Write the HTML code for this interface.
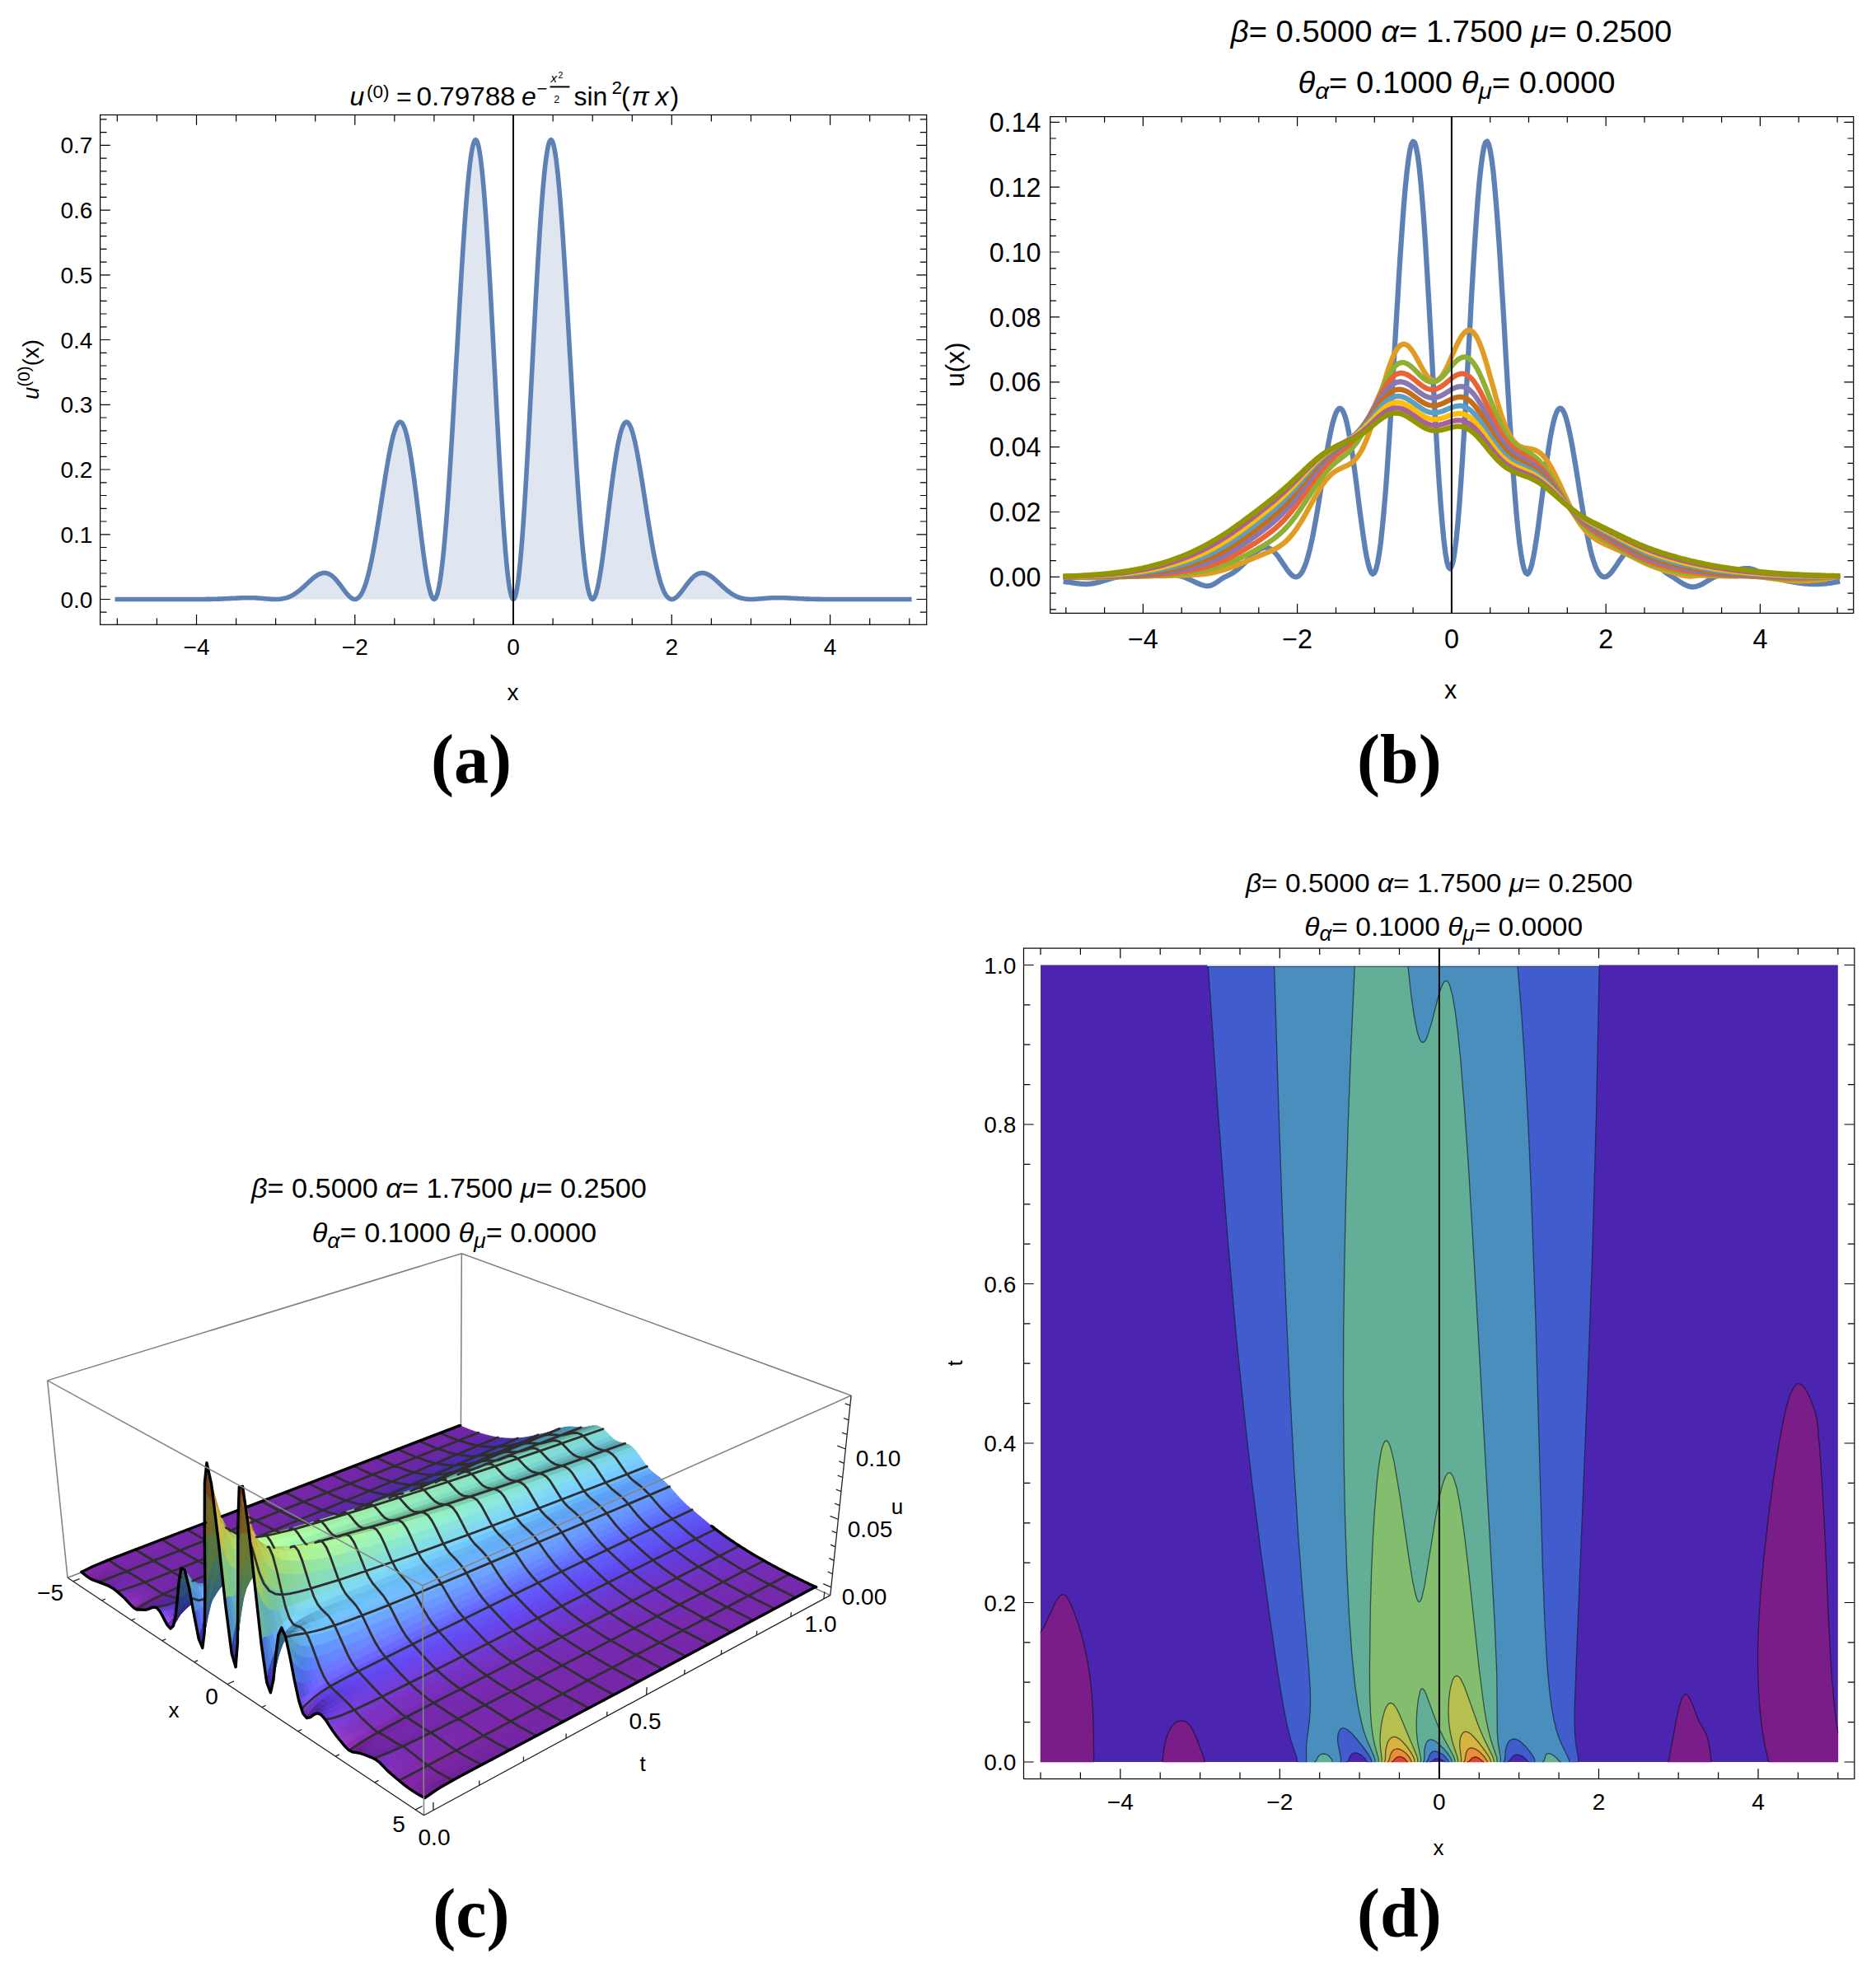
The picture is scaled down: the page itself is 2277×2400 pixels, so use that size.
<!DOCTYPE html>
<html><head><meta charset="utf-8"><title>Figure</title>
<style>html,body{margin:0;padding:0;background:#fff}svg{display:block}.sf path{fill:currentColor;stroke:currentColor;stroke-width:.9;stroke-linejoin:round}</style></head>
<body><svg width="2277" height="2400" viewBox="0 0 2277 2400">
<rect width="2277" height="2400" fill="#fff"/>
<path d="M142.3 727.5l1.3 0 1.2 0 1.2 0 1.2 0 1.2 0 1.2 0 1.2 0 1.2 0 1.2 0 1.2 0 1.2 0 1.2 0 1.2 0 1.2 0 1.2 0 1.2 0 1.2 0 1.2 0 1.2 0 1.2 0 1.2 0 1.2 0 1.2 0 1.2 0 1.2 0 1.2 0 1.2 0 1.2 0 1.2 0 1.2 0 1.2 0 1.2 0 1.2 0 1.2 0 1.2 0 1.2 0 1.2 0 1.2 0 1.2 0 1.2 0 1.2 0 1.2 0 1.2 0 1.2 0 1.2 0 1.2 0 1.2 0 1.2 0 1.2 0 1.2 0 1.2 0 1.2 0 1.2 0 1.2 0 1.2 0 1.2 0 1.2 0 1.3 0 1.2 0 1.2 0 1.2 0 1.2 0 1.2 0 1.2 0 1.2 0 1.2 0 1.2 0 1.2 0 1.2 0 1.2 0 1.2 0 1.2 0 1.2 0 1.2 0 1.2 0 1.2 0 1.2 0 1.2 0 1.2 0 1.2 0 1.2 0 1.2 0 1.2 0 1.2 0 1.2 0 1.2 0 1.2 0 1.2 0 1.2 0 1.2-0.1 1.2 0 1.2 0 1.2 0 1.2 0 1.2 0 1.2-0.1 1.2 0 1.2 0 1.2 0 1.2-0.1 1.2 0 1.2-0.1 1.2 0 1.2 0 1.2-0.1 1.2 0 1.2-0.1 1.2 0 1.2-0.1 1.2-0.1 1.2 0 1.2-0.1 1.2 0 1.2-0.1 1.3-0.1 1.2 0 1.2-0.1 1.2-0.1 1.2 0 1.2-0.1 1.2 0 1.2-0.1 1.2 0 1.2-0.1 1.2 0 1.2-0.1 1.2 0 1.2-0.1 1.2 0 1.2 0 1.2 0 1.2 0 1.2 0 1.2 0 1.2 0 1.2 0 1.2 0.1 1.2 0 1.2 0 1.2 0.1 1.2 0.1 1.2 0 1.2 0.1 1.2 0.1 1.2 0.1 1.2 0.1 1.2 0.1 1.2 0.1 1.2 0.1 1.2 0.1 1.2 0.1 1.2 0.1 1.2 0.1 1.2 0.1 1.2 0.1 1.2 0.1 1.2 0 1.2 0.1 1.2 0 1.2 0 1.2 0 1.2 0 1.2-0.1 1.2-0.1 1.2-0.1 1.2-0.2 1.2-0.2 1.2-0.2 1.2-0.3 1.2-0.3 1.2-0.3 1.3-0.4 1.2-0.5 1.2-0.5 1.2-0.5 1.2-0.6 1.2-0.6 1.2-0.7 1.2-0.8 1.2-0.8 1.2-0.8 1.2-0.9 1.2-0.9 1.2-0.9 1.2-1 1.2-1.1 1.2-1 1.2-1.1 1.2-1.1 1.2-1.1 1.2-1.1 1.2-1.1 1.2-1.2 1.2-1.1 1.2-1.1 1.2-1 1.2-1.1 1.2-1 1.2-0.9 1.2-0.9 1.2-0.8 1.2-0.8 1.2-0.7 1.2-0.6 1.2-0.5 1.2-0.4 1.2-0.3 1.2-0.2 1.2-0.1 1.2 0 1.2 0.2 1.2 0.3 1.2 0.4 1.2 0.5 1.2 0.6 1.2 0.8 1.2 0.9 1.2 1 1.2 1.1 1.2 1.2 1.2 1.3 1.2 1.4 1.2 1.5 1.2 1.5 1.2 1.6 1.2 1.6 1.2 1.6 1.2 1.7 1.3 1.6 1.2 1.6 1.2 1.5 1.2 1.5 1.2 1.4 1.2 1.2 1.2 1.1 1.2 1 1.2 0.8 1.2 0.6 1.2 0.4 1.2 0.1 1.2-0.1 1.2-0.5 1.2-0.7 1.2-1 1.2-1.4 1.2-1.7 1.2-2 1.2-2.5 1.2-2.8 1.2-3.2 1.2-3.5 1.2-4 1.2-4.3 1.2-4.7 1.2-5.1 1.2-5.5 1.2-5.7 1.2-6.1 1.2-6.4 1.2-6.7 1.2-7 1.2-7.1 1.2-7.4 1.2-7.5 1.2-7.7 1.2-7.7 1.2-7.8 1.2-7.8 1.2-7.7 1.2-7.6 1.2-7.5 1.2-7.3 1.2-7.1 1.2-6.7 1.2-6.5 1.2-6.1 1.2-5.6 1.2-5.2 1.2-4.7 1.2-4.1 1.2-3.5 1.2-2.9 1.2-2.2 1.2-1.6 1.2-0.9 1.3-0.1 1.2 0.6 1.2 1.3 1.2 2.1 1.2 2.8 1.2 3.6 1.2 4.3 1.2 5 1.2 5.6 1.2 6.3 1.2 7 1.2 7.5 1.2 8 1.2 8.4 1.2 8.9 1.2 9.2 1.2 9.5 1.2 9.6 1.2 9.8 1.2 9.9 1.2 9.8 1.2 9.7 1.2 9.5 1.2 9.1 1.2 8.8 1.2 8.4 1.2 7.7 1.2 7.2 1.2 6.4 1.2 5.6 1.2 4.7 1.2 3.8 1.2 2.8 1.2 1.7 1.2 0.6 1.2-0.6 1.2-1.8 1.2-3.1 1.2-4.3 1.2-5.6 1.2-6.9 1.2-8.2 1.2-9.5 1.2-10.8 1.2-11.9 1.2-13.2 1.2-14.3 1.2-15.4 1.2-16.4 1.2-17.4 1.2-18.2 1.2-19 1.2-19.6 1.2-20.3 1.2-20.6 1.2-21 1.2-21.2 1.3-21.3 1.2-21.2 1.2-21.1 1.2-20.8 1.2-20.3 1.2-19.8 1.2-19.1 1.2-18.2 1.2-17.3 1.2-16.2 1.2-15.1 1.2-13.8 1.2-12.4 1.2-10.9 1.2-9.4 1.2-7.8 1.2-6.1 1.2-4.3 1.2-2.6 1.2-0.8 1.2 1.1 1.2 2.8 1.2 4.7 1.2 6.5 1.2 8.2 1.2 9.9 1.2 11.6 1.2 13.2 1.2 14.6 1.2 16.1 1.2 17.3 1.2 18.6 1.2 19.6 1.2 20.5 1.2 21.3 1.2 22 1.2 22.5 1.2 22.8 1.2 23.1 1.2 23 1.2 23 1.2 22.6 1.2 22.3 1.2 21.6 1.2 20.9 1.2 20 1.2 18.9 1.2 17.8 1.2 16.5 1.2 15.1 1.2 13.6 1.2 12 1.2 10.2 1.2 8.5 1.2 6.7 1.2 4.8 1.2 2.9 1.2 1 1.3-1 1.2-2.9 1.2-4.8 1.2-6.7 1.2-8.5 1.2-10.2 1.2-12 1.2-13.6 1.2-15.1 1.2-16.5 1.2-17.8 1.2-18.9 1.2-20 1.2-20.9 1.2-21.6 1.2-22.3 1.2-22.6 1.2-23 1.2-23 1.2-23.1 1.2-22.8 1.2-22.5 1.2-22 1.2-21.3 1.2-20.5 1.2-19.6 1.2-18.6 1.2-17.3 1.2-16.1 1.2-14.6 1.2-13.2 1.2-11.6 1.2-9.9 1.2-8.2 1.2-6.5 1.2-4.7 1.2-2.8 1.2-1.1 1.2 0.8 1.2 2.6 1.2 4.3 1.2 6.1 1.2 7.8 1.2 9.4 1.2 10.9 1.2 12.4 1.2 13.8 1.2 15.1 1.2 16.2 1.2 17.3 1.2 18.2 1.2 19.1 1.2 19.8 1.2 20.3 1.2 20.8 1.2 21.1 1.2 21.2 1.3 21.3 1.2 21.2 1.2 21 1.2 20.6 1.2 20.3 1.2 19.6 1.2 19 1.2 18.2 1.2 17.4 1.2 16.4 1.2 15.4 1.2 14.3 1.2 13.2 1.2 11.9 1.2 10.8 1.2 9.5 1.2 8.2 1.2 6.9 1.2 5.6 1.2 4.3 1.2 3.1 1.2 1.8 1.2 0.6 1.2-0.6 1.2-1.7 1.2-2.8 1.2-3.8 1.2-4.7 1.2-5.6 1.2-6.4 1.2-7.2 1.2-7.7 1.2-8.4 1.2-8.8 1.2-9.1 1.2-9.5 1.2-9.7 1.2-9.8 1.2-9.9 1.2-9.8 1.2-9.6 1.2-9.5 1.2-9.2 1.2-8.9 1.2-8.4 1.2-8 1.2-7.5 1.2-7 1.2-6.3 1.2-5.6 1.2-5 1.2-4.3 1.2-3.6 1.2-2.8 1.2-2.1 1.2-1.3 1.2-0.6 1.3 0.1 1.2 0.9 1.2 1.6 1.2 2.2 1.2 2.9 1.2 3.5 1.2 4.1 1.2 4.7 1.2 5.2 1.2 5.6 1.2 6.1 1.2 6.5 1.2 6.7 1.2 7.1 1.2 7.3 1.2 7.5 1.2 7.6 1.2 7.7 1.2 7.8 1.2 7.8 1.2 7.7 1.2 7.7 1.2 7.5 1.2 7.4 1.2 7.1 1.2 7 1.2 6.7 1.2 6.4 1.2 6.1 1.2 5.7 1.2 5.5 1.2 5.1 1.2 4.7 1.2 4.3 1.2 4 1.2 3.5 1.2 3.2 1.2 2.8 1.2 2.5 1.2 2 1.2 1.7 1.2 1.4 1.2 1 1.2 0.7 1.2 0.5 1.2 0.1 1.2-0.1 1.2-0.4 1.2-0.6 1.2-0.8 1.2-1 1.2-1.1 1.2-1.2 1.2-1.4 1.2-1.5 1.2-1.5 1.2-1.6 1.3-1.6 1.2-1.7 1.2-1.6 1.2-1.6 1.2-1.6 1.2-1.5 1.2-1.5 1.2-1.4 1.2-1.3 1.2-1.2 1.2-1.1 1.2-1 1.2-0.9 1.2-0.8 1.2-0.6 1.2-0.5 1.2-0.4 1.2-0.3 1.2-0.2 1.2 0 1.2 0.1 1.2 0.2 1.2 0.3 1.2 0.4 1.2 0.5 1.2 0.6 1.2 0.7 1.2 0.8 1.2 0.8 1.2 0.9 1.2 0.9 1.2 1 1.2 1.1 1.2 1 1.2 1.1 1.2 1.1 1.2 1.2 1.2 1.1 1.2 1.1 1.2 1.1 1.2 1.1 1.2 1.1 1.2 1 1.2 1.1 1.2 1 1.2 0.9 1.2 0.9 1.2 0.9 1.2 0.8 1.2 0.8 1.2 0.8 1.2 0.7 1.2 0.6 1.2 0.6 1.2 0.5 1.2 0.5 1.2 0.5 1.3 0.4 1.2 0.3 1.2 0.3 1.2 0.3 1.2 0.2 1.2 0.2 1.2 0.2 1.2 0.1 1.2 0.1 1.2 0.1 1.2 0 1.2 0 1.2 0 1.2 0 1.2-0.1 1.2 0 1.2-0.1 1.2-0.1 1.2-0.1 1.2-0.1 1.2-0.1 1.2-0.1 1.2-0.1 1.2-0.1 1.2-0.1 1.2-0.1 1.2-0.1 1.2-0.1 1.2-0.1 1.2-0.1 1.2 0 1.2-0.1 1.2-0.1 1.2 0 1.2 0 1.2-0.1 1.2 0 1.2 0 1.2 0 1.2 0 1.2 0 1.2 0 1.2 0 1.2 0 1.2 0.1 1.2 0 1.2 0.1 1.2 0 1.2 0.1 1.2 0 1.2 0.1 1.2 0 1.2 0.1 1.2 0 1.2 0.1 1.2 0.1 1.2 0 1.3 0.1 1.2 0.1 1.2 0 1.2 0.1 1.2 0 1.2 0.1 1.2 0.1 1.2 0 1.2 0.1 1.2 0 1.2 0.1 1.2 0 1.2 0 1.2 0.1 1.2 0 1.2 0.1 1.2 0 1.2 0 1.2 0 1.2 0.1 1.2 0 1.2 0 1.2 0 1.2 0 1.2 0 1.2 0.1 1.2 0 1.2 0 1.2 0 1.2 0 1.2 0 1.2 0 1.2 0 1.2 0 1.2 0 1.2 0 1.2 0 1.2 0 1.2 0 1.2 0 1.2 0 1.2 0 1.2 0 1.2 0 1.2 0 1.2 0 1.2 0 1.2 0 1.2 0 1.2 0 1.2 0 1.2 0 1.2 0 1.2 0 1.2 0 1.2 0 1.2 0 1.3 0 1.2 0 1.2 0 1.2 0 1.2 0 1.2 0 1.2 0 1.2 0 1.2 0 1.2 0 1.2 0 1.2 0 1.2 0 1.2 0 1.2 0 1.2 0 1.2 0 1.2 0 1.2 0 1.2 0 1.2 0 1.2 0 1.2 0 1.2 0 1.2 0 1.2 0 1.2 0 1.2 0 1.2 0 1.2 0 1.2 0 1.2 0 1.2 0 1.2 0 1.2 0 1.2 0 1.2 0 1.2 0 1.2 0 1.2 0 1.2 0 1.2 0 1.2 0 1.2 0 1.2 0 1.2 0 1.2 0 1.2 0 1.2 0 1.2 0 1.2 0 1.2 0 1.2 0 1.2 0 1.2 0 1.2 0 1.2 0 1.2 0z" fill="#5E81B5" fill-opacity="0.2"/>
<path d="M142.3 727.5l1.3 0 1.2 0 1.2 0 1.2 0 1.2 0 1.2 0 1.2 0 1.2 0 1.2 0 1.2 0 1.2 0 1.2 0 1.2 0 1.2 0 1.2 0 1.2 0 1.2 0 1.2 0 1.2 0 1.2 0 1.2 0 1.2 0 1.2 0 1.2 0 1.2 0 1.2 0 1.2 0 1.2 0 1.2 0 1.2 0 1.2 0 1.2 0 1.2 0 1.2 0 1.2 0 1.2 0 1.2 0 1.2 0 1.2 0 1.2 0 1.2 0 1.2 0 1.2 0 1.2 0 1.2 0 1.2 0 1.2 0 1.2 0 1.2 0 1.2 0 1.2 0 1.2 0 1.2 0 1.2 0 1.2 0 1.2 0 1.2 0 1.3 0 1.2 0 1.2 0 1.2 0 1.2 0 1.2 0 1.2 0 1.2 0 1.2 0 1.2 0 1.2 0 1.2 0 1.2 0 1.2 0 1.2 0 1.2 0 1.2 0 1.2 0 1.2 0 1.2 0 1.2 0 1.2 0 1.2 0 1.2 0 1.2 0 1.2 0 1.2 0 1.2 0 1.2 0 1.2 0 1.2 0 1.2 0 1.2-0.1 1.2 0 1.2 0 1.2 0 1.2 0 1.2 0 1.2-0.1 1.2 0 1.2 0 1.2 0 1.2-0.1 1.2 0 1.2-0.1 1.2 0 1.2 0 1.2-0.1 1.2 0 1.2-0.1 1.2 0 1.2-0.1 1.2-0.1 1.2 0 1.2-0.1 1.2 0 1.2-0.1 1.3-0.1 1.2 0 1.2-0.1 1.2-0.1 1.2 0 1.2-0.1 1.2 0 1.2-0.1 1.2 0 1.2-0.1 1.2 0 1.2-0.1 1.2 0 1.2-0.1 1.2 0 1.2 0 1.2 0 1.2 0 1.2 0 1.2 0 1.2 0 1.2 0 1.2 0.1 1.2 0 1.2 0 1.2 0.1 1.2 0.1 1.2 0 1.2 0.1 1.2 0.1 1.2 0.1 1.2 0.1 1.2 0.1 1.2 0.1 1.2 0.1 1.2 0.1 1.2 0.1 1.2 0.1 1.2 0.1 1.2 0.1 1.2 0.1 1.2 0.1 1.2 0 1.2 0.1 1.2 0 1.2 0 1.2 0 1.2 0 1.2-0.1 1.2-0.1 1.2-0.1 1.2-0.2 1.2-0.2 1.2-0.2 1.2-0.3 1.2-0.3 1.2-0.3 1.3-0.4 1.2-0.5 1.2-0.5 1.2-0.5 1.2-0.6 1.2-0.6 1.2-0.7 1.2-0.8 1.2-0.8 1.2-0.8 1.2-0.9 1.2-0.9 1.2-0.9 1.2-1 1.2-1.1 1.2-1 1.2-1.1 1.2-1.1 1.2-1.1 1.2-1.1 1.2-1.1 1.2-1.2 1.2-1.1 1.2-1.1 1.2-1 1.2-1.1 1.2-1 1.2-0.9 1.2-0.9 1.2-0.8 1.2-0.8 1.2-0.7 1.2-0.6 1.2-0.5 1.2-0.4 1.2-0.3 1.2-0.2 1.2-0.1 1.2 0 1.2 0.2 1.2 0.3 1.2 0.4 1.2 0.5 1.2 0.6 1.2 0.8 1.2 0.9 1.2 1 1.2 1.1 1.2 1.2 1.2 1.3 1.2 1.4 1.2 1.5 1.2 1.5 1.2 1.6 1.2 1.6 1.2 1.6 1.2 1.7 1.3 1.6 1.2 1.6 1.2 1.5 1.2 1.5 1.2 1.4 1.2 1.2 1.2 1.1 1.2 1 1.2 0.8 1.2 0.6 1.2 0.4 1.2 0.1 1.2-0.1 1.2-0.5 1.2-0.7 1.2-1 1.2-1.4 1.2-1.7 1.2-2 1.2-2.5 1.2-2.8 1.2-3.2 1.2-3.5 1.2-4 1.2-4.3 1.2-4.7 1.2-5.1 1.2-5.5 1.2-5.7 1.2-6.1 1.2-6.4 1.2-6.7 1.2-7 1.2-7.1 1.2-7.4 1.2-7.5 1.2-7.7 1.2-7.7 1.2-7.8 1.2-7.8 1.2-7.7 1.2-7.6 1.2-7.5 1.2-7.3 1.2-7.1 1.2-6.7 1.2-6.5 1.2-6.1 1.2-5.6 1.2-5.2 1.2-4.7 1.2-4.1 1.2-3.5 1.2-2.9 1.2-2.2 1.2-1.6 1.2-0.9 1.3-0.1 1.2 0.6 1.2 1.3 1.2 2.1 1.2 2.8 1.2 3.6 1.2 4.3 1.2 5 1.2 5.6 1.2 6.3 1.2 7 1.2 7.5 1.2 8 1.2 8.4 1.2 8.9 1.2 9.2 1.2 9.5 1.2 9.6 1.2 9.8 1.2 9.9 1.2 9.8 1.2 9.7 1.2 9.5 1.2 9.1 1.2 8.8 1.2 8.4 1.2 7.7 1.2 7.2 1.2 6.4 1.2 5.6 1.2 4.7 1.2 3.8 1.2 2.8 1.2 1.7 1.2 0.6 1.2-0.6 1.2-1.8 1.2-3.1 1.2-4.3 1.2-5.6 1.2-6.9 1.2-8.2 1.2-9.5 1.2-10.8 1.2-11.9 1.2-13.2 1.2-14.3 1.2-15.4 1.2-16.4 1.2-17.4 1.2-18.2 1.2-19 1.2-19.6 1.2-20.3 1.2-20.6 1.2-21 1.2-21.2 1.3-21.3 1.2-21.2 1.2-21.1 1.2-20.8 1.2-20.3 1.2-19.8 1.2-19.1 1.2-18.2 1.2-17.3 1.2-16.2 1.2-15.1 1.2-13.8 1.2-12.4 1.2-10.9 1.2-9.4 1.2-7.8 1.2-6.1 1.2-4.3 1.2-2.6 1.2-0.8 1.2 1.1 1.2 2.8 1.2 4.7 1.2 6.5 1.2 8.2 1.2 9.9 1.2 11.6 1.2 13.2 1.2 14.6 1.2 16.1 1.2 17.3 1.2 18.6 1.2 19.6 1.2 20.5 1.2 21.3 1.2 22 1.2 22.5 1.2 22.8 1.2 23.1 1.2 23 1.2 23 1.2 22.6 1.2 22.3 1.2 21.6 1.2 20.9 1.2 20 1.2 18.9 1.2 17.8 1.2 16.5 1.2 15.1 1.2 13.6 1.2 12 1.2 10.2 1.2 8.5 1.2 6.7 1.2 4.8 1.2 2.9 1.2 1 1.3-1 1.2-2.9 1.2-4.8 1.2-6.7 1.2-8.5 1.2-10.2 1.2-12 1.2-13.6 1.2-15.1 1.2-16.5 1.2-17.8 1.2-18.9 1.2-20 1.2-20.9 1.2-21.6 1.2-22.3 1.2-22.6 1.2-23 1.2-23 1.2-23.1 1.2-22.8 1.2-22.5 1.2-22 1.2-21.3 1.2-20.5 1.2-19.6 1.2-18.6 1.2-17.3 1.2-16.1 1.2-14.6 1.2-13.2 1.2-11.6 1.2-9.9 1.2-8.2 1.2-6.5 1.2-4.7 1.2-2.8 1.2-1.1 1.2 0.8 1.2 2.6 1.2 4.3 1.2 6.1 1.2 7.8 1.2 9.4 1.2 10.9 1.2 12.4 1.2 13.8 1.2 15.1 1.2 16.2 1.2 17.3 1.2 18.2 1.2 19.1 1.2 19.8 1.2 20.3 1.2 20.8 1.2 21.1 1.2 21.2 1.3 21.3 1.2 21.2 1.2 21 1.2 20.6 1.2 20.3 1.2 19.6 1.2 19 1.2 18.2 1.2 17.4 1.2 16.4 1.2 15.4 1.2 14.3 1.2 13.2 1.2 11.9 1.2 10.8 1.2 9.5 1.2 8.2 1.2 6.9 1.2 5.6 1.2 4.3 1.2 3.1 1.2 1.8 1.2 0.6 1.2-0.6 1.2-1.7 1.2-2.8 1.2-3.8 1.2-4.7 1.2-5.6 1.2-6.4 1.2-7.2 1.2-7.7 1.2-8.4 1.2-8.8 1.2-9.1 1.2-9.5 1.2-9.7 1.2-9.8 1.2-9.9 1.2-9.8 1.2-9.6 1.2-9.5 1.2-9.2 1.2-8.9 1.2-8.4 1.2-8 1.2-7.5 1.2-7 1.2-6.3 1.2-5.6 1.2-5 1.2-4.3 1.2-3.6 1.2-2.8 1.2-2.1 1.2-1.3 1.2-0.6 1.3 0.1 1.2 0.9 1.2 1.6 1.2 2.2 1.2 2.9 1.2 3.5 1.2 4.1 1.2 4.7 1.2 5.2 1.2 5.6 1.2 6.1 1.2 6.5 1.2 6.7 1.2 7.1 1.2 7.3 1.2 7.5 1.2 7.6 1.2 7.7 1.2 7.8 1.2 7.8 1.2 7.7 1.2 7.7 1.2 7.5 1.2 7.4 1.2 7.1 1.2 7 1.2 6.7 1.2 6.4 1.2 6.1 1.2 5.7 1.2 5.5 1.2 5.1 1.2 4.7 1.2 4.3 1.2 4 1.2 3.5 1.2 3.2 1.2 2.8 1.2 2.5 1.2 2 1.2 1.7 1.2 1.4 1.2 1 1.2 0.7 1.2 0.5 1.2 0.1 1.2-0.1 1.2-0.4 1.2-0.6 1.2-0.8 1.2-1 1.2-1.1 1.2-1.2 1.2-1.4 1.2-1.5 1.2-1.5 1.2-1.6 1.3-1.6 1.2-1.7 1.2-1.6 1.2-1.6 1.2-1.6 1.2-1.5 1.2-1.5 1.2-1.4 1.2-1.3 1.2-1.2 1.2-1.1 1.2-1 1.2-0.9 1.2-0.8 1.2-0.6 1.2-0.5 1.2-0.4 1.2-0.3 1.2-0.2 1.2 0 1.2 0.1 1.2 0.2 1.2 0.3 1.2 0.4 1.2 0.5 1.2 0.6 1.2 0.7 1.2 0.8 1.2 0.8 1.2 0.9 1.2 0.9 1.2 1 1.2 1.1 1.2 1 1.2 1.1 1.2 1.1 1.2 1.2 1.2 1.1 1.2 1.1 1.2 1.1 1.2 1.1 1.2 1.1 1.2 1 1.2 1.1 1.2 1 1.2 0.9 1.2 0.9 1.2 0.9 1.2 0.8 1.2 0.8 1.2 0.8 1.2 0.7 1.2 0.6 1.2 0.6 1.2 0.5 1.2 0.5 1.2 0.5 1.3 0.4 1.2 0.3 1.2 0.3 1.2 0.3 1.2 0.2 1.2 0.2 1.2 0.2 1.2 0.1 1.2 0.1 1.2 0.1 1.2 0 1.2 0 1.2 0 1.2 0 1.2-0.1 1.2 0 1.2-0.1 1.2-0.1 1.2-0.1 1.2-0.1 1.2-0.1 1.2-0.1 1.2-0.1 1.2-0.1 1.2-0.1 1.2-0.1 1.2-0.1 1.2-0.1 1.2-0.1 1.2-0.1 1.2 0 1.2-0.1 1.2-0.1 1.2 0 1.2 0 1.2-0.1 1.2 0 1.2 0 1.2 0 1.2 0 1.2 0 1.2 0 1.2 0 1.2 0 1.2 0.1 1.2 0 1.2 0.1 1.2 0 1.2 0.1 1.2 0 1.2 0.1 1.2 0 1.2 0.1 1.2 0 1.2 0.1 1.2 0.1 1.2 0 1.3 0.1 1.2 0.1 1.2 0 1.2 0.1 1.2 0 1.2 0.1 1.2 0.1 1.2 0 1.2 0.1 1.2 0 1.2 0.1 1.2 0 1.2 0 1.2 0.1 1.2 0 1.2 0.1 1.2 0 1.2 0 1.2 0 1.2 0.1 1.2 0 1.2 0 1.2 0 1.2 0 1.2 0 1.2 0.1 1.2 0 1.2 0 1.2 0 1.2 0 1.2 0 1.2 0 1.2 0 1.2 0 1.2 0 1.2 0 1.2 0 1.2 0 1.2 0 1.2 0 1.2 0 1.2 0 1.2 0 1.2 0 1.2 0 1.2 0 1.2 0 1.2 0 1.2 0 1.2 0 1.2 0 1.2 0 1.2 0 1.2 0 1.2 0 1.2 0 1.2 0 1.3 0 1.2 0 1.2 0 1.2 0 1.2 0 1.2 0 1.2 0 1.2 0 1.2 0 1.2 0 1.2 0 1.2 0 1.2 0 1.2 0 1.2 0 1.2 0 1.2 0 1.2 0 1.2 0 1.2 0 1.2 0 1.2 0 1.2 0 1.2 0 1.2 0 1.2 0 1.2 0 1.2 0 1.2 0 1.2 0 1.2 0 1.2 0 1.2 0 1.2 0 1.2 0 1.2 0 1.2 0 1.2 0 1.2 0 1.2 0 1.2 0 1.2 0 1.2 0 1.2 0 1.2 0 1.2 0 1.2 0 1.2 0 1.2 0 1.2 0 1.2 0 1.2 0 1.2 0 1.2 0 1.2 0 1.2 0 1.2 0 1.2 0" fill="none" stroke="#5E81B5" stroke-width="5.6" stroke-linejoin="round" stroke-linecap="square"/>
<path d="M623.0 139.5V758.3" stroke="#000" stroke-width="2"/>
<path d="M238.5 758.3v-12.2M238.5 139.5v12.2M430.8 758.3v-12.2M430.8 139.5v12.2M623.0 758.3v-12.2M623.0 139.5v12.2M815.3 758.3v-12.2M815.3 139.5v12.2M1007.6 758.3v-12.2M1007.6 139.5v12.2M142.3 758.3v-7.9M142.3 139.5v7.9M190.4 758.3v-7.9M190.4 139.5v7.9M286.6 758.3v-7.9M286.6 139.5v7.9M334.6 758.3v-7.9M334.6 139.5v7.9M382.7 758.3v-7.9M382.7 139.5v7.9M478.8 758.3v-7.9M478.8 139.5v7.9M526.9 758.3v-7.9M526.9 139.5v7.9M575.0 758.3v-7.9M575.0 139.5v7.9M671.1 758.3v-7.9M671.1 139.5v7.9M719.2 758.3v-7.9M719.2 139.5v7.9M767.3 758.3v-7.9M767.3 139.5v7.9M863.4 758.3v-7.9M863.4 139.5v7.9M911.5 758.3v-7.9M911.5 139.5v7.9M959.5 758.3v-7.9M959.5 139.5v7.9M1055.7 758.3v-7.9M1055.7 139.5v7.9M1103.8 758.3v-7.9M1103.8 139.5v7.9M121.6 727.5h12.2M1124.7 727.5h-12.2M121.6 648.8h12.2M1124.7 648.8h-12.2M121.6 570.0h12.2M1124.7 570.0h-12.2M121.6 491.3h12.2M1124.7 491.3h-12.2M121.6 412.5h12.2M1124.7 412.5h-12.2M121.6 333.8h12.2M1124.7 333.8h-12.2M121.6 255.1h12.2M1124.7 255.1h-12.2M121.6 176.3h12.2M1124.7 176.3h-12.2M121.6 743.2h7.9M1124.7 743.2h-7.9M121.6 711.8h7.9M1124.7 711.8h-7.9M121.6 696.0h7.9M1124.7 696.0h-7.9M121.6 680.3h7.9M1124.7 680.3h-7.9M121.6 664.5h7.9M1124.7 664.5h-7.9M121.6 633.0h7.9M1124.7 633.0h-7.9M121.6 617.3h7.9M1124.7 617.3h-7.9M121.6 601.5h7.9M1124.7 601.5h-7.9M121.6 585.8h7.9M1124.7 585.8h-7.9M121.6 554.3h7.9M1124.7 554.3h-7.9M121.6 538.5h7.9M1124.7 538.5h-7.9M121.6 522.8h7.9M1124.7 522.8h-7.9M121.6 507.0h7.9M1124.7 507.0h-7.9M121.6 475.5h7.9M1124.7 475.5h-7.9M121.6 459.8h7.9M1124.7 459.8h-7.9M121.6 444.0h7.9M1124.7 444.0h-7.9M121.6 428.3h7.9M1124.7 428.3h-7.9M121.6 396.8h7.9M1124.7 396.8h-7.9M121.6 381.0h7.9M1124.7 381.0h-7.9M121.6 365.3h7.9M1124.7 365.3h-7.9M121.6 349.5h7.9M1124.7 349.5h-7.9M121.6 318.1h7.9M1124.7 318.1h-7.9M121.6 302.3h7.9M1124.7 302.3h-7.9M121.6 286.6h7.9M1124.7 286.6h-7.9M121.6 270.8h7.9M1124.7 270.8h-7.9M121.6 239.3h7.9M1124.7 239.3h-7.9M121.6 223.6h7.9M1124.7 223.6h-7.9M121.6 207.8h7.9M1124.7 207.8h-7.9M121.6 192.1h7.9M1124.7 192.1h-7.9M121.6 160.6h7.9M1124.7 160.6h-7.9M121.6 144.8h7.9M1124.7 144.8h-7.9" stroke="#000" stroke-width="1.20" fill="none"/>
<rect x="121.6" y="139.5" width="1003.1" height="618.8" fill="none" stroke="#000" stroke-width="1.20"/>
<g font-family="Liberation Sans, sans-serif" font-size="28.0" text-anchor="middle">
<text x="238.5" y="795.3">−4</text>
<text x="430.8" y="795.3">−2</text>
<text x="623.0" y="795.3">0</text>
<text x="815.3" y="795.3">2</text>
<text x="1007.6" y="795.3">4</text>
</g>
<g font-family="Liberation Sans, sans-serif" font-size="28.0" text-anchor="end">
<text x="112.4" y="737.5">0.0</text>
<text x="112.4" y="658.8">0.1</text>
<text x="112.4" y="580.0">0.2</text>
<text x="112.4" y="501.3">0.3</text>
<text x="112.4" y="422.6">0.4</text>
<text x="112.4" y="343.8">0.5</text>
<text x="112.4" y="265.1">0.6</text>
<text x="112.4" y="186.3">0.7</text>
</g>
<text x="622.5" y="850" font-family="Liberation Sans, sans-serif" font-size="28" text-anchor="middle">x</text>
<text transform="translate(47.2 448.5) rotate(-90)" font-family="Liberation Sans, sans-serif" font-size="27.7" text-anchor="middle"><tspan font-style="italic">u</tspan><tspan dy="-11" font-size="20.6">(0)</tspan><tspan dy="11">(x)</tspan></text>
<text x="424.5" y="128.2" font-family="Liberation Sans, sans-serif" font-size="32.0" font-style="italic">u</text>
<text x="445.0" y="118.6" font-family="Liberation Sans, sans-serif" font-size="22.5">(0)</text>
<text x="481.0" y="128.2" font-family="Liberation Sans, sans-serif" font-size="32.0">=</text>
<text transform="translate(505.4 128.2) scale(1.04 1)" font-family="Liberation Sans, sans-serif" font-size="32">0.79788</text>
<text x="633.0" y="128.2" font-family="Liberation Sans, sans-serif" font-size="32.0" font-style="italic">e</text>
<text x="651.5" y="114.5" font-family="Liberation Sans, sans-serif" font-size="22.0">−</text>
<text x="668.6" y="99.9" font-family="Liberation Sans, sans-serif" font-size="15.0" font-style="italic">x</text>
<text x="677.6" y="94.6" font-family="Liberation Sans, sans-serif" font-size="10.5">2</text>
<path d="M667.5 105.4H691.4" stroke="#000" stroke-width="2"/>
<text x="672.2" y="124.6" font-family="Liberation Sans, sans-serif" font-size="12.5">2</text>
<text x="696.5" y="128.2" font-family="Liberation Sans, sans-serif" font-size="32.0">sin</text>
<text x="742.5" y="113.8" font-family="Liberation Sans, sans-serif" font-size="22.5">2</text>
<text x="754.0" y="128.2" font-family="Liberation Sans, sans-serif" font-size="32.0">(</text>
<text x="766.5" y="128.2" font-family="Liberation Sans, sans-serif" font-size="32.0" font-style="italic">π</text>
<text x="795.5" y="128.2" font-family="Liberation Sans, sans-serif" font-size="32.0" font-style="italic">x</text>
<text x="813.5" y="128.2" font-family="Liberation Sans, sans-serif" font-size="32.0">)</text>
<path d="M1293.8 706.3l1.8 0.2 1.9 0.2 1.9 0.3 1.8 0.3 1.9 0.2 1.9 0.3 1.9 0.3 1.8 0.3 1.9 0.2 1.9 0.2 1.8 0.1 1.9 0.1 1.9 0.1 1.9-0.1 1.8-0.1 1.9-0.2 1.9-0.2 1.9-0.4 1.8-0.3 1.9-0.5 1.9-0.4 1.8-0.5 1.9-0.5 1.9-0.6 1.9-0.5 1.8-0.6 1.9-0.6 1.9-0.5 1.9-0.6 1.8-0.5 1.9-0.5 1.9-0.5 1.8-0.4 1.9-0.4 1.9-0.5 1.9-0.4 1.8-0.5 1.9-0.4 1.9-0.5 1.9-0.5 1.8-0.5 1.9-0.5 1.9-0.4 1.8-0.5 1.9-0.4 1.9-0.5 1.9-0.4 1.8-0.3 1.9-0.4 1.9-0.3 1.9-0.2 1.8-0.2 1.9-0.2 1.9-0.1 1.8 0 1.9 0 1.9 0.1 1.9 0.1 1.8 0.2 1.9 0.3 1.9 0.3 1.9 0.3 1.8 0.4 1.9 0.4 1.9 0.4 1.8 0.4 1.9 0.5 1.9 0.5 1.9 0.4 1.8 0.5 1.9 0.5 1.9 0.4 1.8 0.5 1.9 0.4 1.9 0.5 1.9 0.6 1.8 0.6 1.9 0.8 1.9 0.8 1.9 0.9 1.8 0.8 1.9 0.9 1.9 1 1.8 0.8 1.9 0.9 1.9 0.8 1.9 0.8 1.8 0.6 1.9 0.6 1.9 0.5 1.9 0.3 1.8 0.1 1.9-0.2 1.9-0.5 1.8-0.8 1.9-0.9 1.9-1.2 1.9-1.2 1.8-1.3 1.9-1.3 1.9-1.3 1.9-1.2 1.8-1.1 1.9-0.8 1.9-0.9 1.8-0.9 1.9-1 1.9-1.1 1.9-1.2 1.8-1.4 1.9-1.4 1.9-1.5 1.9-1.7 1.8-1.7 1.9-1.8 1.9-1.8 1.8-1.9 1.9-1.9 1.9-1.9 1.9-1.9 1.8-1.8 1.9-1.8 1.9-1.6 1.9-1.5 1.8-1.3 1.9-1.1 1.9-0.8 1.8-0.7 1.9-0.3 1.9 0 1.9 0.4 1.8 0.7 1.9 1.1 1.9 1.4 1.9 1.7 1.8 2 1.9 2.2 1.9 2.5 1.8 2.7 1.9 2.8 1.9 2.8 1.9 2.8 1.8 2.8 1.9 2.5 1.9 2.3 1.8 2 1.9 1.6 1.9 1 1.9 0.4 1.8-0.3 1.9-1.1 1.9-1.8 1.9-2.6 1.8-3.6 1.9-4.4 1.9-5.4 1.8-6.3 1.9-7.2 1.9-8.1 1.9-8.9 1.8-9.7 1.9-10.4 1.9-10.9 1.9-11.4 1.8-11.6 1.9-11.8 1.9-11.8 1.8-11.6 1.9-11.2 1.9-10.6 1.9-9.8 1.8-9 1.9-7.8 1.9-6.5 1.9-5.1 1.8-3.6 1.9-1.9 1.9-0.2 1.8 1.6 1.9 3.4 1.9 5.1 1.9 6.9 1.8 8.6 1.9 10 1.9 11.4 1.9 12.6 1.8 13.6 1.9 14.2 1.9 14.6 1.8 14.8 1.9 14.5 1.9 14 1.9 13.2 1.8 11.9 1.9 10.4 1.9 8.5 1.9 6.4 1.8 4 1.9 1.4 1.9-1.5 1.8-4.4 1.9-7.5 1.9-10.6 1.9-13.7 1.8-16.8 1.9-19.6 1.9-22.4 1.9-24.9 1.8-27 1.9-28.9 1.9-30.4 1.8-31.4 1.9-31.9 1.9-32.1 1.9-31.6 1.8-30.7 1.9-29.3 1.9-27.3 1.8-25 1.9-22.1 1.9-18.9 1.9-15.3 1.8-11.5 1.9-7.3 1.9-3.1 1.9 1.3 1.8 5.7 1.9 9.9 1.9 14.1 1.8 18.1 1.9 21.8 1.9 25 1.9 28 1.8 30.3 1.9 32.3 1.9 33.6 1.9 34.4 1.8 34.4 1.9 34 1.9 33 1.8 31.2 1.9 29 1.9 26.2 1.9 22.9 1.8 19.3 1.9 15.2 1.9 10.9 1.9 6.4 1.8 1.7 1.9-3 1.9-6.3 1.8-10.9 1.9-15.2 1.9-19.3 1.9-22.9 1.8-26.1 1.9-29 1.9-31.2 1.9-32.8 1.8-34 1.9-34.4 1.9-34.3 1.8-33.6 1.9-32.2 1.9-30.3 1.9-27.9 1.8-25 1.9-21.6 1.9-18 1.9-14.1 1.8-9.9 1.9-5.5 1.9-1.3 1.8 3.2 1.9 7.4 1.9 11.5 1.9 15.3 1.8 19 1.9 22.1 1.9 25 1.9 27.4 1.8 29.3 1.9 30.7 1.9 31.6 1.8 32.1 1.9 32 1.9 31.3 1.9 30.4 1.8 28.9 1.9 27 1.9 24.9 1.8 22.3 1.9 19.7 1.9 16.7 1.9 13.6 1.8 10.6 1.9 7.5 1.9 4.3 1.9 1.5 1.8-1.4 1.9-4.1 1.9-6.4 1.8-8.6 1.9-10.4 1.9-11.9 1.9-13.2 1.8-14 1.9-14.6 1.9-14.7 1.9-14.7 1.8-14.2 1.9-13.6 1.9-12.6 1.8-11.4 1.9-10 1.9-8.6 1.9-6.8 1.8-5.2 1.9-3.3 1.9-1.6 1.9 0.2 1.8 2 1.9 3.6 1.9 5.1 1.8 6.5 1.9 7.8 1.9 9 1.9 9.8 1.8 10.6 1.9 11.2 1.9 11.6 1.9 11.8 1.8 11.8 1.9 11.7 1.9 11.3 1.8 11 1.9 10.3 1.9 9.7 1.9 8.9 1.8 8.2 1.9 7.2 1.9 6.3 1.9 5.4 1.8 4.4 1.9 3.5 1.9 2.7 1.8 1.8 1.9 1.1 1.9 0.3 1.9-0.3 1.8-0.9 1.9-1.4 1.9-1.9 1.9-2.2 1.8-2.5 1.9-2.7 1.9-2.8 1.8-2.8 1.9-2.8 1.9-2.6 1.9-2.5 1.8-2.3 1.9-2 1.9-1.8 1.8-1.4 1.9-1.2 1.9-0.8 1.9-0.4 1.8-0.1 1.9 0.2 1.9 0.5 1.9 0.8 1.8 1 1.9 1.3 1.9 1.5 1.8 1.6 1.9 1.8 1.9 1.9 1.9 1.9 1.8 2 1.9 1.9 1.9 2 1.9 1.9 1.8 1.9 1.9 1.8 1.9 1.7 1.8 1.6 1.9 1.5 1.9 1.5 1.9 1.3 1.8 1.1 1.9 1.1 1.9 1.2 1.9 1.2 1.8 1.3 1.9 1.3 1.9 1.2 1.8 1.3 1.9 1.2 1.9 1.1 1.9 1 1.8 0.9 1.9 0.8 1.9 0.6 1.9 0.4 1.8 0.2 1.9 0 1.9-0.3 1.8-0.5 1.9-0.6 1.9-0.8 1.9-0.9 1.8-1 1.9-1.1 1.9-1.1 1.9-1.2 1.8-1.1 1.9-1.1 1.9-1 1.8-1 1.9-0.8 1.9-0.7 1.9-0.6 1.8-0.6 1.9-0.6 1.9-0.6 1.9-0.6 1.8-0.7 1.9-0.6 1.9-0.6 1.8-0.6 1.9-0.5 1.9-0.6 1.9-0.5 1.8-0.4 1.9-0.5 1.9-0.3 1.8-0.4 1.9-0.2 1.9-0.2 1.9-0.1 1.8 0 1.9 0.1 1.9 0.3 1.9 0.5 1.8 0.7 1.9 0.8 1.9 0.8 1.8 0.9 1.9 1 1.9 0.9 1.9 1 1.8 0.9 1.9 0.8 1.9 0.7 1.9 0.6 1.8 0.5 1.9 0.4 1.9 0.5 1.8 0.4 1.9 0.5 1.9 0.4 1.9 0.4 1.8 0.5 1.9 0.4 1.9 0.4 1.9 0.4 1.8 0.4 1.9 0.4 1.9 0.3 1.8 0.4 1.9 0.3 1.9 0.3 1.9 0.3 1.8 0.3 1.9 0.3 1.9 0.2 1.9 0.2 1.8 0.2 1.9 0.2 1.9 0.1 1.8 0.1 1.9 0.1 1.9 0.1 1.9 0 1.8 0 1.9-0.1 1.9 0 1.9-0.1 1.8-0.1 1.9-0.1 1.9-0.2 1.8-0.2 1.9-0.2 1.9-0.2 1.9-0.3 1.8-0.3 1.9-0.3 1.9-0.3 1.9-0.4" fill="none" stroke="#5E81B5" stroke-width="6.3" stroke-linejoin="round" stroke-linecap="square"/>
<path d="M1293.8 700.6l1.8 0 1.9 0 1.9 0 1.8 0.1 1.9 0.1 1.9 0 1.9 0.1 1.8 0.1 1.9 0 1.9 0.1 1.8 0.1 1.9 0 1.9 0.1 1.9 0 1.8 0 1.9 0 1.9 0 1.9 0 1.8-0.1 1.9 0 1.9-0.1 1.8 0 1.9-0.1 1.9-0.1 1.9-0.1 1.8 0 1.9-0.1 1.9-0.1 1.9 0 1.8-0.1 1.9-0.1 1.9 0 1.8-0.1 1.9 0 1.9-0.1 1.9-0.1 1.8 0 1.9-0.1 1.9 0 1.9-0.1 1.8 0 1.9-0.1 1.9-0.1 1.8 0 1.9-0.1 1.9 0 1.9-0.1 1.8 0 1.9-0.1 1.9 0 1.9 0 1.8-0.1 1.9 0 1.9-0.1 1.8 0 1.9 0 1.9 0 1.9-0.1 1.8 0 1.9 0 1.9 0 1.9-0.1 1.8 0 1.9 0 1.9 0 1.8-0.1 1.9 0 1.9-0.1 1.9 0 1.8-0.1 1.9 0 1.9-0.1 1.8 0 1.9-0.1 1.9-0.1 1.9 0 1.8-0.1 1.9-0.1 1.9 0 1.9-0.1 1.8-0.1 1.9-0.1 1.9-0.1 1.8-0.1 1.9-0.1 1.9-0.1 1.9-0.2 1.8-0.2 1.9-0.1 1.9-0.2 1.9-0.3 1.8-0.2 1.9-0.3 1.9-0.3 1.8-0.4 1.9-0.4 1.9-0.4 1.9-0.5 1.8-0.5 1.9-0.5 1.9-0.5 1.9-0.6 1.8-0.6 1.9-0.6 1.9-0.6 1.8-0.6 1.9-0.7 1.9-0.7 1.9-0.7 1.8-0.7 1.9-0.7 1.9-0.8 1.9-0.8 1.8-0.8 1.9-0.7 1.9-0.8 1.8-0.8 1.9-0.8 1.9-0.8 1.9-0.8 1.8-0.8 1.9-0.8 1.9-0.8 1.9-0.8 1.8-0.7 1.9-0.8 1.9-0.7 1.8-0.8 1.9-0.8 1.9-0.7 1.9-0.8 1.8-0.8 1.9-0.9 1.9-0.9 1.9-0.9 1.8-1 1.9-1.1 1.9-1.1 1.8-1.3 1.9-1.3 1.9-1.5 1.9-1.5 1.8-1.7 1.9-1.9 1.9-2 1.8-2.1 1.9-2.2 1.9-2.5 1.9-2.5 1.8-2.7 1.9-2.9 1.9-3 1.9-3 1.8-3.2 1.9-3.3 1.9-3.3 1.8-3.4 1.9-3.4 1.9-3.4 1.9-3.4 1.8-3.4 1.9-3.3 1.9-3.2 1.9-3.2 1.8-3 1.9-2.8 1.9-2.7 1.8-2.5 1.9-2.3 1.9-2.2 1.9-1.9 1.8-1.8 1.9-1.6 1.9-1.4 1.9-1.2 1.8-1.1 1.9-1 1.9-0.9 1.8-0.8 1.9-0.9 1.9-0.8 1.9-0.9 1.8-0.9 1.9-1.1 1.9-1.3 1.9-1.4 1.8-1.8 1.9-2 1.9-2.3 1.8-2.6 1.9-3 1.9-3.4 1.9-3.8 1.8-4.1 1.9-4.6 1.9-4.9 1.9-5.3 1.8-5.6 1.9-5.8 1.9-6.2 1.8-6.3 1.9-6.5 1.9-6.6 1.9-6.6 1.8-6.6 1.9-6.5 1.9-6.3 1.9-6.1 1.8-5.8 1.9-5.4 1.9-5 1.8-4.5 1.9-4 1.9-3.4 1.9-2.8 1.8-2.2 1.9-1.6 1.9-1 1.8-0.3 1.9 0.3 1.9 0.9 1.9 1.4 1.8 1.9 1.9 2.3 1.9 2.7 1.9 3.1 1.8 3.2 1.9 3.4 1.9 3.5 1.8 3.5 1.9 3.3 1.9 3.2 1.9 3 1.8 2.6 1.9 2.3 1.9 1.8 1.9 1.4 1.8 0.8 1.9 0.3 1.9-0.3 1.8-0.9 1.9-1.4 1.9-2 1.9-2.4 1.8-3 1.9-3.3 1.9-3.7 1.9-4.1 1.8-4.2 1.9-4.4 1.9-4.2 1.8-4.2 1.9-4.1 1.9-3.9 1.9-3.7 1.8-3.2 1.9-2.9 1.9-2.3 1.9-1.8 1.8-1.2 1.9-0.5 1.9 0.1 1.8 0.8 1.9 1.6 1.9 2.1 1.9 2.9 1.8 3.5 1.9 4.1 1.9 4.7 1.9 5.2 1.8 5.6 1.9 6 1.9 6.3 1.8 6.5 1.9 6.8 1.9 6.7 1.9 6.9 1.8 6.7 1.9 6.6 1.9 6.4 1.9 6.2 1.8 5.9 1.9 5.5 1.9 5.2 1.8 4.7 1.9 4.3 1.9 3.8 1.9 3.5 1.8 2.9 1.9 2.6 1.9 2.1 1.8 1.8 1.9 1.4 1.9 1.2 1.9 0.8 1.8 0.7 1.9 0.5 1.9 0.4 1.9 0.3 1.8 0.3 1.9 0.3 1.9 0.4 1.8 0.5 1.9 0.6 1.9 0.9 1.9 1 1.8 1.3 1.9 1.5 1.9 1.8 1.9 2.1 1.8 2.3 1.9 2.6 1.9 2.8 1.8 3 1.9 3.3 1.9 3.5 1.9 3.6 1.8 3.8 1.9 3.9 1.9 4 1.9 4.1 1.8 4 1.9 4.1 1.9 4 1.8 4 1.9 3.9 1.9 3.8 1.9 3.6 1.8 3.5 1.9 3.4 1.9 3.2 1.9 3 1.8 2.8 1.9 2.7 1.9 2.4 1.8 2.3 1.9 2.1 1.9 2 1.9 1.8 1.8 1.6 1.9 1.5 1.9 1.4 1.9 1.3 1.8 1.2 1.9 1.1 1.9 1 1.8 1 1.9 0.9 1.9 0.9 1.9 0.9 1.8 0.8 1.9 0.9 1.9 0.8 1.9 0.8 1.8 0.8 1.9 0.8 1.9 0.9 1.8 0.8 1.9 0.8 1.9 0.9 1.9 0.9 1.8 0.9 1.9 0.9 1.9 0.9 1.8 0.9 1.9 1 1.9 0.9 1.9 0.9 1.8 1 1.9 0.9 1.9 1 1.9 0.9 1.8 0.9 1.9 0.9 1.9 0.9 1.8 0.9 1.9 0.8 1.9 0.8 1.9 0.8 1.8 0.8 1.9 0.7 1.9 0.7 1.9 0.7 1.8 0.6 1.9 0.6 1.9 0.6 1.8 0.6 1.9 0.5 1.9 0.5 1.9 0.5 1.8 0.5 1.9 0.4 1.9 0.5 1.9 0.6 1.8 0.5 1.9 0.6 1.9 0.6 1.8 0.5 1.9 0.5 1.9 0.4 1.9 0.4 1.8 0.3 1.9 0.2 1.9 0.1 1.9 0 1.8-0.1 1.9-0.1 1.9-0.2 1.8-0.2 1.9-0.2 1.9-0.1 1.9-0.1 1.8 0 1.9 0 1.9 0.1 1.9 0.1 1.8 0.1 1.9 0 1.9 0.1 1.8 0.1 1.9 0 1.9 0.1 1.9 0 1.8 0.1 1.9 0 1.9 0.1 1.9 0 1.8 0.1 1.9 0 1.9 0 1.8 0 1.9 0 1.9-0.1 1.9-0.1 1.8-0.2 1.9-0.2 1.9-0.2 1.8-0.3 1.9-0.1 1.9 0 1.9 0 1.8 0.2 1.9 0.2 1.9 0.3 1.9 0.2 1.8 0.3 1.9 0.3 1.9 0.3 1.8 0.2 1.9 0.2 1.9 0.2 1.9 0.2 1.8 0.3 1.9 0.2 1.9 0.3 1.9 0.2 1.8 0.3 1.9 0.2 1.9 0.3 1.8 0.2 1.9 0.3 1.9 0.2 1.9 0.3 1.8 0.2 1.9 0.2 1.9 0.2 1.9 0.2 1.8 0.2 1.9 0.2 1.9 0.1 1.8 0.1 1.9 0.1 1.9 0.1 1.9 0.1 1.8 0 1.9 0 1.9 0 1.9-0.1 1.8 0 1.9-0.1 1.9-0.1 1.8-0.1 1.9-0.2 1.9-0.1 1.9-0.1 1.8-0.2 1.9-0.2 1.9-0.1 1.9-0.2 1.8-0.3 1.9-0.2 1.9-0.2 1.8-0.3 1.9-0.7 1.9-0.8 1.9-0.7 1.8-0.4 1.9-0.4 1.9-0.4 1.9-0.3" fill="none" stroke="#E19C24" stroke-width="6.3" stroke-linejoin="round" stroke-linecap="square"/>
<path d="M1293.8 700.4l1.8 0 1.9 0 1.9 0 1.8 0 1.9 0 1.9 0 1.9 0 1.8 0 1.9 0 1.9 0 1.8 0 1.9 0 1.9 0 1.9 0 1.8 0 1.9 0 1.9 0 1.9 0 1.8 0 1.9 0 1.9 0 1.8-0.1 1.9 0 1.9 0 1.9 0 1.8 0 1.9-0.1 1.9 0 1.9 0 1.8 0 1.9 0 1.9-0.1 1.8 0 1.9 0 1.9-0.1 1.9 0 1.8 0 1.9 0 1.9-0.1 1.9 0 1.8 0 1.9-0.1 1.9 0 1.8-0.1 1.9 0 1.9-0.1 1.9 0 1.8-0.1 1.9 0 1.9-0.1 1.9 0 1.8-0.1 1.9-0.1 1.9 0 1.8-0.1 1.9-0.1 1.9-0.1 1.9 0 1.8-0.1 1.9-0.1 1.9-0.1 1.9-0.1 1.8-0.1 1.9-0.2 1.9-0.1 1.8-0.1 1.9-0.1 1.9-0.2 1.9-0.1 1.8-0.2 1.9-0.1 1.9-0.2 1.8-0.2 1.9-0.1 1.9-0.2 1.9-0.2 1.8-0.2 1.9-0.2 1.9-0.2 1.9-0.3 1.8-0.2 1.9-0.3 1.9-0.2 1.8-0.3 1.9-0.3 1.9-0.3 1.9-0.3 1.8-0.3 1.9-0.4 1.9-0.4 1.9-0.3 1.8-0.5 1.9-0.4 1.9-0.4 1.8-0.5 1.9-0.5 1.9-0.5 1.9-0.6 1.8-0.6 1.9-0.6 1.9-0.6 1.9-0.7 1.8-0.6 1.9-0.7 1.9-0.8 1.8-0.7 1.9-0.8 1.9-0.8 1.9-0.9 1.8-0.8 1.9-0.9 1.9-0.9 1.9-0.9 1.8-0.9 1.9-0.9 1.9-1 1.8-0.9 1.9-1 1.9-1 1.9-1 1.8-1 1.9-1 1.9-1.1 1.9-1 1.8-1.1 1.9-1 1.9-1.1 1.8-1.2 1.9-1.1 1.9-1.2 1.9-1.2 1.8-1.2 1.9-1.3 1.9-1.3 1.9-1.4 1.8-1.4 1.9-1.5 1.9-1.6 1.8-1.6 1.9-1.7 1.9-1.8 1.9-1.9 1.8-2 1.9-2.1 1.9-2.1 1.8-2.3 1.9-2.4 1.9-2.4 1.9-2.5 1.8-2.6 1.9-2.7 1.9-2.8 1.9-2.8 1.8-2.8 1.9-2.9 1.9-3 1.8-2.9 1.9-2.9 1.9-3 1.9-2.8 1.8-2.9 1.9-2.8 1.9-2.7 1.9-2.7 1.8-2.6 1.9-2.4 1.9-2.4 1.8-2.3 1.9-2.2 1.9-2 1.9-2 1.8-1.8 1.9-1.8 1.9-1.7 1.9-1.6 1.8-1.5 1.9-1.5 1.9-1.5 1.8-1.5 1.9-1.5 1.9-1.5 1.9-1.6 1.8-1.7 1.9-1.8 1.9-2 1.9-2 1.8-2.3 1.9-2.4 1.9-2.7 1.8-2.8 1.9-3 1.9-3.3 1.9-3.5 1.8-3.6 1.9-3.9 1.9-4 1.9-4.2 1.8-4.4 1.9-4.4 1.9-4.5 1.8-4.6 1.9-4.6 1.9-4.5 1.9-4.5 1.8-4.3 1.9-4.2 1.9-4 1.9-3.8 1.8-3.5 1.9-3.2 1.9-3 1.8-2.5 1.9-2.2 1.9-1.8 1.9-1.4 1.8-1 1.9-0.7 1.9-0.2 1.8 0.1 1.9 0.4 1.9 0.8 1.9 1.1 1.8 1.3 1.9 1.5 1.9 1.7 1.9 1.8 1.8 1.9 1.9 1.9 1.9 1.9 1.8 1.8 1.9 1.7 1.9 1.5 1.9 1.4 1.8 1.1 1.9 0.8 1.9 0.6 1.9 0.3 1.8 0 1.9-0.4 1.9-0.6 1.8-1 1.9-1.2 1.9-1.5 1.9-1.7 1.8-1.9 1.9-2.1 1.9-2.2 1.9-2.3 1.8-2.2 1.9-2.3 1.9-2.1 1.8-2.1 1.9-1.8 1.9-1.6 1.9-1.3 1.8-1 1.9-0.7 1.9-0.3 1.9 0.1 1.8 0.5 1.9 0.9 1.9 1.4 1.8 1.8 1.9 2.2 1.9 2.7 1.9 3 1.8 3.3 1.9 3.7 1.9 4 1.9 4.3 1.8 4.4 1.9 4.6 1.9 4.7 1.8 4.8 1.9 4.8 1.9 4.8 1.9 4.7 1.8 4.7 1.9 4.5 1.9 4.3 1.9 4.1 1.8 3.9 1.9 3.7 1.9 3.4 1.8 3.1 1.9 2.9 1.9 2.6 1.9 2.4 1.8 2.1 1.9 1.9 1.9 1.7 1.8 1.5 1.9 1.4 1.9 1.2 1.9 1.1 1.8 1 1.9 1 1.9 1 1.9 1 1.8 1 1.9 1.1 1.9 1.2 1.8 1.3 1.9 1.4 1.9 1.6 1.9 1.7 1.8 1.9 1.9 2 1.9 2.2 1.9 2.3 1.8 2.5 1.9 2.7 1.9 2.7 1.8 2.9 1.9 3 1.9 3.1 1.9 3.2 1.8 3.2 1.9 3.2 1.9 3.3 1.9 3.3 1.8 3.2 1.9 3.2 1.9 3.1 1.8 3.1 1.9 3 1.9 2.9 1.9 2.8 1.8 2.6 1.9 2.6 1.9 2.5 1.9 2.3 1.8 2.2 1.9 2.1 1.9 2 1.8 1.8 1.9 1.8 1.9 1.6 1.9 1.6 1.8 1.5 1.9 1.4 1.9 1.3 1.9 1.3 1.8 1.2 1.9 1.2 1.9 1.1 1.8 1.1 1.9 1.1 1.9 1.1 1.9 1 1.8 1.1 1.9 1.1 1.9 1 1.9 1 1.8 1.1 1.9 1 1.9 1 1.8 1.1 1.9 1 1.9 1.1 1.9 1 1.8 1 1.9 1 1.9 1.1 1.8 1 1.9 1 1.9 0.9 1.9 1 1.8 1 1.9 0.9 1.9 0.9 1.9 0.9 1.8 0.9 1.9 0.8 1.9 0.8 1.8 0.8 1.9 0.8 1.9 0.7 1.9 0.7 1.8 0.7 1.9 0.7 1.9 0.6 1.9 0.6 1.8 0.6 1.9 0.5 1.9 0.5 1.8 0.6 1.9 0.4 1.9 0.5 1.9 0.5 1.8 0.4 1.9 0.4 1.9 0.4 1.9 0.5 1.8 0.4 1.9 0.4 1.9 0.4 1.8 0.4 1.9 0.3 1.9 0.3 1.9 0.3 1.8 0.2 1.9 0.2 1.9 0.2 1.9 0.1 1.8 0.1 1.9 0.1 1.9 0.2 1.8 0.1 1.9 0.1 1.9 0.2 1.9 0.1 1.8 0.2 1.9 0.2 1.9 0.1 1.9 0.2 1.8 0.1 1.9 0.2 1.9 0.1 1.8 0.1 1.9 0.1 1.9 0.2 1.9 0.1 1.8 0.1 1.9 0.1 1.9 0.1 1.9 0.1 1.8 0.1 1.9 0 1.9 0.1 1.8 0.1 1.9 0 1.9 0.1 1.9 0.1 1.8 0 1.9 0 1.9 0 1.8 0 1.9 0 1.9 0 1.9 0 1.8 0.1 1.9 0.1 1.9 0.1 1.9 0.1 1.8 0.1 1.9 0.1 1.9 0.1 1.8 0.1 1.9 0.2 1.9 0.1 1.9 0.1 1.8 0.2 1.9 0.1 1.9 0.2 1.9 0.1 1.8 0.2 1.9 0.2 1.9 0.1 1.8 0.2 1.9 0.2 1.9 0.1 1.9 0.2 1.8 0.1 1.9 0.2 1.9 0.1 1.9 0.1 1.8 0.1 1.9 0.1 1.9 0.1 1.8 0 1.9 0.1 1.9 0 1.9 0 1.8 0 1.9-0.1 1.9 0 1.9-0.1 1.8-0.1 1.9-0.1 1.9-0.1 1.8-0.1 1.9-0.1 1.9-0.1 1.9-0.1 1.8-0.1 1.9-0.2 1.9-0.1 1.9-0.1 1.8-0.2 1.9-0.3 1.9-0.4 1.8-0.3 1.9-0.3 1.9-0.1 1.9-0.2 1.8-0.1 1.9-0.1 1.9-0.1 1.9-0.1" fill="none" stroke="#8FB032" stroke-width="6.3" stroke-linejoin="round" stroke-linecap="square"/>
<path d="M1293.8 700.3l1.8 0 1.9 0 1.9 0 1.8 0 1.9 0 1.9 0 1.9 0 1.8 0 1.9 0 1.9 0 1.8 0 1.9 0 1.9 0 1.9-0.1 1.8 0 1.9 0 1.9 0 1.9 0 1.8 0 1.9 0 1.9-0.1 1.8 0 1.9 0 1.9 0 1.9-0.1 1.8 0 1.9 0 1.9 0 1.9-0.1 1.8 0 1.9 0 1.9-0.1 1.8 0 1.9 0 1.9-0.1 1.9 0 1.8-0.1 1.9 0 1.9-0.1 1.9 0 1.8-0.1 1.9-0.1 1.9 0 1.8-0.1 1.9-0.1 1.9 0 1.9-0.1 1.8-0.1 1.9-0.1 1.9-0.1 1.9-0.1 1.8-0.1 1.9-0.1 1.9-0.1 1.8-0.1 1.9-0.2 1.9-0.1 1.9-0.1 1.8-0.2 1.9-0.1 1.9-0.2 1.9-0.2 1.8-0.1 1.9-0.2 1.9-0.2 1.8-0.2 1.9-0.2 1.9-0.2 1.9-0.2 1.8-0.3 1.9-0.2 1.9-0.3 1.8-0.2 1.9-0.3 1.9-0.3 1.9-0.2 1.8-0.3 1.9-0.4 1.9-0.3 1.9-0.3 1.8-0.4 1.9-0.3 1.9-0.4 1.8-0.4 1.9-0.4 1.9-0.5 1.9-0.4 1.8-0.5 1.9-0.4 1.9-0.5 1.9-0.6 1.8-0.5 1.9-0.6 1.9-0.6 1.8-0.6 1.9-0.6 1.9-0.7 1.9-0.7 1.8-0.7 1.9-0.7 1.9-0.8 1.9-0.8 1.8-0.8 1.9-0.9 1.9-0.8 1.8-0.9 1.9-1 1.9-0.9 1.9-1 1.8-1 1.9-1 1.9-1 1.9-1.1 1.8-1 1.9-1.1 1.9-1.1 1.8-1.2 1.9-1.1 1.9-1.2 1.9-1.1 1.8-1.2 1.9-1.2 1.9-1.2 1.9-1.2 1.8-1.3 1.9-1.2 1.9-1.3 1.8-1.3 1.9-1.4 1.9-1.3 1.9-1.4 1.8-1.4 1.9-1.5 1.9-1.5 1.9-1.5 1.8-1.6 1.9-1.7 1.9-1.7 1.8-1.8 1.9-1.8 1.9-1.9 1.9-2 1.8-2.1 1.9-2.1 1.9-2.2 1.8-2.2 1.9-2.4 1.9-2.4 1.9-2.4 1.8-2.6 1.9-2.5 1.9-2.7 1.9-2.6 1.8-2.7 1.9-2.7 1.9-2.7 1.8-2.7 1.9-2.8 1.9-2.7 1.9-2.6 1.8-2.6 1.9-2.6 1.9-2.5 1.9-2.5 1.8-2.4 1.9-2.2 1.9-2.3 1.8-2.1 1.9-2 1.9-2 1.9-1.8 1.8-1.8 1.9-1.7 1.9-1.7 1.9-1.6 1.8-1.5 1.9-1.6 1.9-1.5 1.8-1.5 1.9-1.5 1.9-1.6 1.9-1.6 1.8-1.7 1.9-1.7 1.9-1.9 1.9-2 1.8-2.1 1.9-2.2 1.9-2.4 1.8-2.6 1.9-2.7 1.9-2.8 1.9-3 1.8-3.1 1.9-3.3 1.9-3.4 1.9-3.4 1.8-3.6 1.9-3.6 1.9-3.6 1.8-3.7 1.9-3.6 1.9-3.6 1.9-3.5 1.8-3.3 1.9-3.2 1.9-3.1 1.9-2.8 1.8-2.7 1.9-2.3 1.9-2.1 1.8-1.9 1.9-1.5 1.9-1.2 1.9-0.9 1.8-0.6 1.9-0.2 1.9 0 1.8 0.3 1.9 0.5 1.9 0.8 1.9 1 1.8 1.2 1.9 1.3 1.9 1.4 1.9 1.6 1.8 1.5 1.9 1.6 1.9 1.5 1.8 1.4 1.9 1.4 1.9 1.2 1.9 1.1 1.8 0.8 1.9 0.7 1.9 0.5 1.9 0.2 1.8 0 1.9-0.3 1.9-0.5 1.8-0.7 1.9-0.9 1.9-1.1 1.9-1.2 1.8-1.4 1.9-1.4 1.9-1.6 1.9-1.5 1.8-1.5 1.9-1.5 1.9-1.4 1.8-1.3 1.9-1.1 1.9-0.8 1.9-0.7 1.8-0.4 1.9-0.1 1.9 0.2 1.9 0.5 1.8 0.9 1.9 1.2 1.9 1.5 1.8 1.9 1.9 2.1 1.9 2.5 1.9 2.8 1.8 3 1.9 3.3 1.9 3.4 1.9 3.7 1.8 3.8 1.9 3.9 1.9 3.9 1.8 4 1.9 4 1.9 4 1.9 3.8 1.8 3.8 1.9 3.7 1.9 3.5 1.9 3.4 1.8 3.2 1.9 3 1.9 2.7 1.8 2.6 1.9 2.4 1.9 2.2 1.9 2 1.8 1.8 1.9 1.6 1.9 1.5 1.8 1.4 1.9 1.2 1.9 1.2 1.9 1.1 1.8 1.1 1.9 1 1.9 1.1 1.9 1.1 1.8 1.1 1.9 1.2 1.9 1.2 1.8 1.4 1.9 1.4 1.9 1.6 1.9 1.7 1.8 1.8 1.9 2 1.9 2.1 1.9 2.2 1.8 2.3 1.9 2.4 1.9 2.5 1.8 2.6 1.9 2.7 1.9 2.7 1.9 2.8 1.8 2.8 1.9 2.9 1.9 2.8 1.9 2.8 1.8 2.8 1.9 2.8 1.9 2.7 1.8 2.6 1.9 2.6 1.9 2.5 1.9 2.4 1.8 2.3 1.9 2.3 1.9 2.1 1.9 2 1.8 2 1.9 1.8 1.9 1.8 1.8 1.7 1.9 1.6 1.9 1.5 1.9 1.5 1.8 1.4 1.9 1.3 1.9 1.3 1.9 1.2 1.8 1.2 1.9 1.2 1.9 1.2 1.8 1.1 1.9 1.1 1.9 1.1 1.9 1.1 1.8 1.1 1.9 1.1 1.9 1 1.9 1.1 1.8 1.1 1.9 1.1 1.9 1.1 1.8 1 1.9 1.1 1.9 1.1 1.9 1.1 1.8 1 1.9 1.1 1.9 1 1.8 1 1.9 1 1.9 1 1.9 1 1.8 1 1.9 0.9 1.9 0.9 1.9 0.9 1.8 0.9 1.9 0.8 1.9 0.9 1.8 0.7 1.9 0.8 1.9 0.7 1.9 0.8 1.8 0.6 1.9 0.7 1.9 0.6 1.9 0.6 1.8 0.6 1.9 0.6 1.9 0.5 1.8 0.6 1.9 0.5 1.9 0.5 1.9 0.4 1.8 0.5 1.9 0.4 1.9 0.5 1.9 0.4 1.8 0.4 1.9 0.4 1.9 0.4 1.8 0.3 1.9 0.4 1.9 0.3 1.9 0.3 1.8 0.3 1.9 0.3 1.9 0.2 1.9 0.3 1.8 0.2 1.9 0.2 1.9 0.3 1.8 0.2 1.9 0.2 1.9 0.3 1.9 0.2 1.8 0.2 1.9 0.2 1.9 0.2 1.9 0.2 1.8 0.2 1.9 0.2 1.9 0.2 1.8 0.1 1.9 0.2 1.9 0.2 1.9 0.1 1.8 0.1 1.9 0.2 1.9 0.1 1.9 0.1 1.8 0.2 1.9 0.1 1.9 0.1 1.8 0.1 1.9 0.1 1.9 0.1 1.9 0.1 1.8 0 1.9 0.1 1.9 0.1 1.8 0.1 1.9 0 1.9 0.1 1.9 0 1.8 0.1 1.9 0.1 1.9 0.1 1.9 0 1.8 0.1 1.9 0.1 1.9 0.1 1.8 0.1 1.9 0.1 1.9 0.1 1.9 0.1 1.8 0.1 1.9 0.1 1.9 0.1 1.9 0.1 1.8 0.1 1.9 0.1 1.9 0.2 1.8 0.1 1.9 0.1 1.9 0.1 1.9 0.1 1.8 0.1 1.9 0.1 1.9 0.1 1.9 0.1 1.8 0.1 1.9 0.1 1.9 0 1.8 0 1.9 0.1 1.9 0 1.9 0 1.8-0.1 1.9 0 1.9 0 1.9-0.1 1.8-0.1 1.9 0 1.9-0.1 1.8-0.1 1.9 0 1.9-0.1 1.9-0.1 1.8-0.1 1.9 0 1.9-0.1 1.9-0.1 1.8-0.2 1.9-0.2 1.9-0.2 1.8 0 1.9-0.1 1.9-0.1 1.9 0 1.8 0 1.9-0.1 1.9 0 1.9 0" fill="none" stroke="#EB6235" stroke-width="6.3" stroke-linejoin="round" stroke-linecap="square"/>
<path d="M1293.8 700.3l1.8 0 1.9 0 1.9 0 1.8-0.1 1.9 0 1.9 0 1.9 0 1.8 0 1.9 0 1.9 0 1.8-0.1 1.9 0 1.9 0 1.9 0 1.8 0 1.9-0.1 1.9 0 1.9 0 1.8 0 1.9-0.1 1.9 0 1.8 0 1.9-0.1 1.9 0 1.9 0 1.8-0.1 1.9 0 1.9-0.1 1.9 0 1.8-0.1 1.9 0 1.9-0.1 1.8-0.1 1.9 0 1.9-0.1 1.9-0.1 1.8 0 1.9-0.1 1.9-0.1 1.9-0.1 1.8-0.1 1.9-0.1 1.9-0.1 1.8-0.1 1.9-0.1 1.9-0.1 1.9-0.1 1.8-0.1 1.9-0.2 1.9-0.1 1.9-0.2 1.8-0.1 1.9-0.2 1.9-0.1 1.8-0.2 1.9-0.2 1.9-0.2 1.9-0.2 1.8-0.2 1.9-0.2 1.9-0.2 1.9-0.2 1.8-0.3 1.9-0.2 1.9-0.3 1.8-0.3 1.9-0.2 1.9-0.3 1.9-0.3 1.8-0.3 1.9-0.4 1.9-0.3 1.8-0.4 1.9-0.3 1.9-0.4 1.9-0.4 1.8-0.4 1.9-0.4 1.9-0.4 1.9-0.4 1.8-0.5 1.9-0.5 1.9-0.5 1.8-0.5 1.9-0.5 1.9-0.5 1.9-0.6 1.8-0.6 1.9-0.6 1.9-0.6 1.9-0.6 1.8-0.7 1.9-0.7 1.9-0.7 1.8-0.7 1.9-0.8 1.9-0.8 1.9-0.8 1.8-0.8 1.9-0.9 1.9-0.9 1.9-0.9 1.8-0.9 1.9-1 1.9-1 1.8-1 1.9-1 1.9-1.1 1.9-1.1 1.8-1.1 1.9-1.1 1.9-1.2 1.9-1.1 1.8-1.2 1.9-1.2 1.9-1.3 1.8-1.2 1.9-1.2 1.9-1.3 1.9-1.3 1.8-1.3 1.9-1.3 1.9-1.3 1.9-1.4 1.8-1.3 1.9-1.4 1.9-1.4 1.8-1.4 1.9-1.4 1.9-1.5 1.9-1.5 1.8-1.5 1.9-1.6 1.9-1.6 1.9-1.6 1.8-1.7 1.9-1.7 1.9-1.7 1.8-1.9 1.9-1.8 1.9-2 1.9-1.9 1.8-2.1 1.9-2.1 1.9-2.1 1.8-2.3 1.9-2.2 1.9-2.3 1.9-2.4 1.8-2.4 1.9-2.5 1.9-2.5 1.9-2.5 1.8-2.5 1.9-2.5 1.9-2.6 1.8-2.5 1.9-2.5 1.9-2.5 1.9-2.5 1.8-2.4 1.9-2.4 1.9-2.3 1.9-2.3 1.8-2.2 1.9-2.1 1.9-2.1 1.8-1.9 1.9-1.9 1.9-1.8 1.9-1.7 1.8-1.7 1.9-1.6 1.9-1.5 1.9-1.5 1.8-1.5 1.9-1.4 1.9-1.4 1.8-1.4 1.9-1.4 1.9-1.4 1.9-1.5 1.8-1.6 1.9-1.6 1.9-1.6 1.9-1.8 1.8-1.9 1.9-2 1.9-2.1 1.8-2.2 1.9-2.4 1.9-2.4 1.9-2.6 1.8-2.7 1.9-2.8 1.9-2.9 1.9-2.9 1.8-3 1.9-3.1 1.9-3 1.8-3.1 1.9-3 1.9-2.9 1.9-2.9 1.8-2.7 1.9-2.6 1.9-2.5 1.9-2.3 1.8-2.1 1.9-1.8 1.9-1.6 1.8-1.4 1.9-1.1 1.9-0.9 1.9-0.5 1.8-0.4 1.9 0 1.9 0.2 1.8 0.4 1.9 0.6 1.9 0.9 1.9 1 1.8 1.1 1.9 1.3 1.9 1.4 1.9 1.4 1.8 1.4 1.9 1.5 1.9 1.4 1.8 1.3 1.9 1.3 1.9 1.1 1.9 1 1.8 0.8 1.9 0.6 1.9 0.5 1.9 0.2 1.8 0.1 1.9-0.1 1.9-0.4 1.8-0.5 1.9-0.7 1.9-0.8 1.9-0.9 1.8-1.1 1.9-1.1 1.9-1.2 1.9-1.1 1.8-1.2 1.9-1.1 1.9-1 1.8-0.9 1.9-0.7 1.9-0.6 1.9-0.3 1.8-0.2 1.9 0.2 1.9 0.3 1.9 0.7 1.8 0.9 1.9 1.2 1.9 1.6 1.8 1.7 1.9 2.1 1.9 2.3 1.9 2.5 1.8 2.8 1.9 2.9 1.9 3.1 1.9 3.3 1.8 3.3 1.9 3.4 1.9 3.5 1.8 3.5 1.9 3.5 1.9 3.4 1.9 3.4 1.8 3.3 1.9 3.2 1.9 3 1.9 2.9 1.8 2.8 1.9 2.6 1.9 2.4 1.8 2.2 1.9 2.1 1.9 1.9 1.9 1.7 1.8 1.6 1.9 1.5 1.9 1.3 1.8 1.2 1.9 1.2 1.9 1.1 1.9 1 1.8 1 1.9 1 1.9 1 1.9 1 1.8 1.1 1.9 1.1 1.9 1.2 1.8 1.3 1.9 1.4 1.9 1.5 1.9 1.6 1.8 1.7 1.9 1.8 1.9 1.9 1.9 2 1.8 2.1 1.9 2.2 1.9 2.3 1.8 2.4 1.9 2.4 1.9 2.4 1.9 2.5 1.8 2.6 1.9 2.5 1.9 2.5 1.9 2.5 1.8 2.5 1.9 2.5 1.9 2.4 1.8 2.4 1.9 2.3 1.9 2.2 1.9 2.2 1.8 2.1 1.9 2 1.9 1.9 1.9 1.9 1.8 1.7 1.9 1.7 1.9 1.6 1.8 1.6 1.9 1.5 1.9 1.4 1.9 1.4 1.8 1.3 1.9 1.3 1.9 1.2 1.9 1.2 1.8 1.1 1.9 1.2 1.9 1.1 1.8 1.1 1.9 1.1 1.9 1.1 1.9 1.1 1.8 1.1 1.9 1 1.9 1.1 1.9 1.1 1.8 1.1 1.9 1 1.9 1.1 1.8 1.1 1.9 1.1 1.9 1 1.9 1.1 1.8 1.1 1.9 1 1.9 1 1.8 1.1 1.9 1 1.9 1 1.9 1 1.8 0.9 1.9 1 1.9 0.9 1.9 0.9 1.8 0.8 1.9 0.9 1.9 0.8 1.8 0.8 1.9 0.8 1.9 0.7 1.9 0.7 1.8 0.7 1.9 0.7 1.9 0.7 1.9 0.6 1.8 0.6 1.9 0.6 1.9 0.6 1.8 0.5 1.9 0.6 1.9 0.5 1.9 0.5 1.8 0.5 1.9 0.4 1.9 0.5 1.9 0.4 1.8 0.5 1.9 0.4 1.9 0.4 1.8 0.4 1.9 0.4 1.9 0.4 1.9 0.3 1.8 0.4 1.9 0.3 1.9 0.3 1.9 0.3 1.8 0.3 1.9 0.3 1.9 0.3 1.8 0.3 1.9 0.3 1.9 0.3 1.9 0.3 1.8 0.2 1.9 0.3 1.9 0.2 1.9 0.3 1.8 0.2 1.9 0.2 1.9 0.2 1.8 0.2 1.9 0.2 1.9 0.2 1.9 0.2 1.8 0.2 1.9 0.1 1.9 0.2 1.9 0.2 1.8 0.1 1.9 0.2 1.9 0.1 1.8 0.1 1.9 0.2 1.9 0.1 1.9 0.1 1.8 0.1 1.9 0.2 1.9 0.1 1.8 0.1 1.9 0.1 1.9 0.1 1.9 0 1.8 0.1 1.9 0.1 1.9 0.1 1.9 0.1 1.8 0.1 1.9 0.1 1.9 0.1 1.8 0.1 1.9 0 1.9 0.1 1.9 0.1 1.8 0.1 1.9 0.1 1.9 0.1 1.9 0.1 1.8 0.1 1.9 0.1 1.9 0.1 1.8 0.1 1.9 0.1 1.9 0.1 1.9 0.1 1.8 0.1 1.9 0.1 1.9 0 1.9 0.1 1.8 0.1 1.9 0 1.9 0.1 1.8 0 1.9 0 1.9 0 1.9 0 1.8 0 1.9 0 1.9 0 1.9 0 1.8-0.1 1.9 0 1.9 0 1.8-0.1 1.9 0 1.9-0.1 1.9 0 1.8 0 1.9-0.1 1.9-0.1 1.9-0.1 1.8-0.1 1.9 0 1.9 0 1.8 0 1.9-0.1 1.9 0 1.9 0 1.8 0 1.9 0.1 1.9 0 1.9 0" fill="none" stroke="#8778B3" stroke-width="6.3" stroke-linejoin="round" stroke-linecap="square"/>
<path d="M1293.8 700.2l1.8 0 1.9 0 1.9 0 1.8-0.1 1.9 0 1.9 0 1.9 0 1.8 0 1.9-0.1 1.9 0 1.8 0 1.9-0.1 1.9 0 1.9 0 1.8-0.1 1.9 0 1.9 0 1.9-0.1 1.8 0 1.9-0.1 1.9 0 1.8-0.1 1.9 0 1.9-0.1 1.9 0 1.8-0.1 1.9-0.1 1.9 0 1.9-0.1 1.8-0.1 1.9-0.1 1.9-0.1 1.8 0 1.9-0.1 1.9-0.1 1.9-0.1 1.8-0.1 1.9-0.2 1.9-0.1 1.9-0.1 1.8-0.1 1.9-0.2 1.9-0.1 1.8-0.1 1.9-0.2 1.9-0.2 1.9-0.1 1.8-0.2 1.9-0.2 1.9-0.2 1.9-0.2 1.8-0.2 1.9-0.2 1.9-0.2 1.8-0.2 1.9-0.3 1.9-0.2 1.9-0.3 1.8-0.2 1.9-0.3 1.9-0.3 1.9-0.3 1.8-0.3 1.9-0.3 1.9-0.4 1.8-0.3 1.9-0.4 1.9-0.3 1.9-0.4 1.8-0.4 1.9-0.4 1.9-0.4 1.8-0.5 1.9-0.4 1.9-0.5 1.9-0.5 1.8-0.4 1.9-0.5 1.9-0.6 1.9-0.5 1.8-0.6 1.9-0.5 1.9-0.6 1.8-0.6 1.9-0.6 1.9-0.7 1.9-0.6 1.8-0.7 1.9-0.7 1.9-0.7 1.9-0.8 1.8-0.8 1.9-0.7 1.9-0.9 1.8-0.8 1.9-0.9 1.9-0.8 1.9-1 1.8-0.9 1.9-0.9 1.9-1 1.9-1 1.8-1.1 1.9-1 1.9-1.1 1.8-1.1 1.9-1.2 1.9-1.1 1.9-1.2 1.8-1.2 1.9-1.2 1.9-1.2 1.9-1.3 1.8-1.2 1.9-1.3 1.9-1.3 1.8-1.3 1.9-1.4 1.9-1.3 1.9-1.4 1.8-1.3 1.9-1.4 1.9-1.4 1.9-1.4 1.8-1.4 1.9-1.5 1.9-1.4 1.8-1.5 1.9-1.5 1.9-1.5 1.9-1.5 1.8-1.6 1.9-1.6 1.9-1.6 1.9-1.7 1.8-1.7 1.9-1.7 1.9-1.7 1.8-1.9 1.9-1.8 1.9-1.9 1.9-2 1.8-1.9 1.9-2.1 1.9-2.1 1.8-2.1 1.9-2.2 1.9-2.2 1.9-2.3 1.8-2.3 1.9-2.3 1.9-2.3 1.9-2.4 1.8-2.4 1.9-2.3 1.9-2.4 1.8-2.4 1.9-2.3 1.9-2.3 1.9-2.3 1.8-2.3 1.9-2.2 1.9-2.1 1.9-2.1 1.8-2 1.9-2 1.9-1.8 1.8-1.8 1.9-1.7 1.9-1.7 1.9-1.6 1.8-1.5 1.9-1.4 1.9-1.4 1.9-1.4 1.8-1.3 1.9-1.3 1.9-1.2 1.8-1.3 1.9-1.3 1.9-1.3 1.9-1.3 1.8-1.3 1.9-1.5 1.9-1.5 1.9-1.5 1.8-1.7 1.9-1.7 1.9-1.9 1.8-1.9 1.9-2.1 1.9-2.1 1.9-2.3 1.8-2.3 1.9-2.4 1.9-2.5 1.9-2.5 1.8-2.6 1.9-2.6 1.9-2.6 1.8-2.6 1.9-2.6 1.9-2.5 1.9-2.4 1.8-2.3 1.9-2.2 1.9-2.1 1.9-1.8 1.8-1.7 1.9-1.5 1.9-1.3 1.8-1.1 1.9-0.8 1.9-0.6 1.9-0.3 1.8-0.2 1.9 0.1 1.9 0.4 1.8 0.5 1.9 0.7 1.9 0.9 1.9 1 1.8 1.2 1.9 1.2 1.9 1.4 1.9 1.4 1.8 1.3 1.9 1.4 1.9 1.4 1.8 1.3 1.9 1.2 1.9 1 1.9 1 1.8 0.8 1.9 0.7 1.9 0.4 1.9 0.3 1.8 0.2 1.9-0.1 1.9-0.2 1.8-0.4 1.9-0.5 1.9-0.6 1.9-0.8 1.8-0.8 1.9-1 1.9-0.9 1.9-0.9 1.8-1 1.9-0.8 1.9-0.8 1.8-0.7 1.9-0.5 1.9-0.4 1.9-0.2 1.8 0 1.9 0.2 1.9 0.5 1.9 0.7 1.8 0.9 1.9 1.2 1.9 1.5 1.8 1.6 1.9 2 1.9 2.1 1.9 2.3 1.8 2.6 1.9 2.6 1.9 2.9 1.9 2.9 1.8 3 1.9 3.1 1.9 3.2 1.8 3.1 1.9 3.1 1.9 3.1 1.9 3 1.8 3 1.9 2.8 1.9 2.7 1.9 2.6 1.8 2.4 1.9 2.3 1.9 2.2 1.8 1.9 1.9 1.9 1.9 1.7 1.9 1.5 1.8 1.4 1.9 1.3 1.9 1.2 1.8 1.1 1.9 1.1 1.9 1 1.9 0.9 1.8 0.9 1.9 1 1.9 0.9 1.9 0.9 1.8 1 1.9 1.1 1.9 1.1 1.8 1.2 1.9 1.3 1.9 1.4 1.9 1.5 1.8 1.5 1.9 1.7 1.9 1.7 1.9 1.9 1.8 1.9 1.9 2 1.9 2.1 1.8 2.2 1.9 2.2 1.9 2.2 1.9 2.3 1.8 2.3 1.9 2.3 1.9 2.2 1.9 2.3 1.8 2.3 1.9 2.2 1.9 2.2 1.8 2.2 1.9 2 1.9 2.1 1.9 1.9 1.8 1.9 1.9 1.9 1.9 1.7 1.9 1.7 1.8 1.7 1.9 1.5 1.9 1.5 1.8 1.5 1.9 1.4 1.9 1.3 1.9 1.3 1.8 1.2 1.9 1.2 1.9 1.2 1.9 1.1 1.8 1.2 1.9 1.1 1.9 1 1.8 1.1 1.9 1.1 1.9 1 1.9 1.1 1.8 1 1.9 1.1 1.9 1 1.9 1.1 1.8 1.1 1.9 1 1.9 1.1 1.8 1 1.9 1.1 1.9 1 1.9 1.1 1.8 1 1.9 1 1.9 1.1 1.8 1 1.9 1 1.9 0.9 1.9 1 1.8 0.9 1.9 1 1.9 0.9 1.9 0.9 1.8 0.8 1.9 0.9 1.9 0.8 1.8 0.8 1.9 0.8 1.9 0.7 1.9 0.8 1.8 0.7 1.9 0.7 1.9 0.6 1.9 0.7 1.8 0.6 1.9 0.6 1.9 0.6 1.8 0.6 1.9 0.6 1.9 0.5 1.9 0.5 1.8 0.6 1.9 0.5 1.9 0.4 1.9 0.5 1.8 0.5 1.9 0.4 1.9 0.5 1.8 0.4 1.9 0.4 1.9 0.5 1.9 0.4 1.8 0.3 1.9 0.4 1.9 0.4 1.9 0.4 1.8 0.3 1.9 0.4 1.9 0.3 1.8 0.3 1.9 0.3 1.9 0.4 1.9 0.3 1.8 0.3 1.9 0.3 1.9 0.2 1.9 0.3 1.8 0.3 1.9 0.2 1.9 0.3 1.8 0.2 1.9 0.3 1.9 0.2 1.9 0.2 1.8 0.2 1.9 0.2 1.9 0.2 1.9 0.2 1.8 0.2 1.9 0.2 1.9 0.2 1.8 0.1 1.9 0.2 1.9 0.1 1.9 0.2 1.8 0.1 1.9 0.2 1.9 0.1 1.8 0.2 1.9 0.1 1.9 0.1 1.9 0.1 1.8 0.1 1.9 0.2 1.9 0.1 1.9 0.1 1.8 0.1 1.9 0.1 1.9 0.1 1.8 0.1 1.9 0.1 1.9 0.1 1.9 0.1 1.8 0.1 1.9 0.1 1.9 0.1 1.9 0.1 1.8 0.1 1.9 0.1 1.9 0.1 1.8 0.1 1.9 0.1 1.9 0 1.9 0.1 1.8 0.1 1.9 0.1 1.9 0.1 1.9 0 1.8 0.1 1.9 0.1 1.9 0 1.8 0.1 1.9 0 1.9 0 1.9 0 1.8 0 1.9 0 1.9 0 1.9 0 1.8 0 1.9 0 1.9 0 1.8 0 1.9 0 1.9 0 1.9 0 1.8-0.1 1.9 0 1.9 0 1.9-0.1 1.8 0 1.9 0 1.9 0 1.8 0.1 1.9 0 1.9 0 1.9 0 1.8 0 1.9 0 1.9 0 1.9 0" fill="none" stroke="#C56E1A" stroke-width="6.3" stroke-linejoin="round" stroke-linecap="square"/>
<path d="M1293.8 700.1l1.8 0 1.9 0 1.9-0.1 1.8 0 1.9 0 1.9-0.1 1.9 0 1.8 0 1.9-0.1 1.9 0 1.8-0.1 1.9 0 1.9 0 1.9-0.1 1.8-0.1 1.9 0 1.9-0.1 1.9 0 1.8-0.1 1.9-0.1 1.9 0 1.8-0.1 1.9-0.1 1.9-0.1 1.9 0 1.8-0.1 1.9-0.1 1.9-0.1 1.9-0.1 1.8-0.1 1.9-0.1 1.9-0.2 1.8-0.1 1.9-0.1 1.9-0.1 1.9-0.2 1.8-0.1 1.9-0.2 1.9-0.1 1.9-0.2 1.8-0.2 1.9-0.1 1.9-0.2 1.8-0.2 1.9-0.2 1.9-0.2 1.9-0.2 1.8-0.3 1.9-0.2 1.9-0.2 1.9-0.3 1.8-0.2 1.9-0.3 1.9-0.3 1.8-0.3 1.9-0.3 1.9-0.3 1.9-0.3 1.8-0.4 1.9-0.3 1.9-0.3 1.9-0.4 1.8-0.4 1.9-0.4 1.9-0.4 1.8-0.4 1.9-0.4 1.9-0.5 1.9-0.4 1.8-0.5 1.9-0.5 1.9-0.5 1.8-0.5 1.9-0.5 1.9-0.6 1.9-0.5 1.8-0.6 1.9-0.6 1.9-0.6 1.9-0.6 1.8-0.6 1.9-0.7 1.9-0.7 1.8-0.7 1.9-0.7 1.9-0.7 1.9-0.8 1.8-0.7 1.9-0.8 1.9-0.8 1.9-0.8 1.8-0.9 1.9-0.9 1.9-0.9 1.8-0.9 1.9-0.9 1.9-1 1.9-1 1.8-1 1.9-1 1.9-1.1 1.9-1.1 1.8-1.1 1.9-1.1 1.9-1.2 1.8-1.1 1.9-1.2 1.9-1.2 1.9-1.3 1.8-1.2 1.9-1.3 1.9-1.3 1.9-1.3 1.8-1.3 1.9-1.4 1.9-1.3 1.8-1.4 1.9-1.3 1.9-1.4 1.9-1.4 1.8-1.4 1.9-1.5 1.9-1.4 1.9-1.4 1.8-1.5 1.9-1.4 1.9-1.5 1.8-1.5 1.9-1.5 1.9-1.6 1.9-1.5 1.8-1.6 1.9-1.6 1.9-1.6 1.9-1.6 1.8-1.7 1.9-1.7 1.9-1.7 1.8-1.8 1.9-1.8 1.9-1.9 1.9-1.8 1.8-2 1.9-1.9 1.9-2 1.8-2.1 1.9-2 1.9-2.1 1.9-2.2 1.8-2.1 1.9-2.2 1.9-2.2 1.9-2.2 1.8-2.3 1.9-2.2 1.9-2.2 1.8-2.2 1.9-2.2 1.9-2.1 1.9-2.1 1.8-2.1 1.9-2 1.9-2 1.9-1.9 1.8-1.9 1.9-1.7 1.9-1.8 1.8-1.6 1.9-1.6 1.9-1.5 1.9-1.4 1.8-1.4 1.9-1.3 1.9-1.2 1.9-1.2 1.8-1.2 1.9-1.2 1.9-1.1 1.8-1.1 1.9-1.1 1.9-1.2 1.9-1.1 1.8-1.2 1.9-1.3 1.9-1.3 1.9-1.4 1.8-1.4 1.9-1.5 1.9-1.7 1.8-1.7 1.9-1.8 1.9-1.8 1.9-2 1.8-2 1.9-2.1 1.9-2.2 1.9-2.2 1.8-2.3 1.9-2.2 1.9-2.3 1.8-2.3 1.9-2.2 1.9-2.1 1.9-2.1 1.8-2 1.9-1.9 1.9-1.7 1.9-1.6 1.8-1.4 1.9-1.2 1.9-1 1.8-0.9 1.9-0.6 1.9-0.4 1.9-0.2 1.8 0 1.9 0.3 1.9 0.4 1.8 0.6 1.9 0.8 1.9 0.9 1.9 1.1 1.8 1.1 1.9 1.3 1.9 1.3 1.9 1.3 1.8 1.4 1.9 1.4 1.9 1.3 1.8 1.2 1.9 1.2 1.9 1.1 1.9 0.9 1.8 0.8 1.9 0.7 1.9 0.5 1.9 0.4 1.8 0.1 1.9 0.1 1.9-0.2 1.8-0.3 1.9-0.4 1.9-0.5 1.9-0.6 1.8-0.7 1.9-0.8 1.9-0.8 1.9-0.8 1.8-0.7 1.9-0.7 1.9-0.7 1.8-0.5 1.9-0.5 1.9-0.2 1.9-0.1 1.8 0 1.9 0.3 1.9 0.5 1.9 0.7 1.8 0.9 1.9 1.2 1.9 1.4 1.8 1.5 1.9 1.8 1.9 2 1.9 2.2 1.8 2.4 1.9 2.4 1.9 2.6 1.9 2.7 1.8 2.8 1.9 2.9 1.9 2.8 1.8 2.9 1.9 2.8 1.9 2.8 1.9 2.8 1.8 2.6 1.9 2.6 1.9 2.5 1.9 2.3 1.8 2.2 1.9 2.1 1.9 1.9 1.8 1.8 1.9 1.6 1.9 1.6 1.9 1.4 1.8 1.2 1.9 1.2 1.9 1.1 1.8 1 1.9 0.9 1.9 0.9 1.9 0.9 1.8 0.8 1.9 0.9 1.9 0.8 1.9 0.9 1.8 0.9 1.9 1 1.9 1.1 1.8 1.1 1.9 1.2 1.9 1.2 1.9 1.4 1.8 1.4 1.9 1.6 1.9 1.6 1.9 1.7 1.8 1.8 1.9 1.8 1.9 1.9 1.8 2 1.9 2 1.9 2.1 1.9 2 1.8 2.1 1.9 2.1 1.9 2.1 1.9 2.1 1.8 2.1 1.9 2 1.9 2 1.8 2 1.9 1.9 1.9 1.9 1.9 1.8 1.8 1.7 1.9 1.7 1.9 1.6 1.9 1.6 1.8 1.5 1.9 1.4 1.9 1.4 1.8 1.4 1.9 1.3 1.9 1.2 1.9 1.2 1.8 1.2 1.9 1.1 1.9 1.2 1.9 1 1.8 1.1 1.9 1.1 1.9 1 1.8 1 1.9 1.1 1.9 1 1.9 1 1.8 1 1.9 1 1.9 1.1 1.9 1 1.8 1 1.9 1 1.9 1.1 1.8 1 1.9 1 1.9 1 1.9 1 1.8 1 1.9 1 1.9 1 1.8 1 1.9 1 1.9 1 1.9 0.9 1.8 0.9 1.9 0.9 1.9 0.9 1.9 0.9 1.8 0.9 1.9 0.8 1.9 0.8 1.8 0.8 1.9 0.8 1.9 0.7 1.9 0.8 1.8 0.7 1.9 0.7 1.9 0.7 1.9 0.6 1.8 0.7 1.9 0.6 1.9 0.6 1.8 0.6 1.9 0.6 1.9 0.5 1.9 0.6 1.8 0.5 1.9 0.6 1.9 0.5 1.9 0.5 1.8 0.5 1.9 0.4 1.9 0.5 1.8 0.5 1.9 0.4 1.9 0.5 1.9 0.4 1.8 0.4 1.9 0.4 1.9 0.4 1.9 0.4 1.8 0.4 1.9 0.4 1.9 0.4 1.8 0.3 1.9 0.4 1.9 0.3 1.9 0.4 1.8 0.3 1.9 0.3 1.9 0.3 1.9 0.3 1.8 0.3 1.9 0.3 1.9 0.3 1.8 0.3 1.9 0.3 1.9 0.2 1.9 0.3 1.8 0.2 1.9 0.3 1.9 0.2 1.9 0.2 1.8 0.2 1.9 0.2 1.9 0.2 1.8 0.2 1.9 0.2 1.9 0.2 1.9 0.2 1.8 0.2 1.9 0.2 1.9 0.1 1.8 0.2 1.9 0.1 1.9 0.2 1.9 0.1 1.8 0.2 1.9 0.1 1.9 0.2 1.9 0.1 1.8 0.1 1.9 0.1 1.9 0.2 1.8 0.1 1.9 0.1 1.9 0.1 1.9 0.1 1.8 0.1 1.9 0.2 1.9 0.1 1.9 0.1 1.8 0.1 1.9 0.1 1.9 0.1 1.8 0.1 1.9 0.1 1.9 0.1 1.9 0.1 1.8 0.1 1.9 0 1.9 0.1 1.9 0.1 1.8 0.1 1.9 0 1.9 0.1 1.8 0.1 1.9 0 1.9 0 1.9 0.1 1.8 0 1.9 0 1.9 0.1 1.9 0 1.8 0 1.9 0 1.9 0 1.8 0 1.9 0.1 1.9 0 1.9 0 1.8 0 1.9 0 1.9 0 1.9 0 1.8 0 1.9 0 1.9 0 1.8 0.1 1.9 0 1.9 0 1.9 0 1.8 0.1 1.9 0 1.9 0 1.9 0" fill="none" stroke="#5D9EC7" stroke-width="6.3" stroke-linejoin="round" stroke-linecap="square"/>
<path d="M1293.8 700l1.8-0.1 1.9 0 1.9-0.1 1.8 0 1.9 0 1.9-0.1 1.9 0 1.8-0.1 1.9 0 1.9-0.1 1.8-0.1 1.9 0 1.9-0.1 1.9-0.1 1.8 0 1.9-0.1 1.9-0.1 1.9-0.1 1.8-0.1 1.9 0 1.9-0.1 1.8-0.1 1.9-0.1 1.9-0.2 1.9-0.1 1.8-0.1 1.9-0.1 1.9-0.1 1.9-0.2 1.8-0.1 1.9-0.2 1.9-0.1 1.8-0.2 1.9-0.1 1.9-0.2 1.9-0.2 1.8-0.2 1.9-0.2 1.9-0.2 1.9-0.2 1.8-0.2 1.9-0.2 1.9-0.2 1.8-0.3 1.9-0.2 1.9-0.3 1.9-0.2 1.8-0.3 1.9-0.3 1.9-0.3 1.9-0.3 1.8-0.3 1.9-0.3 1.9-0.4 1.8-0.3 1.9-0.4 1.9-0.4 1.9-0.3 1.8-0.4 1.9-0.4 1.9-0.5 1.9-0.4 1.8-0.4 1.9-0.5 1.9-0.5 1.8-0.5 1.9-0.4 1.9-0.6 1.9-0.5 1.8-0.5 1.9-0.6 1.9-0.6 1.8-0.5 1.9-0.6 1.9-0.7 1.9-0.6 1.8-0.6 1.9-0.7 1.9-0.7 1.9-0.7 1.8-0.7 1.9-0.7 1.9-0.8 1.8-0.7 1.9-0.8 1.9-0.8 1.9-0.8 1.8-0.9 1.9-0.8 1.9-0.9 1.9-0.9 1.8-0.9 1.9-1 1.9-0.9 1.8-1 1.9-1 1.9-1.1 1.9-1 1.8-1.1 1.9-1.1 1.9-1.1 1.9-1.1 1.8-1.2 1.9-1.2 1.9-1.2 1.8-1.2 1.9-1.2 1.9-1.3 1.9-1.3 1.8-1.2 1.9-1.4 1.9-1.3 1.9-1.3 1.8-1.4 1.9-1.3 1.9-1.4 1.8-1.4 1.9-1.4 1.9-1.4 1.9-1.4 1.8-1.4 1.9-1.5 1.9-1.4 1.9-1.5 1.8-1.4 1.9-1.5 1.9-1.5 1.8-1.5 1.9-1.5 1.9-1.5 1.9-1.5 1.8-1.6 1.9-1.6 1.9-1.5 1.9-1.7 1.8-1.6 1.9-1.7 1.9-1.6 1.8-1.8 1.9-1.7 1.9-1.8 1.9-1.8 1.8-1.8 1.9-1.9 1.9-1.9 1.8-1.9 1.9-2 1.9-2 1.9-2 1.8-2 1.9-2.1 1.9-2 1.9-2.1 1.8-2.1 1.9-2.1 1.9-2 1.8-2 1.9-2.1 1.9-2 1.9-1.9 1.8-1.9 1.9-1.9 1.9-1.8 1.9-1.8 1.8-1.6 1.9-1.7 1.9-1.5 1.8-1.5 1.9-1.5 1.9-1.3 1.9-1.3 1.8-1.3 1.9-1.1 1.9-1.2 1.9-1.1 1.8-1 1.9-1 1.9-1 1.8-1 1.9-1 1.9-1 1.9-1 1.8-1.1 1.9-1 1.9-1.2 1.9-1.2 1.8-1.3 1.9-1.3 1.9-1.4 1.8-1.5 1.9-1.6 1.9-1.6 1.9-1.7 1.8-1.8 1.9-1.9 1.9-1.9 1.9-1.9 1.8-2 1.9-2 1.9-2 1.8-2 1.9-1.9 1.9-1.9 1.9-1.8 1.8-1.7 1.9-1.6 1.9-1.5 1.9-1.3 1.8-1.2 1.9-1.1 1.9-0.8 1.8-0.6 1.9-0.5 1.9-0.3 1.9 0 1.8 0.1 1.9 0.3 1.9 0.5 1.8 0.7 1.9 0.8 1.9 1 1.9 1 1.8 1.2 1.9 1.3 1.9 1.3 1.9 1.3 1.8 1.4 1.9 1.3 1.9 1.3 1.8 1.2 1.9 1.2 1.9 1 1.9 1 1.8 0.8 1.9 0.7 1.9 0.5 1.9 0.4 1.8 0.2 1.9 0.1 1.9-0.1 1.8-0.2 1.9-0.3 1.9-0.5 1.9-0.5 1.8-0.6 1.9-0.6 1.9-0.7 1.9-0.7 1.8-0.7 1.9-0.6 1.9-0.5 1.8-0.5 1.9-0.3 1.9-0.2 1.9-0.1 1.8 0.1 1.9 0.3 1.9 0.5 1.9 0.7 1.8 0.9 1.9 1.1 1.9 1.3 1.8 1.6 1.9 1.6 1.9 1.9 1.9 2.1 1.8 2.1 1.9 2.4 1.9 2.4 1.9 2.5 1.8 2.6 1.9 2.6 1.9 2.6 1.8 2.7 1.9 2.6 1.9 2.6 1.9 2.5 1.8 2.4 1.9 2.4 1.9 2.2 1.9 2.2 1.8 2 1.9 1.9 1.9 1.7 1.8 1.7 1.9 1.5 1.9 1.4 1.9 1.2 1.8 1.2 1.9 1.1 1.9 0.9 1.8 1 1.9 0.8 1.9 0.8 1.9 0.8 1.8 0.8 1.9 0.8 1.9 0.8 1.9 0.8 1.8 0.8 1.9 0.9 1.9 1 1.8 1 1.9 1.1 1.9 1.2 1.9 1.3 1.8 1.3 1.9 1.4 1.9 1.5 1.9 1.6 1.8 1.6 1.9 1.7 1.9 1.8 1.8 1.8 1.9 1.9 1.9 1.9 1.9 1.9 1.8 1.9 1.9 1.9 1.9 2 1.9 1.9 1.8 1.9 1.9 1.9 1.9 1.8 1.8 1.8 1.9 1.8 1.9 1.7 1.9 1.6 1.8 1.7 1.9 1.5 1.9 1.5 1.9 1.5 1.8 1.4 1.9 1.3 1.9 1.3 1.8 1.3 1.9 1.2 1.9 1.2 1.9 1.1 1.8 1.1 1.9 1.1 1.9 1 1.9 1.1 1.8 1 1.9 1 1.9 1 1.8 1 1.9 1 1.9 0.9 1.9 1 1.8 1 1.9 1 1.9 1 1.9 0.9 1.8 1 1.9 1 1.9 1 1.8 1 1.9 1 1.9 1 1.9 1 1.8 0.9 1.9 1 1.9 1 1.8 0.9 1.9 1 1.9 0.9 1.9 0.9 1.8 0.9 1.9 0.9 1.9 0.9 1.9 0.8 1.8 0.8 1.9 0.9 1.9 0.8 1.8 0.8 1.9 0.7 1.9 0.8 1.9 0.7 1.8 0.7 1.9 0.7 1.9 0.7 1.9 0.6 1.8 0.7 1.9 0.6 1.9 0.6 1.8 0.6 1.9 0.6 1.9 0.6 1.9 0.6 1.8 0.5 1.9 0.6 1.9 0.5 1.9 0.5 1.8 0.5 1.9 0.5 1.9 0.5 1.8 0.5 1.9 0.5 1.9 0.4 1.9 0.5 1.8 0.4 1.9 0.5 1.9 0.4 1.9 0.4 1.8 0.4 1.9 0.5 1.9 0.4 1.8 0.3 1.9 0.4 1.9 0.4 1.9 0.4 1.8 0.3 1.9 0.4 1.9 0.3 1.9 0.3 1.8 0.4 1.9 0.3 1.9 0.3 1.8 0.3 1.9 0.3 1.9 0.3 1.9 0.3 1.8 0.2 1.9 0.3 1.9 0.3 1.9 0.2 1.8 0.3 1.9 0.2 1.9 0.2 1.8 0.3 1.9 0.2 1.9 0.2 1.9 0.2 1.8 0.2 1.9 0.2 1.9 0.2 1.8 0.2 1.9 0.2 1.9 0.1 1.9 0.2 1.8 0.2 1.9 0.2 1.9 0.1 1.9 0.2 1.8 0.1 1.9 0.2 1.9 0.1 1.8 0.2 1.9 0.1 1.9 0.1 1.9 0.2 1.8 0.1 1.9 0.1 1.9 0.1 1.9 0.2 1.8 0.1 1.9 0.1 1.9 0.1 1.8 0.1 1.9 0.1 1.9 0.1 1.9 0.2 1.8 0.1 1.9 0.1 1.9 0 1.9 0.1 1.8 0.1 1.9 0.1 1.9 0.1 1.8 0 1.9 0.1 1.9 0.1 1.9 0 1.8 0.1 1.9 0 1.9 0.1 1.9 0 1.8 0 1.9 0.1 1.9 0 1.8 0.1 1.9 0 1.9 0 1.9 0 1.8 0.1 1.9 0 1.9 0 1.9 0.1 1.8 0 1.9 0 1.9 0.1 1.8 0 1.9 0 1.9 0.1 1.9 0 1.8 0 1.9 0.1 1.9 0 1.9 0" fill="none" stroke="#FFBF00" stroke-width="6.3" stroke-linejoin="round" stroke-linecap="square"/>
<path d="M1293.8 699.8l1.8-0.1 1.9 0 1.9-0.1 1.8-0.1 1.9 0 1.9-0.1 1.9 0 1.8-0.1 1.9-0.1 1.9-0.1 1.8 0 1.9-0.1 1.9-0.1 1.9-0.1 1.8-0.1 1.9-0.1 1.9-0.1 1.9-0.1 1.8-0.1 1.9-0.1 1.9-0.2 1.8-0.1 1.9-0.1 1.9-0.2 1.9-0.1 1.8-0.2 1.9-0.1 1.9-0.2 1.9-0.1 1.8-0.2 1.9-0.2 1.9-0.2 1.8-0.2 1.9-0.2 1.9-0.2 1.9-0.2 1.8-0.2 1.9-0.3 1.9-0.2 1.9-0.3 1.8-0.2 1.9-0.3 1.9-0.3 1.8-0.3 1.9-0.3 1.9-0.3 1.9-0.3 1.8-0.3 1.9-0.4 1.9-0.3 1.9-0.4 1.8-0.3 1.9-0.4 1.9-0.4 1.8-0.4 1.9-0.4 1.9-0.5 1.9-0.4 1.8-0.5 1.9-0.4 1.9-0.5 1.9-0.5 1.8-0.5 1.9-0.5 1.9-0.6 1.8-0.5 1.9-0.6 1.9-0.5 1.9-0.6 1.8-0.6 1.9-0.7 1.9-0.6 1.8-0.6 1.9-0.7 1.9-0.7 1.9-0.7 1.8-0.7 1.9-0.7 1.9-0.8 1.9-0.7 1.8-0.8 1.9-0.8 1.9-0.8 1.8-0.8 1.9-0.9 1.9-0.9 1.9-0.8 1.8-0.9 1.9-1 1.9-0.9 1.9-1 1.8-0.9 1.9-1 1.9-1 1.8-1.1 1.9-1 1.9-1.1 1.9-1.1 1.8-1.1 1.9-1.1 1.9-1.2 1.9-1.2 1.8-1.2 1.9-1.2 1.9-1.2 1.8-1.3 1.9-1.2 1.9-1.3 1.9-1.3 1.8-1.3 1.9-1.3 1.9-1.4 1.9-1.3 1.8-1.4 1.9-1.4 1.9-1.3 1.8-1.4 1.9-1.4 1.9-1.5 1.9-1.4 1.8-1.4 1.9-1.4 1.9-1.5 1.9-1.4 1.8-1.5 1.9-1.4 1.9-1.5 1.8-1.5 1.9-1.5 1.9-1.5 1.9-1.5 1.8-1.5 1.9-1.5 1.9-1.6 1.9-1.5 1.8-1.6 1.9-1.6 1.9-1.7 1.8-1.6 1.9-1.7 1.9-1.7 1.9-1.7 1.8-1.8 1.9-1.8 1.9-1.8 1.8-1.8 1.9-1.8 1.9-1.9 1.9-1.9 1.8-1.9 1.9-1.9 1.9-1.9 1.9-2 1.8-1.9 1.9-1.9 1.9-1.9 1.8-1.9 1.9-1.9 1.9-1.8 1.9-1.8 1.8-1.8 1.9-1.7 1.9-1.7 1.9-1.6 1.8-1.5 1.9-1.5 1.9-1.5 1.8-1.3 1.9-1.3 1.9-1.3 1.9-1.1 1.8-1.2 1.9-1 1.9-1 1.9-1 1.8-0.9 1.9-0.9 1.9-0.9 1.8-0.9 1.9-0.8 1.9-0.9 1.9-0.9 1.8-0.9 1.9-1 1.9-1 1.9-1 1.8-1.1 1.9-1.2 1.9-1.2 1.8-1.3 1.9-1.4 1.9-1.5 1.9-1.5 1.8-1.6 1.9-1.6 1.9-1.7 1.9-1.7 1.8-1.8 1.9-1.7 1.9-1.8 1.8-1.7 1.9-1.7 1.9-1.7 1.9-1.6 1.8-1.5 1.9-1.4 1.9-1.3 1.9-1.1 1.8-1 1.9-0.9 1.9-0.6 1.8-0.6 1.9-0.3 1.9-0.1 1.9 0 1.8 0.2 1.9 0.4 1.9 0.5 1.8 0.8 1.9 0.8 1.9 1 1.9 1.1 1.8 1.2 1.9 1.2 1.9 1.3 1.9 1.3 1.8 1.4 1.9 1.3 1.9 1.3 1.8 1.2 1.9 1.1 1.9 1.1 1.9 0.9 1.8 0.8 1.9 0.7 1.9 0.6 1.9 0.4 1.8 0.2 1.9 0.1 1.9 0 1.8-0.1 1.9-0.3 1.9-0.4 1.9-0.4 1.8-0.5 1.9-0.6 1.9-0.6 1.9-0.6 1.8-0.6 1.9-0.5 1.9-0.5 1.8-0.4 1.9-0.3 1.9-0.1 1.9 0 1.8 0.1 1.9 0.3 1.9 0.5 1.9 0.7 1.8 0.9 1.9 1 1.9 1.3 1.8 1.4 1.9 1.6 1.9 1.8 1.9 1.9 1.8 2.1 1.9 2.1 1.9 2.3 1.9 2.3 1.8 2.5 1.9 2.4 1.9 2.5 1.8 2.4 1.9 2.5 1.9 2.4 1.9 2.3 1.8 2.3 1.9 2.1 1.9 2.1 1.9 2 1.8 1.8 1.9 1.8 1.9 1.6 1.8 1.5 1.9 1.4 1.9 1.3 1.9 1.1 1.8 1.1 1.9 1 1.9 0.9 1.8 0.8 1.9 0.8 1.9 0.7 1.9 0.8 1.8 0.7 1.9 0.7 1.9 0.7 1.9 0.8 1.8 0.8 1.9 0.8 1.9 0.9 1.8 1 1.9 1 1.9 1.1 1.9 1.2 1.8 1.2 1.9 1.3 1.9 1.4 1.9 1.5 1.8 1.5 1.9 1.6 1.9 1.6 1.8 1.7 1.9 1.7 1.9 1.8 1.9 1.7 1.8 1.8 1.9 1.8 1.9 1.8 1.9 1.8 1.8 1.7 1.9 1.7 1.9 1.7 1.8 1.7 1.9 1.6 1.9 1.6 1.9 1.6 1.8 1.4 1.9 1.5 1.9 1.4 1.9 1.3 1.8 1.3 1.9 1.3 1.9 1.2 1.8 1.2 1.9 1.1 1.9 1.1 1.9 1.1 1.8 1 1.9 1.1 1.9 1 1.9 0.9 1.8 1 1.9 1 1.9 0.9 1.8 1 1.9 0.9 1.9 1 1.9 0.9 1.8 0.9 1.9 1 1.9 0.9 1.9 1 1.8 0.9 1.9 1 1.9 0.9 1.8 1 1.9 0.9 1.9 1 1.9 0.9 1.8 0.9 1.9 1 1.9 0.9 1.8 0.9 1.9 0.9 1.9 0.9 1.9 0.9 1.8 0.9 1.9 0.8 1.9 0.9 1.9 0.8 1.8 0.8 1.9 0.8 1.9 0.8 1.8 0.8 1.9 0.7 1.9 0.8 1.9 0.7 1.8 0.7 1.9 0.7 1.9 0.6 1.9 0.7 1.8 0.6 1.9 0.7 1.9 0.6 1.8 0.6 1.9 0.6 1.9 0.6 1.9 0.5 1.8 0.6 1.9 0.6 1.9 0.5 1.9 0.5 1.8 0.6 1.9 0.5 1.9 0.5 1.8 0.5 1.9 0.5 1.9 0.4 1.9 0.5 1.8 0.5 1.9 0.4 1.9 0.5 1.9 0.4 1.8 0.4 1.9 0.5 1.9 0.4 1.8 0.4 1.9 0.4 1.9 0.4 1.9 0.4 1.8 0.3 1.9 0.4 1.9 0.4 1.9 0.3 1.8 0.4 1.9 0.3 1.9 0.3 1.8 0.4 1.9 0.3 1.9 0.3 1.9 0.3 1.8 0.3 1.9 0.3 1.9 0.3 1.9 0.2 1.8 0.3 1.9 0.3 1.9 0.2 1.8 0.3 1.9 0.2 1.9 0.3 1.9 0.2 1.8 0.2 1.9 0.3 1.9 0.2 1.8 0.2 1.9 0.2 1.9 0.2 1.9 0.2 1.8 0.2 1.9 0.2 1.9 0.2 1.9 0.1 1.8 0.2 1.9 0.2 1.9 0.2 1.8 0.1 1.9 0.2 1.9 0.1 1.9 0.2 1.8 0.1 1.9 0.2 1.9 0.1 1.9 0.2 1.8 0.1 1.9 0.1 1.9 0.2 1.8 0.1 1.9 0.1 1.9 0.1 1.9 0.2 1.8 0.1 1.9 0.1 1.9 0.1 1.9 0.1 1.8 0.1 1.9 0.1 1.9 0.1 1.8 0.1 1.9 0.1 1.9 0 1.9 0.1 1.8 0.1 1.9 0 1.9 0.1 1.9 0.1 1.8 0 1.9 0.1 1.9 0.1 1.8 0 1.9 0 1.9 0.1 1.9 0 1.8 0.1 1.9 0.1 1.9 0 1.9 0.1 1.8 0 1.9 0 1.9 0.1 1.8 0 1.9 0.1 1.9 0 1.9 0.1 1.8 0 1.9 0 1.9 0.1 1.9 0" fill="none" stroke="#A5609D" stroke-width="6.3" stroke-linejoin="round" stroke-linecap="square"/>
<path d="M1293.8 699.5l1.8-0.1 1.9 0 1.9-0.1 1.8-0.1 1.9-0.1 1.9 0 1.9-0.1 1.8-0.1 1.9-0.1 1.9-0.1 1.8-0.1 1.9-0.1 1.9-0.1 1.9-0.1 1.8-0.2 1.9-0.1 1.9-0.1 1.9-0.2 1.8-0.1 1.9-0.1 1.9-0.2 1.8-0.2 1.9-0.1 1.9-0.2 1.9-0.2 1.8-0.2 1.9-0.1 1.9-0.2 1.9-0.2 1.8-0.3 1.9-0.2 1.9-0.2 1.8-0.2 1.9-0.3 1.9-0.2 1.9-0.3 1.8-0.3 1.9-0.2 1.9-0.3 1.9-0.3 1.8-0.3 1.9-0.4 1.9-0.3 1.8-0.3 1.9-0.4 1.9-0.3 1.9-0.4 1.8-0.4 1.9-0.3 1.9-0.4 1.9-0.5 1.8-0.4 1.9-0.4 1.9-0.5 1.8-0.4 1.9-0.5 1.9-0.5 1.9-0.5 1.8-0.5 1.9-0.5 1.9-0.5 1.9-0.6 1.8-0.6 1.9-0.5 1.9-0.6 1.8-0.6 1.9-0.6 1.9-0.7 1.9-0.6 1.8-0.7 1.9-0.7 1.9-0.7 1.8-0.7 1.9-0.7 1.9-0.7 1.9-0.8 1.8-0.7 1.9-0.8 1.9-0.8 1.9-0.8 1.8-0.9 1.9-0.8 1.9-0.9 1.8-0.9 1.9-0.9 1.9-0.9 1.9-0.9 1.8-1 1.9-0.9 1.9-1 1.9-1 1.8-1 1.9-1.1 1.9-1 1.8-1.1 1.9-1.1 1.9-1.1 1.9-1.1 1.8-1.2 1.9-1.1 1.9-1.2 1.9-1.2 1.8-1.2 1.9-1.2 1.9-1.3 1.8-1.2 1.9-1.3 1.9-1.3 1.9-1.3 1.8-1.3 1.9-1.4 1.9-1.3 1.9-1.4 1.8-1.3 1.9-1.4 1.9-1.4 1.8-1.4 1.9-1.4 1.9-1.4 1.9-1.4 1.8-1.4 1.9-1.4 1.9-1.4 1.9-1.5 1.8-1.4 1.9-1.4 1.9-1.5 1.8-1.4 1.9-1.5 1.9-1.5 1.9-1.4 1.8-1.5 1.9-1.5 1.9-1.5 1.9-1.5 1.8-1.6 1.9-1.5 1.9-1.6 1.8-1.6 1.9-1.6 1.9-1.6 1.9-1.6 1.8-1.7 1.9-1.7 1.9-1.7 1.8-1.7 1.9-1.7 1.9-1.8 1.9-1.7 1.8-1.8 1.9-1.8 1.9-1.8 1.9-1.8 1.8-1.8 1.9-1.8 1.9-1.7 1.8-1.8 1.9-1.7 1.9-1.7 1.9-1.7 1.8-1.6 1.9-1.6 1.9-1.5 1.9-1.5 1.8-1.4 1.9-1.4 1.9-1.3 1.8-1.2 1.9-1.2 1.9-1.2 1.9-1 1.8-1 1.9-1 1.9-0.9 1.9-0.9 1.8-0.8 1.9-0.8 1.9-0.8 1.8-0.7 1.9-0.8 1.9-0.8 1.9-0.7 1.8-0.8 1.9-0.9 1.9-0.8 1.9-1 1.8-0.9 1.9-1 1.9-1.1 1.8-1.2 1.9-1.2 1.9-1.3 1.9-1.3 1.8-1.4 1.9-1.5 1.9-1.4 1.9-1.6 1.8-1.5 1.9-1.6 1.9-1.5 1.8-1.6 1.9-1.5 1.9-1.5 1.9-1.4 1.8-1.3 1.9-1.2 1.9-1.1 1.9-1 1.8-0.9 1.9-0.7 1.9-0.6 1.8-0.4 1.9-0.2 1.9-0.1 1.9 0.2 1.8 0.2 1.9 0.5 1.9 0.6 1.8 0.7 1.9 0.9 1.9 1 1.9 1.1 1.8 1.2 1.9 1.2 1.9 1.3 1.9 1.3 1.8 1.3 1.9 1.3 1.9 1.3 1.8 1.2 1.9 1.1 1.9 1.1 1.9 0.9 1.8 0.8 1.9 0.7 1.9 0.6 1.9 0.4 1.8 0.3 1.9 0.1 1.9 0.1 1.8-0.1 1.9-0.3 1.9-0.3 1.9-0.4 1.8-0.4 1.9-0.5 1.9-0.6 1.9-0.5 1.8-0.5 1.9-0.5 1.9-0.4 1.8-0.3 1.9-0.3 1.9-0.1 1.9 0 1.8 0.2 1.9 0.3 1.9 0.5 1.9 0.7 1.8 0.8 1.9 1 1.9 1.2 1.8 1.4 1.9 1.5 1.9 1.7 1.9 1.8 1.8 1.9 1.9 2.1 1.9 2.1 1.9 2.2 1.8 2.3 1.9 2.3 1.9 2.3 1.8 2.3 1.9 2.3 1.9 2.2 1.9 2.2 1.8 2.1 1.9 2.1 1.9 1.9 1.9 1.8 1.8 1.8 1.9 1.6 1.9 1.5 1.8 1.4 1.9 1.2 1.9 1.2 1.9 1.1 1.8 1 1.9 0.9 1.9 0.8 1.8 0.8 1.9 0.7 1.9 0.7 1.9 0.7 1.8 0.6 1.9 0.7 1.9 0.7 1.9 0.7 1.8 0.7 1.9 0.8 1.9 0.9 1.8 0.9 1.9 0.9 1.9 1.1 1.9 1 1.8 1.2 1.9 1.3 1.9 1.3 1.9 1.3 1.8 1.4 1.9 1.5 1.9 1.5 1.8 1.6 1.9 1.6 1.9 1.6 1.9 1.6 1.8 1.7 1.9 1.6 1.9 1.7 1.9 1.6 1.8 1.7 1.9 1.6 1.9 1.5 1.8 1.6 1.9 1.5 1.9 1.4 1.9 1.5 1.8 1.4 1.9 1.3 1.9 1.3 1.9 1.3 1.8 1.2 1.9 1.1 1.9 1.2 1.8 1.1 1.9 1 1.9 1.1 1.9 1 1.8 1 1.9 1 1.9 0.9 1.9 0.9 1.8 1 1.9 0.9 1.9 0.9 1.8 0.9 1.9 0.9 1.9 0.9 1.9 0.9 1.8 0.9 1.9 0.9 1.9 0.9 1.9 0.9 1.8 0.9 1.9 1 1.9 0.9 1.8 0.9 1.9 0.9 1.9 0.9 1.9 0.9 1.8 0.9 1.9 0.9 1.9 0.9 1.8 0.8 1.9 0.9 1.9 0.9 1.9 0.8 1.8 0.9 1.9 0.8 1.9 0.8 1.9 0.8 1.8 0.8 1.9 0.8 1.9 0.7 1.8 0.8 1.9 0.7 1.9 0.7 1.9 0.7 1.8 0.7 1.9 0.7 1.9 0.6 1.9 0.7 1.8 0.6 1.9 0.6 1.9 0.7 1.8 0.6 1.9 0.5 1.9 0.6 1.9 0.6 1.8 0.6 1.9 0.5 1.9 0.6 1.9 0.5 1.8 0.5 1.9 0.5 1.9 0.6 1.8 0.5 1.9 0.5 1.9 0.4 1.9 0.5 1.8 0.5 1.9 0.5 1.9 0.4 1.9 0.5 1.8 0.4 1.9 0.4 1.9 0.5 1.8 0.4 1.9 0.4 1.9 0.4 1.9 0.4 1.8 0.4 1.9 0.4 1.9 0.4 1.9 0.3 1.8 0.4 1.9 0.4 1.9 0.3 1.8 0.4 1.9 0.3 1.9 0.3 1.9 0.3 1.8 0.4 1.9 0.3 1.9 0.3 1.9 0.3 1.8 0.3 1.9 0.2 1.9 0.3 1.8 0.3 1.9 0.3 1.9 0.2 1.9 0.3 1.8 0.2 1.9 0.3 1.9 0.2 1.8 0.2 1.9 0.3 1.9 0.2 1.9 0.2 1.8 0.2 1.9 0.2 1.9 0.2 1.9 0.2 1.8 0.2 1.9 0.2 1.9 0.2 1.8 0.2 1.9 0.2 1.9 0.2 1.9 0.1 1.8 0.2 1.9 0.2 1.9 0.1 1.9 0.2 1.8 0.1 1.9 0.2 1.9 0.1 1.8 0.2 1.9 0.1 1.9 0.2 1.9 0.1 1.8 0.1 1.9 0.2 1.9 0.1 1.9 0.1 1.8 0.1 1.9 0.1 1.9 0.1 1.8 0.1 1.9 0.1 1.9 0.1 1.9 0.1 1.8 0.1 1.9 0.1 1.9 0.1 1.9 0.1 1.8 0.1 1.9 0 1.9 0.1 1.8 0.1 1.9 0 1.9 0.1 1.9 0.1 1.8 0.1 1.9 0 1.9 0.1 1.9 0 1.8 0.1 1.9 0.1 1.9 0 1.8 0.1 1.9 0 1.9 0.1 1.9 0 1.8 0.1 1.9 0 1.9 0.1 1.9 0" fill="none" stroke="#929600" stroke-width="6.3" stroke-linejoin="round" stroke-linecap="square"/>
<path d="M1761.9 141.6V744.4" stroke="#000" stroke-width="2"/>
<path d="M1387.4 744.4v-11.4M1387.4 141.6v11.4M1574.6 744.4v-11.4M1574.6 141.6v11.4M1761.9 744.4v-11.4M1761.9 141.6v11.4M1949.2 744.4v-11.4M1949.2 141.6v11.4M2136.4 744.4v-11.4M2136.4 141.6v11.4M1293.8 744.4v-7.2M1293.8 141.6v7.2M1340.6 744.4v-7.2M1340.6 141.6v7.2M1434.2 744.4v-7.2M1434.2 141.6v7.2M1481.0 744.4v-7.2M1481.0 141.6v7.2M1527.8 744.4v-7.2M1527.8 141.6v7.2M1621.5 744.4v-7.2M1621.5 141.6v7.2M1668.3 744.4v-7.2M1668.3 141.6v7.2M1715.1 744.4v-7.2M1715.1 141.6v7.2M1808.7 744.4v-7.2M1808.7 141.6v7.2M1855.5 744.4v-7.2M1855.5 141.6v7.2M1902.3 744.4v-7.2M1902.3 141.6v7.2M1996.0 744.4v-7.2M1996.0 141.6v7.2M2042.8 744.4v-7.2M2042.8 141.6v7.2M2089.6 744.4v-7.2M2089.6 141.6v7.2M2183.2 744.4v-7.2M2183.2 141.6v7.2M2230.1 744.4v-7.2M2230.1 141.6v7.2M1274.7 700.4h11.4M2249.7 700.4h-11.4M1274.7 621.5h11.4M2249.7 621.5h-11.4M1274.7 542.7h11.4M2249.7 542.7h-11.4M1274.7 463.8h11.4M2249.7 463.8h-11.4M1274.7 384.9h11.4M2249.7 384.9h-11.4M1274.7 306.0h11.4M2249.7 306.0h-11.4M1274.7 227.2h11.4M2249.7 227.2h-11.4M1274.7 148.3h11.4M2249.7 148.3h-11.4M1274.7 739.8h7.2M2249.7 739.8h-7.2M1274.7 720.1h7.2M2249.7 720.1h-7.2M1274.7 680.7h7.2M2249.7 680.7h-7.2M1274.7 661.0h7.2M2249.7 661.0h-7.2M1274.7 641.2h7.2M2249.7 641.2h-7.2M1274.7 601.8h7.2M2249.7 601.8h-7.2M1274.7 582.1h7.2M2249.7 582.1h-7.2M1274.7 562.4h7.2M2249.7 562.4h-7.2M1274.7 522.9h7.2M2249.7 522.9h-7.2M1274.7 503.2h7.2M2249.7 503.2h-7.2M1274.7 483.5h7.2M2249.7 483.5h-7.2M1274.7 444.1h7.2M2249.7 444.1h-7.2M1274.7 424.4h7.2M2249.7 424.4h-7.2M1274.7 404.6h7.2M2249.7 404.6h-7.2M1274.7 365.2h7.2M2249.7 365.2h-7.2M1274.7 345.5h7.2M2249.7 345.5h-7.2M1274.7 325.8h7.2M2249.7 325.8h-7.2M1274.7 286.3h7.2M2249.7 286.3h-7.2M1274.7 266.6h7.2M2249.7 266.6h-7.2M1274.7 246.9h7.2M2249.7 246.9h-7.2M1274.7 207.5h7.2M2249.7 207.5h-7.2M1274.7 187.7h7.2M2249.7 187.7h-7.2M1274.7 168.0h7.2M2249.7 168.0h-7.2" stroke="#000" stroke-width="1.20" fill="none"/>
<rect x="1274.7" y="141.6" width="975.0" height="602.8" fill="none" stroke="#000" stroke-width="1.20"/>
<g font-family="Liberation Sans, sans-serif" font-size="32.3" text-anchor="middle">
<text x="1387.4" y="787.1">−4</text>
<text x="1574.6" y="787.1">−2</text>
<text x="1761.9" y="787.1">0</text>
<text x="1949.2" y="787.1">2</text>
<text x="2136.4" y="787.1">4</text>
</g>
<g font-family="Liberation Sans, sans-serif" font-size="32.3" text-anchor="end">
<text x="1263.5" y="712.0">0.00</text>
<text x="1263.5" y="633.1">0.02</text>
<text x="1263.5" y="554.2">0.04</text>
<text x="1263.5" y="475.4">0.06</text>
<text x="1263.5" y="396.5">0.08</text>
<text x="1263.5" y="317.6">0.10</text>
<text x="1263.5" y="238.7">0.12</text>
<text x="1263.5" y="159.9">0.14</text>
</g>
<text x="1760.5" y="847.5" font-family="Liberation Sans, sans-serif" font-size="30.5" text-anchor="middle">x</text>
<text transform="translate(1170 442.6) rotate(-90)" font-family="Liberation Sans, sans-serif" font-size="31.5" text-anchor="middle">u(x)</text>
<text transform="translate(1761.6 51.2) scale(1.045 1)" font-family="Liberation Sans, sans-serif" font-size="36.6" text-anchor="middle"><tspan font-style="italic">β</tspan>= 0.5000 <tspan font-style="italic">α</tspan>= 1.7500 <tspan font-style="italic">μ</tspan>= 0.2500</text>
<text transform="translate(1768.0 112.6) scale(1.045 1)" font-family="Liberation Sans, sans-serif" font-size="36.6" text-anchor="middle"><tspan font-style="italic">θ</tspan><tspan font-style="italic" font-size="28.5" dy="7.3">α</tspan><tspan dy="-7.3">= 0.1000 </tspan><tspan font-style="italic">θ</tspan><tspan font-style="italic" font-size="28.5" dy="7.3">μ</tspan><tspan dy="-7.3">= 0.0000</tspan></text>
<path d="M57.6 1675.9L560.3 1521.7M560.3 1521.7L1033.1 1694.1M560.3 1521.7L559.4 1732.8M82.0 1915.2L559.4 1732.8M559.4 1732.8L1007.8 1936.6" stroke="#7d7d7d" stroke-width="1.5" fill="none"/>
<g class="sf">
<path d="M534.3 1739.6l7.3 3 23.4-9-7.3-3z" color="#7226A6"/>
<path d="M541.6 1742.6l7.4 2.9 23.4-9.1-7.4-2.8z" color="#7026A6"/>
<path d="M549 1745.5l7.4 2.7 23.4-9.3-7.4-2.5z" color="#6D26A6"/>
<path d="M510.1 1748.8l7.3 3.2 24.2-9.4-7.3-3z" color="#7326A6"/>
<path d="M556.4 1748.2l7.4 2.5 23.4-9.5-7.4-2.3z" color="#6927A6"/>
<path d="M517.4 1752l7.4 3 24.2-9.5-7.4-2.9z" color="#7126A6"/>
<path d="M563.8 1750.7l7.5 2.1 23.5-9.6-7.6-2z" color="#6427A6"/>
<path d="M524.8 1755l7.4 2.9 24.2-9.7-7.4-2.7z" color="#6E26A6"/>
<path d="M571.3 1752.8l7.6 1.6 23.5-9.7-7.6-1.5z" color="#5D27A7"/>
<path d="M486.4 1758l7.3 3.2 23.7-9.2-7.3-3.2z" color="#7326A7"/>
<path d="M532.2 1757.9l7.4 2.5 24.2-9.7-7.4-2.5z" color="#6A26A6"/>
<path d="M493.7 1761.2l7.3 3.1 23.8-9.3-7.4-3z" color="#7126A6"/>
<path d="M578.9 1754.4l7.6 1.2 23.5-9.9-7.6-1z" color="#5628A8"/>
<path d="M539.6 1760.4l7.5 2.3 24.2-9.9-7.5-2.1z" color="#6527A6"/>
<path d="M501 1764.3l7.3 3 23.9-9.4-7.4-2.9z" color="#6F26A6"/>
<path d="M586.5 1755.6l7.7 0.7 23.5-10.1-7.7-0.5z" color="#4D29A9"/>
<path d="M463 1766.9l7.3 3.3 23.4-9-7.3-3.2z" color="#7326A7"/>
<path d="M547.1 1762.7l7.5 1.8 24.3-10.1-7.6-1.6z" color="#5F27A7"/>
<path d="M508.3 1767.3l7.5 2.7 23.8-9.6-7.4-2.5z" color="#6B26A6"/>
<path d="M594.2 1756.3l3.9 0.1 23.5-10.1-3.9-0.1z" color="#462AAB"/>
<path d="M470.3 1770.2l7.3 3.3 23.4-9.2-7.3-3.1z" color="#7226A6"/>
<path d="M554.6 1764.5l7.6 1.4 24.3-10.3-7.6-1.2z" color="#5828A7"/>
<path d="M598.1 1756.4l3.9 0 23.5-10.2-3.9 0.1z" color="#412CAD"/>
<path d="M515.8 1770l7.4 2.4 23.9-9.7-7.5-2.3z" color="#6727A6"/>
<path d="M602 1756.4l3.9-0.2 23.5-10.3-3.9 0.3z" color="#4030AD"/>
<path d="M477.6 1773.5l7.4 3.1 23.3-9.3-7.3-3z" color="#7026A6"/>
<path d="M562.2 1765.9l7.7 0.8 24.3-10.4-7.7-0.7z" color="#4F29A9"/>
<path d="M440.1 1775.7l7.3 3.4 22.9-8.9-7.3-3.3z" color="#7426A7"/>
<path d="M605.9 1756.2l3.9-0.4 23.6-10.3-4 0.4z" color="#3F34AE"/>
<path d="M523.2 1772.4l7.5 2 23.9-9.9-7.5-1.8z" color="#6127A6"/>
<path d="M485 1776.6l7.4 2.8 23.4-9.4-7.5-2.7z" color="#6D26A6"/>
<path d="M609.8 1755.8l3.9-0.5 23.6-10.3-3.9 0.5z" color="#3E39AE"/>
<path d="M569.9 1766.7l3.8 0.2 24.4-10.5-3.9-0.1z" color="#482AAA"/>
<path d="M447.4 1779.1l7.3 3.3 22.9-8.9-7.3-3.3z" color="#7326A7"/>
<path d="M613.7 1755.3l4-0.7 23.6-10.3-4 0.7z" color="#3C3EAF"/>
<path d="M530.7 1774.4l7.6 1.6 23.9-10.1-7.6-1.4z" color="#5A28A7"/>
<path d="M573.7 1766.9l3.9 0 24.4-10.5-3.9 0z" color="#432BAC"/>
<path d="M492.4 1779.4l7.4 2.6 23.4-9.6-7.4-2.4z" color="#6827A6"/>
<path d="M617.7 1754.6l4-0.8 23.6-10.3-4 0.8z" color="#3B43B0"/>
<path d="M577.6 1766.9l3.9-0.1 24.4-10.6-3.9 0.2z" color="#412EAD"/>
<path d="M454.7 1782.4l7.3 3.2 23-9-7.4-3.1z" color="#7026A6"/>
<path d="M417.7 1784.2l7.3 3.5 22.4-8.6-7.3-3.4z" color="#7426A7"/>
<path d="M538.3 1776l7.7 1 23.9-10.3-7.7-0.8z" color="#5129A8"/>
<path d="M581.5 1766.8l3.9-0.3 24.4-10.7-3.9 0.4z" color="#3F32AD"/>
<path d="M621.7 1753.8l4-0.8 23.6-10.3-4 0.8z" color="#3A48B2"/>
<path d="M499.8 1782l7.5 2.2 23.4-9.8-7.5-2z" color="#6327A6"/>
<path d="M462 1785.6l7.4 3 23-9.2-7.4-2.8z" color="#6E26A6"/>
<path d="M585.4 1766.5l3.9-0.5 24.4-10.7-3.9 0.5z" color="#3E37AE"/>
<path d="M625.7 1753l4-0.9 23.6-10.3-4 0.9z" color="#394EB4"/>
<path d="M546 1777l3.8 0.2 23.9-10.3-3.8-0.2z" color="#4A29A9"/>
<path d="M425 1787.7l7.2 3.5 22.5-8.8-7.3-3.3z" color="#7326A7"/>
<path d="M507.3 1784.2l7.5 1.7 23.5-9.9-7.6-1.6z" color="#5C27A7"/>
<path d="M589.3 1766l4-0.7 24.4-10.7-4 0.7z" color="#3D3BAE"/>
<path d="M549.8 1777.2l3.8 0.1 24-10.4-3.9 0z" color="#452AAA"/>
<path d="M629.7 1752.1l4-1 23.7-10.3-4.1 1z" color="#3854B6"/>
<path d="M469.4 1788.6l7.4 2.7 23-9.3-7.4-2.6z" color="#6A26A6"/>
<path d="M432.2 1791.2l7.4 3.3 22.4-8.9-7.3-3.2z" color="#7126A6"/>
<path d="M593.3 1765.3l3.9-0.7 24.5-10.8-4 0.8z" color="#3C41AF"/>
<path d="M553.6 1777.3l3.9-0.1 24-10.4-3.9 0.1z" color="#412CAC"/>
<path d="M633.7 1751.1l4.1-1 23.6-10.2-4 0.9z" color="#3859B6"/>
<path d="M395.9 1792.6l7.2 3.6 21.9-8.5-7.3-3.5z" color="#7426A7"/>
<path d="M514.8 1785.9l7.6 1.1 23.6-10-7.7-1z" color="#5428A7"/>
<path d="M476.8 1791.3l7.5 2.4 23-9.5-7.5-2.2z" color="#6527A6"/>
<path d="M557.5 1777.2l3.9-0.2 24-10.5-3.9 0.3z" color="#4030AD"/>
<path d="M597.2 1764.6l4-0.9 24.5-10.7-4 0.8z" color="#3B46B1"/>
<path d="M637.8 1750.1l4-1.2 23.7-10.1-4.1 1.1z" color="#395EB2"/>
<path d="M439.6 1794.5l7.3 3.1 22.5-9-7.4-3z" color="#6F26A6"/>
<path d="M403.1 1796.2l7.2 3.5 21.9-8.5-7.2-3.5z" color="#7326A7"/>
<path d="M561.4 1777l3.9-0.5 24-10.5-3.9 0.5z" color="#3E34AD"/>
<path d="M522.4 1787l3.9 0.4 23.5-10.2-3.8-0.2z" color="#4D29A8"/>
<path d="M601.2 1763.7l4-0.9 24.5-10.7-4 0.9z" color="#3A4CB3"/>
<path d="M641.8 1748.9l4.1-1.3 23.8-10.1-4.2 1.3z" color="#3A62AE"/>
<path d="M484.3 1793.7l7.5 1.9 23-9.7-7.5-1.7z" color="#5E27A6"/>
<path d="M446.9 1797.6l7.4 2.9 22.5-9.2-7.4-2.7z" color="#6B26A6"/>
<path d="M526.3 1787.4l3.8 0.2 23.5-10.3-3.8-0.1z" color="#482AA9"/>
<path d="M565.3 1776.5l3.9-0.6 24.1-10.6-4 0.7z" color="#3D39AD"/>
<path d="M605.2 1762.8l4-1 24.5-10.7-4 1z" color="#3952B5"/>
<path d="M410.3 1799.7l7.3 3.4 22-8.6-7.4-3.3z" color="#7226A6"/>
<path d="M645.9 1747.6l4.2-1.5 23.7-10-4.1 1.4z" color="#3B67AA"/>
<path d="M374.5 1800.7l7.2 3.7 21.4-8.2-7.2-3.6z" color="#7526A7"/>
<path d="M530.1 1787.6l3.9 0 23.5-10.4-3.9 0.1z" color="#432BAB"/>
<path d="M569.2 1775.9l4-0.7 24-10.6-3.9 0.7z" color="#3C3EAE"/>
<path d="M609.2 1761.8l4-1.1 24.6-10.6-4.1 1z" color="#3857B6"/>
<path d="M491.8 1795.6l7.6 1.3 23-9.9-7.6-1.1z" color="#5628A7"/>
<path d="M650.1 1746.1l4.1-1.6 23.7-9.8-4.1 1.4z" color="#3C6DA7"/>
<path d="M454.3 1800.5l7.5 2.5 22.5-9.3-7.5-2.4z" color="#6627A6"/>
<path d="M417.6 1803.1l7.4 3.3 21.9-8.8-7.3-3.1z" color="#7026A6"/>
<path d="M534 1787.6l3.8-0.2 23.6-10.4-3.9 0.2z" color="#402EAC"/>
<path d="M573.2 1775.2l3.9-0.9 24.1-10.6-4 0.9z" color="#3B44B0"/>
<path d="M381.7 1804.4l7.3 3.6 21.3-8.3-7.2-3.5z" color="#7426A7"/>
<path d="M613.2 1760.7l4.1-1.2 24.5-10.6-4 1.2z" color="#395CB2"/>
<path d="M654.2 1744.5l4.2-1.4 23.7-9.7-4.2 1.3z" color="#3E74A6"/>
<path d="M499.4 1796.9l3.8 0.5 23.1-10-3.9-0.4z" color="#4F29A7"/>
<path d="M537.8 1787.4l3.9-0.4 23.6-10.5-3.9 0.5z" color="#3F32AC"/>
<path d="M577.1 1774.3l4-0.9 24.1-10.6-4 0.9z" color="#3A4AB2"/>
<path d="M461.8 1803l7.5 2.1 22.5-9.5-7.5-1.9z" color="#6027A6"/>
<path d="M617.3 1759.5l4.1-1.4 24.5-10.5-4.1 1.3z" color="#3961AD"/>
<path d="M425 1806.4l7.4 3 21.9-8.9-7.4-2.9z" color="#6C26A6"/>
<path d="M658.4 1743.1l4.1-1.1 23.8-9.5-4.2 0.9z" color="#417CA7"/>
<path d="M389 1808l7.2 3.6 21.4-8.5-7.3-3.4z" color="#7226A7"/>
<path d="M503.2 1797.4l3.8 0.2 23.1-10-3.8-0.2z" color="#4A29A8"/>
<path d="M353.8 1808.7l7.2 3.7 20.7-8-7.2-3.7z" color="#7527A7"/>
<path d="M541.7 1787l3.9-0.6 23.6-10.5-3.9 0.6z" color="#3D37AD"/>
<path d="M581.1 1773.4l4-1 24.1-10.6-4 1z" color="#394FB4"/>
<path d="M621.4 1758.1l4.1-1.6 24.6-10.4-4.2 1.5z" color="#3A65A9"/>
<path d="M662.5 1742l4.2-0.5 23.8-9.5-4.2 0.5z" color="#4584AA"/>
<path d="M507 1797.6l3.9 0.1 23.1-10.1-3.9 0z" color="#452AA9"/>
<path d="M545.6 1786.4l3.9-0.7 23.7-10.5-4 0.7z" color="#3C3CAD"/>
<path d="M469.3 1805.1l7.5 1.5 22.6-9.7-7.6-1.3z" color="#5828A6"/>
<path d="M432.4 1809.4l7.4 2.7 22-9.1-7.5-2.5z" color="#6827A6"/>
<path d="M585.1 1772.4l4-1.1 24.1-10.6-4 1.1z" color="#3855B5"/>
<path d="M396.2 1811.6l7.4 3.3 21.4-8.5-7.4-3.3z" color="#7026A6"/>
<path d="M361 1812.4l7.2 3.7 20.8-8.1-7.3-3.6z" color="#7426A7"/>
<path d="M625.5 1756.5l4.1-1.7 24.6-10.3-4.1 1.6z" color="#3B6BA6"/>
<path d="M666.7 1741.5l4.2 0 23.8-9.4-4.2-0.1z" color="#498BAC"/>
<path d="M510.9 1797.7l3.8-0.1 23.1-10.2-3.8 0.2z" color="#412CAC"/>
<path d="M549.5 1785.7l4-0.9 23.6-10.5-3.9 0.9z" color="#3B42AF"/>
<path d="M589.1 1771.3l4-1.3 24.2-10.5-4.1 1.2z" color="#385AB2"/>
<path d="M476.8 1806.6l3.8 0.5 22.6-9.7-3.8-0.5z" color="#5228A7"/>
<path d="M670.9 1741.5l4.1 0.3 23.8-9.3-4.1-0.4z" color="#4D92B0"/>
<path d="M514.7 1797.6l3.9-0.4 23.1-10.2-3.9 0.4z" color="#3F30AC"/>
<path d="M629.6 1754.8l4.1-1.6 24.7-10.1-4.2 1.4z" color="#3D72A5"/>
<path d="M439.8 1812.1l7.5 2.2 22-9.2-7.5-2.1z" color="#6227A6"/>
<path d="M403.6 1814.9l7.3 3.2 21.5-8.7-7.4-3z" color="#6D26A6"/>
<path d="M368.2 1816.1l7.2 3.6 20.8-8.1-7.2-3.6z" color="#7326A7"/>
<path d="M553.5 1784.8l3.9-0.9 23.7-10.5-4 0.9z" color="#3A47B1"/>
<path d="M333.6 1816.4l7.2 3.8 20.2-7.8-7.2-3.7z" color="#7527A7"/>
<path d="M480.6 1807.1l3.8 0.4 22.6-9.9-3.8-0.2z" color="#4D29A7"/>
<path d="M593.1 1770l4.1-1.5 24.2-10.4-4.1 1.4z" color="#395EAD"/>
<path d="M675 1741.8l4.2 0.3 23.9-9.2-4.3-0.4z" color="#4E93AD"/>
<path d="M518.6 1797.2l3.8-0.5 23.2-10.3-3.9 0.6z" color="#3E35AC"/>
<path d="M633.7 1753.2l4.2-1.2 24.6-10-4.1 1.1z" color="#407AA6"/>
<path d="M557.4 1783.9l4-1 23.7-10.5-4 1z" color="#394DB2"/>
<path d="M484.4 1807.5l3.8 0.1 22.7-9.9-3.9-0.1z" color="#4729A8"/>
<path d="M679.2 1742.1l4.3-0.1 23.8-9-4.2-0.1z" color="#4D90A4"/>
<path d="M597.2 1768.5l4.1-1.7 24.2-10.3-4.1 1.6z" color="#3963A8"/>
<path d="M410.9 1818.1l7.4 2.8 21.5-8.8-7.4-2.7z" color="#6926A6"/>
<path d="M447.3 1814.3l7.5 1.8 22-9.5-7.5-1.5z" color="#5A27A6"/>
<path d="M375.4 1819.7l7.3 3.5 20.9-8.3-7.4-3.3z" color="#7126A6"/>
<path d="M340.8 1820.2l7.2 3.7 20.2-7.8-7.2-3.7z" color="#7426A7"/>
<path d="M522.4 1796.7l3.9-0.7 23.2-10.3-3.9 0.7z" color="#3D3AAD"/>
<path d="M637.9 1752l4.1-0.7 24.7-9.8-4.2 0.5z" color="#4483A9"/>
<path d="M561.4 1782.9l4-1.1 23.7-10.5-4 1.1z" color="#3853B4"/>
<path d="M488.2 1807.6l3.9 0 22.6-10-3.8 0.1z" color="#422BAA"/>
<path d="M683.5 1742l4.2-0.6 23.9-9-4.3 0.6z" color="#4C8E9B"/>
<path d="M601.3 1766.8l4.1-1.8 24.2-10.2-4.1 1.7z" color="#3B69A5"/>
<path d="M526.3 1796l4-0.8 23.2-10.4-4 0.9z" color="#3B3FAE"/>
<path d="M642 1751.3l4.2 0 24.7-9.8-4.2 0z" color="#488AAB"/>
<path d="M454.8 1816.1l3.8 0.6 22-9.6-3.8-0.5z" color="#5428A6"/>
<path d="M314.1 1823.8l7.2 3.9 19.5-7.5-7.2-3.8z" color="#7527A7"/>
<path d="M348 1823.9l7.2 3.8 20.2-8-7.2-3.6z" color="#7326A7"/>
<path d="M382.7 1823.2l7.4 3.3 20.8-8.4-7.3-3.2z" color="#6E26A6"/>
<path d="M565.4 1781.8l4-1.3 23.7-10.5-4 1.3z" color="#3758B2"/>
<path d="M418.3 1820.9l7.5 2.5 21.5-9.1-7.5-2.2z" color="#6427A6"/>
<path d="M492.1 1807.6l3.8-0.3 22.7-10.1-3.9 0.4z" color="#402EAB"/>
<path d="M687.7 1741.4l4.3-1.1 23.9-8.8-4.3 0.9z" color="#4D8E94"/>
<path d="M646.2 1751.3l4.2 0.2 24.6-9.7-4.1-0.3z" color="#4C91AE"/>
<path d="M530.3 1795.2l3.9-0.9 23.2-10.4-3.9 0.9z" color="#3A45B0"/>
<path d="M605.4 1765l4.1-1.8 24.2-10-4.1 1.6z" color="#3D70A3"/>
<path d="M458.6 1816.7l3.7 0.4 22.1-9.6-3.8-0.4z" color="#4F28A6"/>
<path d="M495.9 1807.3l3.9-0.5 22.6-10.1-3.8 0.5z" color="#3E33AB"/>
<path d="M569.4 1780.5l4-1.6 23.8-10.4-4.1 1.5z" color="#385CAD"/>
<path d="M692 1740.3l4.4-0.9 23.8-8.6-4.3 0.7z" color="#509291"/>
<path d="M321.3 1827.7l7.1 3.8 19.6-7.6-7.2-3.7z" color="#7526A7"/>
<path d="M650.4 1751.5l4.2 0.2 24.6-9.6-4.2-0.3z" color="#4E92AA"/>
<path d="M355.2 1827.7l7.3 3.6 20.2-8.1-7.3-3.5z" color="#7226A7"/>
<path d="M462.3 1817.1l3.9 0.3 22-9.8-3.8-0.1z" color="#4A29A7"/>
<path d="M534.2 1794.3l3.9-1 23.3-10.4-4 1z" color="#394BB1"/>
<path d="M390.1 1826.5l7.4 3 20.8-8.6-7.4-2.8z" color="#6B26A6"/>
<path d="M609.5 1763.2l4.1-1.3 24.3-9.9-4.2 1.2z" color="#3F79A5"/>
<path d="M425.8 1823.4l7.5 1.9 21.5-9.2-7.5-1.8z" color="#5D27A6"/>
<path d="M499.8 1806.8l3.9-0.6 22.6-10.2-3.9 0.7z" color="#3D38AC"/>
<path d="M573.4 1778.9l4.1-1.9 23.8-10.2-4.1 1.7z" color="#3961A7"/>
<path d="M696.4 1739.4l4.3 0 23.8-8.5-4.3-0.1z" color="#569D96"/>
<path d="M654.6 1751.7l4.2-0.2 24.7-9.5-4.3 0.1z" color="#4D8FA2"/>
<path d="M466.2 1817.4l3.8 0 22.1-9.8-3.9 0z" color="#452AA9"/>
<path d="M538.1 1793.3l4-1.1 23.3-10.4-4 1.1z" color="#3850B2"/>
<path d="M613.6 1761.9l4.2-0.8 24.2-9.8-4.1 0.7z" color="#4482A8"/>
<path d="M295.3 1831l7.1 3.9 18.9-7.2-7.2-3.9z" color="#7527A7"/>
<path d="M328.4 1831.5l7.3 3.8 19.5-7.6-7.2-3.8z" color="#7426A7"/>
<path d="M433.3 1825.3l3.8 0.7 21.5-9.3-3.8-0.6z" color="#5628A6"/>
<path d="M503.7 1806.2l3.9-0.8 22.7-10.2-4 0.8z" color="#3C3DAD"/>
<path d="M700.7 1739.4l4.2 1.4 23.9-8.4-4.3-1.5z" color="#65B6AB"/>
<path d="M362.5 1831.3l7.3 3.4 20.3-8.2-7.4-3.3z" color="#6F26A6"/>
<path d="M397.5 1829.5l7.4 2.6 20.9-8.7-7.5-2.5z" color="#6527A6"/>
<path d="M577.5 1777l4.1-2 23.8-10-4.1 1.8z" color="#3A67A3"/>
<path d="M658.8 1751.5l4.2-0.9 24.7-9.2-4.2 0.6z" color="#4C8D99"/>
<path d="M470 1817.4l3.8-0.2 22.1-9.9-3.8 0.3z" color="#402CAB"/>
<path d="M617.8 1761.1l4.1-0.2 24.3-9.6-4.2 0z" color="#4889AA"/>
<path d="M542.1 1792.2l4-1.4 23.3-10.3-4 1.3z" color="#3756B2"/>
<path d="M704.9 1740.8l4.2 3.1 23.9-8.4-4.2-3.1z" color="#74CDC2"/>
<path d="M437.1 1826l3.7 0.5 21.5-9.4-3.7-0.4z" color="#5228A6"/>
<path d="M507.6 1805.4l3.9-0.9 22.7-10.2-3.9 0.9z" color="#3B43AF"/>
<path d="M302.4 1834.9l7.2 3.9 18.8-7.3-7.1-3.8z" color="#7527A7"/>
<path d="M663 1750.6l4.3-1.3 24.7-9-4.3 1.1z" color="#4C8D91"/>
<path d="M709.1 1743.9l4.2 4.1 23.9-8.4-4.2-4.1z" color="#7DD9D4"/>
<path d="M581.6 1775l4.1-1.8 23.8-10-4.1 1.8z" color="#3C6EA2"/>
<path d="M473.8 1817.2l3.8-0.4 22.2-10-3.9 0.5z" color="#3F30AB"/>
<path d="M335.7 1835.3l7.2 3.7 19.6-7.7-7.3-3.6z" color="#7226A7"/>
<path d="M621.9 1760.9l4.2 0.2 24.3-9.6-4.2-0.2z" color="#4C8FAB"/>
<path d="M369.8 1834.7l7.4 3.1 20.3-8.3-7.4-3z" color="#6C26A6"/>
<path d="M546.1 1790.8l4-1.7 23.3-10.2-4 1.6z" color="#375AAC"/>
<path d="M440.8 1826.5l3.8 0.4 21.6-9.5-3.9-0.3z" color="#4C28A6"/>
<path d="M713.3 1748l4.2 4.4 23.9-8.5-4.2-4.3z" color="#7CD8DB"/>
<path d="M404.9 1832.1l7.5 2.1 20.9-8.9-7.5-1.9z" color="#5F27A6"/>
<path d="M511.5 1804.5l3.9-0.9 22.7-10.3-3.9 1z" color="#3948B0"/>
<path d="M277.2 1837.9l7.1 4 18.1-7-7.1-3.9z" color="#7527A7"/>
<path d="M667.3 1749.3l4.3-1.1 24.8-8.8-4.4 0.9z" color="#50928E"/>
<path d="M477.6 1816.8l3.9-0.6 22.2-10-3.9 0.6z" color="#3D35AB"/>
<path d="M717.5 1752.4l4.3 3.7 23.8-8.5-4.2-3.7z" color="#73CCD7"/>
<path d="M626.1 1761.1l4.2 0.1 24.3-9.5-4.2-0.2z" color="#4D90A8"/>
<path d="M585.7 1773.2l4.1-1.5 23.8-9.8-4.1 1.3z" color="#3F77A3"/>
<path d="M309.6 1838.8l7.2 3.9 18.9-7.4-7.3-3.8z" color="#7426A7"/>
<path d="M444.6 1826.9l3.8 0.1 21.6-9.6-3.8 0z" color="#4729A7"/>
<path d="M550.1 1789.1l4-2 23.4-10.1-4.1 1.9z" color="#385FA7"/>
<path d="M342.9 1839l7.3 3.6 19.6-7.9-7.3-3.4z" color="#7026A6"/>
<path d="M721.8 1756.1l4.3 2.5 23.8-8.6-4.3-2.4z" color="#65B9C8"/>
<path d="M515.4 1803.6l3.9-1.2 22.8-10.2-4 1.1z" color="#384EB1"/>
<path d="M412.4 1834.2l3.7 0.9 21-9.1-3.8-0.7z" color="#5927A6"/>
<path d="M377.2 1837.8l7.4 2.8 20.3-8.5-7.4-2.6z" color="#6726A6"/>
<path d="M671.6 1748.2l4.3-0.1 24.8-8.7-4.3 0z" color="#569D92"/>
<path d="M630.3 1761.2l4.2-0.4 24.3-9.3-4.2 0.2z" color="#4C8EA0"/>
<path d="M481.5 1816.2l3.9-0.7 22.2-10.1-3.9 0.8z" color="#3C3BAC"/>
<path d="M589.8 1771.7l4.1-0.9 23.9-9.7-4.2 0.8z" color="#4381A6"/>
<path d="M448.4 1827l3.8-0.1 21.6-9.7-3.8 0.2z" color="#422AAA"/>
<path d="M726.1 1758.6l4.3 1.3 23.8-8.5-4.3-1.4z" color="#5BA8B6"/>
<path d="M284.3 1841.9l7.1 4 18.2-7.1-7.2-3.9z" color="#7527A7"/>
<path d="M554.1 1787.1l4.1-2.1 23.4-10-4.1 2z" color="#3965A2"/>
<path d="M416.1 1835.1l3.8 0.6 20.9-9.2-3.7-0.5z" color="#5428A5"/>
<path d="M519.3 1802.4l4-1.4 22.8-10.2-4 1.4z" color="#3653B1"/>
<path d="M675.9 1748.1l4.3 1.4 24.7-8.7-4.2-1.4z" color="#65B6A7"/>
<path d="M316.8 1842.7l7.2 3.8 18.9-7.5-7.2-3.7z" color="#7326A7"/>
<path d="M634.5 1760.8l4.2-1.1 24.3-9.1-4.2 0.9z" color="#4B8C96"/>
<path d="M485.4 1815.5l3.9-0.9 22.2-10.1-3.9 0.9z" color="#3B40AE"/>
<path d="M593.9 1770.8l4.1-0.3 23.9-9.6-4.1 0.2z" color="#4888A9"/>
<path d="M350.2 1842.6l7.4 3.3 19.6-8.1-7.4-3.1z" color="#6D26A6"/>
<path d="M730.4 1759.9l4.4 0.9 23.8-8.5-4.4-0.9z" color="#58A2AD"/>
<path d="M452.2 1826.9l3.8-0.4 21.6-9.7-3.8 0.4z" color="#3F2EAA"/>
<path d="M259.8 1844.5l7.1 4.1 17.4-6.7-7.1-4z" color="#7527A7"/>
<path d="M384.6 1840.6l7.5 2.3 20.3-8.7-7.5-2.1z" color="#6127A5"/>
<path d="M680.2 1749.5l4.2 3 24.7-8.6-4.2-3.1z" color="#75CFBF"/>
<path d="M419.9 1835.7l3.8 0.4 20.9-9.2-3.8-0.4z" color="#4F28A5"/>
<path d="M558.2 1785l4.1-2 23.4-9.8-4.1 1.8z" color="#3B6CA1"/>
<path d="M523.3 1801l4-1.8 22.8-10.1-4 1.7z" color="#3758AC"/>
<path d="M291.4 1845.9l7.2 3.9 18.2-7.1-7.2-3.9z" color="#7426A7"/>
<path d="M638.7 1759.7l4.3-1.5 24.3-8.9-4.3 1.3z" color="#4C8C8E"/>
<path d="M734.8 1760.8l4.4 1.5 23.8-8.5-4.4-1.5z" color="#5DACB5"/>
<path d="M598 1770.5l4.2 0 23.9-9.4-4.2-0.2z" color="#4B8DA9"/>
<path d="M489.3 1814.6l3.9-1 22.2-10-3.9 0.9z" color="#3A46AF"/>
<path d="M684.4 1752.5l4.2 4.2 24.7-8.7-4.2-4.1z" color="#7FDBD1"/>
<path d="M456 1826.5l3.9-0.5 21.6-9.8-3.9 0.6z" color="#3E33AB"/>
<path d="M324 1846.5l7.3 3.7 18.9-7.6-7.3-3.6z" color="#7126A6"/>
<path d="M423.7 1836.1l3.7 0.2 21-9.3-3.8-0.1z" color="#4929A6"/>
<path d="M688.6 1756.7l4.2 4.5 24.7-8.8-4.2-4.4z" color="#7EDAD9"/>
<path d="M357.6 1845.9l7.4 2.9 19.6-8.2-7.4-2.8z" color="#6926A6"/>
<path d="M739.2 1762.3l4.3 2.9 23.8-8.6-4.3-2.8z" color="#6AC0CB"/>
<path d="M392.1 1842.9l3.7 0.9 20.3-8.7-3.7-0.9z" color="#5B27A5"/>
<path d="M562.3 1783l4.1-1.7 23.4-9.6-4.1 1.5z" color="#3E76A2"/>
<path d="M602.2 1770.5l4.2 0 23.9-9.3-4.2-0.1z" color="#4C8FA5"/>
<path d="M527.3 1799.2l4-2.1 22.8-10-4 2z" color="#375DA6"/>
<path d="M266.9 1848.6l7.1 4 17.4-6.7-7.1-4z" color="#7527A7"/>
<path d="M643 1758.2l4.3-1.3 24.3-8.7-4.3 1.1z" color="#50918B"/>
<path d="M493.2 1813.6l3.9-1.1 22.2-10.1-3.9 1.2z" color="#384BB0"/>
<path d="M692.8 1761.2l4.3 3.7 24.7-8.8-4.3-3.7z" color="#75CED5"/>
<path d="M459.9 1826l3.8-0.7 21.7-9.8-3.9 0.7z" color="#3D38AC"/>
<path d="M743.5 1765.2l4.3 4.6 23.8-8.7-4.3-4.5z" color="#78D2E4"/>
<path d="M427.4 1836.3l3.8 0 21-9.4-3.8 0.1z" color="#442AA8"/>
<path d="M298.6 1849.8l7.2 3.9 18.2-7.2-7.2-3.8z" color="#7326A7"/>
<path d="M395.8 1843.8l3.8 0.8 20.3-8.9-3.8-0.6z" color="#5627A5"/>
<path d="M747.8 1769.8l4.2 5.9 23.8-8.9-4.2-5.7z" color="#7CD5F4"/>
<path d="M697.1 1764.9l4.3 2.5 24.7-8.8-4.3-2.5z" color="#66BAC5"/>
<path d="M566.4 1781.3l4.1-1 23.4-9.5-4.1 0.9z" color="#427FA5"/>
<path d="M243.1 1850.9l7.1 4.1 16.7-6.4-7.1-4.1z" color="#7627A7"/>
<path d="M606.4 1770.5l4.1-0.5 24-9.2-4.2 0.4z" color="#4C8D9E"/>
<path d="M331.3 1850.2l7.4 3.4 18.9-7.7-7.4-3.3z" color="#6E26A6"/>
<path d="M647.3 1756.9l4.3-0.3 24.3-8.5-4.3 0.1z" color="#579D8F"/>
<path d="M531.3 1797.1l4-2.2 22.9-9.9-4.1 2.1z" color="#3863A2"/>
<path d="M752 1775.7l4.2 6.4 23.8-9.1-4.2-6.2z" color="#79D0FE"/>
<path d="M497.1 1812.5l3.9-1.5 22.3-10-4 1.4z" color="#3751B0"/>
<path d="M463.7 1825.3l3.9-0.8 21.7-9.9-3.9 0.9z" color="#3B3EAD"/>
<path d="M431.2 1836.3l3.8-0.3 21-9.5-3.8 0.4z" color="#402CAA"/>
<path d="M365 1848.8l7.4 2.5 19.7-8.4-7.5-2.3z" color="#6327A5"/>
<path d="M756.2 1782.1l4.3 6 23.7-9.3-4.2-5.8z" color="#74C7FF"/>
<path d="M274 1852.6l7.1 4 17.5-6.8-7.2-3.9z" color="#7527A7"/>
<path d="M399.6 1844.6l3.7 0.5 20.4-9-3.8-0.4z" color="#5128A5"/>
<path d="M701.4 1767.4l4.3 1.3 24.7-8.8-4.3-1.3z" color="#5CA9B2"/>
<path d="M570.5 1780.3l4.1-0.4 23.4-9.4-4.1 0.3z" color="#4787A8"/>
<path d="M610.5 1770l4.3-1.3 23.9-9-4.2 1.1z" color="#4B8B93"/>
<path d="M760.5 1788.1l4.3 5.1 23.7-9.4-4.3-5z" color="#6DB9FF"/>
<path d="M651.6 1756.6l4.2 1.3 24.4-8.4-4.3-1.4z" color="#66B7A3"/>
<path d="M305.8 1853.7l7.3 3.8 18.2-7.3-7.3-3.7z" color="#7226A6"/>
<path d="M501 1811l4-1.8 22.3-10-4 1.8z" color="#3656AC"/>
<path d="M535.3 1794.9l4.1-2.2 22.9-9.7-4.1 2z" color="#3A6AA0"/>
<path d="M467.6 1824.5l3.9-0.9 21.7-10-3.9 1z" color="#3A43AE"/>
<path d="M435 1836l3.8-0.4 21.1-9.6-3.9 0.5z" color="#3E31AA"/>
<path d="M705.7 1768.7l4.4 0.9 24.7-8.8-4.4-0.9z" color="#58A3AA"/>
<path d="M250.2 1855l7.1 4.1 16.7-6.5-7.1-4z" color="#7527A7"/>
<path d="M764.8 1793.2l4.3 4.1 23.8-9.6-4.4-3.9z" color="#62A8FB"/>
<path d="M403.3 1845.1l3.8 0.3 20.3-9.1-3.7-0.2z" color="#4C28A4"/>
<path d="M338.7 1853.6l7.3 3.1 19-7.9-7.4-2.9z" color="#6A26A6"/>
<path d="M372.4 1851.3l3.7 1.1 19.7-8.6-3.7-0.9z" color="#5D27A5"/>
<path d="M655.8 1757.9l4.3 3 24.3-8.4-4.2-3z" color="#76D1BC"/>
<path d="M574.6 1779.9l4.1 0 23.5-9.4-4.2 0z" color="#4A8CA8"/>
<path d="M614.8 1768.7l4.2-1.7 24-8.8-4.3 1.5z" color="#4C8B8B"/>
<path d="M769.1 1797.3l4.4 3.4 23.7-9.7-4.3-3.3z" color="#5B9CF3"/>
<path d="M281.1 1856.6l7.3 4 17.4-6.9-7.2-3.9z" color="#7426A7"/>
<path d="M227.3 1856.9l7 4.2 15.9-6.1-7.1-4.1z" color="#7627A7"/>
<path d="M710.1 1769.6l4.4 1.4 24.7-8.7-4.4-1.5z" color="#5EADB2"/>
<path d="M660.1 1760.9l4.2 4.3 24.3-8.5-4.2-4.2z" color="#81DECE"/>
<path d="M471.5 1823.6l3.9-1.2 21.7-9.9-3.9 1.1z" color="#3949AF"/>
<path d="M438.8 1835.6l3.9-0.6 21-9.7-3.8 0.7z" color="#3D36AB"/>
<path d="M505 1809.2l3.9-2.2 22.4-9.9-4 2.1z" color="#365BA6"/>
<path d="M539.4 1792.7l4-1.8 23-9.6-4.1 1.7z" color="#3D74A1"/>
<path d="M407.1 1845.4l3.8 0.1 20.3-9.2-3.8 0z" color="#4729A6"/>
<path d="M376.1 1852.4l3.8 0.8 19.7-8.6-3.8-0.8z" color="#5927A5"/>
<path d="M313.1 1857.5l7.3 3.5 18.3-7.4-7.4-3.4z" color="#6F26A6"/>
<path d="M773.5 1800.7l4.4 3.3 23.7-9.7-4.4-3.3z" color="#5A98F3"/>
<path d="M578.7 1779.9l4.2-0.2 23.5-9.2-4.2 0z" color="#4C8EA4"/>
<path d="M664.3 1765.2l4.2 4.5 24.3-8.5-4.2-4.5z" color="#80DCD6"/>
<path d="M257.3 1859.1l7.1 4.1 16.7-6.6-7.1-4z" color="#7527A7"/>
<path d="M714.5 1771l4.3 3 24.7-8.8-4.3-2.9z" color="#6CC2C8"/>
<path d="M619 1767l4.3-1.5 24-8.6-4.3 1.3z" color="#4F9088"/>
<path d="M346 1856.7l7.4 2.7 19-8.1-7.4-2.5z" color="#6527A5"/>
<path d="M777.9 1804l4.4 3.8 23.7-9.9-4.4-3.6z" color="#5D99FB"/>
<path d="M410.9 1845.5l3.7-0.2 20.4-9.3-3.8 0.3z" color="#412AA9"/>
<path d="M668.5 1769.7l4.2 3.8 24.4-8.6-4.3-3.7z" color="#76D0D2"/>
<path d="M442.7 1835l3.8-0.8 21.1-9.7-3.9 0.8z" color="#3C3BAC"/>
<path d="M475.4 1822.4l3.9-1.5 21.7-9.9-3.9 1.5z" color="#374EAE"/>
<path d="M379.9 1853.2l3.7 0.7 19.7-8.8-3.7-0.5z" color="#5427A4"/>
<path d="M543.4 1790.9l4.1-1.1 23-9.5-4.1 1z" color="#417EA4"/>
<path d="M508.9 1807l4-2.4 22.4-9.7-4 2.2z" color="#3761A1"/>
<path d="M718.8 1774l4.3 4.7 24.7-8.9-4.3-4.6z" color="#7AD5E2"/>
<path d="M288.4 1860.6l7.2 3.9 17.5-7-7.3-3.8z" color="#7226A7"/>
<path d="M234.3 1861.1l7.1 4.1 15.9-6.1-7.1-4.1z" color="#7527A7"/>
<path d="M582.9 1779.7l4.2-0.7 23.4-9-4.1 0.5z" color="#4B8C9B"/>
<path d="M782.3 1807.8l4.4 4.4 23.7-10-4.4-4.3z" color="#619BFF"/>
<path d="M723.1 1778.7l4.3 6.1 24.6-9.1-4.2-5.9z" color="#7FD8F2"/>
<path d="M672.7 1773.5l4.3 2.5 24.4-8.6-4.3-2.5z" color="#68BCC1"/>
<path d="M623.3 1765.5l4.3-0.5 24-8.4-4.3 0.3z" color="#579C8C"/>
<path d="M320.4 1861l7.4 3.3 18.2-7.6-7.3-3.1z" color="#6B26A6"/>
<path d="M383.6 1853.9l3.8 0.4 19.7-8.9-3.8-0.3z" color="#4E28A4"/>
<path d="M414.6 1845.3l3.8-0.4 20.4-9.3-3.8 0.4z" color="#3F2EAA"/>
<path d="M727.4 1784.8l4.2 6.6 24.6-9.3-4.2-6.4z" color="#7BD2FC"/>
<path d="M212.3 1862.7l7 4.2 15-5.8-7-4.2z" color="#7627A7"/>
<path d="M786.7 1812.2l4.4 5 23.7-10.2-4.4-4.8z" color="#6499FF"/>
<path d="M446.5 1834.2l3.9-0.9 21.1-9.7-3.9 0.9z" color="#3B41AD"/>
<path d="M353.4 1859.4l3.8 1.1 18.9-8.1-3.7-1.1z" color="#5F27A5"/>
<path d="M264.4 1863.2l7.2 4 16.8-6.6-7.3-4z" color="#7426A7"/>
<path d="M547.5 1789.8l4.1-0.6 23-9.3-4.1 0.4z" color="#4686A7"/>
<path d="M479.3 1820.9l3.9-1.8 21.8-9.9-4 1.8z" color="#3554AC"/>
<path d="M731.6 1791.4l4.2 6.3 24.7-9.6-4.3-6z" color="#75CAFF"/>
<path d="M512.9 1804.6l4.1-2.3 22.4-9.6-4.1 2.2z" color="#39689F"/>
<path d="M587.1 1779l4.2-1.5 23.5-8.8-4.3 1.3z" color="#4A8A91"/>
<path d="M677 1776l4.4 1.3 24.3-8.6-4.3-1.3z" color="#5DAAAF"/>
<path d="M791.1 1817.2l4.3 5.2 23.7-10.4-4.3-5z" color="#6494FF"/>
<path d="M627.6 1765l4.2 1.1 24-8.2-4.2-1.3z" color="#66B69F"/>
<path d="M735.8 1797.7l4.3 5.3 24.7-9.8-4.3-5.1z" color="#6EBCFF"/>
<path d="M295.6 1864.5l7.3 3.7 17.5-7.2-7.3-3.5z" color="#7026A6"/>
<path d="M241.4 1865.2l7.1 4.2 15.9-6.2-7.1-4.1z" color="#7527A7"/>
<path d="M387.4 1854.3l3.7 0.1 19.8-8.9-3.8-0.1z" color="#4928A5"/>
<path d="M795.4 1822.4l4.4 5.2 23.7-10.6-4.4-5z" color="#638BFF"/>
<path d="M357.2 1860.5l3.7 1 19-8.3-3.8-0.8z" color="#5B27A5"/>
<path d="M418.4 1844.9l3.8-0.5 20.5-9.4-3.9 0.6z" color="#3E33AA"/>
<path d="M551.6 1789.2l4.1-0.1 23-9.2-4.1 0z" color="#4A8BA7"/>
<path d="M450.4 1833.3l3.9-1.1 21.1-9.8-3.9 1.2z" color="#3946AE"/>
<path d="M740.1 1803l4.4 4.2 24.6-9.9-4.3-4.1z" color="#64ABFB"/>
<path d="M681.4 1777.3l4.4 0.8 24.3-8.5-4.4-0.9z" color="#59A4A6"/>
<path d="M483.2 1819.1l4-2.3 21.7-9.8-3.9 2.2z" color="#3658A5"/>
<path d="M631.8 1766.1l4.3 3 24-8.2-4.3-3z" color="#78D1B8"/>
<path d="M799.8 1827.6l4.4 4.8 23.7-10.8-4.4-4.6z" color="#6280FF"/>
<path d="M327.8 1864.3l7.4 2.9 18.2-7.8-7.4-2.7z" color="#6626A5"/>
<path d="M517 1802.3l4-1.9 22.4-9.5-4 1.8z" color="#3C72A0"/>
<path d="M591.3 1777.5l4.2-1.9 23.5-8.6-4.2 1.7z" color="#4B8988"/>
<path d="M219.3 1866.9l7 4.2 15.1-5.9-7.1-4.1z" color="#7627A7"/>
<path d="M271.6 1867.2l7.3 4 16.7-6.7-7.2-3.9z" color="#7326A7"/>
<path d="M360.9 1861.5l3.7 0.8 19-8.4-3.7-0.7z" color="#5627A4"/>
<path d="M744.5 1807.2l4.4 3.5 24.6-10-4.4-3.4z" color="#5C9FF3"/>
<path d="M391.1 1854.4l3.8-0.1 19.7-9-3.7 0.2z" color="#432AA7"/>
<path d="M804.2 1832.4l4.4 4.4 23.7-10.9-4.4-4.3z" color="#5F75FF"/>
<path d="M636.1 1769.1l4.2 4.3 24-8.2-4.2-4.3z" color="#82E0CB"/>
<path d="M422.2 1844.4l3.9-0.7 20.4-9.5-3.8 0.8z" color="#3C39AC"/>
<path d="M198.1 1868.1l7 4.2 14.2-5.4-7-4.2z" color="#7627A7"/>
<path d="M555.7 1789.1l4.2-0.3 23-9.1-4.2 0.2z" color="#4B8DA2"/>
<path d="M685.8 1778.1l4.4 1.4 24.3-8.5-4.4-1.4z" color="#60AFAE"/>
<path d="M454.3 1832.2l3.8-1.5 21.2-9.8-3.9 1.5z" color="#374CAD"/>
<path d="M302.9 1868.2l7.3 3.4 17.6-7.3-7.4-3.3z" color="#6D26A6"/>
<path d="M248.5 1869.4l7.2 4.1 15.9-6.3-7.2-4z" color="#7426A7"/>
<path d="M748.9 1810.7l4.4 3.5 24.6-10.2-4.4-3.3z" color="#5A9AF3"/>
<path d="M487.2 1816.8l3.9-2.6 21.8-9.6-4 2.4z" color="#375EA0"/>
<path d="M808.6 1836.8l4.5 4.1 23.7-11-4.5-4z" color="#5D6CFF"/>
<path d="M640.3 1773.4l4.2 4.6 24-8.3-4.2-4.5z" color="#82DFD3"/>
<path d="M521 1800.4l4.1-1.3 22.4-9.3-4.1 1.1z" color="#417CA3"/>
<path d="M595.5 1775.6l4.3-1.8 23.5-8.3-4.3 1.5z" color="#4F8F84"/>
<path d="M335.2 1867.2l3.7 1.2 18.3-7.9-3.8-1.1z" color="#6227A5"/>
<path d="M364.6 1862.3l3.7 0.5 19.1-8.5-3.8-0.4z" color="#5127A3"/>
<path d="M690.2 1779.5l4.3 3 24.3-8.5-4.3-3z" color="#6EC5C5"/>
<path d="M394.9 1854.3l3.8-0.3 19.7-9.1-3.8 0.4z" color="#3F2CA9"/>
<path d="M226.3 1871.1l7.1 4.1 15.1-5.8-7.1-4.2z" color="#7527A7"/>
<path d="M426.1 1843.7l3.8-0.8 20.5-9.6-3.9 0.9z" color="#3B3EAC"/>
<path d="M559.9 1788.8l4.1-0.9 23.1-8.9-4.2 0.7z" color="#4B8B99"/>
<path d="M644.5 1778l4.3 3.9 23.9-8.4-4.2-3.8z" color="#78D3CF"/>
<path d="M753.3 1814.2l4.4 3.9 24.6-10.3-4.4-3.8z" color="#5E9CFB"/>
<path d="M813.1 1840.9l4.5 4 23.6-11.2-4.4-3.8z" color="#5C64FA"/>
<path d="M278.9 1871.2l7.3 3.8 16.7-6.8-7.3-3.7z" color="#7126A6"/>
<path d="M458.1 1830.7l3.9-1.9 21.2-9.7-3.9 1.8z" color="#3551AC"/>
<path d="M694.5 1782.5l4.3 4.9 24.3-8.7-4.3-4.7z" color="#7DD8DF"/>
<path d="M205.1 1872.3l7 4.3 14.2-5.5-7-4.2z" color="#7627A7"/>
<path d="M338.9 1868.4l3.7 1.1 18.3-8-3.7-1z" color="#5E27A4"/>
<path d="M525.1 1799.1l4-0.7 22.5-9.2-4.1 0.6z" color="#4685A6"/>
<path d="M757.7 1818.1l4.4 4.5 24.6-10.4-4.4-4.4z" color="#639EFF"/>
<path d="M599.8 1773.8l4.2-0.7 23.6-8.1-4.3 0.5z" color="#579B88"/>
<path d="M491.1 1814.2l4-2.4 21.9-9.5-4.1 2.3z" color="#39669E"/>
<path d="M368.3 1862.8l3.8 0.2 19-8.6-3.7-0.1z" color="#4B28A4"/>
<path d="M817.6 1844.9l4.5 3.8 23.6-11.2-4.5-3.8z" color="#5C5EF7"/>
<path d="M648.8 1781.9l4.3 2.5 23.9-8.4-4.3-2.5z" color="#69BEBE"/>
<path d="M698.8 1787.4l4.3 6.3 24.3-8.9-4.3-6.1z" color="#81DBEF"/>
<path d="M398.7 1854l3.8-0.4 19.7-9.2-3.8 0.5z" color="#3E31AA"/>
<path d="M184.7 1873.2l7 4.3 13.4-5.2-7-4.2z" color="#7627A8"/>
<path d="M255.7 1873.5l7.2 4 16-6.3-7.3-4z" color="#7326A7"/>
<path d="M310.2 1871.6l7.4 3 17.6-7.4-7.4-2.9z" color="#6826A5"/>
<path d="M429.9 1842.9l3.9-1.2 20.5-9.5-3.9 1.1z" color="#3944AD"/>
<path d="M564 1787.9l4.2-1.7 23.1-8.7-4.2 1.5z" color="#4A888E"/>
<path d="M762.1 1822.6l4.4 5.2 24.6-10.6-4.4-5z" color="#669CFF"/>
<path d="M703.1 1793.7l4.2 6.9 24.3-9.2-4.2-6.6z" color="#7DD5F9"/>
<path d="M822.1 1848.7l4.5 3.9 23.6-11.3-4.5-3.8z" color="#5D59F5"/>
<path d="M462 1828.8l4-2.4 21.2-9.6-4 2.3z" color="#3556A5"/>
<path d="M342.6 1869.5l3.7 0.9 18.3-8.1-3.7-0.8z" color="#5927A4"/>
<path d="M653.1 1784.4l4.3 1.2 24-8.3-4.4-1.3z" color="#5EABAB"/>
<path d="M707.3 1800.6l4.3 6.5 24.2-9.4-4.2-6.3z" color="#77CDFF"/>
<path d="M604 1773.1l4.3 1.1 23.5-8.1-4.2-1.1z" color="#67B49A"/>
<path d="M233.4 1875.2l7.2 4.2 15.1-5.9-7.2-4.1z" color="#7526A7"/>
<path d="M529.1 1798.4l4.1-0.2 22.5-9.1-4.1 0.1z" color="#498AA5"/>
<path d="M766.5 1827.8l4.3 5.4 24.6-10.8-4.3-5.2z" color="#6696FF"/>
<path d="M372.1 1863l3.7 0 19.1-8.7-3.8 0.1z" color="#4629A6"/>
<path d="M286.2 1875l7.3 3.5 16.7-6.9-7.3-3.4z" color="#6E26A6"/>
<path d="M495.1 1811.8l4-2.1 21.9-9.3-4 1.9z" color="#3C709F"/>
<path d="M402.5 1853.6l3.8-0.6 19.8-9.3-3.9 0.7z" color="#3D36AB"/>
<path d="M826.6 1852.6l4.5 3.9 23.7-11.4-4.6-3.8z" color="#5E54F3"/>
<path d="M711.6 1807.1l4.3 5.5 24.2-9.6-4.3-5.3z" color="#70C0FF"/>
<path d="M770.8 1833.2l4.4 5.4 24.6-11-4.4-5.2z" color="#648DFF"/>
<path d="M212.1 1876.6l7.1 4.2 14.2-5.6-7.1-4.1z" color="#7526A7"/>
<path d="M433.8 1841.7l3.8-1.4 20.5-9.6-3.8 1.5z" color="#3749AC"/>
<path d="M568.2 1786.2l4.2-2.2 23.1-8.4-4.2 1.9z" color="#4B8884"/>
<path d="M317.6 1874.6l3.7 1.4 17.6-7.6-3.7-1.2z" color="#6426A5"/>
<path d="M608.3 1774.2l4.2 2.9 23.6-8-4.3-3z" color="#79D2B4"/>
<path d="M657.4 1785.6l4.4 0.8 24-8.3-4.4-0.8z" color="#5AA5A2"/>
<path d="M346.3 1870.4l3.7 0.6 18.3-8.2-3.7-0.5z" color="#5327A3"/>
<path d="M715.9 1812.6l4.3 4.4 24.3-9.8-4.4-4.2z" color="#65AFFB"/>
<path d="M191.7 1877.5l7 4.3 13.4-5.2-7-4.3z" color="#7627A7"/>
<path d="M831.1 1856.5l4.6 3.9 23.6-11.5-4.5-3.8z" color="#5E4FF0"/>
<path d="M262.9 1877.5l7.3 3.9 16-6.4-7.3-3.8z" color="#7226A6"/>
<path d="M775.2 1838.6l4.4 5 24.6-11.2-4.4-4.8z" color="#6381FF"/>
<path d="M533.2 1798.2l4.2-0.5 22.5-8.9-4.2 0.3z" color="#4B8CA1"/>
<path d="M375.8 1863l3.8-0.2 19.1-8.8-3.8 0.3z" color="#402AA9"/>
<path d="M466 1826.4l3.9-2.7 21.2-9.5-3.9 2.6z" color="#365C9F"/>
<path d="M172.3 1877.9l6.9 4.4 12.5-4.8-7-4.3z" color="#7627A8"/>
<path d="M406.3 1853l3.8-0.8 19.8-9.3-3.8 0.8z" color="#3C3CAC"/>
<path d="M612.5 1777.1l4.2 4.4 23.6-8.1-4.2-4.3z" color="#84E2C8"/>
<path d="M499.1 1809.7l4.1-1.4 21.9-9.2-4.1 1.3z" color="#407BA2"/>
<path d="M720.2 1817l4.4 3.6 24.3-9.9-4.4-3.5z" color="#5DA2F3"/>
<path d="M779.6 1843.6l4.5 4.6 24.5-11.4-4.4-4.4z" color="#6076FF"/>
<path d="M835.7 1860.4l4.5 3.8 23.6-11.6-4.5-3.7z" color="#5E49ED"/>
<path d="M321.3 1876l3.7 1.2 17.6-7.7-3.7-1.1z" color="#6027A4"/>
<path d="M240.6 1879.4l7.2 4.1 15.1-6-7.2-4z" color="#7426A7"/>
<path d="M661.8 1786.4l4.4 1.4 24-8.3-4.4-1.4z" color="#61B0AB"/>
<path d="M350 1871l3.8 0.4 18.3-8.4-3.8-0.2z" color="#4E27A3"/>
<path d="M437.6 1840.3l3.9-2 20.5-9.5-3.9 1.9z" color="#354EAA"/>
<path d="M572.4 1784l4.3-2.1 23.1-8.1-4.3 1.8z" color="#4F8E81"/>
<path d="M293.5 1878.5l7.3 3.2 16.8-7.1-7.4-3z" color="#6A26A6"/>
<path d="M616.7 1781.5l4.3 4.7 23.5-8.2-4.2-4.6z" color="#84E2D0"/>
<path d="M537.4 1797.7l4.1-1 22.5-8.8-4.1 0.9z" color="#4A8A97"/>
<path d="M379.6 1862.8l3.8-0.3 19.1-8.9-3.8 0.4z" color="#3F2FAA"/>
<path d="M784.1 1848.2l4.4 4.2 24.6-11.5-4.5-4.1z" color="#5E6CFF"/>
<path d="M219.2 1880.8l7.1 4.2 14.3-5.6-7.2-4.2z" color="#7526A7"/>
<path d="M724.6 1820.6l4.4 3.5 24.3-9.9-4.4-3.5z" color="#5B9DF3"/>
<path d="M840.2 1864.2l4.6 3.7 23.6-11.7-4.6-3.6z" color="#5D44E9"/>
<path d="M469.9 1823.7l3.9-2.6 21.3-9.3-4 2.4z" color="#38649D"/>
<path d="M666.2 1787.8l4.3 3 24-8.3-4.3-3z" color="#70C7C2"/>
<path d="M410.1 1852.2l3.8-1.1 19.9-9.4-3.9 1.2z" color="#3A41AC"/>
<path d="M198.7 1881.8l7.1 4.2 13.4-5.2-7.1-4.2z" color="#7526A7"/>
<path d="M503.2 1808.3l4-0.8 21.9-9.1-4 0.7z" color="#4583A5"/>
<path d="M325 1877.2l3.7 0.9 17.6-7.7-3.7-0.9z" color="#5B27A4"/>
<path d="M621 1786.2l4.2 3.9 23.6-8.2-4.3-3.9z" color="#7AD5CC"/>
<path d="M270.2 1881.4l7.3 3.7 16-6.6-7.3-3.5z" color="#6F26A6"/>
<path d="M788.5 1852.4l4.5 4 24.6-11.5-4.5-4z" color="#5D64FB"/>
<path d="M179.2 1882.3l7.1 4.4 12.4-4.9-7-4.3z" color="#7627A7"/>
<path d="M729 1824.1l4.5 4 24.2-10-4.4-3.9z" color="#5F9EFB"/>
<path d="M353.8 1871.4l3.7 0.1 18.3-8.5-3.7 0z" color="#4828A5"/>
<path d="M160.7 1882.4l7 4.4 11.5-4.5-6.9-4.4z" color="#7727A8"/>
<path d="M844.8 1867.9l4.6 3.6 23.6-11.8-4.6-3.5z" color="#5E3FE5"/>
<path d="M576.7 1781.9l4.2-0.9 23.1-7.9-4.2 0.7z" color="#589A85"/>
<path d="M441.5 1838.3l3.9-2.5 20.6-9.4-4 2.4z" color="#3454A5"/>
<path d="M670.5 1790.8l4.4 5 23.9-8.4-4.3-4.9z" color="#7FDBDC"/>
<path d="M383.4 1862.5l3.8-0.5 19.1-9-3.8 0.6z" color="#3D34AB"/>
<path d="M625.2 1790.1l4.4 2.4 23.5-8.1-4.3-2.5z" color="#6AC0BB"/>
<path d="M300.8 1881.7l3.7 1.5 16.8-7.2-3.7-1.4z" color="#6526A5"/>
<path d="M541.5 1796.7l4.2-2 22.5-8.5-4.2 1.7z" color="#49878B"/>
<path d="M247.8 1883.5l7.3 4 15.1-6.1-7.3-3.9z" color="#7226A7"/>
<path d="M793 1856.4l4.5 4 24.6-11.7-4.5-3.8z" color="#5D5EF7"/>
<path d="M733.5 1828.1l4.4 4.8 24.2-10.3-4.4-4.5z" color="#64A0FF"/>
<path d="M328.7 1878.1l3.7 0.8 17.6-7.9-3.7-0.6z" color="#5627A3"/>
<path d="M674.9 1795.8l4.2 6.5 24-8.6-4.3-6.3z" color="#83DEEC"/>
<path d="M849.4 1871.5l4.6 3.4 23.6-11.8-4.6-3.4z" color="#603DDF"/>
<path d="M507.2 1807.5l4.1-0.4 21.9-8.9-4.1 0.2z" color="#4889A5"/>
<path d="M473.8 1821.1l4-2.3 21.3-9.1-4 2.1z" color="#3B6D9E"/>
<path d="M413.9 1851.1l3.8-1.5 19.9-9.3-3.8 1.4z" color="#3846AB"/>
<path d="M226.3 1885l7.2 4.2 14.3-5.7-7.2-4.1z" color="#7426A7"/>
<path d="M357.5 1871.5l3.7-0.1 18.4-8.6-3.8 0.2z" color="#432AA7"/>
<path d="M679.1 1802.3l4.3 7.2 23.9-8.9-4.2-6.9z" color="#7ED7F6"/>
<path d="M737.9 1832.9l4.3 5.3 24.3-10.4-4.4-5.2z" color="#679EFF"/>
<path d="M797.5 1860.4l4.6 4 24.5-11.8-4.5-3.9z" color="#5E59F5"/>
<path d="M580.9 1781l4.3 1 23.1-7.8-4.3-1.1z" color="#67B395"/>
<path d="M629.6 1792.5l4.3 1.2 23.5-8.1-4.3-1.2z" color="#5EACA7"/>
<path d="M304.5 1883.2l3.7 1.3 16.8-7.3-3.7-1.2z" color="#6226A4"/>
<path d="M205.8 1886l7.1 4.3 13.4-5.3-7.1-4.2z" color="#7526A7"/>
<path d="M683.4 1809.5l4.3 6.8 23.9-9.2-4.3-6.5z" color="#79CFFF"/>
<path d="M854 1874.9l4.7 3.4 23.6-11.9-4.7-3.3z" color="#633BDA"/>
<path d="M387.2 1862l3.7-0.8 19.2-9-3.8 0.8z" color="#3C39AB"/>
<path d="M445.4 1835.8l3.9-2.8 20.6-9.3-3.9 2.7z" color="#355A9F"/>
<path d="M277.5 1885.1l7.3 3.4 16-6.8-7.3-3.2z" color="#6B26A6"/>
<path d="M742.2 1838.2l4.4 5.7 24.2-10.7-4.3-5.4z" color="#6798FF"/>
<path d="M186.3 1886.7l7 4.2 12.5-4.9-7.1-4.2z" color="#7526A7"/>
<path d="M150.1 1886.4l7 4.6 10.6-4.2-7-4.4z" color="#7727A8"/>
<path d="M332.4 1878.9l3.8 0.4 17.6-7.9-3.8-0.4z" color="#5027A2"/>
<path d="M545.7 1794.7l4.2-2.5 22.5-8.2-4.2 2.2z" color="#4A8781"/>
<path d="M167.7 1886.8l7 4.4 11.6-4.5-7.1-4.4z" color="#7627A7"/>
<path d="M687.7 1816.3l4.3 5.7 23.9-9.4-4.3-5.5z" color="#71C3FF"/>
<path d="M802.1 1864.4l4.5 4 24.5-11.9-4.5-3.9z" color="#5E54F3"/>
<path d="M511.3 1807.1l4.1-0.6 22-8.8-4.2 0.5z" color="#4A8B9F"/>
<path d="M585.2 1782l4.2 2.9 23.1-7.8-4.2-2.9z" color="#7BD2B0"/>
<path d="M477.8 1818.8l4-1.5 21.4-9-4.1 1.4z" color="#3F79A1"/>
<path d="M746.6 1843.9l4.4 5.5 24.2-10.8-4.4-5.4z" color="#658EFF"/>
<path d="M417.7 1849.6l3.9-2 19.9-9.3-3.9 2z" color="#354CA9"/>
<path d="M361.2 1871.4l3.8-0.3 18.4-8.6-3.8 0.3z" color="#3F2DA9"/>
<path d="M255.1 1887.5l7.2 3.8 15.2-6.2-7.3-3.7z" color="#7026A6"/>
<path d="M858.7 1878.3l4.6 3.3 23.6-12-4.6-3.2z" color="#6539D5"/>
<path d="M633.9 1793.7l4.4 0.7 23.5-8-4.4-0.8z" color="#5BA69E"/>
<path d="M308.2 1884.5l3.7 1.1 16.8-7.5-3.7-0.9z" color="#5D26A4"/>
<path d="M692 1822l4.3 4.5 23.9-9.5-4.3-4.4z" color="#67B2FB"/>
<path d="M806.6 1868.4l4.5 4 24.6-12-4.6-3.9z" color="#5F4FF0"/>
<path d="M751 1849.4l4.4 5.2 24.2-11-4.4-5z" color="#6483FF"/>
<path d="M390.9 1861.2l3.9-1 19.1-9.1-3.8 1.1z" color="#3A3FAB"/>
<path d="M233.5 1889.2l7.3 4.1 14.3-5.8-7.3-4z" color="#7326A7"/>
<path d="M336.2 1879.3l3.7 0.3 17.6-8.1-3.7-0.1z" color="#4B28A3"/>
<path d="M589.4 1784.9l4.2 4.4 23.1-7.8-4.2-4.4z" color="#87E3C4"/>
<path d="M449.3 1833l3.9-2.7 20.6-9.2-3.9 2.6z" color="#37619C"/>
<path d="M863.3 1881.6l4.7 3.2 23.6-12-4.7-3.2z" color="#6737D1"/>
<path d="M284.8 1888.5l3.7 1.5 16-6.8-3.7-1.5z" color="#6726A5"/>
<path d="M549.9 1792.2l4.2-2.3 22.6-8-4.3 2.1z" color="#4E8D7D"/>
<path d="M515.4 1806.5l4.1-1.2 22-8.6-4.1 1z" color="#498895"/>
<path d="M696.3 1826.5l4.4 3.8 23.9-9.7-4.4-3.6z" color="#5EA5F3"/>
<path d="M212.9 1890.3l7.2 4.2 13.4-5.3-7.2-4.2z" color="#7426A7"/>
<path d="M755.4 1854.6l4.5 4.8 24.2-11.2-4.5-4.6z" color="#6177FF"/>
<path d="M140.5 1890.2l6.9 4.7 9.7-3.9-7-4.6z" color="#7827A9"/>
<path d="M811.1 1872.4l4.6 3.9 24.5-12.1-4.5-3.8z" color="#5E49ED"/>
<path d="M638.3 1794.4l4.3 1.4 23.6-8-4.4-1.4z" color="#62B2A7"/>
<path d="M481.8 1817.3l4.1-0.9 21.3-8.9-4 0.8z" color="#4482A4"/>
<path d="M365 1871.1l3.7-0.4 18.5-8.7-3.8 0.5z" color="#3E32AA"/>
<path d="M311.9 1885.6l3.7 0.8 16.8-7.5-3.7-0.8z" color="#5827A3"/>
<path d="M193.3 1890.9l7.1 4.3 12.5-4.9-7.1-4.3z" color="#7526A7"/>
<path d="M593.6 1789.3l4.3 4.7 23.1-7.8-4.3-4.7z" color="#86E4CD"/>
<path d="M157.1 1891l7 4.5 10.6-4.3-7-4.4z" color="#7727A7"/>
<path d="M421.6 1847.6l3.8-2.5 20-9.3-3.9 2.5z" color="#3351A5"/>
<path d="M174.7 1891.2l7 4.2 11.6-4.5-7-4.2z" color="#7526A6"/>
<path d="M868 1884.8l4.7 3.1 23.6-12-4.7-3.1z" color="#6936CD"/>
<path d="M700.7 1830.3l4.5 3.6 23.8-9.8-4.4-3.5z" color="#5CA0F3"/>
<path d="M759.9 1859.4l4.4 4.3 24.2-11.3-4.4-4.2z" color="#5F6DFF"/>
<path d="M339.9 1879.6l3.7 0 17.6-8.2-3.7 0.1z" color="#4529A6"/>
<path d="M815.7 1876.3l4.6 3.8 24.5-12.2-4.6-3.7z" color="#5E43E9"/>
<path d="M394.8 1860.2l3.8-1.4 19.1-9.2-3.8 1.5z" color="#3844AA"/>
<path d="M288.5 1890l3.7 1.4 16-6.9-3.7-1.3z" color="#6426A4"/>
<path d="M597.9 1794l4.3 4 23-7.9-4.2-3.9z" color="#7CD7C9"/>
<path d="M262.3 1891.3l7.4 3.6 15.1-6.4-7.3-3.4z" color="#6C26A6"/>
<path d="M642.6 1795.8l4.4 3.1 23.5-8.1-4.3-3z" color="#71CABE"/>
<path d="M453.2 1830.3l3.9-2.4 20.7-9.1-4 2.3z" color="#3A6B9D"/>
<path d="M554.1 1789.9l4.2-1.2 22.6-7.7-4.2 0.9z" color="#589981"/>
<path d="M519.5 1805.3l4.2-2.2 22-8.4-4.2 2z" color="#488589"/>
<path d="M315.6 1886.4l3.7 0.6 16.9-7.7-3.8-0.4z" color="#5327A2"/>
<path d="M485.9 1816.4l4-0.5 21.4-8.8-4.1 0.4z" color="#4888A4"/>
<path d="M705.2 1833.9l4.4 4.2 23.9-10-4.5-4z" color="#60A1FC"/>
<path d="M368.7 1870.7l3.8-0.7 18.4-8.8-3.7 0.8z" color="#3D37AB"/>
<path d="M764.3 1863.7l4.5 4.2 24.2-11.5-4.5-4z" color="#5D64FB"/>
<path d="M872.7 1887.9l4.8 3.1 23.5-12.1-4.7-3z" color="#6A34CA"/>
<path d="M240.8 1893.3l7.2 3.9 14.3-5.9-7.2-3.8z" color="#7126A6"/>
<path d="M131.8 1893.6l6.9 4.9 8.7-3.6-6.9-4.7z" color="#7927AA"/>
<path d="M820.3 1880.1l4.6 3.6 24.5-12.2-4.6-3.6z" color="#5F3FE4"/>
<path d="M647 1798.9l4.3 5.1 23.6-8.2-4.4-5z" color="#82DFDA"/>
<path d="M602.2 1798l4.3 2.5 23.1-8-4.4-2.4z" color="#6CC1B7"/>
<path d="M425.4 1845.1l3.9-2.9 20-9.2-3.9 2.8z" color="#34579E"/>
<path d="M220.1 1894.5l7.2 4.2 13.5-5.4-7.3-4.1z" color="#7326A7"/>
<path d="M292.2 1891.4l3.7 1.2 16-7-3.7-1.1z" color="#6026A4"/>
<path d="M147.4 1894.9l7 4.5 9.7-3.9-7-4.5z" color="#7726A7"/>
<path d="M343.6 1879.6l3.7-0.2 17.7-8.3-3.8 0.3z" color="#402AA9"/>
<path d="M709.6 1838.1l4.4 4.8 23.9-10-4.4-4.8z" color="#65A3FF"/>
<path d="M200.4 1895.2l7.2 4.2 12.5-4.9-7.2-4.2z" color="#7426A7"/>
<path d="M768.8 1867.9l4.5 4.1 24.2-11.6-4.5-4z" color="#5D5EF8"/>
<path d="M164.1 1895.5l7 4.1 10.6-4.2-7-4.2z" color="#7526A5"/>
<path d="M651.3 1804l4.3 6.7 23.5-8.4-4.2-6.5z" color="#85E0E9"/>
<path d="M398.6 1858.8l3.8-2 19.2-9.2-3.9 2z" color="#3549A7"/>
<path d="M181.7 1895.4l7.1 4.3 11.6-4.5-7.1-4.3z" color="#7526A7"/>
<path d="M877.5 1891l4.7 3 23.6-12.1-4.8-3z" color="#6C33C6"/>
<path d="M824.9 1883.7l4.6 3.6 24.5-12.4-4.6-3.4z" color="#623DDE"/>
<path d="M558.3 1788.7l4.2 0.8 22.7-7.5-4.3-1z" color="#68B191"/>
<path d="M269.7 1894.9l3.6 1.6 15.2-6.5-3.7-1.5z" color="#6926A5"/>
<path d="M319.3 1887l3.7 0.3 16.9-7.7-3.7-0.3z" color="#4D27A2"/>
<path d="M655.6 1810.7l4.3 7.5 23.5-8.7-4.3-7.2z" color="#80D9F3"/>
<path d="M457.1 1827.9l4-1.7 20.7-8.9-4 1.5z" color="#3E77A0"/>
<path d="M489.9 1815.9l4.1-0.7 21.4-8.7-4.1 0.6z" color="#49899E"/>
<path d="M714 1842.9l4.4 5.6 23.8-10.3-4.3-5.3z" color="#68A0FF"/>
<path d="M606.5 1800.5l4.3 1.1 23.1-7.9-4.3-1.2z" color="#5FADA3"/>
<path d="M372.5 1870l3.8-0.9 18.5-8.9-3.9 1z" color="#3B3CAA"/>
<path d="M523.7 1803.1l4.1-2.8 22.1-8.1-4.2 2.5z" color="#49857E"/>
<path d="M124.1 1896.7l6.9 5.1 7.7-3.3-6.9-4.9z" color="#7B28AA"/>
<path d="M773.3 1872l4.6 4.1 24.2-11.7-4.6-4z" color="#5E59F6"/>
<path d="M659.9 1818.2l4.3 7 23.5-8.9-4.3-6.8z" color="#7AD1FD"/>
<path d="M295.9 1892.6l3.7 1 16-7.2-3.7-0.8z" color="#5B26A2"/>
<path d="M882.2 1894l4.8 3 23.6-12.2-4.8-2.9z" color="#6D31C3"/>
<path d="M829.5 1887.3l4.7 3.4 24.5-12.4-4.7-3.4z" color="#643AD9"/>
<path d="M347.3 1879.4l3.8-0.3 17.6-8.4-3.7 0.4z" color="#3F2FAA"/>
<path d="M718.4 1848.5l4.4 5.9 23.8-10.5-4.4-5.7z" color="#689AFF"/>
<path d="M429.3 1842.2l3.9-2.9 20-9-3.9 2.7z" color="#365F9B"/>
<path d="M562.5 1789.5l4.3 2.9 22.6-7.5-4.2-2.9z" color="#7DD2AC"/>
<path d="M138.7 1898.5l7 4.4 8.7-3.5-7-4.5z" color="#7826A6"/>
<path d="M664.2 1825.2l4.3 5.9 23.5-9.1-4.3-5.7z" color="#73C7FF"/>
<path d="M248 1897.2l7.3 3.7 14.4-6-7.4-3.6z" color="#6E26A6"/>
<path d="M273.3 1896.5l3.7 1.5 15.2-6.6-3.7-1.4z" color="#6626A5"/>
<path d="M777.9 1876.1l4.5 4.1 24.2-11.8-4.5-4z" color="#5F54F3"/>
<path d="M323 1887.3l3.7 0.1 16.9-7.8-3.7 0z" color="#4828A5"/>
<path d="M402.4 1856.8l3.8-2.6 19.2-9.1-3.8 2.5z" color="#334FA5"/>
<path d="M722.8 1854.4l4.4 5.7 23.8-10.7-4.4-5.5z" color="#6690FF"/>
<path d="M610.8 1801.6l4.4 0.6 23.1-7.8-4.4-0.7z" color="#5CA69A"/>
<path d="M227.3 1898.7l7.3 4 13.4-5.5-7.2-3.9z" color="#7126A6"/>
<path d="M154.4 1899.4l7 4 9.7-3.8-7-4.1z" color="#7526A4"/>
<path d="M494 1815.2l4.1-1.5 21.4-8.4-4.1 1.2z" color="#498793"/>
<path d="M461.1 1826.2l4-1 20.8-8.8-4.1 0.9z" color="#4380A3"/>
<path d="M834.2 1890.7l4.7 3.3 24.4-12.4-4.6-3.3z" color="#6638D4"/>
<path d="M668.5 1831.1l4.4 4.8 23.4-9.4-4.3-4.5z" color="#68B6FC"/>
<path d="M117.4 1899.5l7 5.2 6.6-2.9-6.9-5.1z" color="#7C28AA"/>
<path d="M376.3 1869.1l3.8-1.4 18.5-8.9-3.8 1.4z" color="#3841A9"/>
<path d="M207.6 1899.4l7.2 4.3 12.5-5-7.2-4.2z" color="#7326A7"/>
<path d="M171.1 1899.6l7 4.2 10.7-4.1-7.1-4.3z" color="#7426A6"/>
<path d="M299.6 1893.6l3.7 0.7 16-7.3-3.7-0.6z" color="#5526A1"/>
<path d="M566.8 1792.4l4.2 4.4 22.6-7.5-4.2-4.4z" color="#89E4C1"/>
<path d="M188.8 1899.7l7.1 4.3 11.7-4.6-7.2-4.2z" color="#7426A7"/>
<path d="M527.8 1800.3l4.2-2.7 22.1-7.7-4.2 2.3z" color="#4E8B7A"/>
<path d="M727.2 1860.1l4.4 5.4 23.8-10.9-4.4-5.2z" color="#6584FF"/>
<path d="M782.4 1880.2l4.6 4 24.1-11.8-4.5-4z" color="#5F4EF1"/>
<path d="M351.1 1879.1l3.7-0.5 17.7-8.6-3.8 0.7z" color="#3D34AA"/>
<path d="M887 1897l9.6 5.7 23.5-12.2-9.5-5.7z" color="#6F30BF"/>
<path d="M277 1898l3.7 1.3 15.2-6.7-3.7-1.2z" color="#6226A4"/>
<path d="M672.9 1835.9l4.4 3.9 23.4-9.5-4.4-3.8z" color="#60A8F4"/>
<path d="M131 1901.8l7 4.4 7.7-3.3-7-4.4z" color="#7826A5"/>
<path d="M571 1796.8l4.3 4.9 22.6-7.7-4.3-4.7z" color="#88E6CA"/>
<path d="M838.9 1894l4.7 3.2 24.4-12.4-4.7-3.2z" color="#6837D0"/>
<path d="M433.2 1839.3l3.9-2.6 20-8.8-3.9 2.4z" color="#39699C"/>
<path d="M615.2 1802.2l4.3 1.3 23.1-7.7-4.3-1.4z" color="#63B3A3"/>
<path d="M326.7 1887.4l3.8 0 16.8-8-3.7 0.2z" color="#432AA8"/>
<path d="M731.6 1865.5l4.4 4.9 23.9-11-4.5-4.8z" color="#6278FF"/>
<path d="M255.3 1900.9l3.7 1.8 14.3-6.2-3.6-1.6z" color="#6B26A5"/>
<path d="M111.7 1902l7 5.4 5.7-2.7-7-5.2z" color="#7E28AB"/>
<path d="M787 1884.2l4.5 4 24.2-11.9-4.6-3.9z" color="#5F48ED"/>
<path d="M406.2 1854.2l3.8-3.1 19.3-8.9-3.9 2.9z" color="#33559E"/>
<path d="M465.1 1825.2l4.1-0.6 20.7-8.7-4 0.5z" color="#4786A3"/>
<path d="M303.3 1894.3l3.7 0.4 16-7.4-3.7-0.3z" color="#4F27A1"/>
<path d="M498.1 1813.7l4.1-2.4 21.5-8.2-4.2 2.2z" color="#488386"/>
<path d="M145.7 1902.9l6.9 3.9 8.8-3.4-7-4z" color="#7425A3"/>
<path d="M380.1 1867.7l3.8-2 18.5-8.9-3.8 2z" color="#3546A6"/>
<path d="M677.3 1839.8l4.4 3.7 23.5-9.6-4.5-3.6z" color="#5EA2F3"/>
<path d="M575.3 1801.7l4.3 4 22.6-7.7-4.3-4z" color="#7DDAC5"/>
<path d="M532 1797.6l4.2-1.4 22.1-7.5-4.2 1.2z" color="#58977D"/>
<path d="M736 1870.4l4.5 4.6 23.8-11.3-4.4-4.3z" color="#606DFF"/>
<path d="M280.7 1899.3l3.7 1.1 15.2-6.8-3.7-1z" color="#5D26A2"/>
<path d="M843.6 1897.2l4.7 3.2 24.4-12.5-4.7-3.1z" color="#6A35CC"/>
<path d="M354.8 1878.6l3.8-0.9 17.7-8.6-3.8 0.9z" color="#3B39AA"/>
<path d="M619.5 1803.5l4.4 3.1 23.1-7.7-4.4-3.1z" color="#73CDBB"/>
<path d="M234.6 1902.7l7.3 3.9 13.4-5.7-7.3-3.7z" color="#6F26A6"/>
<path d="M161.4 1903.4l7 4.1 9.7-3.7-7-4.2z" color="#7426A6"/>
<path d="M107.1 1904.2l7 5.4 4.6-2.2-7-5.4z" color="#8028AA"/>
<path d="M791.5 1888.2l4.6 3.9 24.2-12-4.6-3.8z" color="#5E42E9"/>
<path d="M124.4 1904.7l6.9 4.4 6.7-2.9-7-4.4z" color="#7926A4"/>
<path d="M259 1902.7l3.7 1.5 14.3-6.2-3.7-1.5z" color="#6826A5"/>
<path d="M214.8 1903.7l7.2 4.1 12.6-5.1-7.3-4z" color="#7226A7"/>
<path d="M178.1 1903.8l7.2 4.3 10.6-4.1-7.1-4.3z" color="#7426A7"/>
<path d="M195.9 1904l7.2 4.3 11.7-4.6-7.2-4.3z" color="#7427A7"/>
<path d="M330.5 1887.4l3.7-0.2 16.9-8.1-3.8 0.3z" color="#3F2DAA"/>
<path d="M681.7 1843.5l4.4 4.3 23.5-9.7-4.4-4.2z" color="#61A3FC"/>
<path d="M896.6 1902.7l9.7 5.5 23.5-12.2-9.7-5.5z" color="#712EBA"/>
<path d="M437.1 1836.7l4-1.8 20-8.7-4 1.7z" color="#3D75A0"/>
<path d="M579.6 1805.7l4.3 2.4 22.6-7.6-4.3-2.5z" color="#6DC3B4"/>
<path d="M740.5 1875l4.5 4.2 23.8-11.3-4.5-4.2z" color="#5E64FC"/>
<path d="M307 1894.7l3.7 0.2 16-7.5-3.7-0.1z" color="#4A28A3"/>
<path d="M103.5 1906l6.9 5.4 3.7-1.8-7-5.4z" color="#8128AA"/>
<path d="M623.9 1806.6l4.3 5.3 23.1-7.9-4.3-5.1z" color="#85E2D6"/>
<path d="M848.3 1900.4l4.7 3.1 24.5-12.5-4.8-3.1z" color="#6B34C8"/>
<path d="M469.2 1824.6l4-0.9 20.8-8.5-4.1 0.7z" color="#48889D"/>
<path d="M796.1 1892.1l4.7 3.7 24.1-12.1-4.6-3.6z" color="#613FE3"/>
<path d="M138 1906.2l6.9 3.7 7.7-3.1-6.9-3.9z" color="#7325A1"/>
<path d="M284.4 1900.4l3.7 0.8 15.2-6.9-3.7-0.7z" color="#5826A1"/>
<path d="M410 1851.1l3.9-3 19.3-8.8-3.9 2.9z" color="#355D9B"/>
<path d="M536.2 1796.2l4.2 0.7 22.1-7.4-4.2-0.8z" color="#68AF8C"/>
<path d="M502.2 1811.3l4.1-3.1 21.5-7.9-4.1 2.8z" color="#48837B"/>
<path d="M118.7 1907.4l6.9 4.3 5.7-2.6-6.9-4.4z" color="#7925A3"/>
<path d="M686.1 1847.8l4.4 5 23.5-9.9-4.4-4.8z" color="#66A5FF"/>
<path d="M100.9 1907.3l7 5.5 2.5-1.4-6.9-5.4z" color="#8228A9"/>
<path d="M383.9 1865.7l3.8-2.7 18.5-8.8-3.8 2.6z" color="#324CA4"/>
<path d="M628.2 1811.9l4.3 7 23.1-8.2-4.3-6.7z" color="#87E3E6"/>
<path d="M262.7 1904.2l3.6 1.4 14.4-6.3-3.7-1.3z" color="#6426A4"/>
<path d="M745 1879.2l4.5 4.2 23.8-11.4-4.5-4.1z" color="#5E5EF8"/>
<path d="M358.6 1877.7l3.8-1.3 17.7-8.7-3.8 1.4z" color="#393EA8"/>
<path d="M99.4 1908.1l6.9 5.5 1.6-0.8-7-5.5z" color="#8328A8"/>
<path d="M241.9 1906.6l3.6 1.8 13.5-5.7-3.7-1.8z" color="#6C26A6"/>
<path d="M583.9 1808.1l4.3 1.1 22.6-7.6-4.3-1.1z" color="#60AE9F"/>
<path d="M152.6 1906.8l7.1 4.1 8.7-3.4-7-4.1z" color="#7326A5"/>
<path d="M632.5 1818.9l4.3 7.7 23.1-8.4-4.3-7.5z" color="#82DBF0"/>
<path d="M98.8 1908.4l7 5.5 0.5-0.3-6.9-5.5z" color="#8428A8"/>
<path d="M334.2 1887.2l3.7-0.4 16.9-8.2-3.7 0.5z" color="#3E32AA"/>
<path d="M853 1903.5l4.8 3.1 24.4-12.6-4.7-3z" color="#6D32C5"/>
<path d="M800.8 1895.8l4.6 3.6 24.1-12.1-4.6-3.6z" color="#633CDD"/>
<path d="M690.5 1852.8l4.4 5.8 23.5-10.1-4.4-5.6z" color="#69A2FF"/>
<path d="M441.1 1834.9l3.9-1.1 20.1-8.6-4 1z" color="#427FA3"/>
<path d="M310.7 1894.9l3.7 0.1 16.1-7.6-3.8 0z" color="#4529A6"/>
<path d="M114.1 1909.6l6.8 4.2 4.7-2.1-6.9-4.3z" color="#7A25A1"/>
<path d="M636.8 1826.6l4.3 7.3 23.1-8.7-4.3-7z" color="#7CD3FB"/>
<path d="M168.4 1907.5l7.1 4.3 9.8-3.7-7.2-4.3z" color="#7326A6"/>
<path d="M749.5 1883.4l4.6 4.2 23.8-11.5-4.6-4.1z" color="#5F59F6"/>
<path d="M540.4 1796.9l4.3 2.8 22.1-7.3-4.3-2.9z" color="#7ED2A7"/>
<path d="M473.2 1823.7l4.1-1.6 20.8-8.4-4.1 1.5z" color="#488591"/>
<path d="M131.3 1909.1l6.9 3.5 6.7-2.7-6.9-3.7z" color="#73249F"/>
<path d="M288.1 1901.2l3.6 0.5 15.3-7-3.7-0.4z" color="#5226A1"/>
<path d="M185.3 1908.1l7.1 4.4 10.7-4.2-7.2-4.3z" color="#7427A8"/>
<path d="M222 1907.8l7.3 4 12.6-5.2-7.3-3.9z" color="#7026A6"/>
<path d="M694.9 1858.6l4.4 6.1 23.5-10.3-4.4-5.9z" color="#699BFF"/>
<path d="M203.1 1908.3l7.3 4.3 11.6-4.8-7.2-4.1z" color="#7327A7"/>
<path d="M906.3 1908.2l9.8 5.4 23.5-12.3-9.8-5.3z" color="#722CB6"/>
<path d="M266.3 1905.6l3.7 1.2 14.4-6.4-3.7-1.1z" color="#5F26A2"/>
<path d="M641.1 1833.9l4.4 6.2 23-9-4.3-5.9z" color="#74CAFF"/>
<path d="M805.4 1899.4l4.7 3.5 24.1-12.2-4.7-3.4z" color="#653AD7"/>
<path d="M857.8 1906.6l4.8 3 24.4-12.6-4.8-3z" color="#6E31C2"/>
<path d="M413.9 1848.1l3.8-2.7 19.4-8.7-3.9 2.6z" color="#38679B"/>
<path d="M245.5 1908.4l3.7 1.7 13.5-5.9-3.7-1.5z" color="#6926A5"/>
<path d="M110.4 1911.4l6.9 4.2 3.6-1.8-6.8-4.2z" color="#7A24A0"/>
<path d="M506.3 1808.2l4.2-3 21.5-7.6-4.2 2.7z" color="#4D8976"/>
<path d="M588.2 1809.2l4.3 0.5 22.7-7.5-4.4-0.6z" color="#5CA795"/>
<path d="M387.7 1863l3.7-3.1 18.6-8.8-3.8 3.1z" color="#32529E"/>
<path d="M754.1 1887.6l4.5 4.2 23.8-11.6-4.5-4.1z" color="#6053F4"/>
<path d="M362.4 1876.4l3.7-2 17.8-8.7-3.8 2z" color="#3643A5"/>
<path d="M699.3 1864.7l4.4 6 23.5-10.6-4.4-5.7z" color="#6792FF"/>
<path d="M544.7 1799.7l4.2 4.5 22.1-7.4-4.2-4.4z" color="#8CE5BD"/>
<path d="M337.9 1886.8l3.8-0.8 16.9-8.3-3.8 0.9z" color="#3C37AA"/>
<path d="M144.9 1909.9l7 3.9 7.8-2.9-7.1-4.1z" color="#7225A4"/>
<path d="M645.5 1840.1l4.3 4.9 23.1-9.1-4.4-4.8z" color="#6AB9FC"/>
<path d="M107.9 1912.8l6.8 4 2.6-1.2-6.9-4.2z" color="#7B239E"/>
<path d="M125.6 1911.7l6.9 3.2 5.7-2.3-6.9-3.5z" color="#72239D"/>
<path d="M314.4 1895l3.7-0.1 16.1-7.7-3.7 0.2z" color="#402BAA"/>
<path d="M445 1833.8l4.1-0.7 20.1-8.5-4.1 0.6z" color="#4685A2"/>
<path d="M810.1 1902.9l4.6 3.4 24.2-12.3-4.7-3.3z" color="#6738D3"/>
<path d="M291.7 1901.7l3.7 0.4 15.3-7.2-3.7-0.2z" color="#4D27A2"/>
<path d="M703.7 1870.7l4.5 5.6 23.4-10.8-4.4-5.4z" color="#6685FF"/>
<path d="M106.3 1913.6l6.9 4 1.5-0.8-6.8-4z" color="#7B239D"/>
<path d="M270 1906.8l3.7 0.9 14.4-6.5-3.7-0.8z" color="#5A26A1"/>
<path d="M758.6 1891.8l4.6 4.2 23.8-11.8-4.6-4z" color="#604DF1"/>
<path d="M548.9 1804.2l4.3 4.8 22.1-7.3-4.3-4.9z" color="#8BE7C6"/>
<path d="M105.8 1913.9l6.8 4 0.6-0.3-6.9-4z" color="#7B239C"/>
<path d="M159.7 1910.9l7 4.1 8.8-3.2-7.1-4.3z" color="#7326A6"/>
<path d="M477.3 1822.1l4.1-2.8 20.8-8-4.1 2.4z" color="#478284"/>
<path d="M249.2 1910.1l3.7 1.5 13.4-6-3.6-1.4z" color="#6626A4"/>
<path d="M649.8 1845l4.5 4 23-9.2-4.4-3.9z" color="#61ABF4"/>
<path d="M229.3 1911.8l3.7 2 12.5-5.4-3.6-1.8z" color="#6E26A6"/>
<path d="M592.5 1809.7l4.4 1.3 22.6-7.5-4.3-1.3z" color="#65B49E"/>
<path d="M862.6 1909.6l9.6 5.8 24.4-12.7-9.6-5.7z" color="#702FBE"/>
<path d="M175.5 1911.8l7.2 4.4 9.7-3.7-7.1-4.4z" color="#7427A8"/>
<path d="M708.2 1876.3l4.4 5.1 23.4-11-4.4-4.9z" color="#6379FF"/>
<path d="M120.9 1913.8l6.9 3 4.7-1.9-6.9-3.2z" color="#71239B"/>
<path d="M417.7 1845.4l4-2 19.4-8.5-4 1.8z" color="#3D729F"/>
<path d="M510.5 1805.2l4.2-1.7 21.5-7.3-4.2 1.4z" color="#589679"/>
<path d="M916.1 1913.6l9.8 5.3 23.5-12.4-9.8-5.2z" color="#732BB3"/>
<path d="M814.7 1906.3l4.7 3.3 24.2-12.4-4.7-3.2z" color="#6936CE"/>
<path d="M138.2 1912.6l6.9 3.7 6.8-2.5-7-3.9z" color="#7125A2"/>
<path d="M192.4 1912.5l7.3 4.4 10.7-4.3-7.3-4.3z" color="#7327A8"/>
<path d="M553.2 1809l4.3 4.1 22.1-7.4-4.3-4z" color="#80DCC2"/>
<path d="M763.2 1896l4.6 4 23.7-11.8-4.5-4z" color="#6047ED"/>
<path d="M210.4 1912.6l7.3 4.1 11.6-4.9-7.3-4z" color="#7127A7"/>
<path d="M341.7 1886l3.7-1.2 17-8.4-3.8 1.3z" color="#393CA7"/>
<path d="M366.1 1874.4l3.8-2.7 17.8-8.7-3.8 2.7z" color="#3349A2"/>
<path d="M391.4 1859.9l3.9-3.2 18.6-8.6-3.9 3z" color="#345A9A"/>
<path d="M318.1 1894.9l3.7-0.2 16.1-7.9-3.7 0.4z" color="#3F2FAA"/>
<path d="M654.3 1849l4.4 3.9 23-9.4-4.4-3.7z" color="#5FA5F4"/>
<path d="M449.1 1833.1l4-1 20.1-8.4-4 0.9z" color="#47869C"/>
<path d="M295.4 1902.1l3.7 0.1 15.3-7.2-3.7-0.1z" color="#4829A5"/>
<path d="M273.7 1907.7l3.7 0.6 14.3-6.6-3.6-0.5z" color="#5426A0"/>
<path d="M712.6 1881.4l4.5 4.6 23.4-11-4.5-4.6z" color="#606DFF"/>
<path d="M117.3 1915.6l6.8 2.7 3.7-1.5-6.9-3z" color="#702298"/>
<path d="M252.9 1911.6l3.6 1.2 13.5-6-3.7-1.2z" color="#6126A2"/>
<path d="M596.9 1811l4.4 3.1 22.6-7.5-4.4-3.1z" color="#76CFB7"/>
<path d="M233 1913.8l3.6 1.7 12.6-5.4-3.7-1.7z" color="#6B26A5"/>
<path d="M151.9 1913.8l7.1 4 7.7-2.8-7-4.1z" color="#7226A5"/>
<path d="M819.4 1909.6l4.8 3.2 24.1-12.4-4.7-3.2z" color="#6B35CB"/>
<path d="M767.8 1900l4.6 4 23.7-11.9-4.6-3.9z" color="#6042E9"/>
<path d="M557.5 1813.1l4.3 2.4 22.1-7.4-4.3-2.4z" color="#6EC5B0"/>
<path d="M481.4 1819.3l4.1-3.5 20.8-7.6-4.1 3.1z" color="#478178"/>
<path d="M114.7 1916.8l6.8 2.6 2.6-1.1-6.8-2.7z" color="#702197"/>
<path d="M658.7 1852.9l4.4 4.4 23-9.5-4.4-4.3z" color="#62A6FC"/>
<path d="M132.5 1914.9l6.9 3.5 5.7-2.1-6.9-3.7z" color="#7024A1"/>
<path d="M717.1 1886l4.5 4.4 23.4-11.2-4.5-4.2z" color="#5F64FC"/>
<path d="M514.7 1803.5l4.2 0.4 21.5-7-4.2-0.7z" color="#68AD87"/>
<path d="M421.7 1843.4l3.9-1.2 19.4-8.4-3.9 1.1z" color="#417DA3"/>
<path d="M601.3 1814.1l4.3 5.4 22.6-7.6-4.3-5.3z" color="#87E5D3"/>
<path d="M113.2 1917.6l6.7 2.4 1.6-0.6-6.8-2.6z" color="#6F2195"/>
<path d="M166.7 1915l7.2 4.5 8.8-3.3-7.2-4.4z" color="#7427A8"/>
<path d="M112.6 1917.9l6.8 2.4 0.5-0.3-6.7-2.4z" color="#6F2194"/>
<path d="M872.2 1915.4l9.7 5.6 24.4-12.8-9.7-5.5z" color="#712DB9"/>
<path d="M321.8 1894.7l3.8-0.7 16.1-8-3.8 0.8z" color="#3D34A9"/>
<path d="M345.4 1884.8l3.8-2 16.9-8.4-3.7 2z" color="#3641A4"/>
<path d="M299.1 1902.2l3.7 0.1 15.3-7.4-3.7 0.1z" color="#432AA9"/>
<path d="M217.7 1916.7l3.6 2 11.7-4.9-3.7-2z" color="#6F26A7"/>
<path d="M772.4 1904l4.6 3.8 23.8-12-4.7-3.7z" color="#623FE2"/>
<path d="M277.4 1908.3l3.6 0.5 14.4-6.7-3.7-0.4z" color="#4F27A1"/>
<path d="M236.6 1915.5l3.7 1.6 12.6-5.5-3.7-1.5z" color="#6726A4"/>
<path d="M256.5 1912.8l3.7 1 13.5-6.1-3.7-0.9z" color="#5C26A1"/>
<path d="M369.9 1871.7l3.7-3.3 17.8-8.5-3.7 3.1z" color="#32509E"/>
<path d="M824.2 1912.8l4.7 3.1 24.1-12.4-4.7-3.1z" color="#6D33C7"/>
<path d="M663.1 1857.3l4.4 5.2 23-9.7-4.4-5z" color="#68A8FF"/>
<path d="M395.3 1856.7l3.8-2.8 18.6-8.5-3.8 2.7z" color="#37649A"/>
<path d="M453.1 1832.1l4-1.9 20.2-8.1-4.1 1.6z" color="#478390"/>
<path d="M182.7 1916.2l7.2 4.6 9.8-3.9-7.3-4.4z" color="#7427A9"/>
<path d="M605.6 1819.5l4.3 7.2 22.6-7.8-4.3-7z" color="#89E6E2"/>
<path d="M925.9 1918.9l9.9 5.1 23.5-12.4-9.9-5.1z" color="#742AB0"/>
<path d="M561.8 1815.5l4.3 1 22.1-7.3-4.3-1.1z" color="#61AE9B"/>
<path d="M127.8 1916.8l6.9 3.3 4.7-1.7-6.9-3.5z" color="#6F249F"/>
<path d="M721.6 1890.4l4.6 4.2 23.3-11.2-4.5-4.2z" color="#5F5EF9"/>
<path d="M199.7 1916.9l7.2 4.3 10.8-4.5-7.3-4.1z" color="#7227A7"/>
<path d="M145.1 1916.3l7.1 3.8 6.8-2.3-7.1-4z" color="#7026A5"/>
<path d="M609.9 1826.7l4.3 8 22.6-8.1-4.3-7.7z" color="#83DDEC"/>
<path d="M518.9 1803.9l4.2 2.8 21.6-7-4.3-2.8z" color="#7FD2A3"/>
<path d="M667.5 1862.5l4.4 6 23-9.9-4.4-5.8z" color="#6AA5FF"/>
<path d="M777 1907.8l4.6 3.6 23.8-12-4.6-3.6z" color="#653CDC"/>
<path d="M614.2 1834.7l4.4 7.7 22.5-8.5-4.3-7.3z" color="#7DD5F8"/>
<path d="M485.5 1815.8l4.1-3.3 20.9-7.3-4.2 3z" color="#4D8773"/>
<path d="M828.9 1915.9l4.8 3.1 24.1-12.4-4.8-3.1z" color="#6E32C4"/>
<path d="M124.1 1918.3l6.9 3.1 3.7-1.3-6.9-3.3z" color="#6E249E"/>
<path d="M425.6 1842.2l4-0.8 19.5-8.3-4.1 0.7z" color="#4584A2"/>
<path d="M221.3 1918.7l3.7 1.9 11.6-5.1-3.6-1.7z" color="#6D26A6"/>
<path d="M726.2 1894.6l4.5 4.3 23.4-11.3-4.6-4.2z" color="#5F58F6"/>
<path d="M240.3 1917.1l3.6 1.3 12.6-5.6-3.6-1.2z" color="#6326A2"/>
<path d="M159 1917.8l7.1 4.6 7.8-2.9-7.2-4.5z" color="#7327A9"/>
<path d="M260.2 1913.8l3.7 0.7 13.5-6.2-3.7-0.6z" color="#5726A0"/>
<path d="M671.9 1868.5l4.4 6.3 23-10.1-4.4-6.1z" color="#6A9DFF"/>
<path d="M281 1908.8l3.7 0.3 14.4-6.9-3.7-0.1z" color="#4A28A4"/>
<path d="M302.8 1902.3l3.8-0.1 15.2-7.5-3.7 0.2z" color="#402DAA"/>
<path d="M618.6 1842.4l4.3 6.4 22.6-8.7-4.4-6.2z" color="#76CCFF"/>
<path d="M325.6 1894l3.7-1.1 16.1-8.1-3.7 1.2z" color="#3A39A7"/>
<path d="M523.1 1806.7l4.3 4.5 21.5-7-4.2-4.5z" color="#8EE6B9"/>
<path d="M566.1 1816.5l4.3 0.4 22.1-7.2-4.3-0.5z" color="#5DA691"/>
<path d="M349.2 1882.8l3.7-2.8 17-8.3-3.8 2.7z" color="#3346A0"/>
<path d="M139.4 1918.4l7 3.6 5.8-1.9-7.1-3.8z" color="#6E25A4"/>
<path d="M121.5 1919.4l6.8 2.9 2.7-0.9-6.9-3.1z" color="#6D239C"/>
<path d="M457.1 1830.2l4.1-3 20.2-7.9-4.1 2.8z" color="#468081"/>
<path d="M399.1 1853.9l3.9-2.1 18.7-8.4-4 2z" color="#3C709E"/>
<path d="M781.6 1911.4l4.7 3.5 23.8-12-4.7-3.5z" color="#6739D6"/>
<path d="M373.6 1868.4l3.8-3.3 17.9-8.4-3.9 3.2z" color="#33589A"/>
<path d="M173.9 1919.5l7.2 4.8 8.8-3.5-7.2-4.6z" color="#7427AA"/>
<path d="M881.9 1921l9.8 5.4 24.4-12.8-9.8-5.4z" color="#732CB5"/>
<path d="M676.3 1874.8l4.5 6.2 22.9-10.3-4.4-6z" color="#6793FF"/>
<path d="M730.7 1898.9l4.5 4.3 23.4-11.4-4.5-4.2z" color="#6053F4"/>
<path d="M622.9 1848.8l4.4 5.1 22.5-8.9-4.3-4.9z" color="#6CBDFC"/>
<path d="M833.7 1919l4.8 3 24.1-12.4-4.8-3z" color="#6F30C1"/>
<path d="M119.9 1920l6.9 2.8 1.5-0.5-6.8-2.9z" color="#6C239B"/>
<path d="M206.9 1921.2l3.7 2.2 10.7-4.7-3.6-2z" color="#7127A7"/>
<path d="M119.4 1920.3l6.8 2.7 0.6-0.2-6.9-2.8z" color="#6B239B"/>
<path d="M225 1920.6l3.6 1.7 11.7-5.2-3.7-1.6z" color="#6926A4"/>
<path d="M527.4 1811.2l4.3 5 21.5-7.2-4.3-4.8z" color="#8EE9C3"/>
<path d="M189.9 1920.8l7.3 4.6 9.7-4.2-7.2-4.3z" color="#7327A8"/>
<path d="M935.8 1924l10.1 5.1 23.4-12.5-10-5z" color="#7429AE"/>
<path d="M243.9 1918.4l3.7 1.1 12.6-5.7-3.7-1z" color="#5E26A1"/>
<path d="M680.8 1881l4.4 5.8 23-10.5-4.5-5.6z" color="#6786FF"/>
<path d="M429.6 1841.4l4-1.1 19.5-8.2-4 1z" color="#47859B"/>
<path d="M263.9 1914.5l3.6 0.6 13.5-6.3-3.6-0.5z" color="#5126A0"/>
<path d="M134.7 1920.1l6.9 3.4 4.8-1.5-7-3.6z" color="#6D25A2"/>
<path d="M152.2 1920.1l7.1 4.6 6.8-2.3-7.1-4.6z" color="#7227AA"/>
<path d="M489.6 1812.5l4.1-2 21-7-4.2 1.7z" color="#579475"/>
<path d="M284.7 1909.1l3.7 0.2 14.4-7-3.7-0.1z" color="#4629A8"/>
<path d="M786.3 1914.9l4.7 3.5 23.7-12.1-4.6-3.4z" color="#6937D1"/>
<path d="M627.3 1853.9l4.4 4.2 22.6-9.1-4.5-4z" color="#62AEF4"/>
<path d="M735.2 1903.2l4.6 4.3 23.4-11.5-4.6-4.2z" color="#604DF1"/>
<path d="M306.6 1902.2l3.7-0.5 15.3-7.7-3.8 0.7z" color="#3E32A9"/>
<path d="M570.4 1816.9l4.4 1.2 22.1-7.1-4.4-1.3z" color="#66B499"/>
<path d="M329.3 1892.9l3.7-2 16.2-8.1-3.8 2z" color="#373EA3"/>
<path d="M531.7 1816.2l4.2 4 21.6-7.1-4.3-4.1z" color="#82DDBF"/>
<path d="M685.2 1886.8l4.5 5.3 22.9-10.7-4.4-5.1z" color="#6479FF"/>
<path d="M210.6 1923.4l3.6 1.9 10.8-4.7-3.7-1.9z" color="#6F26A6"/>
<path d="M352.9 1880l3.7-3.3 17-8.3-3.7 3.3z" color="#314D9E"/>
<path d="M403 1851.8l3.9-1.3 18.7-8.3-3.9 1.2z" color="#407CA3"/>
<path d="M166.1 1922.4l7.2 5 7.8-3.1-7.2-4.8z" color="#7528AB"/>
<path d="M131 1921.4l6.9 3.2 3.7-1.1-6.9-3.4z" color="#6B25A1"/>
<path d="M228.6 1922.3l3.7 1.3 11.6-5.2-3.6-1.3z" color="#6525A1"/>
<path d="M838.5 1922l9.6 5.9 24.1-12.5-9.6-5.8z" color="#702FBC"/>
<path d="M461.2 1827.2l4-3.8 20.3-7.6-4.1 3.5z" color="#467F76"/>
<path d="M739.8 1907.5l4.6 4.2 23.4-11.7-4.6-4z" color="#6046ED"/>
<path d="M631.7 1858.1l4.5 4 22.5-9.2-4.4-3.9z" color="#60A8F4"/>
<path d="M377.4 1865.1l3.8-3 17.9-8.2-3.8 2.8z" color="#37629A"/>
<path d="M791 1918.4l4.7 3.3 23.7-12.1-4.7-3.3z" color="#6B36CD"/>
<path d="M247.6 1919.5l3.7 0.8 12.6-5.8-3.7-0.7z" color="#5926A0"/>
<path d="M146.4 1922l7.1 4.7 5.8-2-7.1-4.6z" color="#7128AA"/>
<path d="M574.8 1818.1l4.4 3.1 22.1-7.1-4.4-3.1z" color="#79D0B3"/>
<path d="M689.7 1892.1l4.5 4.8 22.9-10.9-4.5-4.6z" color="#616EFF"/>
<path d="M267.5 1915.1l3.7 0.4 13.5-6.4-3.7-0.3z" color="#4D28A3"/>
<path d="M891.7 1926.4l9.8 5.3 24.4-12.8-9.8-5.3z" color="#742BB2"/>
<path d="M197.2 1925.4l3.6 2.2 9.8-4.2-3.7-2.2z" color="#7227A8"/>
<path d="M535.9 1820.2l4.3 2.5 21.6-7.2-4.3-2.4z" color="#70C5AC"/>
<path d="M181.1 1924.3l7.3 4.8 8.8-3.7-7.3-4.6z" color="#7527A9"/>
<path d="M128.3 1922.3l7 3 2.6-0.7-6.9-3.2z" color="#6925A0"/>
<path d="M288.4 1909.3l3.7 0 14.5-7.1-3.8 0.1z" color="#402BAB"/>
<path d="M433.6 1840.3l4-2.1 19.5-8-4 1.9z" color="#46828E"/>
<path d="M493.7 1810.5l4.2 0.2 21-6.8-4.2-0.4z" color="#67AA81"/>
<path d="M310.3 1901.7l3.7-1.1 15.3-7.7-3.7 1.1z" color="#3B36A6"/>
<path d="M214.2 1925.3l3.7 1.8 10.7-4.8-3.6-1.7z" color="#6B26A4"/>
<path d="M636.2 1862.1l4.4 4.5 22.5-9.3-4.4-4.4z" color="#63A9FD"/>
<path d="M126.8 1922.8l6.9 3 1.6-0.5-7-3z" color="#68249F"/>
<path d="M744.4 1911.7l4.6 4 23.4-11.7-4.6-4z" color="#6142E8"/>
<path d="M945.9 1929.1l10.1 4.9 23.4-12.5-10.1-4.9z" color="#7528AC"/>
<path d="M795.7 1921.7l4.7 3.2 23.8-12.1-4.8-3.2z" color="#6C34C9"/>
<path d="M126.2 1923l6.9 2.9 0.6-0.1-6.9-3z" color="#67249F"/>
<path d="M333 1890.9l3.7-2.7 16.2-8.2-3.7 2.8z" color="#33439F"/>
<path d="M694.2 1896.9l4.5 4.4 22.9-10.9-4.5-4.4z" color="#5F64FD"/>
<path d="M579.2 1821.2l4.3 5.6 22.1-7.3-4.3-5.4z" color="#8AE9D0"/>
<path d="M232.3 1923.6l3.6 1.2 11.7-5.3-3.7-1.1z" color="#6025A0"/>
<path d="M159.3 1924.7l7.3 5.3 6.7-2.6-7.2-5z" color="#7629AD"/>
<path d="M406.9 1850.5l4-0.9 18.7-8.2-4 0.8z" color="#4482A2"/>
<path d="M141.6 1923.5l7.2 4.7 4.7-1.5-7.1-4.7z" color="#7028AB"/>
<path d="M251.3 1920.3l3.6 0.7 12.6-5.9-3.6-0.6z" color="#5326A0"/>
<path d="M200.8 1927.6l3.7 2.1 9.7-4.4-3.6-1.9z" color="#7126A7"/>
<path d="M540.2 1822.7l4.4 0.8 21.5-7-4.3-1z" color="#62AD96"/>
<path d="M356.6 1876.7l3.7-3.5 17.1-8.1-3.8 3.3z" color="#335599"/>
<path d="M640.6 1866.6l4.4 5.4 22.5-9.5-4.4-5.2z" color="#69AAFF"/>
<path d="M583.5 1826.8l4.3 7.5 22.1-7.6-4.3-7.2z" color="#8BE9DE"/>
<path d="M271.2 1915.5l3.7 0.4 13.5-6.6-3.7-0.2z" color="#4829A6"/>
<path d="M497.9 1810.7l4.3 2.7 20.9-6.7-4.2-2.8z" color="#81D19F"/>
<path d="M381.2 1862.1l3.9-2.1 17.9-8.2-3.9 2.1z" color="#3B6E9E"/>
<path d="M749 1915.7l4.6 3.9 23.4-11.8-4.6-3.8z" color="#643EE1"/>
<path d="M465.2 1823.4l4.1-3.8 20.3-7.1-4.1 3.3z" color="#4C846F"/>
<path d="M698.7 1901.3l4.5 4.4 23-11.1-4.6-4.2z" color="#5F5DF9"/>
<path d="M292.1 1909.3l3.7-0.3 14.5-7.3-3.7 0.5z" color="#3F2FAA"/>
<path d="M217.9 1927.1l3.6 1.3 10.8-4.8-3.7-1.3z" color="#6625A1"/>
<path d="M173.3 1927.4l7.3 5.1 7.8-3.4-7.3-4.8z" color="#7628AB"/>
<path d="M848.1 1927.9l9.7 5.6 24.1-12.5-9.7-5.6z" color="#722DB8"/>
<path d="M587.8 1834.3l4.4 8.3 22-7.9-4.3-8z" color="#85DFE9"/>
<path d="M800.4 1924.9l4.8 3.2 23.7-12.2-4.7-3.1z" color="#6E32C6"/>
<path d="M188.4 1929.1l3.7 2.4 8.7-3.9-3.6-2.2z" color="#7527AA"/>
<path d="M137.9 1924.6l7.2 4.6 3.7-1-7.2-4.7z" color="#6F28AB"/>
<path d="M645 1872l4.4 6.2 22.5-9.7-4.4-6z" color="#6BA7FF"/>
<path d="M437.6 1838.2l4-3.3 19.6-7.7-4.1 3z" color="#447E7F"/>
<path d="M314 1900.6l3.7-1.8 15.3-7.9-3.7 2z" color="#373BA2"/>
<path d="M592.2 1842.6l4.3 8 22.1-8.2-4.4-7.7z" color="#7FD7F5"/>
<path d="M235.9 1924.8l3.7 0.9 11.7-5.4-3.7-0.8z" color="#5B259F"/>
<path d="M153.5 1926.7l7.3 5.5 5.8-2.2-7.3-5.3z" color="#7629AF"/>
<path d="M901.5 1931.7l10 5.2 24.3-12.9-9.9-5.1z" color="#742AAF"/>
<path d="M502.2 1813.4l4.2 4.6 21-6.8-4.3-4.5z" color="#91E8B6"/>
<path d="M204.5 1929.7l3.6 1.8 9.8-4.4-3.7-1.8z" color="#6C25A3"/>
<path d="M753.6 1919.6l4.7 3.7 23.3-11.9-4.6-3.6z" color="#663BDA"/>
<path d="M703.2 1905.7l4.6 4.4 22.9-11.2-4.5-4.3z" color="#6057F6"/>
<path d="M135.3 1925.3l7.1 4.7 2.7-0.8-7.2-4.6z" color="#6E28AC"/>
<path d="M254.9 1921l3.7 0.5 12.6-6-3.7-0.4z" color="#4F27A2"/>
<path d="M596.5 1850.6l4.4 6.7 22-8.5-4.3-6.4z" color="#78CFFE"/>
<path d="M410.9 1849.6l4-1.2 18.7-8.1-4 1.1z" color="#46839B"/>
<path d="M649.4 1878.2l4.5 6.5 22.4-9.9-4.4-6.3z" color="#6B9EFF"/>
<path d="M544.6 1823.5l4.3 0.3 21.5-6.9-4.3-0.4z" color="#5EA58B"/>
<path d="M336.7 1888.2l3.7-3.5 16.2-8-3.7 3.3z" color="#304A9E"/>
<path d="M805.2 1928.1l4.7 3.1 23.8-12.2-4.8-3.1z" color="#6F31C2"/>
<path d="M956 1934l10.1 5 23.5-12.6-10.2-4.9z" color="#7528AB"/>
<path d="M274.9 1915.9l3.7 0.2 13.5-6.8-3.7 0z" color="#432AAA"/>
<path d="M133.7 1925.8l7.1 4.6 1.6-0.4-7.1-4.7z" color="#6D28AC"/>
<path d="M192.1 1931.5l3.6 2.3 8.8-4.1-3.7-2.1z" color="#7327A7"/>
<path d="M221.5 1928.4l3.7 1.2 10.7-4.8-3.6-1.2z" color="#6125A0"/>
<path d="M166.6 1930l7.3 5.4 6.7-2.9-7.3-5.1z" color="#7829AD"/>
<path d="M385.1 1860l3.9-1.4 17.9-8.1-3.9 1.3z" color="#3F7AA3"/>
<path d="M653.9 1884.7l4.4 6.5 22.5-10.2-4.5-6.2z" color="#6894FF"/>
<path d="M133.1 1925.9l7.2 4.6 0.5-0.1-7.1-4.6z" color="#6D28AC"/>
<path d="M506.4 1818l4.3 5 21-6.8-4.3-5z" color="#91EAC0"/>
<path d="M360.3 1873.2l3.8-3 17.1-8.1-3.8 3z" color="#365F99"/>
<path d="M600.9 1857.3l4.4 5.3 22-8.7-4.4-5.1z" color="#6DC1FD"/>
<path d="M148.8 1928.2l7.2 5.7 4.8-1.7-7.3-5.5z" color="#772AB1"/>
<path d="M295.8 1909l3.7-0.9 14.5-7.5-3.7 1.1z" color="#3C34A6"/>
<path d="M469.3 1819.6l4.1-2.3 20.3-6.8-4.1 2z" color="#579172"/>
<path d="M707.8 1910.1l4.5 4.4 22.9-11.3-4.5-4.3z" color="#6152F4"/>
<path d="M758.3 1923.3l4.7 3.5 23.3-11.9-4.7-3.5z" color="#6839D5"/>
<path d="M180.6 1932.5l3.7 2.6 7.8-3.6-3.7-2.4z" color="#7828AB"/>
<path d="M239.6 1925.7l3.6 0.7 11.7-5.4-3.6-0.7z" color="#5526A0"/>
<path d="M208.1 1931.5l3.7 1.4 9.7-4.5-3.6-1.3z" color="#67259F"/>
<path d="M658.3 1891.2l4.4 6 22.5-10.4-4.4-5.8z" color="#6887FF"/>
<path d="M317.7 1898.8l3.6-2.8 15.4-7.8-3.7 2.7z" color="#33409E"/>
<path d="M809.9 1931.2l4.8 3.1 23.8-12.3-4.8-3z" color="#7030BF"/>
<path d="M857.8 1933.5l9.8 5.5 24.1-12.6-9.8-5.4z" color="#732BB4"/>
<path d="M441.6 1834.9l4-4.2 19.6-7.3-4 3.8z" color="#457D73"/>
<path d="M258.6 1921.5l3.7 0.5 12.6-6.1-3.7-0.4z" color="#4B29A6"/>
<path d="M548.9 1823.8l4.3 1.1 21.6-6.8-4.4-1.2z" color="#68B394"/>
<path d="M605.3 1862.6l4.4 4.3 22-8.8-4.4-4.2z" color="#64B1F4"/>
<path d="M510.7 1823l4.3 4.2 20.9-7-4.2-4z" color="#85DFBB"/>
<path d="M145.1 1929.2l7.2 6.1 3.7-1.4-7.2-5.7z" color="#772BB3"/>
<path d="M195.7 1933.8l3.7 1.8 8.7-4.1-3.6-1.8z" color="#6E25A3"/>
<path d="M712.3 1914.5l4.6 4.3 22.9-11.3-4.6-4.3z" color="#614CF1"/>
<path d="M414.9 1848.4l4-2.3 18.7-7.9-4 2.1z" color="#45808D"/>
<path d="M225.2 1929.6l3.6 0.9 10.8-4.8-3.7-0.9z" color="#5C259F"/>
<path d="M278.6 1916.1l3.7-0.2 13.5-6.9-3.7 0.3z" color="#3F2DAA"/>
<path d="M160.8 1932.2l7.3 5.8 5.8-2.6-7.3-5.4z" color="#7A2AAF"/>
<path d="M763 1926.8l4.6 3.5 23.4-11.9-4.7-3.5z" color="#6A37D0"/>
<path d="M662.7 1897.2l4.5 5.4 22.5-10.5-4.5-5.3z" color="#657AFF"/>
<path d="M911.5 1936.9l10 5.1 24.4-12.9-10.1-5.1z" color="#7529AD"/>
<path d="M184.3 1935.1l3.7 2.4 7.7-3.7-3.6-2.3z" color="#7627A8"/>
<path d="M340.4 1884.7l3.7-3.6 16.2-7.9-3.7 3.5z" color="#325299"/>
<path d="M142.4 1930l7.3 6.2 2.6-0.9-7.2-6.1z" color="#772CB5"/>
<path d="M389 1858.6l3.9-1 18-8-4 0.9z" color="#4381A2"/>
<path d="M173.9 1935.4l3.7 2.9 6.7-3.2-3.7-2.6z" color="#7B29AE"/>
<path d="M299.5 1908.1l3.7-1.8 14.5-7.5-3.7 1.8z" color="#3838A1"/>
<path d="M609.7 1866.9l4.4 4.1 22.1-8.9-4.5-4z" color="#61AAF4"/>
<path d="M243.2 1926.4l3.7 0.6 11.7-5.5-3.7-0.5z" color="#5127A2"/>
<path d="M473.4 1817.3l4.2 0 20.3-6.6-4.2-0.2z" color="#67A87C"/>
<path d="M211.8 1932.9l3.6 1.1 9.8-4.4-3.7-1.2z" color="#62259E"/>
<path d="M515 1827.2l4.3 2.4 20.9-6.9-4.3-2.5z" color="#72C6A8"/>
<path d="M364.1 1870.2l3.8-2.3 17.2-7.9-3.9 2.1z" color="#3A6B9D"/>
<path d="M716.9 1918.8l4.6 4.3 22.9-11.4-4.6-4.2z" color="#6145ED"/>
<path d="M553.2 1824.9l4.4 3.2 21.6-6.9-4.4-3.1z" color="#7BD1AE"/>
<path d="M140.8 1930.4l7.3 6.4 1.6-0.6-7.3-6.2z" color="#782CB6"/>
<path d="M667.2 1902.6l4.5 4.9 22.5-10.6-4.5-4.8z" color="#626EFF"/>
<path d="M156 1933.9l7.4 6.2 4.7-2.1-7.3-5.8z" color="#7C2BB2"/>
<path d="M140.3 1930.5l7.3 6.4 0.5-0.1-7.3-6.4z" color="#772CB6"/>
<path d="M262.3 1922l3.7 0.4 12.6-6.3-3.7-0.2z" color="#462AA9"/>
<path d="M767.6 1930.3l4.8 3.3 23.3-11.9-4.7-3.3z" color="#6C35CB"/>
<path d="M199.4 1935.6l3.6 1.3 8.8-4-3.7-1.4z" color="#67249D"/>
<path d="M814.7 1934.3l9.7 5.9 23.7-12.3-9.6-5.9z" color="#712EBB"/>
<path d="M228.8 1930.5l3.7 0.8 10.7-4.9-3.6-0.7z" color="#57269F"/>
<path d="M321.3 1896l3.7-3.5 15.4-7.8-3.7 3.5z" color="#30479C"/>
<path d="M188 1937.5l3.6 1.9 7.8-3.8-3.7-1.8z" color="#7025A2"/>
<path d="M614.1 1871l4.5 4.7 22-9.1-4.4-4.5z" color="#65ABFD"/>
<path d="M282.3 1915.9l3.7-0.7 13.5-7.1-3.7 0.9z" color="#3D31A7"/>
<path d="M177.6 1938.3l3.6 2.7 6.8-3.5-3.7-2.4z" color="#7A28AA"/>
<path d="M445.6 1830.7l4.1-4.2 19.6-6.9-4.1 3.8z" color="#4B826C"/>
<path d="M168.1 1938l3.7 3.2 5.8-2.9-3.7-2.9z" color="#7F2BB1"/>
<path d="M557.6 1828.1l4.4 5.7 21.5-7-4.3-5.6z" color="#8EEBCC"/>
<path d="M721.5 1923.1l4.6 4.1 22.9-11.5-4.6-4z" color="#6341E7"/>
<path d="M671.7 1907.5l4.5 4.6 22.5-10.8-4.5-4.4z" color="#6064FD"/>
<path d="M418.9 1846.1l3.9-3.6 18.8-7.6-4 3.3z" color="#437B7D"/>
<path d="M867.6 1939l9.9 5.3 24-12.6-9.8-5.3z" color="#742AB1"/>
<path d="M152.3 1935.3l7.4 6.6 3.7-1.8-7.4-6.2z" color="#7F2CB4"/>
<path d="M477.6 1817.3l4.2 2.6 20.4-6.5-4.3-2.7z" color="#82D19A"/>
<path d="M519.3 1829.6l4.3 0.7 21-6.8-4.4-0.8z" color="#63AD91"/>
<path d="M246.9 1927l3.7 0.6 11.7-5.6-3.7-0.5z" color="#4D28A5"/>
<path d="M215.4 1934l3.6 0.9 9.8-4.4-3.6-0.9z" color="#5D259E"/>
<path d="M392.9 1857.6l4-1.3 18-7.9-4 1.2z" color="#45829B"/>
<path d="M772.4 1933.6l4.7 3.3 23.3-12-4.7-3.2z" color="#6D33C8"/>
<path d="M344.1 1881.1l3.7-3.2 16.3-7.7-3.8 3z" color="#355D99"/>
<path d="M618.6 1875.7l4.4 5.5 22-9.2-4.4-5.4z" color="#6AADFF"/>
<path d="M562 1833.8l4.3 7.7 21.5-7.2-4.3-7.5z" color="#8DEBDA"/>
<path d="M303.2 1906.3l3.6-2.8 14.5-7.5-3.6 2.8z" color="#343E9C"/>
<path d="M367.9 1867.9l3.9-1.4 17.2-7.9-3.9 1.4z" color="#3F78A3"/>
<path d="M921.5 1942l10.1 5 24.4-13-10.1-4.9z" color="#7528AC"/>
<path d="M203 1936.9l3.6 1.1 8.8-4-3.6-1.1z" color="#63249D"/>
<path d="M149.7 1936.2l7.4 6.9 2.6-1.2-7.4-6.6z" color="#812DB6"/>
<path d="M266 1922.4l3.7 0.1 12.6-6.6-3.7 0.2z" color="#402BAB"/>
<path d="M566.3 1841.5l4.4 8.7 21.5-7.6-4.4-8.3z" color="#86E1E5"/>
<path d="M676.2 1912.1l4.6 4.5 22.4-10.9-4.5-4.4z" color="#605DF9"/>
<path d="M163.4 1940.1l3.7 3.5 4.7-2.4-3.7-3.2z" color="#842DB4"/>
<path d="M726.1 1927.2l4.6 3.9 22.9-11.5-4.6-3.9z" color="#663EDF"/>
<path d="M191.6 1939.4l3.6 1.1 7.8-3.6-3.6-1.3z" color="#67239A"/>
<path d="M171.8 1941.2l3.7 2.9 5.7-3.1-3.6-2.7z" color="#7E29AB"/>
<path d="M232.5 1931.3l3.6 0.7 10.8-5-3.7-0.6z" color="#5327A2"/>
<path d="M181.2 1941l3.7 1.9 6.7-3.5-3.6-1.9z" color="#7224A0"/>
<path d="M481.8 1819.9l4.3 4.6 20.3-6.5-4.2-4.6z" color="#93E9B2"/>
<path d="M623 1881.2l4.4 6.4 22-9.4-4.4-6.2z" color="#6CA8FF"/>
<path d="M148.1 1936.8l7.4 7.1 1.6-0.8-7.4-6.9z" color="#822EB8"/>
<path d="M570.7 1850.2l4.3 8.3 21.5-7.9-4.3-8z" color="#80D9F1"/>
<path d="M147.6 1936.9l7.4 7.2 0.5-0.2-7.4-7.1z" color="#832EB8"/>
<path d="M777.1 1936.9l4.7 3.2 23.4-12-4.8-3.2z" color="#6F32C4"/>
<path d="M286 1915.2l3.6-1.7 13.6-7.2-3.7 1.8z" color="#3936A1"/>
<path d="M523.6 1830.3l4.3 0.1 21-6.6-4.3-0.3z" color="#5FA386"/>
<path d="M824.4 1940.2l9.7 5.7 23.7-12.4-9.7-5.6z" color="#732CB6"/>
<path d="M575 1858.5l4.4 7 21.5-8.2-4.4-6.7z" color="#7AD1FC"/>
<path d="M219 1934.9l3.7 0.8 9.8-4.4-3.7-0.8z" color="#58259E"/>
<path d="M325 1892.5l3.6-3.7 15.5-7.7-3.7 3.6z" color="#315099"/>
<path d="M250.6 1927.6l3.7 0.6 11.7-5.8-3.7-0.4z" color="#4929A8"/>
<path d="M159.7 1941.9l3.8 3.7 3.6-2-3.7-3.5z" color="#882FB7"/>
<path d="M627.4 1887.6l4.5 6.8 22-9.7-4.5-6.5z" color="#6CA0FF"/>
<path d="M680.8 1916.6l4.5 4.5 22.5-11-4.6-4.4z" color="#6057F6"/>
<path d="M449.7 1826.5l4.1-2.7 19.6-6.5-4.1 2.3z" color="#568F6E"/>
<path d="M730.7 1931.1l4.7 3.8 22.9-11.6-4.7-3.7z" color="#683BD9"/>
<path d="M486.1 1824.5l4.3 5.1 20.3-6.6-4.3-5z" color="#93ECBC"/>
<path d="M167.1 1943.6l3.7 3.2 4.7-2.7-3.7-2.9z" color="#822AAD"/>
<path d="M422.8 1842.5l4-4.7 18.8-7.1-4 4.2z" color="#447B70"/>
<path d="M396.9 1856.3l3.9-2.5 18.1-7.7-4 2.3z" color="#437E8C"/>
<path d="M206.6 1938l3.6 0.9 8.8-4-3.6-0.9z" color="#5E249D"/>
<path d="M175.5 1944.1l3.7 1.9 5.7-3.1-3.7-1.9z" color="#74249F"/>
<path d="M579.4 1865.5l4.4 5.4 21.5-8.3-4.4-5.3z" color="#6FC4FD"/>
<path d="M157.1 1943.1l3.8 4 2.6-1.5-3.8-3.7z" color="#8C31BA"/>
<path d="M631.9 1894.4l4.4 6.8 22-10-4.4-6.5z" color="#6995FF"/>
<path d="M195.2 1940.5l3.6 1 7.8-3.5-3.6-1.1z" color="#63239B"/>
<path d="M371.8 1866.5l3.9-1 17.2-7.9-3.9 1z" color="#427FA3"/>
<path d="M347.8 1877.9l3.8-2.3 16.3-7.7-3.8 2.3z" color="#39699D"/>
<path d="M877.5 1944.3l9.9 5.3 24.1-12.7-10-5.2z" color="#7529AF"/>
<path d="M184.9 1942.9l3.5 0.9 6.8-3.3-3.6-1.1z" color="#672296"/>
<path d="M269.7 1922.5l3.6-0.6 12.7-6.7-3.7 0.7z" color="#3E2FA7"/>
<path d="M236.1 1932l3.7 0.8 10.8-5.2-3.7-0.6z" color="#5028A6"/>
<path d="M781.8 1940.1l4.8 3.2 23.3-12.1-4.7-3.1z" color="#7030C1"/>
<path d="M306.8 1903.5l3.6-3.6 14.6-7.4-3.7 3.5z" color="#31449A"/>
<path d="M685.3 1921.1l4.6 4.4 22.4-11-4.5-4.4z" color="#6151F4"/>
<path d="M155.5 1943.9l3.8 4.2 1.6-1-3.8-4z" color="#9032BB"/>
<path d="M163.5 1945.6l3.7 3.4 3.6-2.2-3.7-3.2z" color="#872BAF"/>
<path d="M490.4 1829.6l4.3 4.2 20.3-6.6-4.3-4.2z" color="#87E0B8"/>
<path d="M155 1944.1l3.8 4.3 0.5-0.3-3.8-4.2z" color="#9133BD"/>
<path d="M735.4 1934.9l4.7 3.6 22.9-11.7-4.7-3.5z" color="#6938D3"/>
<path d="M636.3 1901.2l4.5 6.2 21.9-10.2-4.4-6z" color="#6888FF"/>
<path d="M527.9 1830.4l4.3 1 21-6.5-4.3-1.1z" color="#69B28F"/>
<path d="M931.6 1947l10.2 5.1 24.3-13.1-10.1-5z" color="#7528AB"/>
<path d="M222.7 1935.7l3.6 0.7 9.8-4.4-3.6-0.7z" color="#5426A1"/>
<path d="M583.8 1870.9l4.4 4.5 21.5-8.5-4.4-4.3z" color="#65B4F5"/>
<path d="M170.8 1946.8l3.7 2 4.7-2.8-3.7-1.9z" color="#76239D"/>
<path d="M254.3 1928.2l3.6 0.3 11.8-6-3.7-0.1z" color="#442AAA"/>
<path d="M160.9 1947.1l3.7 3.6 2.6-1.7-3.7-3.4z" color="#8B2CB0"/>
<path d="M289.6 1913.5l3.6-2.8 13.6-7.2-3.6 2.8z" color="#343B9B"/>
<path d="M453.8 1823.8l4.1-0.3 19.7-6.2-4.2 0z" color="#67A679"/>
<path d="M210.2 1938.9l3.6 0.7 8.9-3.9-3.7-0.8z" color="#59259D"/>
<path d="M179.2 1946l3.5 0.8 5.7-3-3.5-0.9z" color="#662192"/>
<path d="M689.9 1925.5l4.6 4.5 22.4-11.2-4.6-4.3z" color="#624BF1"/>
<path d="M786.6 1943.3l4.8 3 23.3-12-4.8-3.1z" color="#712FBE"/>
<path d="M640.8 1907.4l4.5 5.6 21.9-10.4-4.5-5.4z" color="#667AFF"/>
<path d="M159.3 1948.1l3.8 3.6 1.5-1-3.7-3.6z" color="#8D2DB1"/>
<path d="M328.6 1888.8l3.7-3.4 15.5-7.5-3.7 3.2z" color="#345A99"/>
<path d="M198.8 1941.5l3.6 0.9 7.8-3.5-3.6-0.9z" color="#5E249B"/>
<path d="M188.4 1943.8l3.6 0.9 6.8-3.2-3.6-1z" color="#632398"/>
<path d="M494.7 1833.8l4.3 2.4 20.3-6.6-4.3-2.4z" color="#74C6A4"/>
<path d="M158.8 1948.4l3.8 3.7 0.5-0.4-3.8-3.6z" color="#8F2DB1"/>
<path d="M834.1 1945.9l9.8 5.5 23.7-12.4-9.8-5.5z" color="#742BB3"/>
<path d="M167.2 1949l3.6 2 3.7-2.2-3.7-2z" color="#78239C"/>
<path d="M239.8 1932.8l3.7 0.8 10.8-5.4-3.7-0.6z" color="#4C2AA9"/>
<path d="M740.1 1938.5l4.7 3.5 22.8-11.7-4.6-3.5z" color="#6B36CE"/>
<path d="M588.2 1875.4l4.5 4.2 21.4-8.6-4.4-4.1z" color="#62ADF4"/>
<path d="M400.8 1853.8l3.9-3.9 18.1-7.4-3.9 3.6z" color="#42797B"/>
<path d="M375.7 1865.5l4-1.4 17.2-7.8-4 1.3z" color="#44809B"/>
<path d="M273.3 1921.9l3.7-1.6 12.6-6.8-3.6 1.7z" color="#3933A1"/>
<path d="M351.6 1875.6l3.9-1.5 16.3-7.6-3.9 1.4z" color="#3E76A3"/>
<path d="M426.8 1837.8l4-4.6 18.9-6.7-4.1 4.2z" color="#4A7F69"/>
<path d="M532.2 1831.4l4.4 3.2 21-6.5-4.4-3.2z" color="#7ED3AA"/>
<path d="M645.3 1913l4.5 5 21.9-10.5-4.5-4.9z" color="#636EFF"/>
<path d="M164.6 1950.7l3.6 2 2.6-1.7-3.6-2z" color="#7A229A"/>
<path d="M694.5 1930l4.6 4.3 22.4-11.2-4.6-4.3z" color="#6144ED"/>
<path d="M226.3 1936.4l3.7 0.9 9.8-4.5-3.7-0.8z" color="#5228A6"/>
<path d="M174.5 1948.8l3.5 0.5 4.7-2.5-3.5-0.8z" color="#661F8D"/>
<path d="M310.4 1899.9l3.7-3.9 14.5-7.2-3.6 3.7z" color="#304D99"/>
<path d="M887.4 1949.6l10.1 5.1 24-12.7-10-5.1z" color="#7528AC"/>
<path d="M257.9 1928.5l3.7-0.3 11.7-6.3-3.6 0.6z" color="#3F2CA8"/>
<path d="M163.1 1951.7l3.6 2 1.5-1-3.6-2z" color="#7A2298"/>
<path d="M457.9 1823.5l4.3 2.6 19.6-6.2-4.2-2.6z" color="#83D095"/>
<path d="M592.7 1879.6l4.4 4.9 21.5-8.8-4.5-4.7z" color="#66AEFD"/>
<path d="M213.8 1939.6l3.7 0.7 8.8-3.9-3.6-0.7z" color="#5526A0"/>
<path d="M162.6 1952.1l3.6 2 0.5-0.4-3.6-2z" color="#7A2196"/>
<path d="M182.7 1946.8l3.6 0.7 5.7-2.8-3.6-0.9z" color="#622295"/>
<path d="M744.8 1942l4.7 3.4 22.9-11.8-4.8-3.3z" color="#6D34CA"/>
<path d="M536.6 1834.6l4.4 5.8 21-6.6-4.4-5.7z" color="#91EDC8"/>
<path d="M499 1836.2l4.3 0.6 20.3-6.5-4.3-0.7z" color="#64AB8C"/>
<path d="M202.4 1942.4l3.6 0.6 7.8-3.4-3.6-0.7z" color="#58249B"/>
<path d="M192 1944.7l3.6 0.7 6.8-3-3.6-0.9z" color="#5E2398"/>
<path d="M649.8 1918l4.5 4.7 21.9-10.6-4.5-4.6z" color="#6164FE"/>
<path d="M170.8 1951l3.5 0.4 3.7-2.1-3.5-0.5z" color="#661E8A"/>
<path d="M791.4 1946.3l9.7 6 23.3-12.1-9.7-5.9z" color="#722EBA"/>
<path d="M243.5 1933.6l3.7 0.6 10.7-5.7-3.6-0.3z" color="#472AAA"/>
<path d="M293.2 1910.7l3.6-3.7 13.6-7.1-3.6 3.6z" color="#314198"/>
<path d="M699.1 1934.3l4.6 4.2 22.4-11.3-4.6-4.1z" color="#6541E6"/>
<path d="M332.3 1885.4l3.8-2.5 15.5-7.3-3.8 2.3z" color="#39679D"/>
<path d="M541 1840.4l4.4 8 20.9-6.9-4.3-7.7z" color="#8FEED6"/>
<path d="M597.1 1884.5l4.5 5.7 21.4-9-4.4-5.5z" color="#6BAFFF"/>
<path d="M379.7 1864.1l3.9-2.7 17.2-7.6-3.9 2.5z" color="#427C8C"/>
<path d="M462.2 1826.1l4.2 4.6 19.7-6.2-4.3-4.6z" color="#95EAAF"/>
<path d="M168.2 1952.7l3.5 0.1 2.6-1.4-3.5-0.4z" color="#661E88"/>
<path d="M355.5 1874.1l3.9-1 16.3-7.6-3.9 1z" color="#427EA4"/>
<path d="M277 1920.3l3.5-2.7 12.7-6.9-3.6 2.8z" color="#35389A"/>
<path d="M230 1937.3l3.7 1.1 9.8-4.8-3.7-0.8z" color="#4F2AAB"/>
<path d="M178 1949.3l3.5 0.6 4.8-2.4-3.6-0.7z" color="#622191"/>
<path d="M545.4 1848.4l4.3 9.1 21-7.3-4.4-8.7z" color="#88E3E0"/>
<path d="M749.5 1945.4l4.7 3.3 22.9-11.8-4.7-3.3z" color="#6E33C6"/>
<path d="M404.7 1849.9l4-5.1 18.1-7-4 4.7z" color="#43796E"/>
<path d="M654.3 1922.7l4.5 4.6 22-10.7-4.6-4.5z" color="#605CF9"/>
<path d="M843.9 1951.4l9.9 5.4 23.7-12.5-9.9-5.3z" color="#742AB0"/>
<path d="M166.7 1953.7l3.5 0 1.5-0.9-3.5-0.1z" color="#661D85"/>
<path d="M430.8 1833.2l4-3.1 19-6.3-4.1 2.7z" color="#558C6A"/>
<path d="M549.7 1857.5l4.4 8.6 20.9-7.6-4.3-8.3z" color="#81DAEE"/>
<path d="M601.6 1890.2l4.4 6.6 21.4-9.2-4.4-6.4z" color="#6DAAFF"/>
<path d="M703.7 1938.5l4.6 4 22.4-11.4-4.6-3.9z" color="#673EDE"/>
<path d="M217.5 1940.3l3.6 1 8.9-4-3.7-0.9z" color="#5328A7"/>
<path d="M166.2 1954.1l3.4-0.1 0.6-0.3-3.5 0z" color="#661D84"/>
<path d="M261.6 1928.2l3.6-1.4 11.8-6.5-3.7 1.6z" color="#3A30A1"/>
<path d="M186.3 1947.5l3.5 0.6 5.8-2.7-3.6-0.7z" color="#5D2295"/>
<path d="M503.3 1836.8l4.3-0.1 20.3-6.3-4.3-0.1z" color="#60A382"/>
<path d="M206 1943l3.6 0.6 7.9-3.3-3.7-0.7z" color="#55269F"/>
<path d="M195.6 1945.4l3.6 0.4 6.8-2.8-3.6-0.6z" color="#572498"/>
<path d="M466.4 1830.7l4.3 5.2 19.7-6.3-4.3-5.1z" color="#96EEB9"/>
<path d="M554.1 1866.1l4.4 7.3 20.9-7.9-4.4-7z" color="#7CD3FA"/>
<path d="M314.1 1896l3.6-3.5 14.6-7.1-3.7 3.4z" color="#335898"/>
<path d="M174.3 1951.4l3.6 0.5 3.6-2-3.5-0.6z" color="#62208F"/>
<path d="M247.2 1934.2l3.7 0 10.7-6-3.7 0.3z" color="#402AA9"/>
<path d="M606 1896.8l4.5 7.1 21.4-9.5-4.5-6.8z" color="#6CA1FF"/>
<path d="M658.8 1927.3l4.6 4.5 21.9-10.7-4.5-4.5z" color="#6156F6"/>
<path d="M897.5 1954.7l10.1 5.1 24-12.8-10.1-5z" color="#7528AB"/>
<path d="M754.2 1948.7l4.8 3.2 22.8-11.8-4.7-3.2z" color="#7031C2"/>
<path d="M558.5 1873.4l4.4 5.7 20.9-8.2-4.4-5.4z" color="#71C7FC"/>
<path d="M171.7 1952.8l3.5 0.4 2.7-1.3-3.6-0.5z" color="#63208D"/>
<path d="M233.7 1938.4l3.7 0.9 9.8-5.1-3.7-0.6z" color="#4B2BAD"/>
<path d="M708.3 1942.5l4.7 3.8 22.4-11.4-4.7-3.8z" color="#693AD7"/>
<path d="M336.1 1882.9l3.8-1.4 15.6-7.4-3.9 1.5z" color="#3E74A3"/>
<path d="M181.5 1949.9l3.6 0.4 4.7-2.2-3.5-0.6z" color="#5D2293"/>
<path d="M296.8 1907l3.6-4 13.7-7-3.7 3.9z" color="#2F4A98"/>
<path d="M610.5 1903.9l4.4 7 21.4-9.7-4.4-6.8z" color="#6996FF"/>
<path d="M470.7 1835.9l4.3 4.3 19.7-6.4-4.3-4.2z" color="#8AE2B5"/>
<path d="M359.4 1873.1l3.9-1.4 16.4-7.6-4 1.4z" color="#437F9C"/>
<path d="M801.1 1952.3l9.7 5.7 23.3-12.1-9.7-5.7z" color="#732CB5"/>
<path d="M170.2 1953.7l3.5 0.3 1.5-0.8-3.5-0.4z" color="#631F8C"/>
<path d="M221.1 1941.3l3.7 1.2 8.9-4.1-3.7-1.1z" color="#522AAE"/>
<path d="M383.6 1861.4l3.8-4.2 17.3-7.3-3.9 3.9z" color="#41777A"/>
<path d="M189.8 1948.1l3.6 0 5.8-2.3-3.6-0.4z" color="#572396"/>
<path d="M169.6 1954l3.5 0.3 0.6-0.3-3.5-0.3z" color="#631F8B"/>
<path d="M280.5 1917.6l3.6-3.8 12.7-6.8-3.6 3.7z" color="#313E96"/>
<path d="M663.4 1931.8l4.6 4.6 21.9-10.9-4.6-4.4z" color="#6250F4"/>
<path d="M434.8 1830.1l4.2-0.6 18.9-6-4.1 0.3z" color="#67A575"/>
<path d="M507.6 1836.7l4.3 0.8 20.3-6.1-4.3-1z" color="#6AB18A"/>
<path d="M614.9 1910.9l4.5 6.4 21.4-9.9-4.5-6.2z" color="#6988FF"/>
<path d="M209.6 1943.6l3.7 0.9 7.8-3.2-3.6-1z" color="#5428A7"/>
<path d="M199.2 1945.8l3.6 0.4 6.8-2.6-3.6-0.6z" color="#53259C"/>
<path d="M562.9 1879.1l4.5 4.6 20.8-8.3-4.4-4.5z" color="#66B7F5"/>
<path d="M759 1951.9l4.7 3.1 22.9-11.7-4.8-3.2z" color="#7130BF"/>
<path d="M177.9 1951.9l3.5 0.3 3.7-1.9-3.6-0.4z" color="#5D2191"/>
<path d="M265.2 1926.8l3.6-2.7 11.7-6.5-3.5 2.7z" color="#353599"/>
<path d="M408.7 1844.8l3.9-5.1 18.2-6.5-4 4.6z" color="#497D66"/>
<path d="M713 1946.3l4.6 3.6 22.5-11.4-4.7-3.6z" color="#6B38D2"/>
<path d="M250.9 1934.2l3.6-1.2 10.7-6.2-3.6 1.4z" color="#3B2EA1"/>
<path d="M853.8 1956.8l10 5.3 23.6-12.5-9.9-5.3z" color="#7529AE"/>
<path d="M475 1840.2l4.3 2.3 19.7-6.3-4.3-2.4z" color="#75C6A0"/>
<path d="M317.7 1892.5l3.8-2.5 14.6-7.1-3.8 2.5z" color="#38649D"/>
<path d="M619.4 1917.3l4.5 5.8 21.4-10.1-4.5-5.6z" color="#677BFF"/>
<path d="M175.2 1953.2l3.6 0.3 2.6-1.3-3.5-0.3z" color="#5E2190"/>
<path d="M237.4 1939.3l3.7 0.4 9.8-5.5-3.7 0z" color="#442AA9"/>
<path d="M668 1936.4l4.5 4.5 22-10.9-4.6-4.5z" color="#624AF1"/>
<path d="M185.1 1950.3l3.5-0.2 4.8-2-3.6 0z" color="#552293"/>
<path d="M567.4 1883.7l4.4 4.3 20.9-8.4-4.5-4.2z" color="#63B0F4"/>
<path d="M339.9 1881.5l3.9-1 15.6-7.4-3.9 1z" color="#417DA6"/>
<path d="M224.8 1942.5l3.8 1.4 8.8-4.6-3.7-0.9z" color="#502BB1"/>
<path d="M173.7 1954l3.5 0.2 1.6-0.7-3.6-0.3z" color="#5D208F"/>
<path d="M511.9 1837.5l4.3 3.2 20.4-6.1-4.4-3.2z" color="#81D3A4"/>
<path d="M763.7 1955l4.8 3.1 22.9-11.8-4.8-3z" color="#722FBC"/>
<path d="M439 1829.5l4.2 2.4 19-5.8-4.3-2.6z" color="#84D091"/>
<path d="M363.3 1871.7l3.8-2.8 16.5-7.5-3.9 2.7z" color="#417A8B"/>
<path d="M717.6 1949.9l4.7 3.5 22.5-11.4-4.7-3.5z" color="#6C36CD"/>
<path d="M193.4 1948.1l3.5 0.1 5.9-2-3.6-0.4z" color="#522499"/>
<path d="M173.1 1954.3l3.5 0.1 0.6-0.2-3.5-0.2z" color="#5D208E"/>
<path d="M907.6 1959.8l10.2 5.1 24-12.8-10.2-5.1z" color="#7528AA"/>
<path d="M213.3 1944.5l3.7 1.5 7.8-3.5-3.7-1.2z" color="#552BB0"/>
<path d="M623.9 1923.1l4.5 5.1 21.4-10.2-4.5-5z" color="#646EFF"/>
<path d="M300.4 1903l3.6-3.7 13.7-6.8-3.6 3.5z" color="#325598"/>
<path d="M202.8 1946.2l3.6 0.8 6.9-2.5-3.7-0.9z" color="#5328A6"/>
<path d="M672.5 1940.9l4.6 4.4 22-11-4.6-4.3z" color="#6344EC"/>
<path d="M181.4 1952.2l3.5-0.5 3.7-1.6-3.5 0.2z" color="#552290"/>
<path d="M810.8 1958l9.8 5.5 23.3-12.1-9.8-5.5z" color="#742AB2"/>
<path d="M479.3 1842.5l4.3 0.5 19.7-6.2-4.3-0.6z" color="#64AA87"/>
<path d="M571.8 1888l4.5 5 20.8-8.5-4.4-4.9z" color="#67B1FD"/>
<path d="M387.4 1857.2l3.9-5.6 17.4-6.8-4 5.1z" color="#41766C"/>
<path d="M284.1 1913.8l3.5-4.3 12.8-6.5-3.6 4z" color="#2E4897"/>
<path d="M516.2 1840.7l4.4 5.9 20.4-6.2-4.4-5.8z" color="#95EFC3"/>
<path d="M268.8 1924.1l3.5-3.9 11.8-6.4-3.6 3.8z" color="#313B94"/>
<path d="M443.2 1831.9l4.3 4.7 18.9-5.9-4.2-4.6z" color="#98EBAB"/>
<path d="M628.4 1928.2l4.5 4.8 21.4-10.3-4.5-4.7z" color="#6163FE"/>
<path d="M254.5 1933l3.5-2.7 10.8-6.2-3.6 2.7z" color="#363298"/>
<path d="M178.8 1953.5l3.4-0.7 2.7-1.1-3.5 0.5z" color="#54218E"/>
<path d="M241.1 1939.7l3.6-0.8 9.8-5.9-3.6 1.2z" color="#3D2BA2"/>
<path d="M412.6 1839.7l4-3.6 18.2-6-4 3.1z" color="#548A66"/>
<path d="M321.5 1890l3.8-1.4 14.6-7.1-3.8 1.4z" color="#3D72A4"/>
<path d="M722.3 1953.4l4.8 3.4 22.4-11.4-4.7-3.4z" color="#6E34C8"/>
<path d="M188.6 1950.1l3.5-0.4 4.8-1.5-3.5-0.1z" color="#4F2496"/>
<path d="M228.6 1943.9l3.7 1 8.8-5.2-3.7-0.4z" color="#492AAB"/>
<path d="M520.6 1846.6l4.4 8.4 20.4-6.6-4.4-8z" color="#92EFD1"/>
<path d="M677.1 1945.3l4.7 4.3 21.9-11.1-4.6-4.2z" color="#6641E4"/>
<path d="M576.3 1893l4.4 5.9 20.9-8.7-4.5-5.7z" color="#6CB1FF"/>
<path d="M217 1946l3.7 1.9 7.9-4-3.8-1.4z" color="#552DB7"/>
<path d="M343.8 1880.5l3.9-1.4 15.6-7.4-3.9 1.4z" color="#427E9D"/>
<path d="M177.2 1954.2l3.4-0.8 1.6-0.6-3.4 0.7z" color="#53208B"/>
<path d="M863.8 1962.1l10 5.2 23.7-12.6-10.1-5.1z" color="#7528AC"/>
<path d="M196.9 1948.2l3.6 0.6 5.9-1.8-3.6-0.8z" color="#5027A3"/>
<path d="M206.4 1947l3.7 1.7 6.9-2.7-3.7-1.5z" color="#562CB3"/>
<path d="M525 1855l4.4 9.4 20.3-6.9-4.3-9.1z" color="#89E4DC"/>
<path d="M768.5 1958.1l9.7 6 22.9-11.8-9.7-6z" color="#732DB8"/>
<path d="M176.6 1954.4l3.5-1 0.5 0-3.4 0.8z" color="#502088"/>
<path d="M447.5 1836.6l4.3 5.3 18.9-6-4.3-5.2z" color="#99F0B6"/>
<path d="M529.4 1864.4l4.5 9 20.2-7.3-4.4-8.6z" color="#83DCEA"/>
<path d="M632.9 1933l4.6 4.7 21.3-10.4-4.5-4.6z" color="#615BF9"/>
<path d="M580.7 1898.9l4.5 6.9 20.8-9-4.4-6.6z" color="#6EACFF"/>
<path d="M483.6 1843l4.3-0.3 19.7-6-4.3 0.1z" color="#62A27D"/>
<path d="M367.1 1868.9l3.9-4.6 16.4-7.1-3.8 4.2z" color="#3F7579"/>
<path d="M184.9 1951.7l3.5-0.9 3.7-1.1-3.5 0.4z" color="#4D2392"/>
<path d="M304 1899.3l3.7-2.6 13.8-6.7-3.8 2.5z" color="#37629D"/>
<path d="M727.1 1956.8l4.7 3.4 22.4-11.5-4.7-3.3z" color="#6F32C4"/>
<path d="M533.9 1873.4l4.4 7.6 20.2-7.6-4.4-7.3z" color="#7DD5F8"/>
<path d="M681.8 1949.6l4.6 4 21.9-11.1-4.6-4z" color="#693DDD"/>
<path d="M585.2 1905.8l4.4 7.3 20.9-9.2-4.5-7.1z" color="#6DA2FF"/>
<path d="M451.8 1841.9l4.3 4.4 18.9-6.1-4.3-4.3z" color="#8DE3B2"/>
<path d="M192.1 1949.7l3.6 0.1 4.8-1-3.6-0.6z" color="#4C269E"/>
<path d="M182.2 1952.8l3.5-1.2 2.7-0.8-3.5 0.9z" color="#4B228F"/>
<path d="M220.7 1947.9l3.8 1.7 7.8-4.7-3.7-1z" color="#502CB3"/>
<path d="M637.5 1937.7l4.5 4.6 21.4-10.5-4.6-4.5z" color="#6155F6"/>
<path d="M232.3 1944.9l3.6-0.5 8.8-5.5-3.6 0.8z" color="#3F29A4"/>
<path d="M287.6 1909.5l3.6-3.8 12.8-6.4-3.6 3.7z" color="#315297"/>
<path d="M820.6 1963.5l9.9 5.5 23.3-12.2-9.9-5.4z" color="#752AAF"/>
<path d="M325.3 1888.6l3.9-0.9 14.6-7.2-3.9 1z" color="#417BA7"/>
<path d="M538.3 1881l4.4 5.9 20.2-7.8-4.4-5.7z" color="#73CAFB"/>
<path d="M210.1 1948.7l3.8 2.5 6.8-3.3-3.7-1.9z" color="#5A2FBF"/>
<path d="M416.6 1836.1l4.1-0.9 18.3-5.7-4.2 0.6z" color="#67A370"/>
<path d="M244.7 1938.9l3.5-2.6 9.8-6-3.5 2.7z" color="#362F97"/>
<path d="M391.3 1851.6l3.9-5.7 17.4-6.2-3.9 5.1z" color="#477A63"/>
<path d="M200.5 1948.8l3.8 1.7 5.8-1.8-3.7-1.7z" color="#552CB5"/>
<path d="M258 1930.3l3.5-4.1 10.8-6-3.5 3.9z" color="#313892"/>
<path d="M272.3 1920.2l3.5-4.5 11.8-6.2-3.5 4.3z" color="#2E4495"/>
<path d="M589.6 1913.1l4.5 7.2 20.8-9.4-4.4-7z" color="#6A96FF"/>
<path d="M180.6 1953.4l3.5-1.4 1.6-0.4-3.5 1.2z" color="#49218C"/>
<path d="M731.8 1960.2l4.8 3.2 22.4-11.5-4.8-3.2z" color="#7131C1"/>
<path d="M347.7 1879.1l3.8-2.9 15.6-7.3-3.8 2.8z" color="#40788C"/>
<path d="M686.4 1953.6l4.7 3.8 21.9-11.1-4.7-3.8z" color="#6A3AD6"/>
<path d="M180.1 1953.4l3.4-1.5 0.6 0.1-3.5 1.4z" color="#442084"/>
<path d="M487.9 1842.7l4.3 0.6 19.7-5.8-4.3-0.8z" color="#6BB084"/>
<path d="M542.7 1886.9l4.4 4.8 20.3-8-4.5-4.6z" color="#68BBF5"/>
<path d="M594.1 1920.3l4.5 6.7 20.8-9.7-4.5-6.4z" color="#6A89FF"/>
<path d="M642 1942.3l4.6 4.7 21.4-10.6-4.6-4.6z" color="#624FF4"/>
<path d="M188.4 1950.8l3.5-0.3 3.8-0.7-3.6-0.1z" color="#49259A"/>
<path d="M456.1 1846.3l4.2 2.3 19-6.1-4.3-2.3z" color="#77C79C"/>
<path d="M873.8 1967.3l10.2 5.1 23.6-12.6-10.1-5.1z" color="#7528AA"/>
<path d="M778.2 1964.1l9.7 5.8 22.9-11.9-9.7-5.7z" color="#742BB4"/>
<path d="M307.7 1896.7l3.8-1.4 13.8-6.7-3.8 1.4z" color="#3D70A5"/>
<path d="M213.9 1951.2l3.8 2.6 6.8-4.2-3.8-1.7z" color="#592FBE"/>
<path d="M195.7 1949.8l3.7 1.7 4.9-1-3.8-1.7z" color="#522CB4"/>
<path d="M204.3 1950.5l3.8 3.2 5.8-2.5-3.8-2.5z" color="#5F32C7"/>
<path d="M224.5 1949.6l3.7 0.2 7.7-5.4-3.6 0.5z" color="#4429A6"/>
<path d="M371 1864.3l3.8-6.1 16.5-6.6-3.9 5.6z" color="#41756B"/>
<path d="M420.7 1835.2l4.2 2.3 18.3-5.6-4.2-2.4z" color="#85CF8C"/>
<path d="M598.6 1927l4.5 5.9 20.8-9.8-4.5-5.8z" color="#687BFF"/>
<path d="M691.1 1957.4l4.7 3.7 21.8-11.2-4.6-3.6z" color="#6C37D0"/>
<path d="M736.6 1963.4l4.8 3.2 22.3-11.6-4.7-3.1z" color="#722FBE"/>
<path d="M185.7 1951.6l3.5-0.7 2.7-0.4-3.5 0.3z" color="#462598"/>
<path d="M329.2 1887.7l3.8-1.3 14.7-7.3-3.9 1.4z" color="#417D9F"/>
<path d="M547.1 1891.7l4.5 4.4 20.2-8.1-4.4-4.3z" color="#64B3F4"/>
<path d="M235.9 1944.4l3.5-2.4 8.8-5.7-3.5 2.6z" color="#372C97"/>
<path d="M646.6 1947l4.6 4.6 21.3-10.7-4.5-4.5z" color="#6349F1"/>
<path d="M492.2 1843.3l4.3 3.1 19.7-5.7-4.3-3.2z" color="#83D49F"/>
<path d="M291.2 1905.7l3.7-2.7 12.8-6.3-3.7 2.6z" color="#37609D"/>
<path d="M184.1 1952l3.4-0.8 1.7-0.3-3.5 0.7z" color="#442596"/>
<path d="M248.2 1936.3l3.5-4.4 9.8-5.7-3.5 4.1z" color="#31358F"/>
<path d="M603.1 1932.9l4.5 5.3 20.8-10-4.5-5.1z" color="#656DFF"/>
<path d="M460.3 1848.6l4.3 0.3 19-5.9-4.3-0.5z" color="#65A882"/>
<path d="M395.2 1845.9l4-4.1 17.4-5.7-4 3.6z" color="#538762"/>
<path d="M191.9 1950.5l3.7 1.3 3.8-0.3-3.7-1.7z" color="#4E2BB1"/>
<path d="M183.5 1951.9l3.5-0.9 0.5 0.2-3.4 0.8z" color="#3D2188"/>
<path d="M830.5 1969l10 5.4 23.3-12.3-10-5.3z" color="#7529AD"/>
<path d="M275.8 1915.7l3.6-4.2 11.8-5.8-3.6 3.8z" color="#305096"/>
<path d="M261.5 1926.2l3.4-4.9 10.9-5.6-3.5 4.5z" color="#2E4192"/>
<path d="M208.1 1953.7l3.9 3.7 5.7-3.6-3.8-2.6z" color="#6435CC"/>
<path d="M424.9 1837.5l4.3 4.7 18.3-5.6-4.3-4.7z" color="#9BEDA8"/>
<path d="M199.4 1951.5l3.9 3.6 4.8-1.4-3.8-3.2z" color="#6035CD"/>
<path d="M351.5 1876.2l3.8-4.9 15.7-7-3.9 4.6z" color="#3E7278"/>
<path d="M695.8 1961.1l4.7 3.5 21.8-11.2-4.7-3.5z" color="#6D35CB"/>
<path d="M551.6 1896.1l4.4 5.1 20.3-8.2-4.5-5z" color="#68B3FE"/>
<path d="M651.2 1951.6l4.6 4.5 21.3-10.8-4.6-4.4z" color="#6544EB"/>
<path d="M217.7 1953.8l3.8 1.2 6.7-5.2-3.7-0.2z" color="#4B2AA9"/>
<path d="M741.4 1966.6l4.8 3.1 22.3-11.6-4.8-3.1z" color="#722EBB"/>
<path d="M496.5 1846.4l4.4 6.1 19.7-5.9-4.4-5.9z" color="#99F1BF"/>
<path d="M311.5 1895.3l3.9-0.6 13.8-7-3.9 0.9z" color="#417AA9"/>
<path d="M607.6 1938.2l4.5 4.9 20.8-10.1-4.5-4.8z" color="#6263FE"/>
<path d="M189.2 1950.9l3.6 1.1 2.8-0.2-3.7-1.3z" color="#4A2BAF"/>
<path d="M228.2 1949.8l3.5-2.1 7.7-5.7-3.5 2.4z" color="#382897"/>
<path d="M500.9 1852.5l4.5 8.6 19.6-6.1-4.4-8.4z" color="#95F0CC"/>
<path d="M429.2 1842.2l4.3 5.5 18.3-5.8-4.3-5.3z" color="#9CF2B3"/>
<path d="M556 1901.2l4.5 6.1 20.2-8.4-4.4-5.9z" color="#6DB3FF"/>
<path d="M787.9 1969.9l9.9 5.6 22.8-12-9.8-5.5z" color="#742AB1"/>
<path d="M884 1972.4l10.2 5.2 23.6-12.7-10.2-5.1z" color="#7627AA"/>
<path d="M195.6 1951.8l3.9 4 3.8-0.7-3.9-3.6z" color="#5E36D0"/>
<path d="M203.3 1955.1l4 4.9 4.7-2.6-3.9-3.7z" color="#703EDC"/>
<path d="M333 1886.4l3.8-2.9 14.7-7.3-3.8 2.9z" color="#3F778D"/>
<path d="M505.4 1861.1l4.4 9.8 19.6-6.5-4.4-9.4z" color="#8AE6D7"/>
<path d="M187.5 1951.2l3.7 1.1 1.6-0.3-3.6-1.1z" color="#482BAF"/>
<path d="M655.8 1956.1l4.6 4.2 21.4-10.7-4.7-4.3z" color="#6840E3"/>
<path d="M700.5 1964.6l4.7 3.5 21.9-11.3-4.8-3.4z" color="#6F33C7"/>
<path d="M212 1957.4l3.8 2.6 5.7-5-3.8-1.2z" color="#582DB7"/>
<path d="M464.6 1848.9l4.2-0.6 19.1-5.6-4.3 0.3z" color="#63A179"/>
<path d="M509.8 1870.9l4.4 9.5 19.7-7-4.5-9z" color="#83DDE6"/>
<path d="M294.9 1903l3.8-1.3 12.8-6.4-3.8 1.4z" color="#3D6FA7"/>
<path d="M239.4 1942l3.4-4.6 8.9-5.5-3.5 4.4z" color="#31318C"/>
<path d="M374.8 1858.2l3.8-6.3 16.6-6-3.9 5.7z" color="#477961"/>
<path d="M187 1951l3.6 1.2 0.6 0.1-3.7-1.1z" color="#4128A0"/>
<path d="M612.1 1943.1l4.6 4.8 20.8-10.2-4.6-4.7z" color="#615BF9"/>
<path d="M560.5 1907.3l4.5 7.1 20.2-8.6-4.5-6.9z" color="#6FADFF"/>
<path d="M514.2 1880.4l4.5 7.9 19.6-7.3-4.4-7.6z" color="#7FD7F5"/>
<path d="M399.2 1841.8l4-1.2 17.5-5.4-4.1 0.9z" color="#66A06C"/>
<path d="M433.5 1847.7l4.3 4.4 18.3-5.8-4.3-4.4z" color="#90E5B0"/>
<path d="M192.8 1952l4 4.2 2.7-0.4-3.9-4z" color="#5D37D4"/>
<path d="M221.5 1955l3.5-1.6 6.7-5.7-3.5 2.1z" color="#3C2698"/>
<path d="M251.7 1931.9l3.4-5.3 9.8-5.3-3.4 4.9z" color="#2D3E8F"/>
<path d="M746.2 1969.7l9.6 6 22.4-11.6-9.7-6z" color="#732DB7"/>
<path d="M279.4 1911.5l3.6-2.8 11.9-5.7-3.7 2.7z" color="#365E9D"/>
<path d="M199.5 1955.8l4 5.9 3.8-1.7-4-4.9z" color="#7744E4"/>
<path d="M565 1914.4l4.4 7.6 20.2-8.9-4.4-7.3z" color="#6DA3FF"/>
<path d="M315.4 1894.7l3.8-1.2 13.8-7.1-3.8 1.3z" color="#417CA2"/>
<path d="M207.3 1960l3.9 4.3 4.6-4.3-3.8-2.6z" color="#6B35CA"/>
<path d="M660.4 1960.3l4.7 4.1 21.3-10.8-4.6-4z" color="#6A3DDB"/>
<path d="M264.9 1921.3l3.5-4.4 11-5.4-3.6 4.2z" color="#2F4D94"/>
<path d="M518.7 1888.3l4.4 6.2 19.6-7.6-4.4-5.9z" color="#75CCFA"/>
<path d="M705.2 1968.1l4.7 3.3 21.9-11.2-4.7-3.4z" color="#7031C3"/>
<path d="M840.5 1974.4l10.1 5.2 23.2-12.3-10-5.2z" color="#7528AB"/>
<path d="M191.2 1952.3l3.9 4.3 1.7-0.4-4-4.2z" color="#603CDD"/>
<path d="M616.7 1947.9l4.6 4.7 20.7-10.3-4.5-4.6z" color="#6254F6"/>
<path d="M355.3 1871.3l3.8-6.6 15.7-6.5-3.8 6.1z" color="#40746B"/>
<path d="M569.4 1922l4.5 7.5 20.2-9.2-4.5-7.2z" color="#6A97FF"/>
<path d="M190.6 1952.2l4 4.7 0.5-0.3-3.9-4.3z" color="#5D3AD9"/>
<path d="M196.8 1956.2l4.1 6.6 2.6-1.1-4-5.9z" color="#7947E9"/>
<path d="M215.8 1960l3.6-0.6 5.6-6-3.5 1.6z" color="#442599"/>
<path d="M203.5 1961.7l4.1 6 3.6-3.4-3.9-4.3z" color="#8144DF"/>
<path d="M231.7 1947.7l3.3-4.9 7.8-5.4-3.4 4.6z" color="#312E8A"/>
<path d="M437.8 1852.1l4.3 2.3 18.2-5.8-4.2-2.3z" color="#79C799"/>
<path d="M468.8 1848.3l4.3 0.4 19.1-5.4-4.3-0.6z" color="#6CAD7D"/>
<path d="M298.7 1901.7l3.8-0.4 12.9-6.6-3.9 0.6z" color="#4179AC"/>
<path d="M523.1 1894.5l4.4 4.8 19.6-7.6-4.4-4.8z" color="#69BEF5"/>
<path d="M573.9 1929.5l4.5 6.9 20.2-9.4-4.5-6.7z" color="#6A89FF"/>
<path d="M195.1 1956.6l4.2 7.1 1.6-0.9-4.1-6.6z" color="#814FF3"/>
<path d="M665.1 1964.4l4.6 3.9 21.4-10.9-4.7-3.8z" color="#6C39D4"/>
<path d="M403.2 1840.6l4.2 2.1 17.5-5.2-4.2-2.3z" color="#85CD88"/>
<path d="M336.8 1883.5l3.8-5.3 14.7-6.9-3.8 4.9z" color="#3C7077"/>
<path d="M621.3 1952.6l4.5 4.7 20.8-10.3-4.6-4.7z" color="#634EF4"/>
<path d="M194.6 1956.9l4.2 7.6 0.5-0.8-4.2-7.1z" color="#8251F1"/>
<path d="M200.9 1962.8l4.1 7.1 2.6-2.2-4.1-6z" color="#8E4DE9"/>
<path d="M797.8 1975.5l9.9 5.5 22.8-12-9.9-5.5z" color="#7529AE"/>
<path d="M709.9 1971.4l4.8 3.3 21.9-11.3-4.8-3.2z" color="#7130BF"/>
<path d="M211.2 1964.3l3.7 1 4.5-5.9-3.6 0.6z" color="#4D259A"/>
<path d="M378.6 1851.9l3.9-4.7 16.7-5.4-4 4.1z" color="#52835F"/>
<path d="M242.8 1937.4l3.4-6 8.9-4.8-3.4 5.3z" color="#2D3B8D"/>
<path d="M199.3 1963.7l4.2 7.6 1.5-1.4-4.1-7.1z" color="#924FE9"/>
<path d="M578.4 1936.4l4.5 6.1 20.2-9.6-4.5-5.9z" color="#697BFF"/>
<path d="M283 1908.7l3.8-1.1 11.9-5.9-3.8 1.3z" color="#3D6EA8"/>
<path d="M198.8 1964.5l4.2 8.1 0.5-1.3-4.2-7.6z" color="#6B30B3"/>
<path d="M207.6 1967.7l3.8 2.6 3.5-5-3.7-1z" color="#5B27A3"/>
<path d="M527.5 1899.3l4.5 4.6 19.6-7.8-4.5-4.4z" color="#65B5F4"/>
<path d="M319.2 1893.5l3.8-2.9 13.8-7.1-3.8 2.9z" color="#3E758E"/>
<path d="M225 1953.4l3.3-5.1 6.7-5.5-3.3 4.9z" color="#322A8A"/>
<path d="M473.1 1848.7l4.4 3 19-5.3-4.3-3.1z" color="#85D499"/>
<path d="M442.1 1854.4l4.2 0.1 18.3-5.6-4.3-0.3z" color="#65A67E"/>
<path d="M669.7 1968.3l4.7 3.7 21.4-10.9-4.7-3.7z" color="#6D36CE"/>
<path d="M255.1 1926.6l3.4-5.1 9.9-4.6-3.5 4.4z" color="#2E4A91"/>
<path d="M205 1969.9l3.9 3.8 2.5-3.4-3.8-2.6z" color="#6D2CB2"/>
<path d="M407.4 1842.7l4.3 4.8 17.5-5.3-4.3-4.7z" color="#9DEEA4"/>
<path d="M625.8 1957.3l4.6 4.7 20.8-10.4-4.6-4.6z" color="#6348F1"/>
<path d="M268.4 1916.9l3.7-3 10.9-5.2-3.6 2.8z" color="#355B9C"/>
<path d="M755.8 1975.7l9.8 5.8 22.3-11.6-9.7-5.8z" color="#742BB3"/>
<path d="M203.5 1971.3l3.9 4.2 1.5-1.8-3.9-3.8z" color="#7830B8"/>
<path d="M714.7 1974.7l4.8 3.2 21.9-11.3-4.8-3.2z" color="#722FBC"/>
<path d="M203 1972.6l4 4.4 0.4-1.5-3.9-4.2z" color="#591F87"/>
<path d="M582.9 1942.5l4.5 5.5 20.2-9.8-4.5-5.3z" color="#656DFF"/>
<path d="M302.5 1901.3l3.9-0.9 12.8-6.9-3.8 1.2z" color="#417CA6"/>
<path d="M850.6 1979.6l10.1 5.2 23.3-12.4-10.2-5.1z" color="#7528AA"/>
<path d="M219.4 1959.4l3.3-5.1 5.6-6-3.3 5.1z" color="#33258A"/>
<path d="M532 1903.9l4.5 5.2 19.5-7.9-4.4-5.1z" color="#69B6FE"/>
<path d="M359.1 1864.7l3.7-7 15.8-5.8-3.8 6.3z" color="#477860"/>
<path d="M411.7 1847.5l4.3 5.6 17.5-5.4-4.3-5.5z" color="#A0F4B1"/>
<path d="M477.5 1851.7l4.4 6.3 19-5.5-4.4-6.1z" color="#9CF3BA"/>
<path d="M630.4 1962l4.6 4.5 20.8-10.4-4.6-4.5z" color="#6643EA"/>
<path d="M235 1942.8l3.3-7 7.9-4.4-3.4 6z" color="#2E398B"/>
<path d="M674.4 1972l4.7 3.6 21.4-11-4.7-3.5z" color="#6F34C9"/>
<path d="M214.9 1965.3l3.3-4.6 4.5-6.4-3.3 5.1z" color="#382288"/>
<path d="M587.4 1948l4.6 4.9 20.1-9.8-4.5-4.9z" color="#6362FE"/>
<path d="M286.8 1907.6l3.8-0.1 11.9-6.2-3.8 0.4z" color="#4179B0"/>
<path d="M481.9 1858l4.5 8.9 19-5.8-4.5-8.6z" color="#98F1C7"/>
<path d="M536.5 1909.1l4.4 6.3 19.6-8.1-4.5-6.1z" color="#6EB6FF"/>
<path d="M382.5 1847.2l4-1.6 16.7-5-4 1.2z" color="#669D68"/>
<path d="M340.6 1878.2l3.6-7.2 14.9-6.3-3.8 6.6z" color="#3F736B"/>
<path d="M211.4 1970.3l3.4-3.6 3.4-6-3.3 4.6z" color="#402083"/>
<path d="M719.5 1977.9l4.8 3.1 21.9-11.3-4.8-3.1z" color="#732EB9"/>
<path d="M807.7 1981l10 5.4 22.8-12-10-5.4z" color="#7628AC"/>
<path d="M446.3 1854.5l4.3-0.9 18.2-5.3-4.2 0.6z" color="#63A074"/>
<path d="M486.4 1866.9l4.4 10.2 19-6.2-4.4-9.8z" color="#8BE7D2"/>
<path d="M208.9 1973.7l3.5-2.9 2.4-4.1-3.4 3.6z" color="#461E7F"/>
<path d="M416 1853.1l4.3 4.6 17.5-5.6-4.3-4.4z" color="#93E7AD"/>
<path d="M490.8 1877.1l4.5 9.9 18.9-6.6-4.4-9.5z" color="#84DEE2"/>
<path d="M207.4 1975.5l3.4-2.9 1.6-1.8-3.5 2.9z" color="#4A1D7D"/>
<path d="M207 1977l3.4-3.2 0.4-1.2-3.4 2.9z" color="#4B1C79"/>
<path d="M246.2 1931.4l3.3-5.9 9-4-3.4 5.1z" color="#2D478F"/>
<path d="M272.1 1913.9l3.7-1 11-5.3-3.8 1.1z" color="#3D6DAA"/>
<path d="M323 1890.6l3.7-5.5 13.9-6.9-3.8 5.3z" color="#3B6E78"/>
<path d="M635 1966.5l4.7 4.4 20.7-10.6-4.6-4.2z" color="#6940E2"/>
<path d="M540.9 1915.4l4.5 7.4 19.6-8.4-4.5-7.1z" color="#6FAFFF"/>
<path d="M495.3 1887l4.5 8.3 18.9-7-4.5-7.9z" color="#80D9F2"/>
<path d="M592 1952.9l4.5 4.9 20.2-9.9-4.6-4.8z" color="#625AF9"/>
<path d="M258.5 1921.5l3.6-3.3 10-4.3-3.7 3z" color="#34599A"/>
<path d="M679.1 1975.6l4.8 3.4 21.3-10.9-4.7-3.5z" color="#7032C5"/>
<path d="M228.3 1948.3l3.2-8.1 6.8-4.4-3.3 7z" color="#2E3589"/>
<path d="M306.4 1900.4l3.7-2.7 12.9-7.1-3.8 2.9z" color="#3D7491"/>
<path d="M765.6 1981.5l9.8 5.6 22.4-11.6-9.9-5.6z" color="#752AB0"/>
<path d="M545.4 1922.8l4.5 7.8 19.5-8.6-4.4-7.6z" color="#6DA4FF"/>
<path d="M499.8 1895.3l4.4 6.4 18.9-7.2-4.4-6.2z" color="#77CFF9"/>
<path d="M420.3 1857.7l4.3 2.3 17.5-5.6-4.3-2.3z" color="#7AC795"/>
<path d="M639.7 1970.9l4.6 4.1 20.8-10.6-4.7-4.1z" color="#6B3CDA"/>
<path d="M290.6 1907.5l3.9-0.3 11.9-6.8-3.9 0.9z" color="#417CAB"/>
<path d="M386.5 1845.6l4.2 2 16.7-4.9-4.2-2.1z" color="#86CC83"/>
<path d="M860.7 1984.8l10.2 5.3 23.3-12.5-10.2-5.2z" color="#7627A9"/>
<path d="M596.5 1957.8l4.6 4.7 20.2-9.9-4.6-4.7z" color="#6253F6"/>
<path d="M549.9 1930.6l4.5 7.8 19.5-8.9-4.5-7.5z" color="#6B97FF"/>
<path d="M362.8 1857.7l3.9-5.3 15.8-5.2-3.9 4.7z" color="#50805B"/>
<path d="M450.6 1853.6l4.2 0.2 18.3-5.1-4.3-0.4z" color="#6BAA77"/>
<path d="M724.3 1981l9.6 6 21.9-11.3-9.6-6z" color="#742CB6"/>
<path d="M222.7 1954.3l3.1-9.3 5.7-4.8-3.2 8.1z" color="#2E3288"/>
<path d="M683.9 1979l4.7 3.4 21.3-11-4.7-3.3z" color="#7131C1"/>
<path d="M504.2 1901.7l4.4 5 18.9-7.4-4.4-4.8z" color="#6BC0F5"/>
<path d="M238.3 1935.8l3.3-7.1 7.9-3.2-3.3 5.9z" color="#2C458D"/>
<path d="M554.4 1938.4l4.5 7.1 19.5-9.1-4.5-6.9z" color="#6B8AFF"/>
<path d="M275.8 1912.9l3.9 0.4 10.9-5.8-3.8 0.1z" color="#427AB5"/>
<path d="M218.2 1960.7l3-10.4 4.6-5.3-3.1 9.3z" color="#2F2D87"/>
<path d="M601.1 1962.5l4.6 4.8 20.1-10-4.5-4.7z" color="#634DF4"/>
<path d="M644.3 1975l4.7 3.9 20.7-10.6-4.6-3.9z" color="#6D39D3"/>
<path d="M817.7 1986.4l10 5.3 22.9-12.1-10.1-5.2z" color="#7528AA"/>
<path d="M390.7 1847.6l4.3 4.9 16.7-5-4.3-4.8z" color="#A0F0A1"/>
<path d="M344.2 1871l3.7-7.7 14.9-5.6-3.7 7z" color="#467760"/>
<path d="M262.1 1918.2l3.7-0.9 10-4.4-3.7 1z" color="#3D6DAB"/>
<path d="M249.5 1925.5l3.5-4 9.1-3.3-3.6 3.3z" color="#325695"/>
<path d="M214.8 1966.7l2.9-11.1 3.5-5.3-3 10.4z" color="#312785"/>
<path d="M558.9 1945.5l4.5 6.3 19.5-9.3-4.5-6.1z" color="#6A7BFF"/>
<path d="M424.6 1860l4.2-0.2 17.5-5.3-4.2-0.1z" color="#66A57A"/>
<path d="M508.6 1906.7l4.5 4.7 18.9-7.5-4.5-4.6z" color="#66B8F4"/>
<path d="M212.4 1970.8l2.8-11.4 2.5-3.8-2.9 11.1z" color="#312182"/>
<path d="M688.6 1982.4l4.8 3.2 21.3-10.9-4.8-3.3z" color="#722FBE"/>
<path d="M326.7 1885.1l3.6-7.8 13.9-6.3-3.6 7.2z" color="#3F726B"/>
<path d="M210.8 1972.6l2.8-11.8 1.6-1.4-2.8 11.4z" color="#321F7B"/>
<path d="M454.8 1853.8l4.4 2.8 18.3-4.9-4.4-3z" color="#87D493"/>
<path d="M310.1 1897.7l3.7-5.7 12.9-6.9-3.7 5.5z" color="#3A6D79"/>
<path d="M210.4 1973.8l2.7-12.7 0.5-0.3-2.8 11.8z" color="#341F7C"/>
<path d="M294.5 1907.2l3.7-2.5 11.9-7-3.7 2.7z" color="#3C7495"/>
<path d="M605.7 1967.3l4.6 4.8 20.1-10.1-4.6-4.7z" color="#6446F0"/>
<path d="M395 1852.5l4.3 5.9 16.7-5.3-4.3-5.6z" color="#A3F6AF"/>
<path d="M775.4 1987.1l9.9 5.6 22.4-11.7-9.9-5.5z" color="#7629AE"/>
<path d="M563.4 1951.8l4.6 5.6 19.4-9.4-4.5-5.5z" color="#666DFF"/>
<path d="M231.5 1940.2l3.1-9 7-2.5-3.3 7.1z" color="#2B438B"/>
<path d="M649 1978.9l4.7 3.7 20.7-10.6-4.7-3.7z" color="#6E36CD"/>
<path d="M279.7 1913.3l3.9 0.4 10.9-6.5-3.9 0.3z" color="#437DB1"/>
<path d="M513.1 1911.4l4.5 5.3 18.9-7.6-4.5-5.2z" color="#6AB8FD"/>
<path d="M366.7 1852.4l4-2.1 15.8-4.7-4 1.6z" color="#649A64"/>
<path d="M459.2 1856.6l4.4 6.4 18.3-5-4.4-6.3z" color="#A0F5B5"/>
<path d="M693.4 1985.6l4.7 3.2 21.4-10.9-4.8-3.2z" color="#732EBB"/>
<path d="M733.9 1987l9.8 5.8 21.9-11.3-9.8-5.8z" color="#742AB2"/>
<path d="M265.8 1917.3l3.9 1.2 10-5.2-3.9-0.4z" color="#457EBE"/>
<path d="M399.3 1858.4l4.4 4.7 16.6-5.4-4.3-4.6z" color="#96EAAC"/>
<path d="M610.3 1972.1l4.6 4.6 20.1-10.2-4.6-4.5z" color="#6843E9"/>
<path d="M568 1957.4l4.5 5.1 19.5-9.6-4.6-4.9z" color="#6361FE"/>
<path d="M428.8 1859.8l4.2-1.2 17.6-5-4.3 0.9z" color="#639E6F"/>
<path d="M463.6 1863l4.5 9.2 18.3-5.3-4.5-8.9z" color="#9AF2C1"/>
<path d="M517.6 1916.7l4.5 6.5 18.8-7.8-4.4-6.3z" color="#6FB8FF"/>
<path d="M241.6 1928.7l3.4-5 8-2.2-3.5 4z" color="#30538E"/>
<path d="M253 1921.5l3.8-0.8 9-3.4-3.7 0.9z" color="#3D6CAB"/>
<path d="M653.7 1982.6l4.7 3.6 20.7-10.6-4.7-3.6z" color="#7034C8"/>
<path d="M468.1 1872.2l4.5 10.8 18.2-5.9-4.4-10.2z" color="#8DE8CC"/>
<path d="M225.8 1945l2.9-11.5 5.9-2.3-3.1 9z" color="#2A4189"/>
<path d="M472.6 1883l4.5 10.3 18.2-6.3-4.5-9.9z" color="#85DFDD"/>
<path d="M477.1 1893.3l4.5 8.7 18.2-6.7-4.5-8.3z" color="#81DAEF"/>
<path d="M827.7 1991.7l10.2 5.3 22.8-12.2-10.1-5.2z" color="#7527A9"/>
<path d="M522.1 1923.2l4.5 7.6 18.8-8-4.5-7.4z" color="#70B0FF"/>
<path d="M347.9 1863.3l3.8-6.1 15-4.8-3.9 5.3z" color="#4E7D57"/>
<path d="M572.5 1962.5l4.6 4.9 19.4-9.6-4.5-4.9z" color="#6259F9"/>
<path d="M698.1 1988.8l4.9 3.2 21.3-11-4.8-3.1z" color="#742DB8"/>
<path d="M614.9 1976.7l4.6 4.4 20.2-10.2-4.7-4.4z" color="#6B3FE0"/>
<path d="M370.7 1850.3l4.1 1.8 15.9-4.5-4.2-2z" color="#86CA7E"/>
<path d="M403.7 1863.1l4.2 2.2 16.7-5.3-4.3-2.3z" color="#7CC892"/>
<path d="M283.6 1913.7l3.7-1.9 10.9-7.1-3.7 2.5z" color="#3D749B"/>
<path d="M298.2 1904.7l3.6-5.8 12-6.9-3.7 5.7z" color="#396B7C"/>
<path d="M481.6 1902l4.4 6.6 18.2-6.9-4.4-6.4z" color="#79D1F8"/>
<path d="M526.6 1930.8l4.5 8.1 18.8-8.3-4.5-7.8z" color="#6EA4FF"/>
<path d="M221.2 1950.3l2.7-14.3 4.8-2.5-2.9 11.5z" color="#2A3F88"/>
<path d="M330.3 1877.3l3.6-8.6 14-5.4-3.7 7.7z" color="#46765F"/>
<path d="M269.7 1918.5l4 1.4 9.9-6.2-3.9-0.4z" color="#4682BD"/>
<path d="M313.8 1892l3.5-8.5 13-6.2-3.6 7.8z" color="#3E706C"/>
<path d="M658.4 1986.2l4.7 3.5 20.8-10.7-4.8-3.4z" color="#7132C3"/>
<path d="M785.3 1992.7l10 5.5 22.4-11.8-10-5.4z" color="#7628AC"/>
<path d="M531.1 1938.9l4.5 8.1 18.8-8.6-4.5-7.8z" color="#6B98FF"/>
<path d="M433 1858.6l4.3-0.2 17.5-4.6-4.2-0.2z" color="#6CA871"/>
<path d="M577.1 1967.4l4.5 4.8 19.5-9.7-4.6-4.7z" color="#6352F6"/>
<path d="M256.8 1920.7l3.9 2 9-4.2-3.9-1.2z" color="#4A86CB"/>
<path d="M234.6 1931.2l3.3-6.8 7.1-0.7-3.4 5z" color="#2D4E84"/>
<path d="M217.7 1955.6l2.5-16.7 3.7-2.9-2.7 14.3z" color="#2B3B87"/>
<path d="M619.5 1981.1l4.7 4.1 20.1-10.2-4.6-4.1z" color="#6D3BD8"/>
<path d="M486 1908.6l4.5 5.2 18.1-7.1-4.4-5z" color="#6DC2F4"/>
<path d="M374.8 1852.1l4.3 5 15.9-4.6-4.3-4.9z" color="#A3F29E"/>
<path d="M245 1923.7l3.7-1.1 8.1-1.9-3.8 0.8z" color="#3C6CA7"/>
<path d="M535.6 1947l4.5 7.3 18.8-8.8-4.5-7.1z" color="#6C8AFF"/>
<path d="M743.7 1992.8l9.8 5.7 21.9-11.4-9.8-5.6z" color="#7529AF"/>
<path d="M215.2 1959.4l2.4-18.3 2.6-2.2-2.5 16.7z" color="#2B3784"/>
<path d="M407.9 1865.3l4.2-0.3 16.7-5.2-4.2 0.2z" color="#66A476"/>
<path d="M213.6 1960.8l2.3-19.4 1.7-0.3-2.4 18.3z" color="#29337D"/>
<path d="M663.1 1989.7l4.8 3.3 20.7-10.6-4.7-3.4z" color="#7230BF"/>
<path d="M703 1992l9.6 6 21.3-11-9.6-6z" color="#742CB4"/>
<path d="M581.6 1972.2l4.6 4.8 19.5-9.7-4.6-4.8z" color="#634CF3"/>
<path d="M213.1 1961.1l2.2-20.8 0.6 1.1-2.3 19.4z" color="#252F71"/>
<path d="M540.1 1954.3l4.5 6.5 18.8-9-4.5-6.3z" color="#6A7BFF"/>
<path d="M490.5 1913.8l4.4 4.7 18.2-7.1-4.5-4.7z" color="#67BAF4"/>
<path d="M379.1 1857.1l4.4 6.2 15.8-4.9-4.3-5.9z" color="#A7F9AD"/>
<path d="M351.7 1857.2l4-2.7 15-4.2-4 2.1z" color="#63975F"/>
<path d="M624.2 1985.2l4.7 4 20.1-10.3-4.7-3.9z" color="#6E38D1"/>
<path d="M273.7 1919.9l3.8-0.9 9.8-7.2-3.7 1.9z" color="#3E76A4"/>
<path d="M437.3 1858.4l4.3 2.7 17.6-4.5-4.4-2.8z" color="#89D38C"/>
<path d="M260.7 1922.7l4 2.9 9-5.7-4-1.4z" color="#4E8ED5"/>
<path d="M837.9 1997l10.2 5.3 22.8-12.2-10.2-5.3z" color="#7627A9"/>
<path d="M287.3 1911.8l3.6-5.8 10.9-7.1-3.6 5.8z" color="#386A7F"/>
<path d="M228.7 1933.5l3.1-9.7 6.1 0.6-3.3 6.8z" color="#2C4D7F"/>
<path d="M544.6 1960.8l4.6 5.7 18.8-9.1-4.6-5.6z" color="#676DFF"/>
<path d="M586.2 1977l4.6 4.8 19.5-9.7-4.6-4.8z" color="#6546EF"/>
<path d="M248.7 1922.6l4 3 8-2.9-3.9-2z" color="#5090D8"/>
<path d="M383.5 1863.3l4.3 5 15.9-5.2-4.4-4.7z" color="#9AEDAB"/>
<path d="M667.9 1993l4.7 3.3 20.8-10.7-4.8-3.2z" color="#732FBC"/>
<path d="M494.9 1918.5l4.5 5.4 18.2-7.2-4.5-5.3z" color="#6BBAFD"/>
<path d="M301.8 1898.9l3.5-9.2 12-6.2-3.5 8.5z" color="#3D6F6D"/>
<path d="M237.9 1924.4l3.6-1.9 7.2 0.1-3.7 1.1z" color="#39689D"/>
<path d="M333.9 1868.7l3.7-7 14.1-4.5-3.8 6.1z" color="#4E7C56"/>
<path d="M795.3 1998.2l10.1 5.4 22.3-11.9-10-5.3z" color="#7627AA"/>
<path d="M441.6 1861.1l4.5 6.4 17.5-4.5-4.4-6.4z" color="#A3F6AF"/>
<path d="M628.9 1989.2l4.7 3.7 20.1-10.3-4.7-3.7z" color="#6F35CB"/>
<path d="M412.1 1865l4.2-1.7 16.7-4.7-4.2 1.2z" color="#639C6A"/>
<path d="M317.3 1883.5l3.5-9.6 13.1-5.2-3.6 8.6z" color="#45755F"/>
<path d="M549.2 1966.5l4.5 5.2 18.8-9.2-4.5-5.1z" color="#6461FE"/>
<path d="M499.4 1923.9l4.5 6.7 18.2-7.4-4.5-6.5z" color="#70BAFF"/>
<path d="M446.1 1867.5l4.5 9.6 17.5-4.9-4.5-9.2z" color="#9DF2BC"/>
<path d="M355.7 1854.5l4.1 1.7 15-4.1-4.1-1.8z" color="#86C879"/>
<path d="M590.8 1981.8l4.6 4.7 19.5-9.8-4.6-4.6z" color="#6943E7"/>
<path d="M264.7 1925.6l3.9 0.7 8.9-7.3-3.8 0.9z" color="#4279B2"/>
<path d="M753.5 1998.5l9.9 5.7 21.9-11.5-9.9-5.6z" color="#7629AD"/>
<path d="M450.6 1877.1l4.5 11.2 17.5-5.3-4.5-10.8z" color="#8EE8C7"/>
<path d="M455.1 1888.3l4.5 10.9 17.5-5.9-4.5-10.3z" color="#85E0D8"/>
<path d="M223.9 1936l2.8-13.4 5.1 1.2-3.1 9.7z" color="#2B4D7B"/>
<path d="M387.8 1868.3l4.3 2.2 15.8-5.2-4.2-2.2z" color="#7DC890"/>
<path d="M252.7 1925.6l4.1 5 7.9-5-4-2.9z" color="#5EA2F3"/>
<path d="M672.6 1996.3l4.8 3.2 20.7-10.7-4.7-3.2z" color="#732EB9"/>
<path d="M459.6 1899.2l4.5 9.1 17.5-6.3-4.5-8.7z" color="#82DBEC"/>
<path d="M503.9 1930.6l4.5 7.8 18.2-7.6-4.5-7.6z" color="#70B2FF"/>
<path d="M712.6 1998l9.8 5.9 21.3-11.1-9.8-5.8z" color="#752AB1"/>
<path d="M277.5 1919l3.5-5.5 9.9-7.5-3.6 5.8z" color="#376984"/>
<path d="M633.6 1992.9l4.7 3.6 20.1-10.3-4.7-3.6z" color="#7133C6"/>
<path d="M553.7 1971.7l4.6 4.9 18.8-9.2-4.6-4.9z" color="#6358F9"/>
<path d="M464.1 1908.3l4.5 7 17.4-6.7-4.4-6.6z" color="#7BD3F7"/>
<path d="M241.5 1922.5l4.1 4 7.1-0.9-4-3z" color="#5296DB"/>
<path d="M508.4 1938.4l4.5 8.5 18.2-8-4.5-8.1z" color="#6EA5FF"/>
<path d="M595.4 1986.5l4.7 4.5 19.4-9.9-4.6-4.4z" color="#6C3FDF"/>
<path d="M359.8 1856.2l4.3 5.2 15-4.3-4.3-5z" color="#A7F49B"/>
<path d="M220.2 1938.9l2.5-17.2 4 0.9-2.8 13.4z" color="#2B4E7A"/>
<path d="M231.8 1923.8l3.5-3.7 6.2 2.4-3.6 1.9z" color="#34618A"/>
<path d="M416.3 1863.3l4.2-0.6 16.8-4.3-4.3 0.2z" color="#6CA66B"/>
<path d="M512.9 1946.9l4.6 8.3 18.1-8.2-4.5-8.1z" color="#6B98FF"/>
<path d="M256.8 1930.6l4.1 3.2 7.7-7.5-3.9-0.7z" color="#4B86CF"/>
<path d="M290.9 1906l3.4-9.8 11-6.5-3.5 9.2z" color="#3B6D6F"/>
<path d="M677.4 1999.5l4.8 3.2 20.8-10.7-4.9-3.2z" color="#742CB7"/>
<path d="M468.6 1915.3l4.5 5.2 17.4-6.7-4.5-5.2z" color="#6EC4F3"/>
<path d="M558.3 1976.6l4.6 4.9 18.7-9.3-4.5-4.8z" color="#6351F6"/>
<path d="M392.1 1870.5l4.1-0.6 15.9-4.9-4.2 0.3z" color="#66A372"/>
<path d="M337.6 1861.7l3.9-3.3 14.2-3.9-4 2.7z" color="#61925A"/>
<path d="M638.3 1996.5l4.7 3.5 20.1-10.3-4.7-3.5z" color="#7231C2"/>
<path d="M245.6 1926.5l4.3 7.7 6.9-3.6-4.1-5z" color="#6CB3FF"/>
<path d="M517.5 1955.2l4.5 7.6 18.1-8.5-4.5-7.3z" color="#6C8AFF"/>
<path d="M364.1 1861.4l4.4 6.5 15-4.6-4.4-6.2z" color="#AAFBAB"/>
<path d="M217.6 1941.1l2.3-19.8 2.8 0.4-2.5 17.2z" color="#2B4D79"/>
<path d="M805.4 2003.6l10.1 5.3 22.4-11.9-10.2-5.3z" color="#7527A9"/>
<path d="M600.1 1991l4.6 4.2 19.5-10-4.7-4.1z" color="#6E3BD7"/>
<path d="M268.6 1926.3l3.6-4.5 8.8-8.3-3.5 5.5z" color="#36678A"/>
<path d="M305.3 1889.7l3.4-10.7 12.1-5.1-3.5 9.6z" color="#44745F"/>
<path d="M320.8 1873.9l3.7-8.1 13.1-4.1-3.7 7z" color="#4E7B54"/>
<path d="M215.9 1941.4l2.2-21 1.8 0.9-2.3 19.8z" color="#294B73"/>
<path d="M473.1 1920.5l4.4 4.8 17.4-6.8-4.4-4.7z" color="#68BCF3"/>
<path d="M522 1962.8l4.6 6.7 18-8.7-4.5-6.5z" color="#6B7BFF"/>
<path d="M763.4 2004.2l10 5.6 21.9-11.6-10-5.5z" color="#7628AB"/>
<path d="M562.9 1981.5l4.5 4.9 18.8-9.4-4.6-4.8z" color="#644BF3"/>
<path d="M249.9 1934.2l4.3 7 6.7-7.4-4.1-3.2z" color="#65A5FF"/>
<path d="M368.5 1867.9l4.3 5.4 15-5-4.3-5z" color="#9EF1AB"/>
<path d="M420.5 1862.7l4.3 2.4 16.8-4-4.3-2.7z" color="#8AD185"/>
<path d="M235.3 1920.1l4.1 4.4 6.2 2-4.1-4z" color="#4D91C8"/>
<path d="M643 2000l4.7 3.4 20.2-10.4-4.8-3.3z" color="#722FBE"/>
<path d="M215.3 1940.3l2.1-22.3 0.7 2.4-2.2 21z" color="#234161"/>
<path d="M226.7 1922.6l3.3-6.8 5.3 4.3-3.5 3.7z" color="#2F5A76"/>
<path d="M722.4 2003.9l9.8 5.7 21.3-11.1-9.8-5.7z" color="#7529AE"/>
<path d="M604.7 1995.2l4.7 3.9 19.5-9.9-4.7-4z" color="#6F37D0"/>
<path d="M260.9 1933.8l3.7-2.8 7.6-9.2-3.6 4.5z" color="#376593"/>
<path d="M526.6 1969.5l4.5 5.8 18.1-8.8-4.6-5.7z" color="#686CFF"/>
<path d="M682.2 2002.7l9.7 6 20.7-10.7-9.6-6z" color="#752BB3"/>
<path d="M281 1913.5l3.3-10.4 10-6.9-3.4 9.8z" color="#3A6B72"/>
<path d="M477.5 1925.3l4.5 5.5 17.4-6.9-4.5-5.4z" color="#6BBCFD"/>
<path d="M239.4 1924.5l4.5 11 6-1.3-4.3-7.7z" color="#61A7F2"/>
<path d="M341.5 1858.4l4.2 1.4 14.1-3.6-4.1-1.7z" color="#86C474"/>
<path d="M396.2 1869.9l4.2-2.2 15.9-4.4-4.2 1.7z" color="#629965"/>
<path d="M567.4 1986.4l4.7 4.9 18.7-9.5-4.6-4.8z" color="#6746EE"/>
<path d="M241.3 1989.9l4.5 10.7 0.1-6.1-4.4-10z" color="#3D1D79"/>
<path d="M243.9 1935.5l4.6 12.1 5.7-6.4-4.3-7z" color="#73B0FF"/>
<path d="M424.8 1865.1l4.5 6.5 16.8-4.1-4.5-6.4z" color="#A7F8A9"/>
<path d="M372.8 1873.3l4.3 2.3 15-5.1-4.3-2.2z" color="#7FCA8E"/>
<path d="M254.2 1941.2l3.8 0.4 6.6-10.6-3.7 2.8z" color="#3A67A7"/>
<path d="M647.7 2003.4l4.8 3.2 20.1-10.3-4.7-3.3z" color="#732EBB"/>
<path d="M531.1 1975.3l4.6 5.3 18-8.9-4.5-5.2z" color="#6460FE"/>
<path d="M482 1930.8l4.5 6.8 17.4-7-4.5-6.7z" color="#71BCFF"/>
<path d="M241.5 1984.5l4.4 10 1.3-6.2-4.4-8.6z" color="#4429A3"/>
<path d="M609.4 1999.1l4.7 3.8 19.5-10-4.7-3.7z" color="#7035C9"/>
<path d="M429.3 1871.6l4.5 9.9 16.8-4.4-4.5-9.6z" color="#A0F3B5"/>
<path d="M438.4 1893.3l4.6 11.5 16.6-5.6-4.5-10.9z" color="#86E0D3"/>
<path d="M433.8 1881.5l4.6 11.8 16.7-5-4.5-11.2z" color="#90E7C0"/>
<path d="M443 1904.8l4.5 9.6 16.6-6.1-4.5-9.1z" color="#83DCE8"/>
<path d="M248.5 1947.6l4.2 5.7 5.3-11.7-3.8-0.4z" color="#436EC9"/>
<path d="M572.1 1991.3l4.6 4.7 18.7-9.5-4.6-4.7z" color="#6B42E6"/>
<path d="M815.5 2008.9l10.3 5.3 22.3-11.9-10.2-5.3z" color="#7627A9"/>
<path d="M345.7 1859.8l4.3 5.4 14.1-3.8-4.3-5.2z" color="#ABF699"/>
<path d="M222.7 1921.7l3-10.4 4.3 4.5-3.3 6.8z" color="#2C5467"/>
<path d="M242.8 1979.7l4.4 8.6 2.1-10.6-4.1-4z" color="#3D30A5"/>
<path d="M294.3 1896.2l3.3-12.2 11.1-5-3.4 10.7z" color="#42735F"/>
<path d="M243.8 1952l4.7 12.7 4.2-11.4-4.2-5.7z" color="#557CF6"/>
<path d="M486.5 1937.6l4.6 8.1 17.3-7.3-4.5-7.8z" color="#71B3FF"/>
<path d="M230 1915.8l4 3.9 5.4 4.8-4.1-4.4z" color="#4686A7"/>
<path d="M238.8 1933.7l5 18.3 4.7-4.4-4.6-12.1z" color="#5D95F4"/>
<path d="M447.5 1914.4l4.5 7.2 16.6-6.3-4.5-7z" color="#7DD6F5"/>
<path d="M240 1953.6l5.2 20.1 3.3-9-4.7-12.7z" color="#5A74F4"/>
<path d="M272.2 1921.8l3.3-11 8.8-7.7-3.3 10.4z" color="#386977"/>
<path d="M235.4 1959.8l5.9 30.1 0.2-5.4-5.7-27.9z" color="#3A3BA6"/>
<path d="M324.5 1865.8l3.8-4.2 13.2-3.2-3.9 3.3z" color="#5F8D55"/>
<path d="M535.7 1980.6l4.5 5 18.1-9-4.6-4.9z" color="#6357F9"/>
<path d="M237.3 1954.4l5.5 25.3 2.4-6-5.2-20.1z" color="#5465E5"/>
<path d="M773.4 2009.8l10.1 5.3 21.9-11.5-10.1-5.4z" color="#7627A9"/>
<path d="M491.1 1945.7l4.5 8.7 17.3-7.5-4.5-8.5z" color="#6EA5FF"/>
<path d="M235.8 1956.6l5.7 27.9 1.3-4.8-5.5-25.3z" color="#4F59D9"/>
<path d="M234 1919.7l4.8 14 5.1 1.8-4.5-11z" color="#549CD6"/>
<path d="M245.2 1973.7l4.1 4 2.9-15.2-3.7 2.2z" color="#323895"/>
<path d="M652.5 2006.6l4.8 3.3 20.1-10.4-4.8-3.2z" color="#742DB8"/>
<path d="M308.7 1879l3.5-9.5 12.3-3.7-3.7 8.1z" color="#4D7A53"/>
<path d="M377.1 1875.6l4.1-1 15-4.7-4.1 0.6z" color="#66A16F"/>
<path d="M400.4 1867.7l4.2-1.1 15.9-3.9-4.2 0.6z" color="#6CA365"/>
<path d="M614.1 2002.9l4.7 3.6 19.5-10-4.7-3.6z" color="#7132C4"/>
<path d="M350 1865.2l4.4 7.1 14.1-4.4-4.4-6.5z" color="#AEFEA9"/>
<path d="M576.7 1996l4.6 4.5 18.8-9.5-4.7-4.5z" color="#6E3EDE"/>
<path d="M732.2 2009.6l9.9 5.7 21.3-11.1-9.9-5.7z" color="#7628AC"/>
<path d="M495.6 1954.4l4.5 8.7 17.4-7.9-4.6-8.3z" color="#6B98FF"/>
<path d="M452 1921.6l4.5 5.4 16.6-6.5-4.5-5.2z" color="#70C6F2"/>
<path d="M691.9 2008.7l9.7 5.9 20.8-10.7-9.8-5.9z" color="#752AB0"/>
<path d="M219.9 1921.3l2.8-13 3 3-3 10.4z" color="#2F5865"/>
<path d="M264.6 1931l3.2-10.9 7.7-9.3-3.3 11z" color="#36677E"/>
<path d="M540.2 1985.6l4.6 4.9 18.1-9-4.6-4.9z" color="#6350F5"/>
<path d="M234.6 1929.8l5.4 23.8 3.8-1.6-5-18.3z" color="#528AE0"/>
<path d="M245.8 2000.6l2.5-20.2 0.2-4.3-2.6 18.4z" color="#322184"/>
<path d="M248.5 1964.7l3.7-2.2 3.9-16.4-3.4 7.2z" color="#304B9D"/>
<path d="M500.1 1963.1l4.6 7.9 17.3-8.2-4.5-7.6z" color="#6C8AFF"/>
<path d="M354.4 1872.3l4.3 5.8 14.1-4.8-4.3-5.4z" color="#A3F6AC"/>
<path d="M657.3 2009.9l4.8 3.1 20.1-10.3-4.8-3.2z" color="#742CB5"/>
<path d="M618.8 2006.5l4.7 3.5 19.5-10-4.7-3.5z" color="#7230C0"/>
<path d="M252.7 1953.3l3.4-7.2 5.2-14.4-3.3 9.9z" color="#335993"/>
<path d="M456.5 1927l4.4 4.8 16.6-6.5-4.4-4.8z" color="#68BDF1"/>
<path d="M245.9 1994.5l2.6-18.4 1.3-5.7-2.6 17.9z" color="#312886"/>
<path d="M258 1941.6l3.3-9.9 6.5-11.6-3.2 10.9z" color="#346288"/>
<path d="M581.3 2000.5l4.7 4.2 18.7-9.5-4.6-4.2z" color="#6F3AD6"/>
<path d="M504.7 1971l4.5 6.8 17.4-8.3-4.6-6.7z" color="#6C7BFF"/>
<path d="M218.1 1920.4l2.8-13.9 1.8 1.8-2.8 13z" color="#2F5761"/>
<path d="M225.7 1911.3l4 2.4 4.3 6-4-3.9z" color="#448090"/>
<path d="M284.3 1903.1l3.2-13.9 10.1-5.2-3.3 12.2z" color="#417261"/>
<path d="M328.3 1861.6l4.1 1.2 13.3-3-4.2-1.4z" color="#85C06F"/>
<path d="M404.6 1866.6l4.3 2.1 15.9-3.6-4.3-2.4z" color="#8ACD7D"/>
<path d="M544.8 1990.5l4.6 5 18-9.1-4.5-4.9z" color="#6449F2"/>
<path d="M229.7 1913.7l4.9 16.1 4.2 3.9-4.8-14z" color="#539EC5"/>
<path d="M231.6 1926.7l5.7 27.7 2.7-0.8-5.4-23.8z" color="#518CDA"/>
<path d="M358.7 1878.1l4.3 2.5 14.1-5-4.3-2.3z" color="#82CC8E"/>
<path d="M381.2 1874.6l4.1-2.7 15.1-4.2-4.2 2.2z" color="#619560"/>
<path d="M217.4 1918l2.7-14.3 0.8 2.8-2.8 13.9z" color="#2D5359"/>
<path d="M247.2 1988.3l2.6-17.9 2-12.4-2.5 19.7z" color="#2F358C"/>
<path d="M509.2 1977.8l4.6 6 17.3-8.5-4.5-5.8z" color="#696CFF"/>
<path d="M460.9 1931.8l4.5 5.5 16.6-6.5-4.5-5.5z" color="#6CBEFC"/>
<path d="M586 2004.7l4.6 4 18.8-9.6-4.7-3.9z" color="#7037CE"/>
<path d="M229.9 1926.5l5.9 30.1 1.5-2.2-5.7-27.7z" color="#528ED7"/>
<path d="M623.5 2010l4.8 3.3 19.4-9.9-4.7-3.4z" color="#732FBC"/>
<path d="M783.5 2015.1l10.2 5.4 21.8-11.6-10.1-5.3z" color="#7527A8"/>
<path d="M229.4 1926.8l6 33 0.4-3.2-5.9-30.1z" color="#4D85CD"/>
<path d="M549.4 1995.5l4.6 4.9 18.1-9.1-4.7-4.9z" color="#6845EC"/>
<path d="M408.9 1868.7l4.4 6.4 16-3.5-4.5-6.5z" color="#AAF9A2"/>
<path d="M297.6 1884l3.4-11.2 11.2-3.3-3.5 9.5z" color="#4D7851"/>
<path d="M332.4 1862.8l4.3 5.7 13.3-3.3-4.3-5.4z" color="#AFF797"/>
<path d="M312.2 1869.5l3.8-5.2 12.3-2.7-3.8 4.2z" color="#5C8750"/>
<path d="M742.1 2015.3l10 5.7 21.3-11.2-10-5.6z" color="#7628AB"/>
<path d="M465.4 1937.3l4.5 6.9 16.6-6.6-4.5-6.8z" color="#71BEFF"/>
<path d="M513.8 1983.8l4.6 5.3 17.3-8.5-4.6-5.3z" color="#655FFE"/>
<path d="M222.7 1908.3l3.9 1.1 3.1 4.3-4-2.4z" color="#447C7F"/>
<path d="M422.5 1897.8l4.6 12.1 15.9-5.1-4.6-11.5z" color="#86E0CD"/>
<path d="M701.6 2014.6l9.9 5.8 20.7-10.8-9.8-5.7z" color="#7629AD"/>
<path d="M427.1 1909.9l4.6 10.1 15.8-5.6-4.5-9.6z" color="#83DCE4"/>
<path d="M413.3 1875.1l4.6 10.3 15.9-3.9-4.5-9.9z" color="#A2F4AF"/>
<path d="M417.9 1885.4l4.6 12.4 15.9-4.5-4.6-11.8z" color="#91E7BA"/>
<path d="M662.1 2013l9.7 6.1 20.1-10.4-9.7-6z" color="#752BB2"/>
<path d="M249.3 1977.7l2.5-19.7 2.8-17.1-2.4 21.6z" color="#2D4792"/>
<path d="M275.5 1910.8l3-15.8 9-5.8-3.2 13.9z" color="#3F7063"/>
<path d="M226.6 1909.4l5 17.3 3 3.1-4.9-16.1z" color="#59A6BD"/>
<path d="M336.7 1868.5l4.5 7.8 13.2-4-4.4-7.1z" color="#B1FFA7"/>
<path d="M363 1880.6l4.1-1.3 14.1-4.7-4.1 1z" color="#669F6B"/>
<path d="M431.7 1920l4.5 7.6 15.8-6-4.5-7.2z" color="#7FD7F4"/>
<path d="M469.9 1944.2l4.6 8.3 16.6-6.8-4.6-8.1z" color="#71B4FF"/>
<path d="M590.6 2008.7l4.7 3.8 18.8-9.6-4.7-3.8z" color="#7134C8"/>
<path d="M554 2000.4l4.6 4.7 18.1-9.1-4.6-4.7z" color="#6C42E5"/>
<path d="M628.3 2013.3l4.7 3.3 19.5-10-4.8-3.2z" color="#742EB9"/>
<path d="M518.4 1989.1l4.5 5.1 17.3-8.6-4.5-5z" color="#6355F8"/>
<path d="M385.3 1871.9l4.1-1.8 15.2-3.5-4.2 1.1z" color="#6B9E5F"/>
<path d="M474.5 1952.5l4.5 9 16.6-7.1-4.5-8.7z" color="#6DA6FF"/>
<path d="M220.9 1906.5l3.9 1.2 1.8 1.7-3.9-1.1z" color="#457E79"/>
<path d="M341.2 1876.3l4.4 6.6 13.1-4.8-4.3-5.8z" color="#A9FBAE"/>
<path d="M436.2 1927.6l4.5 5.4 15.8-6-4.5-5.4z" color="#71C8F1"/>
<path d="M224.8 1907.7l5.1 18.8 1.7 0.2-5-17.3z" color="#63B3C2"/>
<path d="M479 1961.5l4.6 9 16.5-7.4-4.5-8.7z" color="#6B98FF"/>
<path d="M252.2 1962.5l2.4-21.6 4-16.6-2.5 21.8z" color="#315987"/>
<path d="M267.8 1920.1l2.8-18.1 7.9-7-3 15.8z" color="#3D6E67"/>
<path d="M220.1 1903.7l4 2.1 0.7 1.9-3.9-1.2z" color="#40746C"/>
<path d="M316 1864.3l4.1 0.8 12.3-2.3-4.1-1.2z" color="#84BA69"/>
<path d="M558.6 2005.1l4.7 4.6 18-9.2-4.6-4.5z" color="#6F3EDC"/>
<path d="M224.1 1905.8l5.3 21 0.5-0.3-5.1-18.8z" color="#5EACB6"/>
<path d="M595.3 2012.5l4.7 3.6 18.8-9.6-4.7-3.6z" color="#7232C3"/>
<path d="M483.6 1970.5l4.6 8.2 16.5-7.7-4.6-7.9z" color="#6C89FF"/>
<path d="M522.9 1994.2l4.6 4.9 17.3-8.6-4.6-4.9z" color="#634EF4"/>
<path d="M633 2016.6l4.8 3.3 19.5-10-4.8-3.3z" color="#742DB7"/>
<path d="M287.5 1889.2l3.2-13.4 10.3-3-3.4 11.2z" color="#4C7750"/>
<path d="M345.6 1882.9l4.2 2.8 13.2-5.1-4.3-2.5z" color="#85D190"/>
<path d="M793.7 2020.5l10.2 5.4 21.9-11.7-10.3-5.3z" color="#7627A8"/>
<path d="M440.7 1933l4.4 4.8 15.8-6-4.4-4.8z" color="#69BEEF"/>
<path d="M256.1 1946.1l2.5-21.8 5.3-12.9-2.6 20.3z" color="#35657B"/>
<path d="M261.3 1931.7l2.6-20.3 6.7-9.4-2.8 18.1z" color="#3A6A6F"/>
<path d="M488.2 1978.7l4.5 7.1 16.5-8-4.5-6.8z" color="#6D7BFF"/>
<path d="M367.1 1879.3l4-3.4 14.2-4-4.1 2.7z" color="#5F915B"/>
<path d="M752.1 2021l10.1 5.4 21.3-11.3-10.1-5.3z" color="#7627A9"/>
<path d="M301 1872.8l3.6-6.6 11.4-1.9-3.8 5.2z" color="#587F4A"/>
<path d="M389.4 1870.1l4.3 1.6 15.2-3-4.3-2.1z" color="#89C775"/>
<path d="M711.5 2020.4l9.9 5.8 20.7-10.9-9.9-5.7z" color="#7628AC"/>
<path d="M671.8 2019.1l9.7 5.9 20.1-10.4-9.7-5.9z" color="#7529AF"/>
<path d="M563.3 2009.7l4.6 4.2 18.1-9.2-4.7-4.2z" color="#703AD4"/>
<path d="M320.1 1865.1l4.3 6.1 12.3-2.7-4.3-5.7z" color="#B3F894"/>
<path d="M527.5 1999.1l4.6 5 17.3-8.6-4.6-5z" color="#6448F2"/>
<path d="M600 2016.1l4.8 3.5 18.7-9.6-4.7-3.5z" color="#7330BF"/>
<path d="M492.7 1985.8l4.6 6.1 16.5-8.1-4.6-6z" color="#696BFF"/>
<path d="M445.1 1937.8l4.5 5.5 15.8-6-4.5-5.5z" color="#6CC0FA"/>
<path d="M637.8 2019.9l4.8 3.1 19.5-10-4.8-3.1z" color="#752CB4"/>
<path d="M324.4 1871.2l4.5 8.7 12.3-3.6-4.5-7.8z" color="#B3FFA4"/>
<path d="M393.7 1871.7l4.5 6.3 15.1-2.9-4.4-6.4z" color="#AEF99C"/>
<path d="M349.8 1885.7l4.1-1.6 13.2-4.8-4.1 1.3z" color="#659D69"/>
<path d="M532.1 2004.1l4.6 5 17.3-8.7-4.6-4.9z" color="#6945EB"/>
<path d="M567.9 2013.9l4.7 4 18-9.2-4.6-4z" color="#7136CD"/>
<path d="M412.1 1914.6l4.6 10.8 15-5.4-4.6-10.1z" color="#83DCE0"/>
<path d="M407.5 1901.8l4.6 12.8 15-4.7-4.6-12.1z" color="#86E0C7"/>
<path d="M449.6 1943.3l4.6 7 15.7-6.1-4.5-6.9z" color="#72C0FF"/>
<path d="M497.3 1991.9l4.6 5.4 16.5-8.2-4.6-5.3z" color="#655EFE"/>
<path d="M328.9 1879.9l4.5 7.6 12.2-4.6-4.4-6.6z" color="#ADFFB0"/>
<path d="M402.8 1888.7l4.7 13.1 15-4-4.6-12.4z" color="#93E6B3"/>
<path d="M398.2 1878l4.6 10.7 15.1-3.3-4.6-10.3z" color="#A5F4A7"/>
<path d="M604.8 2019.6l4.7 3.4 18.8-9.7-4.8-3.3z" color="#732EBB"/>
<path d="M278.5 1895l3-16.5 9.2-2.7-3.2 13.4z" color="#4B7550"/>
<path d="M416.7 1925.4l4.6 7.9 14.9-5.7-4.5-7.6z" color="#80D9F3"/>
<path d="M454.2 1950.3l4.5 8.5 15.8-6.3-4.6-8.3z" color="#71B5FF"/>
<path d="M371.1 1875.9l4.1-2.7 14.2-3.1-4.1 1.8z" color="#699859"/>
<path d="M304.6 1866.2l4.1 0.1 11.4-1.2-4.1-0.8z" color="#80B060"/>
<path d="M248.3 1980.4l0.5-51.4 0.5-0.4-0.8 47.5z" color="#2D5080"/>
<path d="M458.7 1958.8l4.6 9.4 15.7-6.7-4.5-9z" color="#6DA6FF"/>
<path d="M536.7 2009.1l4.6 4.7 17.3-8.7-4.6-4.7z" color="#6D41E3"/>
<path d="M248.5 1976.1l0.8-47.5 1.5-2.8-1 44.6z" color="#2C507B"/>
<path d="M501.9 1997.3l4.5 5.1 16.5-8.2-4.5-5.1z" color="#6354F8"/>
<path d="M421.3 1933.3l4.4 5.5 15-5.8-4.5-5.4z" color="#73CAF1"/>
<path d="M333.4 1887.5l4.2 3.4 12.2-5.2-4.2-2.8z" color="#8AD895"/>
<path d="M572.6 2017.9l4.7 3.8 18-9.2-4.7-3.8z" color="#7233C6"/>
<path d="M642.6 2023l9.7 6.1 19.5-10-9.7-6.1z" color="#752AB1"/>
<path d="M463.3 1968.2l4.6 9.4 15.7-7.1-4.6-9z" color="#6A98FF"/>
<path d="M762.2 2026.4l10.2 5.4 21.3-11.3-10.2-5.4z" color="#7527A8"/>
<path d="M290.7 1875.8l3.5-8.7 10.4-0.9-3.6 6.6z" color="#587C46"/>
<path d="M681.5 2025l9.8 5.8 20.2-10.4-9.9-5.8z" color="#7629AD"/>
<path d="M721.4 2026.2l10 5.7 20.7-10.9-10-5.7z" color="#7728AA"/>
<path d="M609.5 2023l4.8 3.3 18.7-9.7-4.7-3.3z" color="#742DB8"/>
<path d="M249.8 1970.4l1-44.6 2.2-9.7-1.2 41.9z" color="#305C7C"/>
<path d="M467.9 1977.6l4.6 8.5 15.7-7.4-4.6-8.2z" color="#6C89FF"/>
<path d="M353.9 1884.1l4-4.3 13.2-3.9-4 3.4z" color="#5D8C56"/>
<path d="M308.7 1866.3l4.4 6.6 11.3-1.7-4.3-6.1z" color="#B6F78F"/>
<path d="M506.4 2002.4l4.6 5 16.5-8.3-4.6-4.9z" color="#634DF4"/>
<path d="M425.7 1938.8l4.5 4.8 14.9-5.8-4.4-4.8z" color="#69BEED"/>
<path d="M270.6 1902l2.7-20.5 8.2-3-3 16.5z" color="#497450"/>
<path d="M541.3 2013.8l4.7 4.6 17.3-8.7-4.7-4.6z" color="#703DDB"/>
<path d="M472.5 1986.1l4.6 7.3 15.6-7.6-4.5-7.1z" color="#6D7AFF"/>
<path d="M577.3 2021.7l4.7 3.7 18-9.3-4.7-3.6z" color="#7331C2"/>
<path d="M375.2 1873.2l4.3 1 14.2-2.5-4.3-1.6z" color="#87BE6C"/>
<path d="M313.1 1872.9l4.5 10.1 11.3-3.1-4.5-8.7z" color="#B4FC9E"/>
<path d="M251.8 1958l1.2-41.9 3.1-13-1.5 37.8z" color="#376772"/>
<path d="M337.6 1890.9l4.1-1.8 12.2-5-4.1 1.6z" color="#649C68"/>
<path d="M614.3 2026.3l4.7 3.2 18.8-9.6-4.8-3.3z" color="#752CB5"/>
<path d="M317.6 1883l4.6 9.1 11.2-4.6-4.5-7.6z" color="#B0FFAF"/>
<path d="M430.2 1943.6l4.5 5.4 14.9-5.7-4.5-5.5z" color="#6CC1F9"/>
<path d="M477.1 1993.4l4.5 6.2 15.7-7.7-4.6-6.1z" color="#6A6BFF"/>
<path d="M511 2007.4l4.6 5 16.5-8.3-4.6-5z" color="#6547F1"/>
<path d="M546 2018.4l4.6 4.3 17.3-8.8-4.6-4.2z" color="#7239D3"/>
<path d="M263.9 1911.4l2.4-25.8 7-4.1-2.7 20.5z" color="#477353"/>
<path d="M582 2025.4l4.7 3.5 18.1-9.3-4.8-3.5z" color="#742FBD"/>
<path d="M398 1918.9l4.7 11.5 14-5-4.6-10.8z" color="#83DCDB"/>
<path d="M254.6 1940.9l1.5-37.8 4.4-10.6-1.9 31.8z" color="#3D6F65"/>
<path d="M379.5 1874.2l4.4 6.1 14.3-2.3-4.5-6.3z" color="#B1F795"/>
<path d="M393.3 1905.2l4.7 13.7 14.1-4.3-4.6-12.8z" color="#86DEC1"/>
<path d="M294.2 1867.1l4-0.8 10.5 0-4.1-0.1z" color="#7CA657"/>
<path d="M322.2 1892.1l4.3 4.4 11.1-5.6-4.2-3.4z" color="#93E39F"/>
<path d="M434.7 1949l4.5 7 15-5.7-4.6-7z" color="#72C1FF"/>
<path d="M652.3 2029.1l9.7 6 19.5-10.1-9.7-5.9z" color="#7529AE"/>
<path d="M402.7 1930.4l4.5 8.3 14.1-5.4-4.6-7.9z" color="#81DBF1"/>
<path d="M258.6 1924.3l1.9-31.8 5.8-6.9-2.4 25.8z" color="#44725A"/>
<path d="M481.6 1999.6l4.6 5.5 15.7-7.8-4.6-5.4z" color="#665DFE"/>
<path d="M281.5 1878.5l3.3-11.6 9.4 0.2-3.5 8.7z" color="#577943"/>
<path d="M388.6 1891.4l4.7 13.8 14.2-3.4-4.7-13.1z" color="#94E5AB"/>
<path d="M515.6 2012.4l4.6 4.9 16.5-8.2-4.6-5z" color="#6A44EA"/>
<path d="M772.4 2031.8l10.2 5.5 21.3-11.4-10.2-5.4z" color="#7627A8"/>
<path d="M619 2029.5l4.8 3.2 18.8-9.7-4.8-3.1z" color="#752BB3"/>
<path d="M691.3 2030.8l9.9 5.9 20.2-10.5-9.9-5.8z" color="#7728AB"/>
<path d="M383.9 1880.3l4.7 11.1 14.2-2.7-4.6-10.7z" color="#A8F49F"/>
<path d="M731.4 2031.9l10.1 5.5 20.7-11-10.1-5.4z" color="#7627A8"/>
<path d="M357.9 1879.8l4-3.8 13.3-2.8-4.1 2.7z" color="#669153"/>
<path d="M550.6 2022.7l4.7 4 17.3-8.8-4.7-4z" color="#7236CB"/>
<path d="M439.2 1956l4.6 8.7 14.9-5.9-4.5-8.5z" color="#71B7FF"/>
<path d="M407.2 1938.7l4.5 5.7 14-5.6-4.4-5.5z" color="#74CBF0"/>
<path d="M443.8 1964.7l4.6 9.8 14.9-6.3-4.6-9.4z" color="#6DA7FF"/>
<path d="M586.7 2028.9l4.7 3.3 18.1-9.2-4.7-3.4z" color="#742DB9"/>
<path d="M486.2 2005.1l4.6 5.1 15.6-7.8-4.5-5.1z" color="#6453F7"/>
<path d="M298.2 1866.3l4.4 7.1 10.5-0.5-4.4-6.6z" color="#B7F286"/>
<path d="M341.7 1889.1l3.9-5.4 12.3-3.9-4 4.3z" color="#5A8652"/>
<path d="M448.4 1974.5l4.6 9.7 14.9-6.6-4.6-9.4z" color="#6A97FF"/>
<path d="M520.2 2017.3l4.7 4.9 16.4-8.4-4.6-4.7z" color="#6E41E2"/>
<path d="M326.5 1896.5l4-1.9 11.2-5.5-4.1 1.8z" color="#639B68"/>
<path d="M302.6 1873.4l4.7 11.8 10.3-2.2-4.5-10.1z" color="#B1F594"/>
<path d="M453 1984.2l4.7 8.8 14.8-6.9-4.6-8.5z" color="#6C89FF"/>
<path d="M555.3 2026.7l4.7 3.9 17.3-8.9-4.7-3.8z" color="#7333C5"/>
<path d="M307.3 1885.2l4.7 11.3 10.2-4.4-4.6-9.1z" color="#ADFBAA"/>
<path d="M411.7 1944.4l4.5 4.5 14-5.3-4.5-4.8z" color="#69BEEA"/>
<path d="M490.8 2010.2l4.6 5 15.6-7.8-4.6-5z" color="#634CF3"/>
<path d="M457.7 1993l4.5 7.6 14.9-7.2-4.6-7.3z" color="#6E7AFF"/>
<path d="M312 1896.5l4.3 6.1 10.2-6.1-4.3-4.4z" color="#A1F5B0"/>
<path d="M623.8 2032.7l9.7 6.1 18.8-9.7-9.7-6.1z" color="#752AB0"/>
<path d="M591.4 2032.2l4.8 3.3 18.1-9.2-4.8-3.3z" color="#742CB6"/>
<path d="M524.9 2022.2l4.6 4.6 16.5-8.4-4.7-4.6z" color="#713DDA"/>
<path d="M361.9 1876l4.2 0.1 13.4-1.9-4.3-1z" color="#81B161"/>
<path d="M281.2 2007.4l4.9 16.3 0-10.3-5-16.2z" color="#312282"/>
<path d="M273.3 1881.5l3-16.1 8.5 1.5-3.3 11.6z" color="#57763F"/>
<path d="M662 2035.1l9.9 5.9 19.4-10.2-9.8-5.8z" color="#7628AC"/>
<path d="M416.2 1948.9l4.4 5.3 14.1-5.2-4.5-5.4z" color="#6BC0F5"/>
<path d="M284.8 1866.9l3.9-2.5 9.5 1.9-4 0.8z" color="#76984B"/>
<path d="M462.2 2000.6l4.6 6.4 14.8-7.4-4.5-6.2z" color="#6B6AFF"/>
<path d="M560 2030.6l4.7 3.6 17.3-8.8-4.7-3.7z" color="#7431C0"/>
<path d="M701.2 2036.7l10 5.9 20.2-10.7-10-5.7z" color="#7728AA"/>
<path d="M495.4 2015.2l4.6 5 15.6-7.8-4.6-5z" color="#6546EF"/>
<path d="M741.5 2037.4l10.1 5.4 20.8-11-10.2-5.4z" color="#7527A7"/>
<path d="M384.8 1922.8l4.7 12.4 13.2-4.8-4.7-11.5z" color="#82DBD6"/>
<path d="M389.5 1935.2l4.6 8.8 13.1-5.3-4.5-8.3z" color="#82DCF0"/>
<path d="M529.5 2026.8l4.7 4.3 16.4-8.4-4.6-4.3z" color="#7339D2"/>
<path d="M380 1907.9l4.8 14.9 13.2-3.9-4.7-13.7z" color="#87DCB9"/>
<path d="M420.6 1954.2l4.6 7 14-5.2-4.5-7z" color="#72C3FF"/>
<path d="M596.2 2035.5l4.8 3.2 18-9.2-4.7-3.2z" color="#752CB4"/>
<path d="M366.1 1876.1l4.5 5.8 13.3-1.6-4.4-6.1z" color="#B4F48C"/>
<path d="M345.6 1883.7l4-5.1 12.3-2.6-4 3.8z" color="#62894D"/>
<path d="M281.1 1997.2l5 16.2 1-10.8-4.8-14.3z" color="#3739A0"/>
<path d="M466.8 2007l4.6 5.5 14.8-7.4-4.6-5.5z" color="#665CFE"/>
<path d="M316.3 1902.6l4.1-1.6 10.1-6.4-4 1.9z" color="#639C6B"/>
<path d="M375.3 1893.3l4.7 14.6 13.3-2.7-4.7-13.8z" color="#96E4A3"/>
<path d="M330.5 1894.6l3.8-6.6 11.3-4.3-3.9 5.4z" color="#57824F"/>
<path d="M394.1 1944l4.5 5.7 13.1-5.3-4.5-5.7z" color="#75CDF0"/>
<path d="M297.9 1886l4.9 14.6 9.2-4.1-4.7-11.3z" color="#A4EF9E"/>
<path d="M370.6 1881.9l4.7 11.4 13.3-1.9-4.7-11.1z" color="#ABF398"/>
<path d="M288.7 1864.4l4.4 7.4 9.5 1.6-4.4-7.1z" color="#B4E776"/>
<path d="M500 2020.2l4.6 5 15.6-7.9-4.6-4.9z" color="#6B44E9"/>
<path d="M564.7 2034.2l4.7 3.6 17.3-8.9-4.7-3.5z" color="#752FBC"/>
<path d="M425.2 1961.2l4.6 8.9 14-5.4-4.6-8.7z" color="#71B8FF"/>
<path d="M302.8 1900.6l4.5 8.9 9-6.9-4.3-6.1z" color="#ADFFC1"/>
<path d="M293.1 1871.8l4.8 14.2 9.4-0.8-4.7-11.8z" color="#ACE986"/>
<path d="M429.8 1970.1l4.6 10.1 14-5.7-4.6-9.8z" color="#6CA7FF"/>
<path d="M266.3 1885.6l2.6-22.6 7.4 2.4-3 16.1z" color="#58753D"/>
<path d="M534.2 2031.1l4.6 4.1 16.5-8.5-4.7-4z" color="#7335CA"/>
<path d="M471.4 2012.5l4.6 5.1 14.8-7.4-4.6-5.1z" color="#6351F6"/>
<path d="M434.4 1980.2l4.7 10.1 13.9-6.1-4.6-9.7z" color="#6997FF"/>
<path d="M282.3 1988.3l4.8 14.3 1.8-16.7-4.4-7.8z" color="#354CA9"/>
<path d="M601 2038.7l4.8 3.2 18-9.2-4.8-3.2z" color="#752BB2"/>
<path d="M633.5 2038.8l9.8 6 18.7-9.7-9.7-6z" color="#7629AD"/>
<path d="M439.1 1990.3l4.6 9.3 14-6.6-4.7-8.8z" color="#6C88FF"/>
<path d="M398.6 1949.7l4.4 4.3 13.2-5.1-4.5-4.5z" color="#67BCE6"/>
<path d="M504.6 2025.2l4.6 4.8 15.7-7.8-4.7-4.9z" color="#6F40E1"/>
<path d="M286.1 2023.7l2.3-30 0.1-6.8-2.4 26.5z" color="#2F2F89"/>
<path d="M569.4 2037.8l4.8 3.3 17.2-8.9-4.7-3.3z" color="#742DB7"/>
<path d="M671.9 2041l9.9 5.9 19.4-10.2-9.9-5.9z" color="#7728AB"/>
<path d="M443.7 1999.6l4.6 7.8 13.9-6.8-4.5-7.6z" color="#6E7AFF"/>
<path d="M307.3 1909.5l4.1-0.6 9-7.9-4.1 1.6z" color="#63A073"/>
<path d="M276.3 1865.4l3.7-5.5 8.7 4.5-3.9 2.5z" color="#6B853D"/>
<path d="M476 2017.6l4.5 5 14.9-7.4-4.6-5z" color="#634AF2"/>
<path d="M711.2 2042.6l10.1 5.5 20.2-10.7-10.1-5.5z" color="#7627A7"/>
<path d="M538.8 2035.2l4.7 3.8 16.5-8.4-4.7-3.9z" color="#7432C4"/>
<path d="M349.6 1878.6l4.1-1.2 12.4-1.3-4.2-0.1z" color="#7CA657"/>
<path d="M751.6 2042.8l10.3 5.6 20.7-11.1-10.2-5.5z" color="#7627A8"/>
<path d="M294.6 1903.8l4.8 13.4 7.9-7.7-4.5-8.9z" color="#A4F8BE"/>
<path d="M403 1954l4.5 4.9 13.1-4.7-4.4-5.3z" color="#6ABFF1"/>
<path d="M260.5 1892.5l2-31.6 6.4 2.1-2.6 22.6z" color="#58743C"/>
<path d="M448.3 2007.4l4.6 6.5 13.9-6.9-4.6-6.4z" color="#6C6AFF"/>
<path d="M509.2 2030l4.6 4.7 15.7-7.9-4.6-4.6z" color="#723CD9"/>
<path d="M320.4 1901l3.7-7.9 10.2-5.1-3.8 6.6z" color="#568250"/>
<path d="M286.1 2013.4l2.4-26.5 1.2-8.8-2.6 24.5z" color="#2E3D8E"/>
<path d="M289.5 1884.4l5.1 19.4 8.2-3.2-4.9-14.6z" color="#99E08E"/>
<path d="M372.6 1926.1l4.7 13.5 12.2-4.4-4.7-12.4z" color="#80D9D0"/>
<path d="M284.5 1978.1l4.4 7.8 2.7-22.5-4 0.9z" color="#325891"/>
<path d="M273.6 1947.9l7.6 59.5-0.1-10.2-7.3-55.7z" color="#3963A5"/>
<path d="M377.3 1939.6l4.6 9.5 12.2-5.1-4.6-8.8z" color="#83DCEE"/>
<path d="M334.3 1888l3.9-6.9 11.4-2.5-4 5.1z" color="#5D8147"/>
<path d="M574.2 2041.1l4.7 3.3 17.3-8.9-4.8-3.3z" color="#752CB5"/>
<path d="M480.5 2022.6l4.7 5 14.8-7.4-4.6-5z" color="#6646EE"/>
<path d="M367.7 1909.9l4.9 16.2 12.2-3.3-4.8-14.9z" color="#87DAB1"/>
<path d="M299.4 1917.2l4.2 1.9 7.8-10.2-4.1 0.6z" color="#64A680"/>
<path d="M605.8 2041.9l9.6 6.2 18.1-9.3-9.7-6.1z" color="#762AAF"/>
<path d="M407.5 1958.9l4.6 6.9 13.1-4.6-4.6-7z" color="#72C4FF"/>
<path d="M543.5 2039l4.7 3.7 16.5-8.5-4.7-3.6z" color="#7530BF"/>
<path d="M381.9 1949.1l4.5 5.7 12.2-5.1-4.5-5.7z" color="#76CEF0"/>
<path d="M284.5 1867.3l5 17.1 8.4 1.6-4.8-14.2z" color="#A9DD75"/>
<path d="M280 1859.9l4.5 7.4 8.6 4.5-4.4-7.4z" color="#AED561"/>
<path d="M452.9 2013.9l4.6 5.6 13.9-7-4.6-5.5z" color="#665BFD"/>
<path d="M256.1 1903.1l1.3-42.2 5.1 0-2 31.6z" color="#57753D"/>
<path d="M353.7 1877.4l4.4 5.2 12.5-0.7-4.5-5.8z" color="#B4EF81"/>
<path d="M250.8 1925.8l0.1-59.3 2.7-2.7-0.6 52.3z" color="#4E7446"/>
<path d="M273.8 1941.5l7.3 55.7 1.2-8.9-7-50.9z" color="#4C88C5"/>
<path d="M249.3 1928.6l-0.2-63.6 1.8 1.5-0.1 59.3z" color="#486D44"/>
<path d="M513.8 2034.7l4.7 4.3 15.7-7.9-4.7-4.3z" color="#7338D1"/>
<path d="M253 1916.1l0.6-52.3 3.8-2.9-1.3 42.2z" color="#547642"/>
<path d="M362.8 1894.2l4.9 15.7 12.3-2-4.7-14.6z" color="#97E29A"/>
<path d="M287.4 1904.8l5.2 20.6 6.8-8.2-4.8-13.4z" color="#8EDEAC"/>
<path d="M278.1 1937.5l6.4 40.6 3.1-13.8-5.6-27.1z" color="#59A1C7"/>
<path d="M275.3 1937.4l7 50.9 2.2-10.2-6.4-40.6z" color="#5195C7"/>
<path d="M292.6 1925.4l4.4 6.7 6.6-13-4.2-1.9z" color="#6CBA9F"/>
<path d="M412.1 1965.8l4.6 9 13.1-4.7-4.6-8.9z" color="#71BAFF"/>
<path d="M282 1937.2l5.6 27.1 4.1-16.5-4.9-15z" color="#64B1C4"/>
<path d="M358.1 1882.6l4.7 11.6 12.5-0.9-4.7-11.4z" color="#AFF190"/>
<path d="M643.3 2044.8l9.8 5.9 18.8-9.7-9.9-5.9z" color="#7628AC"/>
<path d="M286.8 1932.8l4.9 15 5.3-15.7-4.4-6.7z" color="#6EC0BA"/>
<path d="M248.8 1929l-0.6-68.6 0.9 4.6 0.2 63.6z" color="#41623C"/>
<path d="M287.1 2002.6l2.6-24.5 1.8-17.6-2.6 25.4z" color="#2F4F8F"/>
<path d="M485.2 2027.6l4.6 4.9 14.8-7.3-4.6-5z" color="#6B43E7"/>
<path d="M416.7 1974.8l4.6 10.5 13.1-5.1-4.6-10.1z" color="#6CA7FF"/>
<path d="M421.3 1985.3l4.7 10.6 13.1-5.6-4.7-10.1z" color="#6897FF"/>
<path d="M578.9 2044.4l4.8 3.2 17.3-8.9-4.8-3.2z" color="#752BB3"/>
<path d="M287.6 1964.3l4-0.9 3.8-22.7-3.7 7.1z" color="#3A6F88"/>
<path d="M311.4 1908.9l3.6-9.2 9.1-6.6-3.7 7.9z" color="#548153"/>
<path d="M457.5 2019.5l4.5 5 14-6.9-4.6-5.1z" color="#6350F5"/>
<path d="M386.4 1954.8l4.4 4 12.2-4.8-4.4-4.3z" color="#65B9E2"/>
<path d="M681.8 2046.9l10 5.9 19.4-10.2-10-5.9z" color="#7727AA"/>
<path d="M426 1995.9l4.7 9.7 13-6-4.6-9.3z" color="#6B88FF"/>
<path d="M548.2 2042.7l4.7 3.6 16.5-8.5-4.7-3.6z" color="#752EBB"/>
<path d="M268.9 1863l3.4-10.6 7.7 7.5-3.7 5.5z" color="#607030"/>
<path d="M518.5 2039l4.7 4.1 15.6-7.9-4.6-4.1z" color="#7435C9"/>
<path d="M721.3 2048.1l10.2 5.4 20.1-10.7-10.1-5.4z" color="#7526A7"/>
<path d="M281.9 1878.7l5.5 26.1 7.2-1-5.1-19.4z" color="#96D57F"/>
<path d="M430.7 2005.6l4.6 8.2 13-6.4-4.6-7.8z" color="#6F7AFF"/>
<path d="M281 1901.7l5.8 31.1 5.8-7.4-5.2-20.6z" color="#7DC99C"/>
<path d="M489.8 2032.5l4.6 4.9 14.8-7.4-4.6-4.8z" color="#7040E0"/>
<path d="M338.2 1881.1l4-2.9 11.5-0.8-4.1 1.2z" color="#769A4E"/>
<path d="M462 2024.5l4.6 5 13.9-6.9-4.5-5z" color="#6349F1"/>
<path d="M324.1 1893.1l3.7-9.2 10.4-2.8-3.9 6.9z" color="#5D7F45"/>
<path d="M390.8 1958.8l4.5 4.5 12.2-4.4-4.5-4.9z" color="#67BCEB"/>
<path d="M366.1 1943.8l4.6 10.3 11.2-5-4.6-9.5z" color="#82DBEC"/>
<path d="M303.6 1919.1l3.5-10.1 7.9-9.3-3.6 9.2z" color="#52815A"/>
<path d="M361.2 1928.7l4.9 15.1 11.2-4.2-4.7-13.5z" color="#7ED6C9"/>
<path d="M291.7 1947.8l3.7-7.1 5.1-18.4-3.5 9.8z" color="#457D76"/>
<path d="M583.7 2047.6l4.8 3.2 17.3-8.9-4.8-3.2z" color="#762AB1"/>
<path d="M435.3 2013.8l4.6 6.6 13-6.5-4.6-6.5z" color="#6C69FF"/>
<path d="M552.9 2046.3l4.8 3.3 16.5-8.5-4.8-3.3z" color="#742CB6"/>
<path d="M615.4 2048.1l9.8 6 18.1-9.3-9.8-6z" color="#7628AC"/>
<path d="M523.2 2043.1l4.6 3.9 15.7-8-4.7-3.8z" color="#7532C3"/>
<path d="M297 1932.1l3.5-9.8 6.6-13.3-3.5 10.1z" color="#4D8166"/>
<path d="M370.7 1954.1l4.5 6 11.2-5.3-4.5-5.7z" color="#78D0F3"/>
<path d="M494.4 2037.4l4.6 4.7 14.8-7.4-4.6-4.7z" color="#733CD8"/>
<path d="M288.9 1985.9l2.6-25.4 2.7-23-2.6 25.9z" color="#356684"/>
<path d="M356.3 1910.8l4.9 17.9 11.4-2.6-4.9-16.2z" color="#87D7A8"/>
<path d="M276.7 1858.4l5.2 20.3 7.6 5.7-5-17.1z" color="#AED664"/>
<path d="M395.3 1963.3l4.6 6.5 12.2-4-4.6-6.9z" color="#71C5FF"/>
<path d="M466.6 2029.5l4.6 5 14-6.9-4.7-5z" color="#6645EC"/>
<path d="M439.9 2020.4l4.5 5.6 13.1-6.5-4.6-5.6z" color="#675AFD"/>
<path d="M272.3 1852.4l4.4 6 7.8 8.9-4.5-7.4z" color="#A7BC4F"/>
<path d="M275.4 1892.8l6.6 44.4 4.8-4.4-5.8-31.1z" color="#7AC492"/>
<path d="M653.1 2050.7l9.9 6.1 18.8-9.9-9.9-5.9z" color="#7728AB"/>
<path d="M342.2 1878.2l4.4 4.1 11.5 0.3-4.4-5.2z" color="#B2E574"/>
<path d="M399.9 1969.8l4.6 9.1 12.2-4.1-4.6-9z" color="#71BBFF"/>
<path d="M351.3 1894l5 16.8 11.4-0.9-4.9-15.7z" color="#99E18F"/>
<path d="M375.2 1960.1l4.4 3.5 11.2-4.8-4.4-4z" color="#62B5DC"/>
<path d="M557.7 2049.6l4.7 3.2 16.5-8.4-4.7-3.3z" color="#752BB3"/>
<path d="M527.8 2047l4.7 3.7 15.7-8-4.7-3.7z" color="#7630BE"/>
<path d="M404.5 1978.9l4.7 10.8 12.1-4.4-4.6-10.5z" color="#6BA8FF"/>
<path d="M691.8 2052.8l10 5.6 19.5-10.3-10.1-5.5z" color="#7626A7"/>
<path d="M499 2042.1l4.7 4.4 14.8-7.5-4.7-4.3z" color="#7438D0"/>
<path d="M346.6 1882.3l4.7 11.7 11.5 0.2-4.7-11.6z" color="#B3EE86"/>
<path d="M409.2 1989.7l4.7 11.2 12.1-5-4.7-10.6z" color="#6796FF"/>
<path d="M262.5 1860.9l2.9-19 6.9 10.5-3.4 10.6z" color="#626A2B"/>
<path d="M471.2 2034.5l4.6 4.9 14-6.9-4.6-4.9z" color="#6C42E6"/>
<path d="M444.4 2026l4.6 5.1 13-6.6-4.5-5z" color="#634EF4"/>
<path d="M413.9 2000.9l4.7 10.2 12.1-5.5-4.7-9.7z" color="#6A87FF"/>
<path d="M275 1867.2l6 34.5 6.4 3.1-5.5-26.1z" color="#9AD070"/>
<path d="M315 1899.7l3.5-12.2 9.3-3.6-3.7 9.2z" color="#5C7E45"/>
<path d="M588.5 2050.8l9.6 6.2 17.3-8.9-9.6-6.2z" color="#7629AE"/>
<path d="M731.5 2053.5l10.2 5.6 20.2-10.7-10.3-5.6z" color="#7627A8"/>
<path d="M418.6 2011.1l4.6 8.6 12.1-5.9-4.6-8.2z" color="#6F79FF"/>
<path d="M355.8 1947.6l4.8 11.8 10.1-5.3-4.6-10.3z" color="#80D8E9"/>
<path d="M327.8 1883.9l3.9-5.5 10.5-0.2-4 2.9z" color="#6D8B43"/>
<path d="M350.9 1930.4l4.9 17.2 10.3-3.8-4.9-15.1z" color="#7BD2C0"/>
<path d="M379.6 1963.6l4.5 3.7 11.2-4-4.5-4.5z" color="#63B6E2"/>
<path d="M291.6 1963.4l2.6-25.9 4-20.7-2.8 23.9z" color="#41766E"/>
<path d="M360.6 1959.4l4.5 6.2 10.1-5.5-4.5-6z" color="#7AD2F7"/>
<path d="M503.7 2046.5l4.7 4.2 14.8-7.6-4.7-4.1z" color="#7534C8"/>
<path d="M532.5 2050.7l4.8 3.6 15.6-8-4.7-3.6z" color="#762EBA"/>
<path d="M562.4 2052.8l4.8 3.2 16.5-8.4-4.8-3.2z" color="#762BB2"/>
<path d="M475.8 2039.4l4.7 4.9 13.9-6.9-4.6-4.9z" color="#703FDF"/>
<path d="M270.7 1879.9l7.4 57.6 3.9-0.3-6.6-44.4z" color="#7EC485"/>
<path d="M449 2031.1l4.6 4.9 13-6.5-4.6-5z" color="#6247EF"/>
<path d="M423.2 2019.7l4.6 6.9 12.1-6.2-4.6-6.6z" color="#6D69FF"/>
<path d="M625.2 2054.1l9.8 6 18.1-9.4-9.8-5.9z" color="#7628AB"/>
<path d="M307.1 1909l3.3-16 8.1-5.5-3.5 12.2z" color="#597E47"/>
<path d="M345.8 1910.4l5.1 20 10.3-1.7-4.9-17.9z" color="#87D49E"/>
<path d="M384.1 1967.3l4.5 6 11.3-3.5-4.6-6.5z" color="#6FC5FB"/>
<path d="M427.8 2026.6l4.6 5.6 12-6.2-4.5-5.6z" color="#6758FC"/>
<path d="M663 2056.8l9.9 6 18.9-10-10-5.9z" color="#7827A9"/>
<path d="M365.1 1965.6l4.4 2.9 10.1-4.9-4.4-3.5z" color="#5DADD5"/>
<path d="M480.5 2044.3l4.6 4.8 13.9-7-4.6-4.7z" color="#733CD7"/>
<path d="M453.6 2036l4.6 4.9 13-6.4-4.6-5z" color="#6644EA"/>
<path d="M508.4 2050.7l4.6 3.9 14.8-7.6-4.6-3.9z" color="#7531C2"/>
<path d="M295.4 1940.7l2.8-23.9 5.4-14.6-3.1 20.1z" color="#4D7C5A"/>
<path d="M269.6 1844.1l5.4 23.1 6.9 11.5-5.2-20.3z" color="#B7CA53"/>
<path d="M537.3 2054.3l4.7 3.3 15.7-8-4.8-3.3z" color="#752CB4"/>
<path d="M567.2 2056l4.8 3.2 16.5-8.4-4.8-3.2z" color="#762AB0"/>
<path d="M257.4 1860.9l2.1-30.5 5.9 11.5-2.9 19z" color="#686928"/>
<path d="M388.6 1973.3l4.7 9 11.2-3.4-4.6-9.1z" color="#70BDFF"/>
<path d="M300.5 1922.3l3.1-20.1 6.8-9.2-3.3 16z" color="#547F4D"/>
<path d="M265.4 1841.9l4.2 2.2 7.1 14.3-4.4-6z" color="#9A9C3B"/>
<path d="M331.7 1878.4l4.3 2.4 10.6 1.5-4.4-4.1z" color="#AAD363"/>
<path d="M701.8 2058.4l10.2 5.5 19.5-10.4-10.2-5.4z" color="#7526A6"/>
<path d="M346.6 1951l4.8 13.9 9.2-5.5-4.8-11.8z" color="#7BD1E3"/>
<path d="M393.3 1982.3l4.7 11.1 11.2-3.7-4.7-10.8z" color="#6AA9FF"/>
<path d="M340.8 1892.3l5 18.1 10.5 0.4-5-16.8z" color="#9CDD85"/>
<path d="M398 1993.4l4.7 11.8 11.2-4.3-4.7-11.2z" color="#6596FF"/>
<path d="M402.7 2005.2l4.7 10.9 11.2-5-4.7-10.2z" color="#6886FF"/>
<path d="M267.2 1870.1l8.1 67.3 2.8 0.1-7.4-57.6z" color="#86C779"/>
<path d="M288.4 1993.7l0.3-66.1 0.5-0.6-0.7 59.9z" color="#366573"/>
<path d="M598.1 2057l9.8 5.9 17.3-8.8-9.8-6z" color="#7628AC"/>
<path d="M432.4 2032.2l4.6 5 12-6.1-4.6-5.1z" color="#624CF3"/>
<path d="M351.4 1964.9l4.6 6.9 9.1-6.2-4.5-6.2z" color="#7DD4FE"/>
<path d="M407.4 2016.1l4.7 9.1 11.1-5.5-4.6-8.6z" color="#6F79FF"/>
<path d="M336 1880.8l4.8 11.5 10.5 1.7-4.7-11.7z" color="#B7EA7A"/>
<path d="M458.2 2040.9l4.6 4.9 13-6.4-4.6-4.9z" color="#6C42E5"/>
<path d="M485.1 2049.1l4.7 4.4 13.9-7-4.7-4.4z" color="#7538CF"/>
<path d="M268.8 1849.4l6.6 43.4 5.6 8.9-6-34.5z" color="#A7CD5C"/>
<path d="M318.5 1887.5l3.8-9.2 9.4 0.1-3.9 5.5z" color="#657F3B"/>
<path d="M341.5 1930.7l5.1 20.3 9.2-3.4-4.9-17.2z" color="#77CCB6"/>
<path d="M288.5 1986.9l0.7-59.9 1.5-3.8-1 54.9z" color="#37656B"/>
<path d="M369.5 1968.5l4.4 2.6 10.2-3.8-4.5-3.7z" color="#5CACD5"/>
<path d="M513 2054.6l4.7 3.7 14.8-7.6-4.7-3.7z" color="#7630BD"/>
<path d="M542 2057.6l4.7 3.2 15.7-8-4.7-3.2z" color="#752AB2"/>
<path d="M412.1 2025.2l4.6 7.1 11.1-5.7-4.6-6.9z" color="#6F69FF"/>
<path d="M264.8 1868.3l8.8 79.6 0.2-6.4-8.4-73.4z" color="#80BB71"/>
<path d="M265.4 1868.1l8.4 73.4 1.5-4.1-8.1-67.3z" color="#89C575"/>
<path d="M635 2060.1l9.9 6.1 18.1-9.4-9.9-6.1z" color="#7828AB"/>
<path d="M437 2037.2l4.5 4.8 12.1-6-4.6-4.9z" color="#6145EE"/>
<path d="M323.7 2042.1l4.7 12.7 0.3-6.8-4.8-13.2z" color="#3B1E7A"/>
<path d="M356 1971.8l4.3 2.1 9.2-5.4-4.4-2.9z" color="#56A3CD"/>
<path d="M462.8 2045.8l4.7 5 13-6.5-4.7-4.9z" color="#713FDE"/>
<path d="M253.6 1863.8l1.3-42.8 4.6 9.4-2.1 30.5z" color="#6F6A27"/>
<path d="M289.7 1978.1l1-54.9 2.2-11.8-1.4 49.1z" color="#3E7166"/>
<path d="M572 2059.2l9.6 6.2 16.5-8.4-9.6-6.2z" color="#7629AE"/>
<path d="M489.8 2053.5l4.6 4.2 14-7-4.7-4.2z" color="#7634C7"/>
<path d="M373.9 1971.1l4.5 5.1 10.2-2.9-4.5-6z" color="#6BC0F3"/>
<path d="M338.4 1953.5l5 17.3 8-5.9-4.8-13.9z" color="#73C7DA"/>
<path d="M416.7 2032.3l4.6 5.7 11.1-5.8-4.6-5.6z" color="#6757FC"/>
<path d="M343.4 1970.8l4.6 8.3 8-7.3-4.6-6.9z" color="#7DD3FF"/>
<path d="M336.3 1908l5.2 22.7 9.4-0.3-5.1-20z" color="#88D292"/>
<path d="M517.7 2058.3l4.7 3.7 14.9-7.7-4.8-3.6z" color="#772EB9"/>
<path d="M672.9 2062.8l10.1 5.6 18.8-10-10-5.6z" color="#7626A6"/>
<path d="M323.9 2034.8l4.8 13.2 1.3-7.8-4.8-12.6z" color="#3D2AA1"/>
<path d="M546.7 2060.8l4.8 3.2 15.7-8-4.8-3.2z" color="#762AB1"/>
<path d="M441.5 2042l4.6 4.8 12.1-5.9-4.6-4.9z" color="#6643E8"/>
<path d="M378.4 1976.2l4.6 8.6 10.3-2.5-4.7-9z" color="#70C0FF"/>
<path d="M467.5 2050.8l4.6 4.7 13-6.4-4.6-4.8z" color="#743CD7"/>
<path d="M712 2063.9l10.2 5.6 19.5-10.4-10.2-5.6z" color="#7527A7"/>
<path d="M392.5 2008.6l4.8 11.8 10.1-4.3-4.7-10.9z" color="#6585FF"/>
<path d="M310.4 1893l3.4-14.4 8.5-0.3-3.8 9.2z" color="#647D3A"/>
<path d="M387.7 1996.1l4.8 12.5 10.2-3.4-4.7-11.8z" color="#6395FF"/>
<path d="M383 1984.8l4.7 11.3 10.3-2.7-4.7-11.1z" color="#68AAFF"/>
<path d="M322.3 1878.3l4.1-0.4 9.6 2.9-4.3-2.4z" color="#95B24E"/>
<path d="M325.2 2027.6l4.8 12.6 2.2-11.4-4.6-9.1z" color="#3F3BB1"/>
<path d="M360.3 1973.9l4.4 1.2 9.2-4-4.4-2.6z" color="#529BC2"/>
<path d="M421.3 2038l4.6 4.8 11.1-5.6-4.6-5z" color="#624AF1"/>
<path d="M494.4 2057.7l4.7 4 13.9-7.1-4.6-3.9z" color="#7631C1"/>
<path d="M250.9 1866.5l0.7-51.9 3.3 6.4-1.3 42.8z" color="#726926"/>
<path d="M607.9 2062.9l9.8 6.1 17.3-8.9-9.8-6z" color="#7628AB"/>
<path d="M397.3 2020.4l4.7 9.8 10.1-5-4.7-9.1z" color="#6E77FF"/>
<path d="M348 1979.1l4.3 1.4 8-6.6-4.3-2.1z" color="#4D94C2"/>
<path d="M333.1 1928.9l5.3 24.6 8.2-2.5-5.1-20.3z" color="#75C7AB"/>
<path d="M336.5 1976.9l4.7 11.1 6.8-8.9-4.6-8.3z" color="#76C6FF"/>
<path d="M331.1 1888.6l5.2 19.4 9.5 2.4-5-18.1z" color="#A2DB79"/>
<path d="M328.4 2054.8l3.5-15.5 0.3-4.1-3.5 12.8z" color="#362080"/>
<path d="M291.5 1960.5l1.4-49.1 3.2-14.7-1.9 40.8z" color="#4B7957"/>
<path d="M522.4 2062l4.8 3.3 14.8-7.7-4.7-3.3z" color="#752BB3"/>
<path d="M259.5 1830.4l3.8-5 6.3 18.7-4.2-2.2z" color="#83732A"/>
<path d="M446.1 2046.8l4.7 4.9 12-5.9-4.6-4.9z" color="#6C41E3"/>
<path d="M402 2030.2l4.6 7.5 10.1-5.4-4.6-7.1z" color="#7069FF"/>
<path d="M263.3 1825.4l5.5 24 6.2 17.8-5.4-23.1z" color="#C3B943"/>
<path d="M331.2 1954.2l5.3 22.7 6.9-6.1-5-17.3z" color="#6ABACE"/>
<path d="M327.6 2019.7l4.6 9.1 3.3-14.2-4.5-4.8z" color="#3A4BB2"/>
<path d="M551.5 2064l4.8 3.2 15.7-8-4.8-3.2z" color="#762AAF"/>
<path d="M326.4 1877.9l4.7 10.7 9.7 3.7-4.8-11.5z" color="#B9E36B"/>
<path d="M472.1 2055.5l4.7 4.6 13-6.6-4.7-4.4z" color="#7638CF"/>
<path d="M330.6 1982.4l4.9 16.2 5.7-10.6-4.7-11.1z" color="#68ADF4"/>
<path d="M328.7 2048l3.5-12.8 1.4-5.9-3.6 10.9z" color="#332689"/>
<path d="M644.9 2066.2l10 6.2 18-9.6-9.9-6z" color="#7827A9"/>
<path d="M249.1 1865l0.4-56.4 2.1 6-0.7 51.9z" color="#6D6123"/>
<path d="M425.9 2042.8l4.5 4.7 11.1-5.5-4.5-4.8z" color="#6043EB"/>
<path d="M341.2 1988l4.3 1.2 6.8-8.7-4.3-1.4z" color="#447FB4"/>
<path d="M317.2 1996.1l6.5 46 0.2-7.3-6.4-43.8z" color="#374CAC"/>
<path d="M263.5 1829.1l7.2 50.8 4.7 12.9-6.6-43.4z" color="#BBC54E"/>
<path d="M499.1 2061.7l4.7 3.8 13.9-7.2-4.7-3.7z" color="#772FBD"/>
<path d="M364.7 1975.1l4.4 3.5 9.3-2.4-4.5-5.1z" color="#63B6E4"/>
<path d="M331 2009.8l4.5 4.8 4.3-14-4.3-2z" color="#385AAE"/>
<path d="M325.7 1985.8l5.3 24 4.5-11.2-4.9-16.2z" color="#5B95E8"/>
<path d="M406.6 2037.7l4.6 5.7 10.1-5.4-4.6-5.7z" color="#6856FC"/>
<path d="M303.6 1902.2l3-21.8 7.2-1.8-3.4 14.4z" color="#637C3A"/>
<path d="M335.5 1998.6l4.3 2 5.7-11.4-4.3-1.2z" color="#3C6BAC"/>
<path d="M581.6 2065.4l9.8 6 16.5-8.5-9.8-5.9z" color="#7628AB"/>
<path d="M450.8 2051.7l4.6 4.9 12.1-5.8-4.7-5z" color="#713FDE"/>
<path d="M321.8 1986.5l5.8 33.2 3.4-9.9-5.3-24z" color="#5183DF"/>
<path d="M317.5 1991l6.4 43.8 1.3-7.2-6.2-40.4z" color="#466BD6"/>
<path d="M527.2 2065.3l4.7 3.1 14.8-7.6-4.7-3.2z" color="#742AB0"/>
<path d="M352.3 1980.5l4.2-0.9 8.2-4.5-4.4-1.2z" color="#4686AC"/>
<path d="M330 2040.2l3.6-10.9 2.3-10.6-3.7 10.1z" color="#31338F"/>
<path d="M294.2 1937.5l1.9-40.8 4.5-10.9-2.4 31z" color="#577D48"/>
<path d="M319 1987.2l6.2 40.4 2.4-7.9-5.8-33.2z" color="#4B77DA"/>
<path d="M327.6 1902.6l5.5 26.3 8.4 1.8-5.2-22.7z" color="#8CD285"/>
<path d="M683 2068.4l10.2 5.5 18.8-10-10.2-5.5z" color="#7526A5"/>
<path d="M476.8 2060.1l4.6 4.2 13-6.6-4.6-4.2z" color="#7734C7"/>
<path d="M369.1 1978.6l4.6 7.7 9.3-1.5-4.6-8.6z" color="#6EC1FC"/>
<path d="M298.2 1916.8l2.4-31 6-5.4-3 21.8z" color="#5F7C3F"/>
<path d="M248.2 1860.4l0.2-60.3 1.1 8.5-0.4 56.4z" color="#695920"/>
<path d="M430.4 2047.5l4.6 4.6 11.1-5.3-4.6-4.8z" color="#6541E6"/>
<path d="M324.9 1951.7l5.7 30.7 5.9-5.5-5.3-22.7z" color="#62B0C2"/>
<path d="M383.3 2011.1l4.8 12.8 9.2-3.5-4.8-11.8z" color="#6183FF"/>
<path d="M388.1 2023.9l4.7 10.7 9.2-4.4-4.7-9.8z" color="#6B75FF"/>
<path d="M378.5 1997.8l4.8 13.3 9.2-2.5-4.8-12.5z" color="#6095FF"/>
<path d="M411.2 2043.4l4.5 4.7 10.2-5.3-4.6-4.8z" color="#6148EE"/>
<path d="M373.7 1986.3l4.8 11.5 9.2-1.7-4.7-11.3z" color="#67ACFA"/>
<path d="M325.5 1923.5l5.7 30.7 7.2-0.7-5.3-24.6z" color="#76C59F"/>
<path d="M503.8 2065.5l4.7 3.7 13.9-7.2-4.7-3.7z" color="#782EB9"/>
<path d="M455.4 2056.6l4.6 4.9 12.1-6-4.6-4.7z" color="#753CD7"/>
<path d="M332.2 2028.8l3.7-10.1 3.4-13-3.8 8.9z" color="#2F4497"/>
<path d="M392.8 2034.6l4.7 8.1 9.1-5-4.6-7.5z" color="#7269FF"/>
<path d="M313.8 1878.6l4-5 8.6 4.3-4.1 0.4z" color="#7D8E3C"/>
<path d="M556.3 2067.2l9.6 6.2 15.7-8-9.6-6.2z" color="#7629AD"/>
<path d="M617.7 2069l9.9 6.3 17.3-9.1-9.9-6.1z" color="#7828AB"/>
<path d="M345.5 1989.2l4.1-3.6 6.9-6-4.2 0.9z" color="#3C739A"/>
<path d="M531.9 2068.4l4.8 3.2 14.8-7.6-4.8-3.2z" color="#762AB0"/>
<path d="M481.4 2064.3l4.7 4 13-6.6-4.7-4z" color="#7731C1"/>
<path d="M435 2052.1l4.6 4.9 11.2-5.3-4.7-4.9z" color="#6B40E2"/>
<path d="M356.5 1979.6l4.4 1.2 8.2-2.2-4.4-3.5z" color="#55A1C9"/>
<path d="M335.5 2014.6l3.8-8.9 4.5-11.5-4 6.4z" color="#325596"/>
<path d="M397.5 2042.7l4.6 5.9 9.1-5.2-4.6-5.7z" color="#6955FC"/>
<path d="M415.7 2048.1l4.6 4.4 10.1-5-4.5-4.7z" color="#5F41E7"/>
<path d="M322.4 1882.1l5.2 20.5 8.7 5.4-5.2-19.4z" color="#AAD86B"/>
<path d="M339.8 2000.6l4-6.4 5.8-8.6-4.1 3.6z" color="#366393"/>
<path d="M460 2061.5l4.7 4.6 12.1-6-4.7-4.6z" color="#7738CF"/>
<path d="M508.5 2069.2l4.7 3.3 14-7.2-4.8-3.3z" color="#762BB2"/>
<path d="M319.5 1944.6l6.2 41.2 4.9-3.4-5.7-30.7z" color="#60AEB9"/>
<path d="M654.9 2072.4l10 5.7 18.1-9.7-10.1-5.6z" color="#7626A6"/>
<path d="M254.9 1821l3.2-14.3 5.2 18.7-3.8 5z" color="#7A5B21"/>
<path d="M317.8 1873.6l4.6 8.5 8.7 6.5-4.7-10.7z" color="#B9D45C"/>
<path d="M591.4 2071.4l9.8 6.2 16.5-8.6-9.8-6.1z" color="#7728AB"/>
<path d="M259.7 1814.1l7.5 56 3.5 9.8-7.2-50.8z" color="#CFBE45"/>
<path d="M439.6 2057l4.7 4.9 11.1-5.3-4.6-4.9z" color="#703EDD"/>
<path d="M379.9 2026.3l4.8 12.2 8.1-3.9-4.7-10.7z" color="#6772FF"/>
<path d="M536.7 2071.6l4.8 3.2 14.8-7.6-4.8-3.2z" color="#7629AF"/>
<path d="M486.1 2068.3l4.7 3.9 13-6.7-4.7-3.8z" color="#782FBD"/>
<path d="M360.9 1980.8l4.5 6.1 8.3-0.6-4.6-7.7z" color="#6BBFF2"/>
<path d="M375.1 2012.1l4.8 14.2 8.2-2.4-4.8-12.8z" color="#5B81FF"/>
<path d="M402.1 2048.6l4.5 4.5 9.1-5-4.5-4.7z" color="#5F44EB"/>
<path d="M384.7 2038.5l4.7 9 8.1-4.8-4.7-8.1z" color="#7368FF"/>
<path d="M420.3 2052.5l4.6 4.5 10.1-4.9-4.6-4.6z" color="#633FE3"/>
<path d="M258.1 1806.7l5.4 22.4 5.3 20.3-5.5-24z" color="#CCA039"/>
<path d="M370.2 1998l4.9 14.1 8.2-1-4.8-13.3z" color="#5D95F5"/>
<path d="M693.2 2073.9l10.2 5.6 18.8-10-10.2-5.6z" color="#7526A7"/>
<path d="M365.4 1986.9l4.8 11.1 8.3-0.2-4.8-11.5z" color="#64ADF2"/>
<path d="M464.7 2066.1l4.6 4.3 12.1-6.1-4.6-4.2z" color="#7734C7"/>
<path d="M319.8 1893l5.7 30.5 7.6 5.4-5.5-26.3z" color="#95D076"/>
<path d="M349.6 1985.6l4.1-2.3 7.2-2.5-4.4-1.2z" color="#4483A4"/>
<path d="M318.8 1913l6.1 38.7 6.3 2.5-5.7-30.7z" color="#7BC58F"/>
<path d="M513.2 2072.5l4.8 3 13.9-7.1-4.7-3.1z" color="#7429AE"/>
<path d="M306.6 1880.4l3.5-12.4 7.7 5.6-4 5z" color="#6B7530"/>
<path d="M389.4 2047.5l4.6 6.1 8.1-5-4.6-5.9z" color="#6C54FE"/>
<path d="M444.3 2061.9l4.6 5 11.1-5.4-4.6-4.9z" color="#753CD7"/>
<path d="M331.9 2039.3l2.8-29.1 0.6-0.6-3.1 25.6z" color="#2C3E8D"/>
<path d="M565.9 2073.4l9.8 6 15.7-8-9.8-6z" color="#7528AA"/>
<path d="M627.6 2075.3l9.9 6.2 17.4-9.1-10-6.2z" color="#7927A9"/>
<path d="M315 1934.2l6.8 52.3 3.9-0.7-6.2-41.2z" color="#62B1AD"/>
<path d="M332.2 2035.2l3.1-25.6 1.5-2.6-3.2 22.3z" color="#2B418B"/>
<path d="M406.6 2053.1l4.6 4 9.1-4.6-4.6-4.4z" color="#5E3EE2"/>
<path d="M490.8 2072.2l4.7 3.8 13-6.8-4.7-3.7z" color="#7A2EB9"/>
<path d="M424.9 2057l4.6 4.7 10.1-4.7-4.6-4.9z" color="#6A3FE0"/>
<path d="M333.6 2029.3l3.2-22.3 2.6-6.4-3.5 18.1z" color="#2D4A8E"/>
<path d="M469.3 2070.4l4.7 4 12.1-6.1-4.7-4z" color="#7831C0"/>
<path d="M343.8 1994.2l3.9-7.1 6-3.8-4.1 2.3z" color="#376B8B"/>
<path d="M257.6 1807.4l7.8 60.7 1.8 2-7.5-56z" color="#DDBA44"/>
<path d="M372.8 2027.3l4.9 14.1 7-2.9-4.8-12.2z" color="#606EFB"/>
<path d="M377.7 2041.4l4.7 10.4 7-4.3-4.7-9z" color="#7166FF"/>
<path d="M394 2053.6l4.6 4.3 8-4.8-4.5-4.5z" color="#5F41E7"/>
<path d="M541.5 2074.8l9.6 6.2 14.8-7.6-9.6-6.2z" color="#7629AC"/>
<path d="M335.9 2018.7l3.5-18.1 3.6-7.6-3.7 12.7z" color="#31568C"/>
<path d="M448.9 2066.9l4.7 4.7 11.1-5.5-4.7-4.6z" color="#7738CF"/>
<path d="M518 2075.5l4.7 3.2 14-7.1-4.8-3.2z" color="#7629AF"/>
<path d="M353.7 1983.3l4.5 3.3 7.2 0.3-4.5-6.1z" color="#60B3DD"/>
<path d="M367.8 2011.3l5 16 7.1-1-4.8-14.2z" color="#557FF6"/>
<path d="M339.3 2005.7l3.7-12.7 4.7-5.9-3.9 7.1z" color="#34618B"/>
<path d="M664.9 2078.1l10.2 5.4 18.1-9.6-10.2-5.5z" color="#7526A5"/>
<path d="M251.6 1814.6l2.8-21.4 3.7 13.5-3.2 14.3z" color="#72481C"/>
<path d="M429.5 2061.7l4.6 5 10.2-4.8-4.7-4.9z" color="#703EDD"/>
<path d="M411.2 2057.1l4.6 4.2 9.1-4.3-4.6-4.5z" color="#613DDE"/>
<path d="M382.4 2051.8l4.6 6.7 7-4.9-4.6-6.1z" color="#7055FF"/>
<path d="M314.6 1872.3l5.2 20.7 7.8 9.6-5.2-20.5z" color="#B5D25B"/>
<path d="M495.5 2076l4.7 3.3 13-6.8-4.7-3.3z" color="#762AB1"/>
<path d="M601.2 2077.6l9.8 6.4 16.6-8.7-9.9-6.3z" color="#7928AB"/>
<path d="M256.6 1801.5l8.2 66.8 0.6-0.2-7.8-60.7z" color="#DDB341"/>
<path d="M362.9 1996.6l4.9 14.7 7.3 0.8-4.9-14.1z" color="#5895E9"/>
<path d="M358.2 1986.6l4.7 10 7.3 1.4-4.8-11.1z" color="#60AEE8"/>
<path d="M310.1 1868l4.5 4.3 7.8 9.8-4.6-8.5z" color="#B1BA4A"/>
<path d="M311.7 1926.3l7.3 60.9 2.8-0.7-6.8-52.3z" color="#66B6A3"/>
<path d="M300.6 1885.8l3-23.1 6.5 5.3-3.5 12.4z" color="#6E742E"/>
<path d="M474 2074.4l4.7 4 12.1-6.2-4.7-3.9z" color="#7A2FBC"/>
<path d="M398.6 2057.9l4.5 3.5 8.1-4.3-4.6-4z" color="#5B3ADA"/>
<path d="M453.6 2071.6l4.6 4.4 11.1-5.6-4.6-4.3z" color="#7834C7"/>
<path d="M371.6 2043l4.9 12.6 5.9-3.8-4.7-10.4z" color="#6B60FE"/>
<path d="M522.7 2078.7l4.8 3.2 14-7.1-4.8-3.2z" color="#7629AE"/>
<path d="M387 2058.5l4.6 4.1 7-4.7-4.6-4.3z" color="#603EE0"/>
<path d="M434.1 2066.7l4.7 5 10.1-4.8-4.6-5z" color="#753CD8"/>
<path d="M415.8 2061.3l4.6 4.5 9.1-4.1-4.6-4.7z" color="#683DDE"/>
<path d="M366.6 2026.3l5 16.7 6.1-1.6-4.9-14.1z" color="#5769F0"/>
<path d="M309.9 1924.9l7.6 66.1 1.5-3.8-7.3-60.9z" color="#68B69F"/>
<path d="M309.4 1925.1l7.8 71 0.3-5.1-7.6-66.1z" color="#62AD9A"/>
<path d="M312.8 1896.8l6.7 47.8 5.4 7.1-6.1-38.7z" color="#86C87A"/>
<path d="M254.4 1793.2l5.3 20.9 3.8 15-5.4-22.4z" color="#D18434"/>
<path d="M376.5 2055.6l4.6 7.8 5.9-4.9-4.6-6.7z" color="#7757FF"/>
<path d="M575.7 2079.4l9.7 6.3 15.8-8.1-9.8-6.2z" color="#7728AB"/>
<path d="M347.7 1987.1l4.3-1.2 6.2 0.7-4.5-3.3z" color="#4B8FAE"/>
<path d="M637.5 2081.5l10.1 5.8 17.3-9.2-10-5.7z" color="#7726A6"/>
<path d="M500.2 2079.3l4.7 2.9 13.1-6.7-4.8-3z" color="#7328AB"/>
<path d="M312.8 1878.1l6 34.9 6.7 10.5-5.7-30.5z" color="#A4CE62"/>
<path d="M296.1 1896.7l2.2-37 5.3 3-3 23.1z" color="#70762E"/>
<path d="M249.5 1808.6l2.6-23.7 2.3 8.3-2.8 21.4z" color="#74411B"/>
<path d="M478.7 2078.4l4.7 4 12.1-6.4-4.7-3.8z" color="#7C2EB9"/>
<path d="M361.6 2008.3l5 18 6.2 1-5-16z" color="#507FE9"/>
<path d="M290.7 1923.2l0.8-61.1 2.8-1.5-1.4 50.8z" color="#677733"/>
<path d="M403.1 2061.4l4.6 3.7 8.1-3.8-4.6-4.2z" color="#5E39D8"/>
<path d="M289.2 1927l0.4-67.6 1.9 2.7-0.8 61.1z" color="#5F7131"/>
<path d="M458.2 2076l4.7 4.1 11.1-5.7-4.7-4z" color="#7931C0"/>
<path d="M292.9 1911.4l1.4-50.8 4-0.9-2.2 37z" color="#6E7831"/>
<path d="M438.8 2071.7l4.6 4.8 10.2-4.9-4.7-4.7z" color="#7839D0"/>
<path d="M366.6 2042.9l5 15.6 4.9-2.9-4.9-12.6z" color="#6157EF"/>
<path d="M420.4 2065.8l4.6 5 9.1-4.1-4.6-5z" color="#6F3EDC"/>
<path d="M381.1 2063.4l4.6 4.1 5.9-4.9-4.6-4.1z" color="#623BD8"/>
<path d="M371.6 2058.5l4.7 9.6 4.8-4.7-4.6-7.8z" color="#7D58FF"/>
<path d="M391.6 2062.6l4.5 2.9 7-4.1-4.5-3.5z" color="#5936CF"/>
<path d="M551.1 2081l9.7 6 14.9-7.6-9.8-6z" color="#7527AA"/>
<path d="M288.7 1927.6l0-74.1 0.9 5.9-0.4 67.6z" color="#54622A"/>
<path d="M352 1985.9l4.6 7.6 6.3 3.1-4.7-10z" color="#5CABD6"/>
<path d="M356.6 1993.5l5 14.8 6.2 3-4.9-14.7z" color="#5598DC"/>
<path d="M675.1 2083.5l10.2 5.7 18.1-9.7-10.2-5.6z" color="#7526A6"/>
<path d="M343 1993l3.9-7.3 5.1 0.2-4.3 1.2z" color="#3A6E85"/>
<path d="M611 2084l10 6.3 16.5-8.8-9.9-6.2z" color="#7927A9"/>
<path d="M504.9 2082.2l4.8 3.1 13-6.6-4.7-3.2z" color="#7529AE"/>
<path d="M361.5 2023l5.1 19.9 5 0.1-5-16.7z" color="#4E68E7"/>
<path d="M483.4 2082.4l4.7 3.3 12.1-6.4-4.7-3.3z" color="#772AB0"/>
<path d="M527.5 2081.9l9.6 6.2 14-7.1-9.6-6.2z" color="#7628AC"/>
<path d="M367.7 2060.3l4.9 11.8 3.7-4-4.7-9.6z" color="#7D54F7"/>
<path d="M376.3 2068.1l4.5 4.4 4.9-5-4.6-4.1z" color="#6638CF"/>
<path d="M407.7 2065.1l4.6 4.2 8.1-3.5-4.6-4.5z" color="#643BDB"/>
<path d="M248.4 1800.1l2.5-24.3 1.2 9.1-2.6 23.7z" color="#7D361A"/>
<path d="M462.9 2080.1l4.7 4.1 11.1-5.8-4.7-4z" color="#7B30BD"/>
<path d="M443.4 2076.5l4.7 4.5 10.1-5-4.6-4.4z" color="#7935C8"/>
<path d="M425 2070.8l4.6 5.1 9.2-4.2-4.7-5z" color="#753DD9"/>
<path d="M339.4 2000.6l3.6-13.8 3.9-1.1-3.9 7.3z" color="#36667F"/>
<path d="M362.6 2041.4l5.1 18.9 3.9-1.8-5-15.6z" color="#5751E2"/>
<path d="M303.6 1862.7l4-3.6 7 13.2-4.5-4.3z" color="#8A8531"/>
<path d="M252.1 1784.9l5.5 22.5 2.1 6.7-5.3-20.9z" color="#D97131"/>
<path d="M385.7 2067.5l4.4 2.2 6-4.2-4.5-2.9z" color="#5530C0"/>
<path d="M396.1 2065.5l4.5 3 7.1-3.4-4.6-3.7z" color="#5935CF"/>
<path d="M365 2061.8l4.9 13.6 2.7-3.3-4.9-11.8z" color="#7A4EEB"/>
<path d="M307.6 1859.1l5.2 19 7 14.9-5.2-20.7z" color="#C0C54C"/>
<path d="M372.6 2072.1l4.5 5.2 3.7-4.8-4.5-4.4z" color="#6C36C7"/>
<path d="M336.8 2007l3.4-19.1 2.8-1.1-3.6 13.8z" color="#32617D"/>
<path d="M356.3 2003.2l5.2 19.8 5.1 3.3-5-18z" color="#4E85DD"/>
<path d="M363.4 2063.7l4.9 14.4 1.6-2.7-4.9-13.6z" color="#7345DB"/>
<path d="M362.9 2065.3l4.9 14.9 0.5-2.1-4.9-14.4z" color="#552AA5"/>
<path d="M335.3 2009.6l3.2-22.4 1.7 0.7-3.4 19.1z" color="#2E5976"/>
<path d="M585.4 2085.7l9.9 6.5 15.7-8.2-9.8-6.4z" color="#7928AB"/>
<path d="M369.9 2075.4l4.6 5.8 2.6-3.9-4.5-5.2z" color="#7134C1"/>
<path d="M509.7 2085.3l4.8 3.2 13-6.6-4.8-3.2z" color="#7629AD"/>
<path d="M367.8 2080.2l4.6 5.5 0.5-1.9-4.6-5.7z" color="#511D7D"/>
<path d="M647.6 2087.3l10.1 5.5 17.4-9.3-10.2-5.4z" color="#7525A4"/>
<path d="M368.3 2078.1l4.6 5.7 1.6-2.6-4.6-5.8z" color="#6C2CAE"/>
<path d="M412.3 2069.3l4.6 4.9 8.1-3.4-4.6-5z" color="#6D3DDC"/>
<path d="M334.7 2010.2l3.1-25.3 0.7 2.3-3.2 22.4z" color="#284C64"/>
<path d="M359.8 2040.3l5.2 21.5 2.7-1.5-5.1-18.9z" color="#5451DE"/>
<path d="M429.6 2075.9l4.7 5 9.1-4.4-4.6-4.8z" color="#793AD2"/>
<path d="M346.9 1985.7l4.5 3.5 5.2 4.3-4.6-7.6z" color="#56A1BC"/>
<path d="M488.1 2085.7l4.8 2.7 12-6.2-4.7-2.9z" color="#7227A9"/>
<path d="M467.6 2084.2l4.7 4.1 11.1-5.9-4.7-4z" color="#7E2FBA"/>
<path d="M448.1 2081l4.7 4.2 10.1-5.1-4.7-4.1z" color="#7A31C1"/>
<path d="M307.9 1878l7.1 56.2 4.5 10.4-6.7-47.8z" color="#99C865"/>
<path d="M380.8 2072.5l4.5 1.4 4.8-4.2-4.4-2.2z" color="#522AAD"/>
<path d="M357.3 2018.4l5.3 23 4 1.5-5.1-19.9z" color="#496EE5"/>
<path d="M351.4 1989.2l4.9 14 5.3 5.1-5-14.8z" color="#539ECF"/>
<path d="M250.9 1775.8l5.7 25.7 1 5.9-5.5-22.5z" color="#AF4623"/>
<path d="M400.6 2068.5l4.6 3.7 7.1-2.9-4.6-4.2z" color="#6038D5"/>
<path d="M358.1 2040.6l5.3 23.1 1.6-1.9-5.2-21.5z" color="#5655E1"/>
<path d="M390.1 2069.7l4.5 1.9 6-3.1-4.5-3z" color="#5430C0"/>
<path d="M560.8 2087l9.8 6.4 14.8-7.7-9.7-6.3z" color="#7728AB"/>
<path d="M357.6 2040.9l5.3 24.4 0.5-1.6-5.3-23.1z" color="#5552DB"/>
<path d="M377.1 2077.3l4.4 0.8 3.8-4.2-4.5-1.4z" color="#51259C"/>
<path d="M416.9 2074.2l4.6 5.3 8.1-3.6-4.6-5.1z" color="#753DDA"/>
<path d="M306.7 1858.5l6.1 38.3 6 16.2-6-34.9z" color="#B7C650"/>
<path d="M374.5 2081.2l4.4 0.2 2.6-3.3-4.4-0.8z" color="#532291"/>
<path d="M434.3 2080.9l4.7 4.7 9.1-4.6-4.7-4.5z" color="#7B36C9"/>
<path d="M621 2090.3l10 5.9 16.6-8.9-10.1-5.8z" color="#7726A5"/>
<path d="M452.8 2085.2l4.7 4.2 10.1-5.2-4.7-4.1z" color="#7C30BD"/>
<path d="M372.9 2083.8l4.4-0.3 1.6-2.1-4.4-0.2z" color="#532089"/>
<path d="M372.4 2085.7l4.4-1.1 0.5-1.1-4.4 0.3z" color="#4C1B78"/>
<path d="M472.3 2088.3l4.7 3.4 11.1-6-4.7-3.3z" color="#782AAF"/>
<path d="M537.1 2088.1l9.7 6 14-7.1-9.7-6z" color="#7527A9"/>
<path d="M492.9 2088.4l4.7 3.1 12.1-6.2-4.8-3.1z" color="#7528AC"/>
<path d="M343 1986.8l4.3-1.6 4.1 4-4.5-3.5z" color="#478391"/>
<path d="M354.4 2014.7l5.4 25.6 2.8 1.1-5.3-23z" color="#4A76E1"/>
<path d="M352.1 1997.3l5.2 21.1 4.2 4.6-5.2-19.8z" color="#4E8ED2"/>
<path d="M405.2 2072.2l4.6 4.7 7.1-2.7-4.6-4.9z" color="#6A3CDA"/>
<path d="M385.3 2073.9l4.4 0.7 4.9-3-4.5-1.9z" color="#4E2AAC"/>
<path d="M514.5 2088.5l9.6 6.3 13-6.7-9.6-6.2z" color="#7628AB"/>
<path d="M298.3 1859.7l3.4-15.3 5.9 14.7-4 3.6z" color="#6C5E22"/>
<path d="M421.5 2079.5l4.7 5.2 8.1-3.8-4.7-5z" color="#7A3BD3"/>
<path d="M394.6 2071.6l4.6 3 6-2.4-4.6-3.7z" color="#5A34CD"/>
<path d="M439 2085.6l4.6 4.3 9.2-4.7-4.7-4.2z" color="#7B32C1"/>
<path d="M347.3 1985.2l4.8 12.1 4.2 5.9-4.9-14z" color="#55A0BD"/>
<path d="M595.3 2092.2l10 6.5 15.7-8.4-10-6.3z" color="#7A27A9"/>
<path d="M352.6 2013.2l5.5 27.4 1.7-0.3-5.4-25.6z" color="#4D7CE1"/>
<path d="M457.5 2089.4l4.7 4.3 10.1-5.4-4.7-4.1z" color="#802FBB"/>
<path d="M381.5 2078.1l4.4-0.6 3.8-2.9-4.4-0.7z" color="#4B269C"/>
<path d="M477 2091.7l4.7 2.6 11.2-5.9-4.8-2.7z" color="#7226A6"/>
<path d="M657.7 2092.8l10.3 5.6 17.3-9.2-10.2-5.7z" color="#7426A6"/>
<path d="M340.2 1987.9l4.1-5.7 3 3-4.3 1.6z" color="#3B6D74"/>
<path d="M409.8 2076.9l4.7 5.4 7-2.8-4.6-5.3z" color="#733EDB"/>
<path d="M497.6 2091.5l4.8 3.2 12.1-6.2-4.8-3.2z" color="#7629AD"/>
<path d="M352 2011.6l5.6 29.3 0.5-0.3-5.5-27.4z" color="#4A7BDC"/>
<path d="M304.2 1863.6l7.5 62.7 3.3 7.9-7.1-56.2z" color="#ADC957"/>
<path d="M378.9 2081.4l4.3-1.6 2.7-2.3-4.4 0.6z" color="#492290"/>
<path d="M426.2 2084.7l4.7 4.8 8.1-3.9-4.7-4.7z" color="#7C37CB"/>
<path d="M301.7 1844.4l5 14.1 6.1 19.6-5.2-19z" color="#C3AB3E"/>
<path d="M349.1 1992.7l5.3 22 2.9 3.7-5.2-21.1z" color="#5099CC"/>
<path d="M399.2 2074.6l4.6 4.3 6-2-4.6-4.7z" color="#653AD8"/>
<path d="M389.7 2074.6l4.5 1.9 5-1.9-4.6-3z" color="#5430BF"/>
<path d="M377.3 2083.5l4.3-2.4 1.6-1.3-4.3 1.6z" color="#482088"/>
<path d="M570.6 2093.4l9.8 6.6 14.9-7.8-9.9-6.5z" color="#7A28AB"/>
<path d="M376.8 2084.6l4.2-3.2 0.6-0.3-4.3 2.4z" color="#461E80"/>
<path d="M443.6 2089.9l4.7 4.3 9.2-4.8-4.7-4.2z" color="#7E30BE"/>
<path d="M338.5 1987.2l4-7.6 1.8 2.6-4.1 5.7z" color="#335D5F"/>
<path d="M462.2 2093.7l4.7 3.5 10.1-5.5-4.7-3.4z" color="#7A2AAF"/>
<path d="M414.5 2082.3l4.6 5.5 7.1-3.1-4.7-5.2z" color="#7A3CD6"/>
<path d="M344.3 1982.2l4.8 10.5 3 4.6-4.8-12.1z" color="#58A3AF"/>
<path d="M631 2096.2l10.2 5.5 16.5-8.9-10.1-5.5z" color="#7525A3"/>
<path d="M481.7 2094.3l4.8 2.9 11.1-5.7-4.7-3.1z" color="#7427AA"/>
<path d="M546.8 2094.1l9.8 6.5 14-7.2-9.8-6.4z" color="#7828AB"/>
<path d="M430.9 2089.5l4.6 4.5 8.1-4.1-4.6-4.3z" color="#7C33C2"/>
<path d="M385.9 2077.5l4.5 0.7 3.8-1.7-4.5-1.9z" color="#4C2BAD"/>
<path d="M337.8 1984.9l3.9-9 0.8 3.7-4 7.6z" color="#345E5C"/>
<path d="M294.3 1860.6l2.7-28.9 4.7 12.7-3.4 15.3z" color="#745C21"/>
<path d="M403.8 2078.9l4.6 5.5 6.1-2.1-4.7-5.4z" color="#713DDB"/>
<path d="M347.3 1989.9l5.3 23.3 1.8 1.5-5.3-22z" color="#55A0C8"/>
<path d="M394.2 2076.5l4.6 3.8 5-1.4-4.6-4.3z" color="#5F37D2"/>
<path d="M448.3 2094.2l4.7 4.5 9.2-5-4.7-4.3z" color="#8330BC"/>
<path d="M524.1 2094.8l9.7 5.8 13-6.5-9.7-6z" color="#7427A8"/>
<path d="M302.1 1857.1l7.8 67.8 1.8 1.4-7.5-62.7z" color="#BBC952"/>
<path d="M419.1 2087.8l4.7 5.2 7.1-3.5-4.7-4.8z" color="#7E38CE"/>
<path d="M502.4 2094.7l9.6 6.2 12.1-6.1-9.6-6.3z" color="#7628AB"/>
<path d="M383.2 2079.8l4.4-0.3 2.8-1.3-4.5-0.7z" color="#4827A1"/>
<path d="M346.5 1986.7l5.5 24.9 0.6 1.6-5.3-23.3z" color="#4C91AD"/>
<path d="M301.6 1838.3l6.3 39.7 4.9 18.8-6.1-38.3z" color="#CAB743"/>
<path d="M342.5 1979.6l4.8 10.3 1.8 2.8-4.8-10.5z" color="#58A1A3"/>
<path d="M466.9 2097.2l4.7 2.5 10.1-5.4-4.7-2.6z" color="#7125A3"/>
<path d="M605.3 2098.7l10 5.9 15.7-8.4-10-5.9z" color="#7726A5"/>
<path d="M381.6 2081.1l4.4-1.1 1.6-0.5-4.4 0.3z" color="#452598"/>
<path d="M408.4 2084.4l4.7 5.8 6-2.4-4.6-5.5z" color="#7A3DD8"/>
<path d="M435.5 2094l4.7 4.5 8.1-4.3-4.7-4.3z" color="#8031BF"/>
<path d="M301.3 1851.6l8.1 73.5 0.5-0.2-7.8-67.8z" color="#BDC64E"/>
<path d="M486.5 2097.2l4.7 3.1 11.2-5.6-4.8-3.2z" color="#7628AC"/>
<path d="M381 2081.4l4.4-1.5 0.6 0.1-4.4 1.1z" color="#40238E"/>
<path d="M390.4 2078.2l4.5 3 3.9-0.9-4.6-3.8z" color="#5834CB"/>
<path d="M398.8 2080.3l4.7 5.5 4.9-1.4-4.6-5.5z" color="#6C3CDB"/>
<path d="M341.7 1975.9l4.8 10.8 0.8 3.2-4.8-10.3z" color="#47827C"/>
<path d="M453 2098.7l4.7 3.6 9.2-5.1-4.7-3.5z" color="#7D2AAF"/>
<path d="M423.8 2093l4.7 4.7 7-3.7-4.6-4.5z" color="#7E34C4"/>
<path d="M291.5 1862.1l2.1-39.5 3.4 9.1-2.7 28.9z" color="#795B21"/>
<path d="M580.4 2100l10 6.7 14.9-8-10-6.5z" color="#7B27A9"/>
<path d="M413.1 2090.2l4.7 5.6 6-2.8-4.7-5.2z" color="#7F3AD1"/>
<path d="M387.6 2079.5l4.6 2.4 2.7-0.7-4.5-3z" color="#5331C2"/>
<path d="M471.6 2099.7l4.7 2.7 10.2-5.2-4.8-2.9z" color="#7327A7"/>
<path d="M440.2 2098.5l4.7 4.7 8.1-4.5-4.7-4.5z" color="#8631BE"/>
<path d="M403.5 2085.8l4.7 6.1 4.9-1.7-4.7-5.8z" color="#773ED9"/>
<path d="M556.6 2100.6l9.9 6.8 13.9-7.4-9.8-6.6z" color="#7A28AC"/>
<path d="M394.9 2081.2l4.7 5.4 3.9-0.8-4.7-5.5z" color="#673BD9"/>
<path d="M641.2 2101.7l10.2 5.5 16.6-8.8-10.3-5.6z" color="#7426A4"/>
<path d="M297 1831.7l4.6 6.6 5.1 20.2-5-14.1z" color="#B98832"/>
<path d="M386 2080l4.5 2.1 1.7-0.2-4.6-2.4z" color="#4D2EBA"/>
<path d="M428.5 2097.7l4.7 4.6 7-3.8-4.7-4.5z" color="#8232C0"/>
<path d="M289.6 1859.4l1.8-44.6 2.2 7.8-2.1 39.5z" color="#72501E"/>
<path d="M457.7 2102.3l4.8 2.4 9.1-5-4.7-2.5z" color="#7124A0"/>
<path d="M533.8 2100.6l9.7 6.7 13.1-6.7-9.8-6.5z" color="#7828AC"/>
<path d="M385.4 2079.9l4.5 1.9 0.6 0.3-4.5-2.1z" color="#41279E"/>
<path d="M417.8 2095.8l4.7 4.9 6-3-4.7-4.7z" color="#8135C7"/>
<path d="M491.2 2100.3l9.6 6.3 11.2-5.7-9.6-6.2z" color="#7628AA"/>
<path d="M512 2100.9l9.7 5.7 12.1-6-9.7-5.8z" color="#7326A7"/>
<path d="M408.2 2091.9l4.7 6 4.9-2.1-4.7-5.6z" color="#803CD4"/>
<path d="M392.2 2081.9l4.6 5.1 2.8-0.4-4.7-5.4z" color="#633AD9"/>
<path d="M444.9 2103.2l4.8 3.8 8-4.7-4.7-3.6z" color="#7F2AB0"/>
<path d="M399.6 2086.6l4.7 6.4 3.9-1.1-4.7-6.1z" color="#743DDA"/>
<path d="M476.3 2102.4l4.8 3.1 10.1-5.2-4.7-3.1z" color="#7528AA"/>
<path d="M615.3 2104.6l10.1 5.5 15.8-8.4-10.2-5.5z" color="#7525A3"/>
<path d="M433.2 2102.3l4.7 4.9 7-4-4.7-4.7z" color="#8933BF"/>
<path d="M390.5 2082.1l4.7 5.2 1.6-0.3-4.6-5.1z" color="#5F39D8"/>
<path d="M288.7 1853.5l1.6-48.5 1.1 9.8-1.8 44.6z" color="#71491C"/>
<path d="M297.8 1823.2l6.4 40.4 3.7 14.4-6.3-39.7z" color="#DBA83C"/>
<path d="M422.5 2100.7l4.7 4.8 6-3.2-4.7-4.6z" color="#8433C1"/>
<path d="M412.9 2097.9l4.7 5.4 4.9-2.6-4.7-4.9z" color="#8337CA"/>
<path d="M389.9 2081.8l4.7 5.3 0.6 0.2-4.7-5.2z" color="#4D2DB7"/>
<path d="M396.8 2087l4.7 6.7 2.8-0.7-4.7-6.4z" color="#723EDC"/>
<path d="M404.3 2093l4.7 6.4 3.9-1.5-4.7-6z" color="#803DD6"/>
<path d="M462.5 2104.7l4.7 2.5 9.1-4.8-4.7-2.7z" color="#7225A4"/>
<path d="M590.4 2106.7l10 5.9 14.9-8-10-5.9z" color="#7825A4"/>
<path d="M449.7 2107l4.7 2.3 8.1-4.6-4.8-2.4z" color="#71239D"/>
<path d="M395.2 2087.3l4.7 6.9 1.6-0.5-4.7-6.7z" color="#7241E0"/>
<path d="M437.9 2107.2l4.7 4 7.1-4.2-4.8-3.8z" color="#832BB1"/>
<path d="M566.5 2107.4l9.9 6.8 14-7.5-10-6.7z" color="#7B27A9"/>
<path d="M401.5 2093.7l4.8 6.8 2.7-1.1-4.7-6.4z" color="#8040DA"/>
<path d="M394.6 2087.1l4.7 7.1 0.6 0-4.7-6.9z" color="#6234CA"/>
<path d="M427.2 2105.5l4.7 5.2 6-3.5-4.7-4.9z" color="#8C34C1"/>
<path d="M409 2099.4l4.7 5.8 3.9-1.9-4.7-5.4z" color="#863ACE"/>
<path d="M417.6 2103.3l4.7 5 4.9-2.8-4.7-4.8z" color="#8735C3"/>
<path d="M293.6 1822.6l4.2 0.6 3.8 15.1-4.6-6.6z" color="#A66428"/>
<path d="M481.1 2105.5l9.6 6.1 10.1-5-9.6-6.3z" color="#7527A9"/>
<path d="M543.5 2107.3l9.9 7 13.1-6.9-9.9-6.8z" color="#7B28AC"/>
<path d="M399.9 2094.2l4.7 7.1 1.7-0.8-4.8-6.8z" color="#8444DF"/>
<path d="M467.2 2107.2l4.7 3 9.2-4.7-4.8-3.1z" color="#7527A9"/>
<path d="M500.8 2106.6l9.7 5.4 11.2-5.4-9.7-5.7z" color="#7226A6"/>
<path d="M399.3 2094.2l4.8 7.3 0.5-0.2-4.7-7.1z" color="#8041DC"/>
<path d="M521.7 2106.6l9.7 6.9 12.1-6.2-9.7-6.7z" color="#7829AD"/>
<path d="M406.3 2100.5l4.7 6.1 2.7-1.4-4.7-5.8z" color="#893DD2"/>
<path d="M454.4 2109.3l4.7 2.3 8.1-4.4-4.7-2.5z" color="#7024A0"/>
<path d="M413.7 2105.2l4.7 5.3 3.9-2.2-4.7-5z" color="#8A37C6"/>
<path d="M295.6 1814l6.5 43.1 2.1 6.5-6.4-40.4z" color="#E5973A"/>
<path d="M442.6 2111.2l4.7 2.3 7.1-4.2-4.7-2.3z" color="#72239B"/>
<path d="M431.9 2110.7l4.7 4.2 6-3.7-4.7-4z" color="#862CB2"/>
<path d="M422.3 2108.3l4.7 5.4 4.9-3-4.7-5.2z" color="#9036C3"/>
<path d="M625.4 2110.1l10.3 5.4 15.7-8.3-10.2-5.5z" color="#7325A3"/>
<path d="M404.6 2101.3l4.7 6.2 1.7-0.9-4.7-6.1z" color="#8D40D6"/>
<path d="M404.1 2101.5l4.7 6.5 0.5-0.5-4.7-6.2z" color="#9044DA"/>
<path d="M411 2106.6l4.7 5.6 2.7-1.7-4.7-5.3z" color="#8D39C9"/>
<path d="M600.4 2112.6l10.2 5.6 14.8-8.1-10.1-5.5z" color="#7525A2"/>
<path d="M418.4 2110.5l4.8 5.6 3.8-2.4-4.7-5.4z" color="#9438C4"/>
<path d="M409.3 2107.5l4.8 5.7 1.6-1-4.7-5.6z" color="#903BCB"/>
<path d="M427 2113.7l4.7 4.4 4.9-3.2-4.7-4.2z" color="#8A2DB3"/>
<path d="M291.4 1814.8l4.2-0.8 2.2 9.2-4.2-0.6z" color="#964821"/>
<path d="M408.8 2108l4.7 5.7 0.6-0.5-4.8-5.7z" color="#913CCA"/>
<path d="M459.1 2111.6l4.7 2.7 8.1-4.1-4.7-3z" color="#7326A6"/>
<path d="M436.6 2114.9l4.7 2.3 6-3.7-4.7-2.3z" color="#73229A"/>
<path d="M294.5 1804.4l6.8 47.2 0.8 5.5-6.5-43.1z" color="#C77730"/>
<path d="M471.9 2110.2l9.6 6 9.2-4.6-9.6-6.1z" color="#7427A8"/>
<path d="M576.4 2114.2l10 6 14-7.6-10-5.9z" color="#7825A4"/>
<path d="M447.3 2113.5l4.7 2 7.1-3.9-4.7-2.3z" color="#6F239B"/>
<path d="M415.7 2112.2l4.7 5.7 2.8-1.8-4.8-5.6z" color="#9739C6"/>
<path d="M553.4 2114.3l9.9 6.9 13.1-7-9.9-6.8z" color="#7C27A9"/>
<path d="M423.2 2116.1l4.7 4.6 3.8-2.6-4.7-4.4z" color="#8E2EB4"/>
<path d="M490.7 2111.6l9.6 5.3 10.2-4.9-9.7-5.4z" color="#7026A4"/>
<path d="M414.1 2113.2l4.7 5.8 1.6-1.1-4.7-5.7z" color="#993AC6"/>
<path d="M531.4 2113.5l9.9 7.2 12.1-6.4-9.9-7z" color="#7C29AC"/>
<path d="M413.5 2113.7l4.7 5.8 0.6-0.5-4.7-5.8z" color="#983AC4"/>
<path d="M510.5 2112l9.7 7.2 11.2-5.7-9.7-6.9z" color="#7929AE"/>
<path d="M431.7 2118.1l4.7 2.3 4.9-3.2-4.7-2.3z" color="#752298"/>
<path d="M420.4 2117.9l4.8 4.7 2.7-1.9-4.7-4.6z" color="#912FB4"/>
<path d="M290.3 1805l4.2-0.6 1.1 9.6-4.2 0.8z" color="#8D2F1B"/>
<path d="M441.3 2117.2l4.7 1.7 6-3.4-4.7-2z" color="#6D2196"/>
<path d="M452 2115.5l4.7 2.5 7.1-3.7-4.7-2.7z" color="#7225A3"/>
<path d="M418.8 2119l4.7 4.8 1.7-1.2-4.8-4.7z" color="#932FB4"/>
<path d="M418.2 2119.5l4.8 4.8 0.5-0.5-4.7-4.8z" color="#932FB2"/>
<path d="M427.9 2120.7l4.7 2.4 3.8-2.7-4.7-2.3z" color="#772197"/>
<path d="M463.8 2114.3l9.6 5.8 8.1-3.9-9.6-6z" color="#7326A7"/>
<path d="M610.6 2118.2l10.2 5.2 14.9-7.9-10.3-5.4z" color="#7225A2"/>
<path d="M425.2 2122.6l4.6 2.6 2.8-2.1-4.7-2.4z" color="#7A2197"/>
<path d="M436.4 2120.4l4.7 1.5 4.9-3-4.7-1.7z" color="#6C2091"/>
<path d="M586.4 2120.2l10.1 5.6 14.1-7.6-10.2-5.6z" color="#7525A2"/>
<path d="M481.5 2116.2l9.6 4.9 9.2-4.2-9.6-5.3z" color="#6E25A3"/>
<path d="M423.5 2123.8l4.7 2.6 1.6-1.2-4.6-2.6z" color="#7B2196"/>
<path d="M446 2118.9l4.7 2.2 6-3.1-4.7-2.5z" color="#6F249E"/>
<path d="M423 2124.3l4.6 2.5 0.6-0.4-4.7-2.6z" color="#7C2195"/>
<path d="M563.3 2121.2l10 6.1 13.1-7.1-10-6z" color="#7925A4"/>
<path d="M500.3 2116.9l9.8 7.5 10.1-5.2-9.7-7.2z" color="#7A2AB0"/>
<path d="M541.3 2120.7l9.9 7 12.1-6.5-9.9-6.9z" color="#7D28A9"/>
<path d="M520.2 2119.2l9.9 7.3 11.2-5.8-9.9-7.2z" color="#7C29AD"/>
<path d="M432.6 2123.1l4.6 1.3 3.9-2.5-4.7-1.5z" color="#6A1F8C"/>
<path d="M456.7 2118l9.6 5.4 7.1-3.3-9.6-5.8z" color="#7126A5"/>
<path d="M429.8 2125.2l4.7 1 2.7-1.8-4.6-1.3z" color="#6A1E89"/>
<path d="M441.1 2121.9l4.7 1.8 4.9-2.6-4.7-2.2z" color="#6C2299"/>
<path d="M428.2 2126.4l4.7 0.9 1.6-1.1-4.7-1z" color="#6A1D87"/>
<path d="M427.6 2126.8l4.7 0.9 0.6-0.4-4.7-0.9z" color="#6A1D86"/>
<path d="M473.4 2120.1l9.6 4.7 8.1-3.7-9.6-4.9z" color="#6C25A1"/>
<path d="M437.2 2124.4l4.7 1.3 3.9-2-4.7-1.8z" color="#692193"/>
<path d="M450.7 2121.1l9.6 5 6-2.7-9.6-5.4z" color="#6F25A3"/>
<path d="M491.1 2121.1l9.8 7.9 9.2-4.6-9.8-7.5z" color="#7B2BB2"/>
<path d="M596.5 2125.8l10.3 5 14-7.4-10.2-5.2z" color="#7124A0"/>
<path d="M434.5 2126.2l4.7 1 2.7-1.5-4.7-1.3z" color="#661F8D"/>
<path d="M510.1 2124.4l9.8 7.5 10.2-5.4-9.9-7.3z" color="#7D29AE"/>
<path d="M573.3 2127.3l10.1 5.6 13.1-7.1-10.1-5.6z" color="#7524A1"/>
<path d="M530.1 2126.5l9.9 7.2 11.2-6-9.9-7z" color="#7E28AA"/>
<path d="M551.2 2127.7l10 6.3 12.1-6.7-10-6.1z" color="#7A25A3"/>
<path d="M432.9 2127.3l4.6 0.8 1.7-0.9-4.7-1z" color="#651E8A"/>
<path d="M445.8 2123.7l9.5 4.5 5-2.1-9.6-5z" color="#6D24A0"/>
<path d="M432.3 2127.7l4.7 0.7 0.5-0.3-4.6-0.8z" color="#641E88"/>
<path d="M466.3 2123.4l9.6 4.5 7.1-3.1-9.6-4.7z" color="#6A25A0"/>
<path d="M441.9 2125.7l9.5 4.1 3.9-1.6-9.5-4.5z" color="#6A249D"/>
<path d="M483 2124.8l9.8 8.2 8.1-4-9.8-7.9z" color="#7B2CB5"/>
<path d="M500.9 2129l9.8 7.6 9.2-4.7-9.8-7.5z" color="#7D29AE"/>
<path d="M460.3 2126.1l9.6 4.3 6-2.5-9.6-4.5z" color="#68249F"/>
<path d="M439.2 2127.2l9.5 3.7 2.7-1.1-9.5-4.1z" color="#68239A"/>
<path d="M519.9 2131.9l9.9 7.3 10.2-5.5-9.9-7.2z" color="#7F28AA"/>
<path d="M437.5 2128.1l9.5 3.4 1.7-0.6-9.5-3.7z" color="#662298"/>
<path d="M540 2133.7l10 6.4 11.2-6.1-10-6.3z" color="#7B25A3"/>
<path d="M561.2 2134l10.1 5.6 12.1-6.7-10.1-5.6z" color="#7624A0"/>
<path d="M583.4 2132.9l10.2 4.8 13.2-6.9-10.3-5z" color="#70249E"/>
<path d="M437 2128.4l9.5 3.3 0.5-0.2-9.5-3.4z" color="#652297"/>
<path d="M475.9 2127.9l9.8 8.4 7.1-3.3-9.8-8.2z" color="#7B2DB7"/>
<path d="M455.3 2128.2l9.6 4.3 5-2.1-9.6-4.3z" color="#66249F"/>
<path d="M492.8 2133l9.8 7.8 8.1-4.2-9.8-7.6z" color="#7E2AAF"/>
<path d="M451.4 2129.8l9.6 4.3 3.9-1.6-9.6-4.3z" color="#65259F"/>
<path d="M510.7 2136.6l9.9 7.6 9.2-5-9.9-7.3z" color="#7F28AB"/>
<path d="M469.9 2130.4l9.7 8.7 6.1-2.8-9.8-8.4z" color="#7B2EB9"/>
<path d="M529.8 2139.2l10 6.5 10.2-5.6-10-6.4z" color="#7C25A3"/>
<path d="M448.7 2130.9l9.6 4.3 2.7-1.1-9.6-4.3z" color="#6525A0"/>
<path d="M550 2140.1l10.1 5.7 11.2-6.2-10.1-5.6z" color="#76249F"/>
<path d="M447 2131.5l9.6 4.4 1.7-0.7-9.6-4.3z" color="#6425A1"/>
<path d="M485.7 2136.3l9.8 8.2 7.1-3.7-9.8-7.8z" color="#7E2AB1"/>
<path d="M571.3 2139.6l10.2 4.5 12.1-6.4-10.2-4.8z" color="#6F239C"/>
<path d="M446.5 2131.7l9.5 4.4 0.6-0.2-9.6-4.4z" color="#6425A1"/>
<path d="M464.9 2132.5l9.8 8.7 4.9-2.1-9.7-8.7z" color="#7A2EBA"/>
<path d="M502.6 2140.8l9.9 7.7 8.1-4.3-9.9-7.6z" color="#8028AB"/>
<path d="M461 2134.1l9.8 8.7 3.9-1.6-9.8-8.7z" color="#792EBB"/>
<path d="M479.6 2139.1l9.8 8.4 6.1-3-9.8-8.2z" color="#7F2BB2"/>
<path d="M520.6 2144.2l10 6.6 9.2-5.1-10-6.5z" color="#7D25A4"/>
<path d="M539.8 2145.7l10.1 5.8 10.2-5.7-10.1-5.7z" color="#77249F"/>
<path d="M458.3 2135.2l9.7 8.7 2.8-1.1-9.8-8.7z" color="#782EBB"/>
<path d="M495.5 2144.5l9.9 7.8 7.1-3.8-9.9-7.7z" color="#8129AC"/>
<path d="M560.1 2145.8l10.2 4.3 11.2-6-10.2-4.5z" color="#6D239A"/>
<path d="M456.6 2135.9l9.8 8.6 1.6-0.6-9.7-8.7z" color="#772EBB"/>
<path d="M474.7 2141.2l9.8 8.8 4.9-2.5-9.8-8.4z" color="#802CB4"/>
<path d="M456 2136.1l9.8 8.6 0.6-0.2-9.8-8.6z" color="#772EBB"/>
<path d="M512.5 2148.5l10 6.9 8.1-4.6-10-6.6z" color="#7E25A4"/>
<path d="M470.8 2142.8l9.8 9.1 3.9-1.9-9.8-8.8z" color="#802DB6"/>
<path d="M489.4 2147.5l9.9 8 6.1-3.2-9.9-7.8z" color="#8129AC"/>
<path d="M530.6 2150.8l10.1 5.8 9.2-5.1-10.1-5.8z" color="#78239E"/>
<path d="M468 2143.9l9.9 9.3 2.7-1.3-9.8-9.1z" color="#812EB8"/>
<path d="M466.4 2144.5l9.8 9.5 1.7-0.8-9.9-9.3z" color="#812FBA"/>
<path d="M549.9 2151.5l10.1 4.1 10.3-5.5-10.2-4.3z" color="#6D2298"/>
<path d="M505.4 2152.3l10 7.1 7.1-4-10-6.9z" color="#7F26A4"/>
<path d="M484.5 2150l9.9 8.1 4.9-2.6-9.9-8z" color="#8229AD"/>
<path d="M465.8 2144.7l9.8 9.6 0.6-0.3-9.8-9.5z" color="#812FBA"/>
<path d="M480.6 2151.9l9.9 8.2 3.9-2-9.9-8.1z" color="#8229AE"/>
<path d="M522.5 2155.4l10 5.9 8.2-4.7-10.1-5.8z" color="#79239E"/>
<path d="M499.3 2155.5l10 7.2 6.1-3.3-10-7.1z" color="#8026A5"/>
<path d="M477.9 2153.2l9.8 8.3 2.8-1.4-9.9-8.2z" color="#822AAE"/>
<path d="M540.7 2156.6l10.1 4 9.2-5-10.1-4.1z" color="#6C2297"/>
<path d="M476.2 2154l9.9 8.3 1.6-0.8-9.8-8.3z" color="#822AAF"/>
<path d="M475.6 2154.3l9.9 8.3 0.6-0.3-9.9-8.3z" color="#822AAF"/>
<path d="M494.4 2158.1l10 7.4 4.9-2.8-10-7.2z" color="#8126A6"/>
<path d="M515.4 2159.4l10 6 7.1-4.1-10-5.9z" color="#7A239E"/>
<path d="M490.5 2160.1l10 7.5 3.9-2.1-10-7.4z" color="#8226A6"/>
<path d="M532.5 2161.3l10.2 3.9 8.1-4.6-10.1-4z" color="#6C2195"/>
<path d="M509.3 2162.7l10.1 6.2 6-3.5-10-6z" color="#7B239E"/>
<path d="M487.7 2161.5l10 7.7 2.8-1.6-10-7.5z" color="#8227A7"/>
<path d="M486.1 2162.3l10 7.8 1.6-0.9-10-7.7z" color="#8327A7"/>
<path d="M485.5 2162.6l10 7.8 0.6-0.3-10-7.8z" color="#8327A8"/>
<path d="M504.4 2165.5l10 6.3 5-2.9-10.1-6.2z" color="#7C239E"/>
<path d="M525.4 2165.4l10.1 3.9 7.2-4.1-10.2-3.9z" color="#6C2194"/>
<path d="M500.5 2167.6l10 6.5 3.9-2.3-10-6.3z" color="#7D239F"/>
<path d="M497.7 2169.2l10.1 6.5 2.7-1.6-10-6.5z" color="#7E249F"/>
<path d="M519.4 2168.9l10.1 4.1 6-3.7-10.1-3.9z" color="#6D2194"/>
<path d="M496.1 2170.1l10 6.6 1.7-1-10.1-6.5z" color="#7E249F"/>
<path d="M495.5 2170.4l10 6.7 0.6-0.4-10-6.6z" color="#7F249F"/>
<path d="M514.4 2171.8l10.1 4.6 5-3.4-10.1-4.1z" color="#702196"/>
<path d="M510.5 2174.1l10.1 5.1 3.9-2.8-10.1-4.6z" color="#732197"/>
<path d="M507.8 2175.7l10.1 5.4 2.7-1.9-10.1-5.1z" color="#762299"/>
<path d="M506.1 2176.7l10.1 5.5 1.7-1.1-10.1-5.4z" color="#77229A"/>
<path d="M505.5 2177.1l10.2 5.5 0.5-0.4-10.1-5.5z" color="#78229A"/>
</g>
<path d="M120.2 1920.6l127.4-50M279 1858.3l10.9-4.2M304.4 1848.4l136.1-53.5 140.2-55.7M131.8 1893.6l10.4 7.3 24.5 14.1 29 18.8 3.7 1.8 3.6 1.3 7.2 2 6.4 1.2M288.2 1864.7l0.5-0.3 1.1 1.8M324.9 1878.1l1.5-0.2 4.7 10.7 5.2 19.4 5.2 22.7 5.1 20.3 4.8 13.9 4.6 6.9 4.3 2.1 4.4 1.2 4.4 3.5 4.6 7.7 4.8 11.5 9.6 26.1 4.7 10.7 4.7 8.1 4.6 5.9 18.3 17.2 18.6 19.8 14 13.1 4.7 3.6 9.5 4.9 14.3 9 9.6 4.9 24.6 19.4 9.9 7.1 5 3.2 10.1 5.8 5 2.6 5.1 1.4M142.1 1932.1l13.2-4.1 20.4-7.3 29.2-11.3 42.7-17.2M312.7 1865.8l128.9-53.1 162.7-67.7M164.2 1881l14 8.8 41.6 24.7M318.8 1864.7l1-1.2 4 0.9 4.4 6 4.5 8.4M352.8 1878.4l0.5-0.6 4.2-0.8 4.4 5.4 4.7 11.5 9.7 31.2 4.7 13.2 4.6 9.2 4.5 5.8 8.9 8.7 4.6 6.6 4.6 9.1 14.1 31.7 4.6 8.5 4.6 6.8 4.6 5.6 23 24.5 9.3 9.4 18.7 16.2 4.7 3.4 4.7 2.7 19.2 12.6 9.7 5.7 24.5 17.5 10 6.6 15.1 8.6 10.2 4.7M165.3 1953.6l8.3-5.3 10.4-5.9 14.5-7.3 18.8-8.6M233.9 1919.1l13.6-5.9M431.3 1832.2l197.1-86.2M196.1 1868.8l31.8 19.1 21.3 11.8M351.1 1856.8l2.5-1.7 4.1 1.6 4.3 5.2 4.4 6.7 4.3 5.4 1.6 0.9M383.2 1872.5l4.2-2 4.2 1.5 4.5 6.4 4.6 10.7 9.4 26.2 4.6 10.8 4.5 8 4.5 5.6 4.4 4.6 4.5 5.4 4.6 7.1 4.5 8.7 9.3 19.6 4.6 8.9 4.6 7.6 4.6 6.4 4.5 5.5 18.4 20.1 9.3 9.5 9.3 8.6 14.1 11.4 4.7 3.2 19.1 12.7 19.4 12.2 24.7 16.6 15.1 8.7 15.3 8M187 1951l0.5 0.2 1.7-0.3 11.3-2.1 5.9-1.8 8.9-3.3M502.7 1808.5l78.4-35.1 72.2-31.6M227.3 1856.9l21.2 12.5M382 1847.8l0.5-0.6 4-1.6 4.2 2 4.3 4.9 4.3 5.9 4.4 4.7 4.2 2.2 4.2-0.3 4.2-1.7 4.2-0.6 4.3 2.4 4.5 6.5 4.5 9.9 9.2 23.3 4.5 9.6 4.5 7.2 13.4 15.7 4.5 6.9 4.6 8.3 9.1 18 4.6 8.2 4.5 7.1 4.6 6.1 4.6 5.4 18.3 20 9.3 9.5 9.3 8.4 9.4 7.5 9.5 6.9 14.3 9.6 49 31.1 10 5.9 20.4 11M211.1 1970.7l0.4-1M507.2 1807l75.4-32.4 96.4-40.2M274.3 1854.6l14.9 8.2M413.1 1838.1l1.5-1.4 4.1-0.9 4.2 2.3 4.3 4.7 4.3 5.5 4.3 4.5 4.3 2.2 4.2 0.1 4.3-0.9 4.2 0.1 4.4 2.8 4.4 6.4 4.5 9.3 9 21.2 4.5 8.7 4.4 6.7 13.4 15.3 4.5 6.7 13.6 24.7 4.5 7.6 4.6 6.8 9.1 11.1 18.3 19.8 9.3 9.2 9.3 8.3 9.4 7.5 9.5 6.8 14.3 9.7 49.1 30.5 30.5 16.8M232.4 1943.3l0.4-1.7 1.6-1 6.9 2.3 4.9-1.3 2.1-1.4M568.2 1785.9l137-53M287.9 1833.8l2.2 1.3M302.2 1841.7l21.7 11.4 15.1 6.9M443.5 1828.2l2.5-1.8 4.2-0.4 4.2 2.5 4.3 4.6 4.3 5.3 4.3 4.3 4.3 2.3 4.2 0.4 4.3-0.4 4.3 0.5 4.4 3.1 4.4 6.1 4.4 8.8 8.9 19.6 4.4 8.1 4.5 6.2 13.3 14.8 4.5 6.4 13.5 23.3 4.5 7.2 4.5 6.4 9.1 10.7 13.8 14.7 9.2 9.5 9.3 8.7 9.3 7.7 9.5 7.1 23.9 16.2 44.3 26.8 30.5 16.7M288.2 1865.1l0.9 0.1M311.1 1865.9l8-1 12.3-2.4 27.4-6.7 47.6-13.6 54.7-16.8 61-19.4 66.2-21.8 70.7-24 72.9-25.5M317.3 1822.6l21.6 11.5 14.6 7.2 11 4.7 11.1 3.9M472.6 1818.5l4.1-2.3 4.2 0 4.3 2.6 8.5 9.7 4.3 4.2 4.3 2.4 4.3 0.6 4.3 0 4.3 0.8 4.4 3.2 4.4 5.9 4.4 8.3 8.8 18.3 4.4 7.6 4.4 5.8 8.9 9.2 4.4 5.1 4.5 6.1 13.4 22 4.5 6.9 4.5 6 9.1 10.4 13.7 14.4 9.2 9.3 9.3 8.6 9.3 7.6 9.5 7.1 9.5 6.6 14.4 9.5 44.3 26.4 30.5 16.6M286.1 2023.7l0-10.3 1.4-14.5M382.6 1872.7l86.2-24.4 38.8-11.6 41.3-12.9 43.6-14.1 45.8-15.3 47.5-16.3 72.8-25.8M346.2 1811.6l21.6 11.1 18.4 8.4 7.4 2.9 7.4 2.5 9.8 2.3M501.6 1808.7l1-0.8 4.2-1.8 4.2 0.4 4.2 2.7 8.6 9.5 4.3 4.1 4.3 2.5 4.3 0.8 4.3 0.2 4.3 1 4.4 3.2 4.4 5.8 4.3 7.8 8.8 17.2 4.4 7.1 4.4 5.6 8.8 8.8 4.5 4.9 4.4 5.8 13.4 20.9 4.5 6.5 4.5 5.9 9 10 13.7 14 9.2 9.2 9.3 8.4 9.3 7.6 9.5 7 9.5 6.7 14.4 9.4 14.6 8.8 24.7 14.4 35.5 19.2M303.3 1870.2l0.8 4 2 5.2 8.4 29.4 5.8 13.9 6.6 8.5 7.5 3.9 8.4 0.7 9.3-1.1 10.3-2.3 11.3-3 39.6-12.1 47.5-15.8 54.5-19.1 60.8-22.2 66.1-24.7 70.4-27 72.7-28.4M374.5 1800.7l25.4 12.6 11 4.8 7.4 2.8 7.5 2.5 7.5 1.9 7.5 1.2 6.2 0.5M498.6 1809.9l5.1-1.7M528.9 1799.6l3.1-2 4.2-1.4 4.2 0.7 4.3 2.8 8.5 9.3 4.3 4.1 4.3 2.4 4.3 1 4.3 0.4 4.4 1.2 4.4 3.1 4.3 5.6 4.3 7.5 8.7 16.3 4.4 6.7 4.4 5.3 8.8 8.4 4.5 4.7 4.4 5.5 13.3 20 4.5 6.2 4.5 5.6 9 9.7 18.2 18.2 13.9 12.7 9.4 7.5 14.1 10.3 9.6 6.5 14.4 9.1 34.5 20 35.5 18.9M349.3 1986.8l6.7-1.8 15.4-2.5 9.3-2 10.2-2.7 23.5-7.5 13.1-4.7 28.9-11 49.8-20.1 56.5-23.6 249.9-106.3M402.3 1790.1l14.5 7.1 14.7 6.6 11.1 4.3 11.2 3.5 11.3 2.3 7.6 0.6 7.6-0.2 8.7-1.3M518.6 1802.3l5-2.8 4-1.9 4.1-1.3 9.2-0.9M556 1790.1l4.8-2.6 4.2-1 4.2 0.8 4.3 2.9 8.5 9.2 4.2 4 4.3 2.5 4.4 1 4.3 0.6 4.4 1.3 4.4 3.1 4.3 5.3 12.9 22.7 4.4 6.3 4.4 5.1 8.8 8.1 4.5 4.4 4.4 5.4 13.2 19 9 11.3 9 9.4 18.2 17.8 9.2 8.5 9.3 7.7 18.8 13.9 9.6 6.4 14.4 9.1 34.5 19.7 35.5 18.7M366.6 2076.5l0.5-2 1.6-2.5 2.7-2.8 8.6-7.7 5.9-4.7 7-4.8 8-4.9 9.1-5.1 21.2-11.2 86-43 114.6-56 112.1-53.7 96.2-45.3M429.6 1779.7l18.2 8.5 14.7 6.1 11.2 3.8 11.3 2.7 11.4 1.5 7.7 0 3.8-0.3 11.7-2 11.3-2.9M543.4 1791.8l8.1-4.3 4.1-1.7 4.1-1 12.4-0.8 3.1-0.6M581 1781.3l7.9-3.7 4.3-0.8 4.2 1 4.3 3 8.4 9 4.3 4 4.3 2.5 4.4 1.1 4.3 0.7 4.4 1.3 4.3 3.1 4.4 5.2 12.8 21.6 4.4 6 4.4 4.8 8.8 7.8 4.4 4.4 4.4 5.1 13.2 18.2 8.9 10.8 9.1 9.1 18.2 17.3 9.1 8.3 9.3 7.6 14.1 10.4 9.5 6.5 14.4 9.3 14.6 8.7 19.7 11 40.4 21.2M394.6 2087.1l0.6 0.2 8.3-1.5 11-3.5 15.1-6.4 30.4-14.4 53.8-26.8 212.3-107.5 142.3-71M456.4 1769.4l21.9 9.8 11.1 4.2 7.5 2.5 7.5 2 7.6 1.5 7.6 0.9 7.7 0.2 11.6-1.1 15.8-3.5 8-2.5 4-1.6 12.2-5.8 4.1-1.5 4.1-1 4.1-0.3 8.4 0 4.2-0.6 4.2-1.3 8.5-3.4 4.3-0.6 4.2 1.2 4.3 3 8.4 8.9 4.3 3.9 4.3 2.4 4.3 1.2 4.4 0.8 4.4 1.4 4.3 3 4.3 5.1 12.9 20.6 4.3 5.8 4.4 4.6 8.8 7.5 4.4 4.2 4.4 4.9 13.2 17.4 8.9 10.4 9 8.8 18.1 16.9 13.8 11.9 9.3 7.2 14.2 10 9.5 6.3 14.4 9 14.7 8.4 19.7 10.9 35.5 18.2M424.1 2124.9l13.7-9.4 13-7.9 17.2-9.8 33.4-17.8 396.1-203.4M482.7 1759.4l22 9.4 14.9 5.1 7.5 2.1 7.5 1.5 7.7 1 7.6 0.4 11.7-0.7 7.9-1.4 11.9-2.7 8-2.4 16.3-6.9 4.2-1.4 4.1-0.8 4.2-0.2 8.3 0.2 4.2-0.4 4.3-1.1 8.5-2.8 4.3-0.4 4.3 1.3 4.2 3 8.4 8.8 4.3 3.8 4.3 2.5 4.3 1.3 4.4 0.8 4.4 1.4 4.4 3 4.2 4.9 12.8 19.8 4.3 5.5 4.4 4.5 8.8 7.2 4.4 4 4.4 4.7 13.2 16.7 8.8 10 9 8.6 18.1 16.4 13.8 11.6 9.3 7.1 14.1 9.9 24 15.1 14.6 8.4 19.7 10.7 35.4 18M453.6 2134.9l19.9-8.1 15.2-6.9 19.4-9.2 36.3-18.1 154.8-79.4 228.2-118.6M508.6 1749.5l22 9 14.9 4.8 7.5 1.9 7.6 1.4 7.7 0.8 7.7 0.2 11.7-0.9 7.9-1.4 12-2.8 8.1-2.3 16.4-6.3 4.2-1.2 4.1-0.7 4.2-0.1 8.3 0.5 4.3-0.3 4.2-0.9 8.6-2.4 4.3-0.1 4.3 1.3 4.2 3.1 8.4 8.6 4.2 3.8 4.3 2.5 4.4 1.3 4.4 0.8 4.4 1.5 4.3 2.9 4.3 4.8 12.7 19 4.3 5.3 4.4 4.3 8.8 6.9 4.4 3.9 4.4 4.6 13.1 16 8.8 9.6 27.1 24.3 13.8 11.3 9.3 7 14.1 9.8 23.9 14.9 14.5 8.3 19.8 10.7 35.3 17.7M484.3 2161.6l26.9-14 142.4-76 304.5-160.6M533.9 1739.7l11 4.6 11.1 4.1 15 4.5 7.5 1.7 7.6 1.2 11.6 0.8 11.7-0.6 7.9-1.2 8-1.6 16.1-4.1 16.6-5.8 4.1-1.1 4.2-0.6 4.2 0 8.3 0.7 4.3-0.1 12.9-2.7 4.3 0 4.2 1.5 4.2 3 8.4 8.6 4.3 3.7 4.3 2.4 4.3 1.4 4.4 0.9 4.4 1.4 4.3 2.9 4.3 4.6 12.7 18.4 4.3 5.1 4.3 4 8.8 6.8 4.4 3.8 4.4 4.4 13.1 15.3 8.8 9.3 27.1 23.6 13.7 11.1 9.3 6.8 14 9.6 23.9 14.8 14.6 8.2 19.7 10.6 35.2 17.5" fill="none" stroke="#2e2e2e" stroke-width="2.8" stroke-linejoin="round" stroke-linecap="round"/>
<path d="M98.8 1908.4l7 5.5 3.4 2.3 3.4 1.7 6.8 2.4 10.3 4 3.4 1.6 3.6 2 3.6 2.6 11 9.8 7.5 8.1 3.8 3.7 3.6 2 3.4-0.1 7 0.4 3.5-1 3.4-1.5 3.5-0.9 3.6 1.2 4 4.7 8.4 15.7 4 4.4 3.4-3.2 2.7-12.7 2.2-20.8 2.1-22.3 2.7-14.3 4 2.1 5.3 21 6 33 5.9 30.1 4.5 10.7 2.5-20.2 0.5-51.4-0.6-68.6 0.2-60.3 2.5-24.3 5.7 25.7 8.2 66.8 8.8 79.6 7.6 59.5 4.9 16.3 2.3-30 0.3-66.1 0-74.1 1.6-48.5 4.2-0.6 6.8 47.2 15.9 144.5 6.5 46 4.7 12.7 3.5-15.5 2.8-29.1 3.1-25.3 3.9-9 4.8 10.8 5.5 24.9 5.6 29.3 5.3 24.4 4.9 14.9 4.6 5.5 4.4-1.1 4.2-3.2 4.4-1.5 4.5 1.9 4.7 5.3 9.5 14.4 4.7 6.5 9.4 11.5 4.8 4.8 4.6 2.5 9.4 1.6 4.7 1.6 9.5 3.6 4.8 2.5 4.9 3.6 9.8 10.2 9.9 8.6 9.9 8.1 5 3.8 5 3.5 5 3.2 5.1 2.9 5.1 2.6M863.8 1852.6l2.1 1.6 2 1.6 2 1.5 2 1.6 2.1 1.5 2 1.5 2 1.5 2.1 1.4 2 1.5 2.1 1.4 2 1.4 2.1 1.4 2.1 1.4 2 1.4 2.1 1.4 2.1 1.3 2 1.4 2.1 1.3 2.1 1.3 2.1 1.3 2.1 1.3 2.1 1.3 2.1 1.3 2.1 1.3 2.1 1.2 2.1 1.3 2.2 1.2 2.1 1.2 2.1 1.2 2.1 1.2 2.2 1.2 2.1 1.2 2.1 1.2 2.2 1.2 2.1 1.2 2.2 1.1 2.2 1.2 2.1 1.1 2.2 1.2 2.2 1.1 2.1 1.2 2.2 1.1 2.2 1.1 2.2 1.1 2.2 1.2 2.2 1.1 2.2 1.1 2.2 1.1 2.2 1.1 2.2 1.1 2.2 1.1 2.2 1 2.2 1.1 2.3 1.1 2.2 1.1 2.2 1.1 2.3 1 2.2 1.1 2.3 1.1M98.8 1908.4l12.9-6.4 20.1-8.4 117.7-45.1M269.5 1840.9l19.7-7.6M299.9 1829.3l257.8-98.7 1.1 0M515.7 2182.6l13.8-9.6 6-3.7 24.5-13.7 201.9-107.2 227.7-122 1.1 0.1" fill="none" stroke="#000" stroke-width="3.4" stroke-linejoin="round" stroke-linecap="round"/>
<path d="M57.6 1675.9L512.7 1924.8M512.7 1924.8L1033.1 1694.1M514.5 2203.7L512.7 1924.8M82.0 1915.2L57.6 1675.9" stroke="#868686" stroke-width="1.6" fill="none"/>
<path d="M82.0 1915.2L514.5 2203.7M514.5 2203.7L1007.8 1936.6M1007.8 1936.6L1033.1 1694.1M88.8 1919.7L96.6 1916.7M123.5 1942.8L128.0 1941.0M159.4 1966.8L164.0 1965.0M196.8 1991.7L201.3 1989.8M235.6 2017.6L240.2 2015.6M275.9 2044.5L284.0 2040.9M317.9 2072.5L322.5 2070.4M361.6 2101.7L366.3 2099.5M407.1 2132.1L411.9 2129.8M454.7 2163.8L459.4 2161.4M504.3 2196.9L512.6 2192.5M525.9 2197.5L525.9 2187.7M581.7 2167.3L581.8 2161.5M635.4 2138.3L635.5 2132.5M687.0 2110.3L687.2 2104.6M736.7 2083.4L736.9 2077.8M784.6 2057.5L785.1 2048.3M830.7 2032.5L831.1 2027.0M875.3 2008.3L875.7 2003.0M918.3 1985.1L918.7 1979.7M959.8 1962.6L960.3 1957.3M999.9 1940.8L1000.8 1932.2M1008.8 1926.9L999.2 1922.6M1010.5 1910.6L1004.6 1908.0M1012.2 1894.3L1006.3 1891.7M1013.9 1877.8L1008.0 1875.2M1015.7 1861.2L1009.7 1858.6M1017.4 1844.5L1007.6 1840.3M1019.2 1827.6L1013.2 1825.1M1021.0 1810.6L1014.9 1808.2M1022.7 1793.5L1016.7 1791.1M1024.5 1776.3L1018.4 1773.9M1026.3 1759.0L1016.3 1755.1M1028.2 1741.5L1022.0 1739.1M1030.0 1723.9L1023.8 1721.5M1031.9 1706.1L1025.7 1703.8" stroke="#222" stroke-width="1.3" fill="none"/>
<text x="61.0" y="1943.0" font-family="Liberation Sans, sans-serif" font-size="28.0" text-anchor="middle">−5</text>
<text x="257.0" y="2069.0" font-family="Liberation Sans, sans-serif" font-size="28.0" text-anchor="middle">0</text>
<text x="484.0" y="2224.0" font-family="Liberation Sans, sans-serif" font-size="28.0" text-anchor="middle">5</text>
<text x="211.0" y="2085.0" font-family="Liberation Sans, sans-serif" font-size="26.0" text-anchor="middle">x</text>
<text x="527.0" y="2240.0" font-family="Liberation Sans, sans-serif" font-size="28.0" text-anchor="middle">0.0</text>
<text x="783.0" y="2099.0" font-family="Liberation Sans, sans-serif" font-size="28.0" text-anchor="middle">0.5</text>
<text x="996.0" y="1981.0" font-family="Liberation Sans, sans-serif" font-size="28.0" text-anchor="middle">1.0</text>
<text x="780.0" y="2150.0" font-family="Liberation Sans, sans-serif" font-size="26.0" text-anchor="middle">t</text>
<text x="1049.0" y="1948.0" font-family="Liberation Sans, sans-serif" font-size="28.0" text-anchor="middle">0.00</text>
<text x="1056.0" y="1866.0" font-family="Liberation Sans, sans-serif" font-size="28.0" text-anchor="middle">0.05</text>
<text x="1066.0" y="1780.0" font-family="Liberation Sans, sans-serif" font-size="28.0" text-anchor="middle">0.10</text>
<text x="1089.0" y="1838.0" font-family="Liberation Sans, sans-serif" font-size="26.0" text-anchor="middle">u</text>
<text transform="translate(544.9 1454.2) scale(1.045 1)" font-family="Liberation Sans, sans-serif" font-size="32.8" text-anchor="middle"><tspan font-style="italic">β</tspan>= 0.5000 <tspan font-style="italic">α</tspan>= 1.7500 <tspan font-style="italic">μ</tspan>= 0.2500</text>
<text transform="translate(551.4 1508.3) scale(1.045 1)" font-family="Liberation Sans, sans-serif" font-size="32.8" text-anchor="middle"><tspan font-style="italic">θ</tspan><tspan font-style="italic" font-size="25.6" dy="6.6">α</tspan><tspan dy="-6.6">= 0.1000 </tspan><tspan font-style="italic">θ</tspan><tspan font-style="italic" font-size="25.6" dy="6.6">μ</tspan><tspan dy="-6.6">= 0.0000</tspan></text>
<g shape-rendering="geometricPrecision">
<rect x="1263.0" y="1171.5" width="967.8" height="967.5" fill="#4B25B0"/>
<path d="M1263 2139l64.7 0-0.5-42.6-1.4-30.9-2.3-26.2-3.7-24.1-3.2-15.5-3.6-14.2-3.2-10.9-4.9-14.2-3.2-8.1-4.8-10.3-3.3-4.6-1.6-1.2-1.6-0.5-1.6 0.3-1.6 0.8-1.6 1.5-3.2 4.4-3.6 6.7-11 24.2-1.6 3-3.2 4.3zM1410.8 2139l51.7 0-5.5-16.4-6.9-17.3-4.8-9-3.3-4-1.6-1.3-4.8-2-4.8 0.3-3.1 1.3-1.8 1.3-2.6 2.6-2.2 3-3.4 6.7-2.8 8.7-2.3 11.6zM2024.3 2139l52.7 0-0.7-7.7-1.4-10.7-1.6-7.7-2.1-6.8-2.6-5.8-3.9-6.1-3.3-6.4-9.6-24.4-3.3-5.2-1.6-1.2-1.6-0.1-1.6 1.1-1.6 2.3-3.2 8.8-3.9 16.7-9 48.4-1 3.8zM2146.7 2139l84.1 0 0-35.7-3.1-21.4-1.7-15.5-3.3-39.3-3.2-58.8-3.9-92.5-3.2-61.9-3.3-50.3-2.5-28.5-1.6-13.1-1.6-7.6-4.9-13.2-4.8-10.8-3.2-5.4-3.3-3.7-3.2-1.6-1.6 0-1.6 0.7-3.2 3.1-1.6 2.6-3.3 7.4-4.8 16.2-6.5 30.2-6.4 38.6-7.1 50.9-6.3 54.2-4.1 42.6-2.4 34.8-1.3 30.9-0.3 27.1 0.7 28.1 1.7 26.1 2.5 23.2 3.8 23.2z" fill="#7A1D88" stroke="#7A1D88" stroke-width="0.6" fill-rule="evenodd"/>
<path d="M1574.6 2139l10.2 0 0.8-1.9 0-17.4 4.3-37.8 0.7-12.6-0.1-12.5-1.5-26.2-8.2-98.9-5-67.5-4.9-77.4-5-92.8-5-108.4-4.9-123.8-4.8-139.4-4.6-150.9-80.3 0 12.1 178 11.1 147.1 11.2 127.7 11.6 112.2 8.1 69.7 9.4 73.5 11.6 85.1 9.7 66.8 6.2 37.7 4.7 24.2 4.9 19.4 7.3 21.3zM1626.7 2139l8 0 1.5-1 2.6-6.2 1.6-2.2 1.7-1.2 3.2-0.6 3.2 0.8 4.8 2.8 3.3 3.1 2.2 3.5 1.1 1 5.2 0-1.2-3.9-2.5-4.6-6.4-9-8.1-10.2-4.8-5.5-4.9-4.6-3.2-2.2-3.2-1-1.6 0-1.7 0.7-1.6 1.7-1.6 3.8-0.6 3.8-0.1 4.9 0.5 4.8 3.5 17.4-0.3 2.9zM1731 2139l4.7 0 2.6-1 3.8-2.6 3.2-0.5 3.2 0.8 5.6 3.3 4.7 0-3.8-5.6-3.3-3.1-4.8-3-4.8-1.5-3.3 0.6-1.6 1.1-1.8 2.8-2.4 6.8-0.6 0.9zM1824.8 2139l5.2 0 1.8-1 3.8-5.3 1.6-1.4 1.6-0.8 3.3-0.4 3.2 0.8 3.2 1.7 3.2 2.6 3.5 3.8 7.9 0-0.8-3.9-2-3.8-3.7-5.4-4.9-5.7-4.8-4.7-3.2-2.4-3.2-1.6-3.3-0.5-3.2 0.9-1.6 1.2-1.6 1.9-1.6 3.1-1.8 6.4-1 11.6-0.7 1.9zM1904.7 2138l0.5 1 10.2 0 0.5-2.9-3.1-18.4-1.2-11.6-0.5-15.5 0.3-22.8 3.3-87.3 12.2-298.2 5.4-147 5.2-181.9 3.7-181.9-99.2 0 4.9 61.3 3.7 54.8 4.4 79.9 3.2 71.4 5.6 158.3 8.6 305.7 2.4 61.9 2.4 46.5 1.8 24.2 2.2 21.3 2.3 17.4 2.7 14.5 2.9 11.6 3.2 9.7 3.7 8.7 7.2 14.5z" fill="#405CCD" stroke="#405CCD" stroke-width="0.6" fill-rule="evenodd"/>
<path d="M1584.8 2139l10.7 0 1.6-1 2.5-4.8 2.1-2.5 1.6-1 3.3-0.7 3.2 0.7 3.2 2 3 3.4 1.5 3.9 9.2 0 0.6-1 0.3-2.9-3.5-17.4-0.5-4.8 0.1-4.9 0.6-3.8 1.6-3.8 1.6-1.7 1.7-0.7 1.6 0 3.2 1 3.2 2.2 4.9 4.6 4.8 5.5 8.1 10.2 6.4 9 2.5 4.6 1.2 3.9 4.2 0-0.3-2.9-0.8-2.9-9.6-22.3-3-8.7-2.7-9.6-4.7-22.3-3.6-25.1-3.8-37.8-3.3-46.4-2.9-58.1-2.2-65.8-1.3-69.6-0.6-73.6 0.2-77.4 1.1-81.2 1.8-81.3 2.8-92.9 3.5-92.8 4.4-96.8-97.7 0 4.6 150.9 4.8 139.3 4.9 123.9 5 108.4 5 92.8 5 79.3 4.9 65.6 7.8 93.1 1.7 27.1 0.3 14.5-0.5 12.6-0.9 10.7-3.3 26.1-0.4 8.7 0.2 11.6-0.3 1.9zM1727.3 2139l3.7 0 1.4-1 3-7.7 1.1-1.9 2.3-2 3.3-0.6 4.8 1.5 4.8 3 3.3 3.1 3.8 5.6 3.8 0-1.4-3.9-1.6-2.9-3-4.3-4.9-5.7-8-7.4-3.3-2.1-3.2-0.9-1.6 0.1-2.1 1-1.8 1.9-1.4 2.9-1.4 6.8-0.2 11.6-0.5 1.9zM1820.7 2139l4.1 0 0.9-1 0.8-2.9 1.1-11.4 1.6-5.6 1.6-3.1 1.6-1.9 1.6-1.2 3.2-0.9 3.3 0.5 3.2 1.6 3.2 2.4 4.8 4.7 4.9 5.7 3.7 5.4 2 3.8 0.8 3.9 9.2 0 1.4-1 0.5-0.9 2.2-6.8 1.2-1.2 1.6-0.5 3.2 0.7 3.2 1.8 3.2 2.6 3.9 4.3 1.8 1 10.7 0-2-5.8-7.2-14.5-3.7-8.7-3.2-9.7-2.9-11.6-2.7-14.5-2.3-17.4-2.2-21.3-1.8-24.2-2.4-46.5-2.4-61.9-8.6-305.7-5.6-158.3-3.2-71.4-4.4-79.9-3.7-54.8-4.9-61.3-133.2 0 4.2 38.4 3.3 23.1 3.9 19.8 2.5 7.8 1.6 3.1 1.6 1.5 1.6 0.2 1.7-1.2 1.6-2.4 1.6-3.4 4.8-15.3 8.1-31.6 3.2-10.6 3.2-7.3 1.7-2.1 1.6-0.8 1.6 0.5 1.6 2 1.6 3.6 3.2 12.1 3.3 18.9 3.2 25.7 3.2 32.2 4.8 59.7 4.9 71 6.4 107.2 25.3 445.1 2.7 63.9 0.5 69.6 1.1 14.5 2.9 17.5 0.1 2.9z" fill="#4A8EBE" stroke="#4A8EBE" stroke-width="0.6" fill-rule="evenodd"/>
<path d="M1595.5 2139l22 0-1.5-3.9-3-3.4-3.2-2-3.2-0.7-3.3 0.7-1.6 1-2.1 2.5-2.5 4.8zM1669.3 2139l3.7 0 0.2-2.9-0.7-3.9-4.6-16.4-2.4-13.6-1.8-18.3-1-25.2-0.3-28.1 0.1-34.8 1.8-77.4 1.7-42.6 1.7-30.9 1.8-24.9 2.3-25.4 2.5-20.5 2.7-14.4 2.2-7 1.6-2.8 1.6-1 1.6 0.8 1.6 2.3 1.6 3.8 1.6 5.1 3.3 13.7 6.4 37.6 11.3 77.7 4.8 29.6 3.3 15.3 1.6 5.5 1.6 3.4 1.6 1 1.6-1.6 1.6-4.2 3.3-14.5 13.4-83.4 4.3-22.6 3.2-13.5 3.3-10 1.6-3.4 1.6-2.4 1.6-1.2 1.6 0 1.6 1.1 1.6 2.3 1.6 3.6 1.7 4.8 3.2 13.1 3.2 17.6 3.2 21.7 6.5 53 13.7 127.5 3.3 27.1 3.1 20.3 2.7 14.5 2.9 12.6 2.8 9.6 5.9 17.5 0.4 2.9-0.3 1.9 3.8 0 0.7-2.9-0.3-3.9-2.7-15.5-1-11.6-0.4-13.5-0.1-55.2-2-52.2-27.7-488.4-4.8-79.4-4.9-71-4.8-59.7-3.2-32.2-3.2-25.7-3.3-18.9-3.2-12.1-1.6-3.6-1.6-2-1.6-0.5-1.6 0.8-1.7 2.1-3.2 7.3-3.2 10.6-8.1 31.6-4.8 15.3-1.6 3.4-1.6 2.4-1.7 1.2-1.6-0.2-1.6-1.5-1.6-3.1-2.5-7.8-3.9-19.8-3.3-23.1-4.2-38.4-64.5 0-4.5 100.6-3.4 89-2.6 85.2-1.8 77.4-1.1 73.5-0.4 73.5 0.3 69.7 0.9 65.8 1.8 65.8 2.4 58 2.6 46.5 3.4 42.5 3.8 34.9 3.8 23.2 4.4 19.3 5.1 15.5 9.2 21.3 0.8 2.9zM1723.9 2139l3.4 0 1.2-1.9 0.5-13.6 0.7-3.8 1.1-3.3 1.6-2.5 1.6-1.4 1.6-0.6 1.6-0.1 1.6 0.3 3.3 1.5 6.4 5.4 4.9 5 4.8 6.1 3 5 1.4 3.9 3.4 0-0.6-3.9-1.5-3.8-11.5-21.3-6.1-12.6-5-12.6-10.5-28.6-1.6-3.4-1.7-2.3-1.6-0.7-1.6 1.6-0.9 2.5-1.9 8.7-1.6 13.5-0.7 12.6 0 10.6 0.6 8.7 1.3 9.7 3.4 16.5 0.1 2.9zM1872.3 2139l22.2 0-1.8-1-3.9-4.3-3.2-2.6-3.2-1.8-3.2-0.7-1.6 0.5-1.2 1.2-2.2 6.8-0.5 0.9z" fill="#62AE97" stroke="#62AE97" stroke-width="0.6" fill-rule="evenodd"/>
<path d="M1673 2139l3.6 0 0.6-1.9-0.1-3.9-1.7-12.6-0.4-8.7 0.7-11.6 1.8-12 2.1-8.3 2.8-7.4 1.6-2.7 1.6-1.7 1.6-0.8 1.6 0.1 1.6 0.8 1.7 1.5 1.6 2.1 3.2 5.6 4.8 10.8 17.4 42 1.5 4.8 0.2 2-0.3 1.9 3.4 0 0.7-1.9-0.1-2.9-3.4-16.5-1.3-9.7-0.6-8.7 0-10.6 0.7-12.6 1.6-13.5 1.9-8.7 0.9-2.5 1.6-1.6 1.6 0.7 1.7 2.3 1.6 3.4 10.5 28.6 5 12.6 6.1 12.6 11.5 21.3 1.5 3.8 0.6 3.9 3.4 0 0.3-1.9-0.7-3.9-5.8-17.4-2.8-11.6-1.8-12.6-0.6-12.6 0.6-16.4 1-8.7 1.3-6.8 2.1-7.2 1.6-3.2 1.7-1.8 1.6-0.6 1.6 0.4 1.6 1.2 1.6 2 4.8 9.6 17.1 48 6.6 15.4 10.5 21.3 1.3 3.9 0.3 2.9 3.6 0 0.3-1.9-0.9-4.9-5.7-16.4-3.2-11.6-3-13.6-3-17.4-5.9-45.5-13.1-122.6-4.9-40.9-3.2-23.4-3.2-19.7-3.2-15.4-3.3-10.8-1.6-3.6-1.6-2.3-1.6-1.1-1.6 0-1.6 1.2-1.6 2.4-1.6 3.4-3.3 10-3.2 13.5-4.3 22.6-13.4 83.4-3.3 14.5-1.6 4.2-1.6 1.6-1.6-1-1.6-3.4-1.6-5.5-3.3-15.3-4.8-29.6-11.3-77.7-6.4-37.6-3.3-13.7-1.6-5.1-1.6-3.8-1.6-2.3-1.6-0.8-1.6 1-1.6 2.8-1.7 4.9-1.6 7.1-2.8 18.3-2 18.4-2.9 35.7-2 34.2-1.6 37.1-1.3 44.8-0.9 73.6 0.2 29 0.8 22.2 1.1 15.5 1.6 12.6 2.3 11.6 4.5 16.5 0.4 2.9z" fill="#83BE6F" stroke="#83BE6F" stroke-width="0.6" fill-rule="evenodd"/>
<path d="M1676.6 2139l3.6 0 0.8-1 0.5-2.9 0.7-12.5 0.9-3.9 1.4-3.9 2.7-4.1 1.6-1.3 3.3-1 3.2 0.7 3.2 1.9 3.2 2.8 4.9 5.4 4.8 6.5 3.4 5.6 1.7 3.8 0.6 3.9 3.4 0 0.3-1-0.2-2.9-1.5-4.8-20.6-49.4-4.8-9-3.3-3.6-1.6-0.8-1.6-0.1-1.6 0.8-1.6 1.7-1.6 2.7-3.2 8.9-2.3 10.1-1.3 9.7-0.6 10.6 0.5 9.7 1.7 13.5-0.1 2.9zM1769.4 2139l3.4 0 0.8-1.9-0.1-2.9-1.7-14.5 0.1-5.9 0.8-4.6 1.6-4 1.6-2 1.6-0.9 1.7-0.2 1.6 0.3 3.2 1.7 4.8 4.4 8.1 9.6 8.1 10.9 3 5.2 1.7 4.8 3.6 0-0.3-2.9-1.3-3.9-10.5-21.3-6.6-15.4-17.1-48-4.8-9.6-1.6-2-1.6-1.2-1.6-0.4-1.6 0.6-1.7 1.8-1.6 3.2-2.1 7.2-1.3 6.8-1 8.7-0.6 16.4 0.6 12.6 1.8 12.6 2.8 11.6 5.8 17.4 0.7 3.9z" fill="#B5C04F" stroke="#B5C04F" stroke-width="0.6" fill-rule="evenodd"/>
<path d="M1680.2 2139l3.9 0 1.2-1 2-6.7 1.6-3.9 1.5-2.1 1.7-1.3 3.2-1 3.2 0.4 4.8 2.5 3.3 2.6 3.2 3.5 2 3.1 1.6 3.9 3.7 0-0.6-3.9-1.7-3.8-3.4-5.6-4.8-6.5-4.9-5.4-3.2-2.8-3.2-1.9-3.2-0.7-3.3 1-1.6 1.3-1.6 2.1-1.6 3.1-2 7.6-0.7 13.6zM1772.8 2139l3.7 0 1-1 0.7-1.9 1-6.8 1.3-3.8 1.9-2.4 1.6-0.9 1.6-0.2 1.6 0.1 3.3 1.1 3.2 1.9 3.2 2.6 4.8 5 4.1 6.3 3.9 0-1.3-3.9-2-3.8-4.7-6.9-6.4-8.4-8.1-9.2-3.2-2.7-3.2-1.7-1.6-0.3-1.7 0.2-1.6 0.9-1.6 2-1.8 4.8-0.7 4.8 0 4.8 1.8 16.5-0.2 1.9z" fill="#D8B340" stroke="#D8B340" stroke-width="0.6" fill-rule="evenodd"/>
<path d="M1684.1 2139l4.8 0 2-1 2.8-3.3 1.6-1.3 3.2-0.9 1.6 0.2 3.2 1.2 1.7 1.2 2.4 2.9 1.4 1 4.6 0-2.1-4.8-4.7-5.7-3.3-2.6-3.2-1.9-3.2-0.9-1.6-0.1-3.2 1-2.5 2.4-2 3.9-1.8 6.8-0.5 0.9zM1776.5 2139l4.6 0 2-1 4.1-4.2 3.3-0.8 1.6 0.2 3.2 1.4 3.9 3.4 1.8 1 4.8 0-4.1-6.3-4.8-5-3.2-2.6-3.2-1.9-3.3-1.1-1.6-0.1-1.6 0.2-1.6 0.9-1.6 1.8-1.6 4.4-1.2 7.8z" fill="#EA8F37" stroke="#EA8F37" stroke-width="0.6" fill-rule="evenodd"/>
<path d="M1688.9 2139l19.9 0-1.4-1-2.4-2.9-1.7-1.2-3.2-1.2-1.6-0.2-3.2 0.9-1.6 1.3-2.8 3.3zM1781.1 2139l19.9 0-1.8-1-3.9-3.4-3.2-1.4-1.6-0.2-3.3 0.8-4.1 4.2z" fill="#E2452B" stroke="#E2452B" stroke-width="0.6" fill-rule="evenodd"/>
<path d="M1410.8 2139l1.5-12.6 1.7-9.7 2-7.7 2.5-6.8 3.3-5.8 4.1-4.5 3.8-2.2 4.3-0.8 3.2 0.5 3.2 1.6 3.3 3.1 3.2 4.8 3.2 6.4 3.2 7.6 5.8 15.5 3.4 10.6M2024.3 2139l0.7-1 1-3.8 8.7-46.5 3.6-16.4 2.2-7.3 1.6-3.7 1.6-2.3 1.6-1.1 1.6 0.1 1.6 1.2 2.3 3.4 2.6 5.4 8 20.8 3.3 6.4 3.9 6.1 2.3 4.8 2.1 6.8 1.7 7.8 1.5 10.6 0.8 8.7M2146.7 2139l-4.3-18.4-3.4-20.3-2.7-23.2-1.8-25.2-0.9-26.1 0-26.1 1.1-31 1.9-30.9 4.2-46.5 5.2-46.4 6.6-50.3 6.7-42.6 5.4-28.4 3.2-13.9 3.2-11.5 1.6-4.7 3.3-7.4 1.6-2.6 3.2-3.1 1.6-0.7 1.6 0 3.2 1.6 4.1 4.9 4 7.4 3.5 8.1 4.6 12.7 1.6 7.6 1.6 13.1 2.5 28.5 3.3 50.3 3.2 61.9 3.9 92.5 3.2 58.8 3.3 39.3 1.7 15.5 3.1 21.4M1263 1980.9l3.2-4.3 1.6-3 13-28.1 3.2-5.2 3.2-3.5 1.6-0.8 1.6-0.3 1.6 0.5 1.6 1.2 1.7 1.9 3.2 5.9 4.8 11.1 6.5 18.3 5.8 21.2 4.2 19.4 3.2 20.3 2.1 20.3 1.5 23.2 0.7 25.2 0.4 34.8M1634.7 2139l1.5-1 2.6-6.2 1.6-2.2 1.7-1.2 3.2-0.6 3.2 0.8 4.8 2.8 3.3 3.1 2.2 3.5 1.1 1M1735.7 2139l2.6-1 3.8-2.6 3.2-0.5 3.2 0.8 5.6 3.3M1830 2139l1.8-1 3.8-5.3 1.6-1.4 1.6-0.8 3.3-0.4 3.2 0.8 3.2 1.7 3.2 2.6 3.5 3.8M1915.4 2139l0.4-1.9 0-2.9-3-16.5-1.3-13.5-0.4-15.5 0.3-20.9 3.3-87.3 12.2-298.2 5.4-147 5.2-181.9 3.7-181.9M1466.3 1171.5l12.1 178 11.1 147.1 11.2 127.7 11.6 112.2 8.1 69.7 9.4 73.5 11.6 85.1 9.7 66.8 6.2 37.7 4.7 24.2 4.9 19.4 7.3 21.3 0.4 4.8M1626.7 2139l0.6-1 0.3-2.9-3.5-17.4-0.5-4.8 0.1-4.9 0.6-3.8 1.6-3.8 1.6-1.7 1.7-0.7 1.6 0 3.2 1 3.2 2.2 4.9 4.6 4.8 5.5 8.1 10.2 6.4 9 2.5 4.6 1.2 3.9M1731 2139l1.4-1 0.6-0.9 2.4-6.8 1.8-2.8 1.6-1.1 3.3-0.6 4.8 1.5 4.8 3 3.3 3.1 3.8 5.6M1824.8 2139l0.9-1 0.7-1.9 1-11.6 1.8-6.4 1.6-3.1 1.6-1.9 1.6-1.2 3.2-0.9 3.3 0.5 3.2 1.6 3.2 2.4 4.8 4.7 4.9 5.7 3.7 5.4 2 3.8 0.8 3.9M1905.2 2139l-2-5.8-7.2-14.5-3.7-8.7-3.2-9.7-2.9-11.6-2.7-14.5-2.3-17.4-2.2-21.3-1.8-24.2-2.4-46.5-2.4-61.9-8.6-305.7-5.6-158.3-3.2-71.4-4.4-79.9-3.7-54.8-4.9-61.3M1546.6 1171.5l4.6 150.9 4.8 139.3 4.9 123.9 5 108.4 5 92.8 5 79.3 4.9 65.6 7.8 93.1 1.7 27.1 0.3 14.5-0.5 12.6-0.9 10.7-3.3 26.1-0.4 8.7 0.2 11.6-0.3 1.9-0.6 1M1617.5 2139l-1.5-3.9-3-3.4-3.2-2-3.2-0.7-3.3 0.7-1.6 1-2.1 2.5-2.5 4.8-1.6 1M1727.3 2139l0.9-1 0.5-1.9 0.2-11.6 1.4-6.8 1.4-2.9 1.8-1.9 2.1-1 1.6-0.1 3.2 0.9 3.3 2.1 8 7.4 4.9 5.7 3 4.3 1.6 2.9 1.4 3.9M1820.7 2139l0.7-1.9-0.1-2.9-2.9-17.5-1.1-14.5-0.5-69.6-2.7-63.9-25.3-445.1-6.4-107.2-4.9-71-4.8-59.7-3.2-32.2-3.2-25.7-3.3-18.9-3.2-12.1-1.6-3.6-1.6-2-1.6-0.5-1.6 0.8-1.7 2.1-3.2 7.3-3.2 10.6-8.1 31.6-4.8 15.3-1.6 3.4-1.6 2.4-1.7 1.2-1.6-0.2-1.6-1.5-1.6-3.1-2.5-7.8-3.9-19.8-3.3-23.1-4.2-38.4M1894.5 2139l-1.8-1-3.9-4.3-3.2-2.6-3.2-1.8-3.2-0.7-1.6 0.5-1.2 1.2-2.2 6.8-0.5 0.9-1.4 1M1644.3 1171.5l-4.4 96.8-3.5 92.8-2.8 92.9-1.8 81.3-1.1 81.2-0.2 77.5 0.6 73.5 1.3 69.6 2.2 65.8 2.9 58.1 3.3 46.4 3.8 37.8 3.6 25.1 4.7 22.3 2.7 9.6 3 8.7 9.6 22.3 0.8 2.9 0.3 2.9M1723.9 2139l0.7-1.9-0.1-2.9-3.4-16.5-1.3-9.7-0.6-8.7 0-10.6 0.7-12.6 1.6-13.5 1.9-8.7 0.9-2.5 1.6-1.6 1.6 0.7 1.7 2.3 1.6 3.4 10.5 28.6 5 12.6 6.1 12.6 11.5 21.3 1.5 3.8 0.6 3.9M1816.9 2139l0.2-2.9-0.5-2.9-6.3-18.4-3.6-13.5-2.9-13.6-2.6-15.5-5.8-45.4-13-121.7-4.9-40.9-3.2-23.4-3.2-19.7-3.2-15.4-3.3-10.8-1.6-3.6-1.6-2.3-1.6-1.1-1.6 0-1.6 1.2-1.6 2.4-1.6 3.4-3.3 10-3.2 13.5-4.3 22.6-13.4 83.4-3.3 14.5-1.6 4.2-1.6 1.6-1.6-1-1.6-3.4-1.6-5.5-3.3-15.3-4.8-29.6-11.3-77.7-6.4-37.6-3.3-13.7-1.6-5.1-1.6-3.8-1.6-2.3-1.6-0.8-1.6 1-1.6 2.8-1.7 4.9-1.6 7.1-2.8 18.3-2 18.4-2.9 35.7-2 34.2-1.6 37.1-1.3 44.8-0.9 73.6 0.2 29 0.8 22.2 1.1 15.5 1.6 12.6 2.3 11.6 4.5 16.5 0.4 2.9-0.3 1.9M1720.5 2139l0.3-2.9-1.3-4.9-21-50.3-3.2-6.4-3.2-4.7-1.7-1.5-1.6-0.8-1.6-0.1-1.6 0.8-1.6 1.7-1.6 2.7-1.6 3.8-2.7 9.4-1.8 9.7-0.9 8.7-0.4 8.7 0.5 8.7 1.7 13.5-0.1 2.9-0.5 1M1813.3 2139l-0.3-2.9-1.3-3.9-10.5-21.3-6.6-15.4-17.1-48-4.8-9.6-1.6-2-1.6-1.2-1.6-0.4-1.6 0.6-1.7 1.8-1.6 3.2-2.1 7.2-1.3 6.8-1 8.7-0.6 16.4 0.6 12.6 1.8 12.6 2.8 11.6 5.8 17.4 0.7 3.9-0.3 1.9M1717.1 2139l-0.6-3.9-1.7-3.8-3.4-5.6-4.8-6.5-4.9-5.4-3.2-2.8-3.2-1.9-3.2-0.7-3.3 1-1.6 1.3-1.6 2.1-1.6 3.1-2 7.6-0.7 13.6-1.1 1.9M1809.7 2139l-1.5-4.4-2.4-4.3-5.7-8-6.4-8.3-8.1-8.7-3.2-2.2-3.2-1-1.7 0.2-2.4 1.9-1.6 2.9-1.2 3.8-0.5 4.9 0 4.8 1.8 14.5-0.2 2.9-0.6 1M1713.4 2139l-2.1-4.8-4.7-5.7-3.3-2.6-3.2-1.9-3.2-0.9-1.6-0.1-3.2 1-2.5 2.4-2 3.9-1.8 6.8-0.5 0.9-1.2 1M1805.8 2139l-4.1-6.3-4.8-5-3.2-2.6-3.2-1.9-3.3-1.1-1.6-0.1-1.6 0.2-1.6 0.9-1.6 1.8-1.6 4.4-1.2 7.8-1.5 1.9M1708.8 2139l-1.4-1-2.4-2.9-1.7-1.2-3.2-1.2-1.6-0.2-3.2 0.9-1.6 1.3-2.8 3.3-2 1M1801 2139l-1.8-1-3.9-3.4-3.2-1.4-1.6-0.2-3.3 0.8-4.1 4.2-2 1" fill="none" stroke="#0a1020" stroke-opacity="0.62" stroke-width="1.3" stroke-linejoin="round"/>
<rect x="1465.3" y="1171.2" width="475.8" height="1.8" fill="#fff"/>
<path d="M1465.3 1173.4H1941.0" stroke="#1a2a50" stroke-opacity="0.7" stroke-width="1.2"/>
</g>
<path d="M1746.9 1151.1V2159.5" stroke="#000" stroke-width="2"/>
<path d="M1359.8 2159.5v-12.2M1359.8 1151.1v12.2M1553.3 2159.5v-12.2M1553.3 1151.1v12.2M1746.9 2159.5v-12.2M1746.9 1151.1v12.2M1940.5 2159.5v-12.2M1940.5 1151.1v12.2M2134.0 2159.5v-12.2M2134.0 1151.1v12.2M1263.0 2159.5v-7.9M1263.0 1151.1v7.9M1311.4 2159.5v-7.9M1311.4 1151.1v7.9M1408.2 2159.5v-7.9M1408.2 1151.1v7.9M1456.6 2159.5v-7.9M1456.6 1151.1v7.9M1505.0 2159.5v-7.9M1505.0 1151.1v7.9M1601.7 2159.5v-7.9M1601.7 1151.1v7.9M1650.1 2159.5v-7.9M1650.1 1151.1v7.9M1698.5 2159.5v-7.9M1698.5 1151.1v7.9M1795.3 2159.5v-7.9M1795.3 1151.1v7.9M1843.7 2159.5v-7.9M1843.7 1151.1v7.9M1892.1 2159.5v-7.9M1892.1 1151.1v7.9M1988.9 2159.5v-7.9M1988.9 1151.1v7.9M2037.2 2159.5v-7.9M2037.2 1151.1v7.9M2085.6 2159.5v-7.9M2085.6 1151.1v7.9M2182.4 2159.5v-7.9M2182.4 1151.1v7.9M2230.8 2159.5v-7.9M2230.8 1151.1v7.9M1242.5 2139.0h12.2M2250.8 2139.0h-12.2M1242.5 1945.5h12.2M2250.8 1945.5h-12.2M1242.5 1752.0h12.2M2250.8 1752.0h-12.2M1242.5 1558.5h12.2M2250.8 1558.5h-12.2M1242.5 1365.0h12.2M2250.8 1365.0h-12.2M1242.5 1171.5h12.2M2250.8 1171.5h-12.2M1242.5 2090.6h7.9M2250.8 2090.6h-7.9M1242.5 2042.2h7.9M2250.8 2042.2h-7.9M1242.5 1993.9h7.9M2250.8 1993.9h-7.9M1242.5 1897.1h7.9M2250.8 1897.1h-7.9M1242.5 1848.8h7.9M2250.8 1848.8h-7.9M1242.5 1800.4h7.9M2250.8 1800.4h-7.9M1242.5 1703.6h7.9M2250.8 1703.6h-7.9M1242.5 1655.2h7.9M2250.8 1655.2h-7.9M1242.5 1606.9h7.9M2250.8 1606.9h-7.9M1242.5 1510.1h7.9M2250.8 1510.1h-7.9M1242.5 1461.8h7.9M2250.8 1461.8h-7.9M1242.5 1413.4h7.9M2250.8 1413.4h-7.9M1242.5 1316.6h7.9M2250.8 1316.6h-7.9M1242.5 1268.2h7.9M2250.8 1268.2h-7.9M1242.5 1219.9h7.9M2250.8 1219.9h-7.9" stroke="#000" stroke-width="1.20" fill="none"/>
<rect x="1242.5" y="1151.1" width="1008.3" height="1008.4" fill="none" stroke="#000" stroke-width="1.20"/>
<g font-family="Liberation Sans, sans-serif" font-size="28.0" text-anchor="middle">
<text x="1359.8" y="2196.5">−4</text>
<text x="1553.3" y="2196.5">−2</text>
<text x="1746.9" y="2196.5">0</text>
<text x="1940.5" y="2196.5">2</text>
<text x="2134.0" y="2196.5">4</text>
</g>
<g font-family="Liberation Sans, sans-serif" font-size="28.0" text-anchor="end">
<text x="1233.3" y="2149.0">0.0</text>
<text x="1233.3" y="1955.5">0.2</text>
<text x="1233.3" y="1762.0">0.4</text>
<text x="1233.3" y="1568.5">0.6</text>
<text x="1233.3" y="1375.0">0.8</text>
<text x="1233.3" y="1181.5">1.0</text>
</g>
<text x="1746" y="2252" font-family="Liberation Sans, sans-serif" font-size="26" text-anchor="middle">x</text>
<text transform="translate(1168 1655) rotate(-90)" font-family="Liberation Sans, sans-serif" font-size="26" text-anchor="middle">t</text>
<text transform="translate(1746.8 1082.7) scale(1.045 1)" font-family="Liberation Sans, sans-serif" font-size="32.1" text-anchor="middle"><tspan font-style="italic">β</tspan>= 0.5000 <tspan font-style="italic">α</tspan>= 1.7500 <tspan font-style="italic">μ</tspan>= 0.2500</text>
<text transform="translate(1752.2 1135.8) scale(1.045 1)" font-family="Liberation Sans, sans-serif" font-size="32.1" text-anchor="middle"><tspan font-style="italic">θ</tspan><tspan font-style="italic" font-size="25.0" dy="6.4">α</tspan><tspan dy="-6.4">= 0.1000 </tspan><tspan font-style="italic">θ</tspan><tspan font-style="italic" font-size="25.0" dy="6.4">μ</tspan><tspan dy="-6.4">= 0.0000</tspan></text>
<text x="571.9" y="950.4" font-family="Liberation Serif, DejaVu Serif, serif" font-weight="bold" font-size="84" text-anchor="middle">(a)</text>
<text x="1698.4" y="950.4" font-family="Liberation Serif, DejaVu Serif, serif" font-weight="bold" font-size="84" text-anchor="middle">(b)</text>
<text x="571.9" y="2350.5" font-family="Liberation Serif, DejaVu Serif, serif" font-weight="bold" font-size="84" text-anchor="middle">(c)</text>
<text x="1698.4" y="2350.5" font-family="Liberation Serif, DejaVu Serif, serif" font-weight="bold" font-size="84" text-anchor="middle">(d)</text>
</svg></body></html>
